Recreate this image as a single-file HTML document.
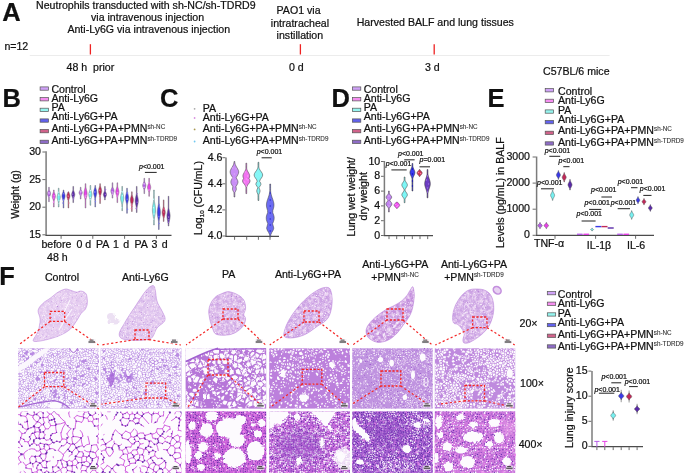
<!DOCTYPE html><html><head><meta charset="utf-8"><style>html,body{margin:0;padding:0;background:#fff;overflow:hidden}body{width:685px;height:473px}svg{display:block;will-change:transform}text{font-family:"Liberation Sans",sans-serif;stroke:#111;stroke-width:0.22px}</style></head><body><svg width="685" height="473" viewBox="0 0 685 473" font-family="Liberation Sans, sans-serif" font-size="10.6" fill="#111"><defs><clipPath id="c1_0"><rect x="18.0" y="348.3" width="81.0" height="60.3"/></clipPath><clipPath id="c2_0"><rect x="18.0" y="411.4" width="81.0" height="62.0"/></clipPath><clipPath id="c1_1"><rect x="100.7" y="348.3" width="80.8" height="60.3"/></clipPath><clipPath id="c2_1"><rect x="100.7" y="411.4" width="80.8" height="62.0"/></clipPath><clipPath id="c1_2"><rect x="185.6" y="348.3" width="80.6" height="60.3"/></clipPath><clipPath id="c2_2"><rect x="185.6" y="411.4" width="80.6" height="62.0"/></clipPath><clipPath id="c1_3"><rect x="269.2" y="348.3" width="80.8" height="60.3"/></clipPath><clipPath id="c2_3"><rect x="269.2" y="411.4" width="80.8" height="62.0"/></clipPath><clipPath id="c1_4"><rect x="352.2" y="348.3" width="80.5" height="60.3"/></clipPath><clipPath id="c2_4"><rect x="352.2" y="411.4" width="80.5" height="62.0"/></clipPath><clipPath id="c1_5"><rect x="434.8" y="348.3" width="80.4" height="60.3"/></clipPath><clipPath id="c2_5"><rect x="434.8" y="411.4" width="80.4" height="62.0"/></clipPath><filter id="rough" x="-0.1" y="-0.1" width="1.2" height="1.2"><feTurbulence type="fractalNoise" baseFrequency="0.35" numOctaves="2" seed="7"/><feDisplacementMap in="SourceGraphic" scale="3.5" xChannelSelector="R" yChannelSelector="G"/></filter><filter id="goo" x="-0.05" y="-0.05" width="1.1" height="1.1"><feGaussianBlur stdDeviation="0.55"/><feComponentTransfer><feFuncA type="linear" slope="5" intercept="-2.1"/></feComponentTransfer></filter><filter id="org" x="-0.05" y="-0.05" width="1.1" height="1.1"><feTurbulence type="fractalNoise" baseFrequency="0.5" numOctaves="1" seed="3"/><feDisplacementMap in="SourceGraphic" scale="2.2" xChannelSelector="R" yChannelSelector="G"/><feGaussianBlur stdDeviation="0.3"/></filter><filter id="soft" x="-0.05" y="-0.05" width="1.1" height="1.1"><feGaussianBlur stdDeviation="0.35"/></filter><filter id="blur1" x="-0.5" y="-0.5" width="2" height="2"><feGaussianBlur stdDeviation="1"/></filter><filter id="blur2" x="-0.5" y="-0.5" width="2" height="2"><feGaussianBlur stdDeviation="2"/></filter><filter id="blur4" x="-0.5" y="-0.5" width="2" height="2"><feGaussianBlur stdDeviation="4"/></filter><pattern id="holesPA" width="36" height="36" patternUnits="userSpaceOnUse"><g fill="#fdfbfe"><circle cx="3.1" cy="8.5" r="1.33"/><circle cx="28.8" cy="21.0" r="0.86"/><circle cx="3.4" cy="15.6" r="0.95"/><circle cx="17.2" cy="5.8" r="0.64"/><circle cx="26.4" cy="4.1" r="1.50"/><circle cx="14.1" cy="18.6" r="0.81"/><circle cx="26.6" cy="34.4" r="1.48"/><circle cx="25.1" cy="10.5" r="0.95"/><circle cx="0.1" cy="-1.0" r="1.21"/><circle cx="0.1" cy="35.0" r="1.21"/><circle cx="36.1" cy="-1.0" r="1.21"/><circle cx="36.1" cy="35.0" r="1.21"/><circle cx="10.7" cy="11.3" r="1.10"/><circle cx="32.1" cy="21.1" r="1.39"/><circle cx="17.0" cy="27.8" r="1.21"/><circle cx="13.5" cy="3.3" r="1.41"/><circle cx="24.6" cy="29.5" r="1.24"/><circle cx="31.6" cy="3.7" r="1.05"/><circle cx="30.6" cy="14.2" r="0.78"/><circle cx="31.4" cy="9.9" r="1.33"/><circle cx="20.2" cy="14.4" r="0.73"/><circle cx="22.1" cy="7.1" r="1.00"/><circle cx="6.5" cy="26.9" r="0.81"/><circle cx="33.2" cy="7.4" r="1.32"/><circle cx="21.8" cy="34.9" r="1.06"/><circle cx="28.3" cy="28.4" r="0.61"/><circle cx="7.7" cy="19.6" r="1.36"/><circle cx="21.2" cy="24.1" r="1.46"/><circle cx="24.1" cy="18.8" r="1.44"/><circle cx="17.3" cy="19.3" r="0.82"/><circle cx="0.7" cy="19.0" r="1.21"/><circle cx="36.7" cy="19.0" r="1.21"/><circle cx="14.0" cy="13.7" r="1.02"/><circle cx="34.1" cy="30.3" r="1.18"/><circle cx="17.4" cy="12.3" r="1.22"/><circle cx="21.0" cy="3.8" r="0.94"/><circle cx="14.6" cy="24.0" r="0.77"/><circle cx="12.0" cy="7.1" r="1.32"/><circle cx="-0.0" cy="5.2" r="1.24"/><circle cx="36.0" cy="5.2" r="1.24"/><circle cx="19.3" cy="31.7" r="1.45"/><circle cx="14.6" cy="9.5" r="1.33"/><circle cx="0.0" cy="12.3" r="1.24"/><circle cx="36.0" cy="12.3" r="1.24"/><circle cx="27.7" cy="24.7" r="0.96"/><circle cx="31.6" cy="24.6" r="1.03"/><circle cx="28.3" cy="17.3" r="0.96"/><circle cx="2.8" cy="31.2" r="0.98"/><circle cx="31.5" cy="-1.4" r="1.44"/><circle cx="31.5" cy="34.6" r="1.44"/><circle cx="6.0" cy="22.2" r="1.49"/><circle cx="32.8" cy="18.0" r="1.34"/><circle cx="6.7" cy="-0.2" r="0.96"/><circle cx="6.7" cy="35.8" r="0.96"/><circle cx="15.4" cy="33.9" r="1.37"/><circle cx="4.3" cy="34.0" r="0.73"/><circle cx="29.8" cy="6.5" r="0.83"/><circle cx="0.7" cy="2.0" r="1.10"/><circle cx="36.7" cy="2.0" r="1.10"/><circle cx="2.7" cy="21.4" r="1.38"/><circle cx="7.9" cy="5.6" r="1.00"/><circle cx="12.5" cy="21.3" r="0.60"/><circle cx="17.7" cy="16.2" r="0.91"/><circle cx="28.3" cy="1.4" r="1.01"/><circle cx="4.2" cy="11.7" r="1.37"/><circle cx="19.1" cy="9.1" r="1.31"/><circle cx="9.4" cy="2.4" r="1.13"/><circle cx="12.0" cy="-0.3" r="1.05"/><circle cx="12.0" cy="35.7" r="1.05"/><circle cx="7.8" cy="10.2" r="1.23"/><circle cx="21.3" cy="17.5" r="0.64"/><circle cx="11.0" cy="31.5" r="0.79"/><circle cx="29.9" cy="31.2" r="0.64"/><circle cx="7.6" cy="15.0" r="1.14"/><circle cx="20.4" cy="20.6" r="0.93"/><circle cx="28.6" cy="11.3" r="1.21"/><circle cx="17.6" cy="24.6" r="1.45"/><circle cx="-0.9" cy="21.5" r="1.24"/><circle cx="35.1" cy="21.5" r="1.24"/><circle cx="16.8" cy="2.0" r="1.34"/><circle cx="0.3" cy="15.4" r="1.38"/><circle cx="36.3" cy="15.4" r="1.38"/><circle cx="10.7" cy="15.7" r="1.25"/><circle cx="0.8" cy="28.8" r="0.88"/><circle cx="36.8" cy="28.8" r="0.88"/><circle cx="3.7" cy="1.4" r="0.65"/><circle cx="25.1" cy="7.2" r="1.08"/></g></pattern><pattern id="holesS" width="30" height="30" patternUnits="userSpaceOnUse"><g fill="#fdfbfe"><circle cx="28.3" cy="15.3" r="0.54"/><circle cx="29.3" cy="2.4" r="0.56"/><circle cx="24.1" cy="5.2" r="0.72"/><circle cx="26.1" cy="16.3" r="0.72"/><circle cx="12.9" cy="23.7" r="0.38"/><circle cx="29.1" cy="27.9" r="0.89"/><circle cx="21.1" cy="28.3" r="0.38"/><circle cx="20.0" cy="4.0" r="0.82"/><circle cx="14.9" cy="14.8" r="0.70"/><circle cx="15.0" cy="28.8" r="0.45"/><circle cx="10.5" cy="6.7" r="0.77"/><circle cx="15.7" cy="19.2" r="0.41"/><circle cx="14.3" cy="6.5" r="0.59"/><circle cx="20.8" cy="23.1" r="0.53"/><circle cx="5.7" cy="13.8" r="0.84"/><circle cx="26.5" cy="11.5" r="0.65"/><circle cx="24.6" cy="8.3" r="0.84"/><circle cx="11.3" cy="10.4" r="0.52"/><circle cx="3.2" cy="11.8" r="0.83"/><circle cx="23.6" cy="18.7" r="0.48"/><circle cx="2.1" cy="21.0" r="0.59"/><circle cx="11.1" cy="15.0" r="0.73"/><circle cx="10.1" cy="19.0" r="0.89"/><circle cx="1.9" cy="6.8" r="0.49"/><circle cx="20.0" cy="14.6" r="0.50"/><circle cx="28.0" cy="17.7" r="0.58"/><circle cx="2.8" cy="4.4" r="0.83"/><circle cx="20.8" cy="9.7" r="0.71"/><circle cx="22.7" cy="15.3" r="0.47"/><circle cx="5.5" cy="8.5" r="0.89"/><circle cx="27.2" cy="24.4" r="0.64"/><circle cx="1.9" cy="23.7" r="0.57"/><circle cx="2.5" cy="28.2" r="0.46"/><circle cx="7.0" cy="16.1" r="0.52"/><circle cx="24.9" cy="-0.4" r="0.81"/><circle cx="24.9" cy="29.6" r="0.81"/><circle cx="27.8" cy="20.8" r="0.75"/><circle cx="28.0" cy="0.6" r="0.61"/><circle cx="28.0" cy="30.6" r="0.61"/><circle cx="29.0" cy="5.1" r="0.44"/><circle cx="18.7" cy="7.7" r="0.88"/><circle cx="26.9" cy="4.0" r="0.40"/><circle cx="17.6" cy="26.7" r="0.80"/><circle cx="24.3" cy="21.2" r="0.87"/><circle cx="4.2" cy="24.2" r="0.45"/><circle cx="7.5" cy="7.7" r="0.41"/><circle cx="7.6" cy="18.8" r="0.51"/><circle cx="5.8" cy="21.2" r="0.60"/><circle cx="9.9" cy="1.0" r="0.67"/><circle cx="12.1" cy="12.6" r="0.88"/><circle cx="16.8" cy="22.8" r="0.67"/><circle cx="15.3" cy="25.6" r="0.90"/><circle cx="10.7" cy="21.6" r="0.83"/><circle cx="7.7" cy="4.9" r="0.60"/><circle cx="0.8" cy="-0.2" r="0.83"/><circle cx="0.8" cy="29.8" r="0.83"/><circle cx="30.8" cy="-0.2" r="0.83"/><circle cx="30.8" cy="29.8" r="0.83"/><circle cx="4.9" cy="27.4" r="0.79"/><circle cx="7.0" cy="0.1" r="0.47"/><circle cx="7.0" cy="30.1" r="0.47"/><circle cx="0.4" cy="25.9" r="0.39"/><circle cx="30.4" cy="25.9" r="0.39"/><circle cx="19.3" cy="0.8" r="0.87"/><circle cx="19.3" cy="30.8" r="0.87"/><circle cx="6.2" cy="11.2" r="0.73"/><circle cx="28.8" cy="22.9" r="0.79"/><circle cx="0.1" cy="13.8" r="0.54"/><circle cx="30.1" cy="13.8" r="0.54"/><circle cx="21.0" cy="17.6" r="0.82"/><circle cx="2.7" cy="15.9" r="0.77"/><circle cx="6.6" cy="23.4" r="0.77"/><circle cx="17.2" cy="5.9" r="0.75"/><circle cx="24.6" cy="2.7" r="0.56"/><circle cx="16.6" cy="0.4" r="0.37"/><circle cx="16.6" cy="30.4" r="0.37"/><circle cx="5.5" cy="4.3" r="0.86"/><circle cx="21.0" cy="20.8" r="0.41"/><circle cx="18.3" cy="20.3" r="0.77"/><circle cx="26.9" cy="7.7" r="0.86"/><circle cx="12.7" cy="17.4" r="0.65"/><circle cx="15.4" cy="9.0" r="0.49"/><circle cx="0.2" cy="17.2" r="0.69"/><circle cx="30.2" cy="17.2" r="0.69"/><circle cx="9.5" cy="9.0" r="0.64"/><circle cx="4.2" cy="-0.2" r="0.76"/><circle cx="4.2" cy="29.8" r="0.76"/><circle cx="12.5" cy="8.1" r="0.83"/><circle cx="25.1" cy="23.7" r="0.49"/><circle cx="19.9" cy="26.3" r="0.43"/><circle cx="18.7" cy="24.0" r="0.81"/><circle cx="11.2" cy="25.4" r="0.46"/><circle cx="6.9" cy="25.8" r="0.52"/></g></pattern><pattern id="nuc" width="24" height="24" patternUnits="userSpaceOnUse"><g fill="#5e2ca6"><circle cx="19.3" cy="19.4" r="0.69"/><circle cx="12.4" cy="6.9" r="0.49"/><circle cx="1.3" cy="9.2" r="0.68"/><circle cx="9.8" cy="1.1" r="0.67"/><circle cx="1.2" cy="-0.0" r="0.56"/><circle cx="1.2" cy="24.0" r="0.56"/><circle cx="15.7" cy="5.6" r="0.50"/><circle cx="10.4" cy="23.4" r="0.55"/><circle cx="21.5" cy="20.3" r="0.59"/><circle cx="16.2" cy="1.5" r="0.61"/><circle cx="16.3" cy="20.9" r="0.47"/><circle cx="5.5" cy="21.5" r="0.43"/><circle cx="12.1" cy="10.5" r="0.57"/><circle cx="4.9" cy="7.8" r="0.70"/><circle cx="19.3" cy="7.6" r="0.57"/><circle cx="3.6" cy="16.8" r="0.49"/><circle cx="10.8" cy="19.2" r="0.48"/><circle cx="19.2" cy="12.2" r="0.48"/><circle cx="0.3" cy="22.4" r="0.42"/><circle cx="24.3" cy="22.4" r="0.42"/><circle cx="8.8" cy="22.8" r="0.50"/><circle cx="16.4" cy="11.1" r="0.67"/><circle cx="5.3" cy="15.4" r="0.64"/><circle cx="15.2" cy="9.0" r="0.58"/><circle cx="19.2" cy="4.7" r="0.68"/><circle cx="9.1" cy="17.1" r="0.60"/><circle cx="14.7" cy="22.6" r="0.54"/><circle cx="-0.2" cy="17.4" r="0.47"/><circle cx="23.8" cy="17.4" r="0.47"/><circle cx="22.2" cy="7.9" r="0.71"/><circle cx="-0.3" cy="4.5" r="0.60"/><circle cx="23.7" cy="4.5" r="0.60"/><circle cx="3.4" cy="12.7" r="0.62"/><circle cx="6.2" cy="11.8" r="0.55"/><circle cx="13.3" cy="2.6" r="0.54"/><circle cx="21.4" cy="11.5" r="0.71"/><circle cx="10.9" cy="16.0" r="0.62"/><circle cx="19.0" cy="9.6" r="0.68"/><circle cx="14.3" cy="17.7" r="0.46"/><circle cx="12.1" cy="17.4" r="0.46"/><circle cx="11.9" cy="1.2" r="0.70"/><circle cx="1.0" cy="12.7" r="0.47"/><circle cx="17.5" cy="12.6" r="0.59"/><circle cx="13.5" cy="11.8" r="0.54"/><circle cx="13.3" cy="16.1" r="0.43"/><circle cx="6.3" cy="1.1" r="0.58"/><circle cx="1.6" cy="4.6" r="0.65"/><circle cx="17.6" cy="6.0" r="0.53"/><circle cx="2.2" cy="22.4" r="0.46"/><circle cx="0.0" cy="1.5" r="0.55"/><circle cx="24.0" cy="1.5" r="0.55"/><circle cx="5.2" cy="10.0" r="0.68"/><circle cx="21.4" cy="5.8" r="0.60"/><circle cx="7.7" cy="15.0" r="0.53"/><circle cx="1.4" cy="6.7" r="0.65"/><circle cx="19.2" cy="0.5" r="0.70"/><circle cx="19.2" cy="24.5" r="0.70"/><circle cx="21.4" cy="22.8" r="0.65"/><circle cx="16.4" cy="18.9" r="0.55"/><circle cx="11.4" cy="21.1" r="0.61"/><circle cx="4.4" cy="20.1" r="0.57"/><circle cx="17.6" cy="-0.2" r="0.49"/><circle cx="17.6" cy="23.8" r="0.49"/><circle cx="14.1" cy="4.4" r="0.53"/><circle cx="15.6" cy="14.0" r="0.52"/><circle cx="10.2" cy="5.2" r="0.52"/><circle cx="13.6" cy="13.8" r="0.71"/><circle cx="11.0" cy="3.6" r="0.71"/><circle cx="6.7" cy="17.7" r="0.58"/><circle cx="22.6" cy="9.6" r="0.59"/><circle cx="7.0" cy="22.3" r="0.68"/><circle cx="8.6" cy="2.5" r="0.70"/><circle cx="1.5" cy="18.3" r="0.55"/><circle cx="1.9" cy="1.7" r="0.71"/><circle cx="3.2" cy="14.9" r="0.66"/><circle cx="21.6" cy="14.3" r="0.64"/><circle cx="3.1" cy="6.2" r="0.71"/><circle cx="20.0" cy="16.9" r="0.54"/><circle cx="6.5" cy="6.4" r="0.44"/><circle cx="14.0" cy="0.2" r="0.69"/><circle cx="14.0" cy="24.2" r="0.69"/><circle cx="4.4" cy="1.7" r="0.60"/><circle cx="0.5" cy="15.0" r="0.60"/><circle cx="24.5" cy="15.0" r="0.60"/><circle cx="19.9" cy="15.0" r="0.51"/><circle cx="7.1" cy="3.3" r="0.61"/><circle cx="18.2" cy="2.2" r="0.48"/><circle cx="7.8" cy="12.9" r="0.54"/><circle cx="8.6" cy="7.9" r="0.66"/><circle cx="12.2" cy="5.0" r="0.45"/><circle cx="11.6" cy="12.4" r="0.69"/><circle cx="17.0" cy="9.5" r="0.43"/><circle cx="5.0" cy="18.2" r="0.50"/><circle cx="17.6" cy="7.8" r="0.48"/><circle cx="18.1" cy="18.0" r="0.43"/><circle cx="17.9" cy="14.3" r="0.47"/><circle cx="20.2" cy="21.5" r="0.43"/><circle cx="6.4" cy="19.7" r="0.70"/><circle cx="13.4" cy="8.5" r="0.66"/><circle cx="20.0" cy="3.1" r="0.60"/><circle cx="12.2" cy="22.8" r="0.59"/><circle cx="3.4" cy="4.2" r="0.66"/><circle cx="22.7" cy="12.9" r="0.52"/><circle cx="6.8" cy="8.1" r="0.45"/><circle cx="13.3" cy="21.4" r="0.66"/><circle cx="7.6" cy="0.0" r="0.68"/><circle cx="7.6" cy="24.0" r="0.68"/><circle cx="5.7" cy="13.5" r="0.46"/><circle cx="3.3" cy="10.2" r="0.68"/></g></pattern><pattern id="nuc2" width="24" height="24" patternUnits="userSpaceOnUse"><g fill="#6a32b2"><circle cx="12.9" cy="8.2" r="0.75"/><circle cx="8.9" cy="9.0" r="0.69"/><circle cx="16.2" cy="7.9" r="0.58"/><circle cx="16.3" cy="3.0" r="0.48"/><circle cx="1.2" cy="20.4" r="0.52"/><circle cx="0.2" cy="23.5" r="0.51"/><circle cx="24.2" cy="23.5" r="0.51"/><circle cx="19.8" cy="18.8" r="0.69"/><circle cx="1.2" cy="5.0" r="0.53"/><circle cx="20.4" cy="10.4" r="0.63"/><circle cx="4.5" cy="11.9" r="0.72"/><circle cx="18.2" cy="13.0" r="0.56"/><circle cx="10.0" cy="21.3" r="0.46"/><circle cx="10.9" cy="12.9" r="0.57"/><circle cx="23.3" cy="6.6" r="0.64"/><circle cx="21.5" cy="8.7" r="0.63"/><circle cx="7.5" cy="21.2" r="0.49"/><circle cx="19.9" cy="21.5" r="0.48"/><circle cx="19.2" cy="23.4" r="0.59"/><circle cx="6.6" cy="10.8" r="0.74"/><circle cx="7.5" cy="18.8" r="0.56"/><circle cx="17.4" cy="19.4" r="0.67"/><circle cx="3.7" cy="23.0" r="0.58"/><circle cx="2.0" cy="17.6" r="0.58"/><circle cx="19.6" cy="4.8" r="0.62"/><circle cx="11.1" cy="3.0" r="0.64"/><circle cx="14.1" cy="23.2" r="0.63"/><circle cx="2.8" cy="13.8" r="0.49"/><circle cx="13.2" cy="20.9" r="0.47"/><circle cx="17.0" cy="10.8" r="0.57"/><circle cx="16.6" cy="4.8" r="0.47"/><circle cx="13.4" cy="18.3" r="0.53"/><circle cx="0.3" cy="9.2" r="0.65"/><circle cx="24.3" cy="9.2" r="0.65"/><circle cx="5.7" cy="1.0" r="0.51"/><circle cx="14.5" cy="6.0" r="0.51"/><circle cx="12.5" cy="14.9" r="0.50"/><circle cx="21.5" cy="22.5" r="0.74"/><circle cx="6.3" cy="5.9" r="0.54"/><circle cx="1.6" cy="7.8" r="0.53"/><circle cx="15.4" cy="21.0" r="0.50"/><circle cx="22.9" cy="17.7" r="0.72"/><circle cx="19.3" cy="8.3" r="0.58"/><circle cx="5.0" cy="14.8" r="0.73"/><circle cx="6.9" cy="3.7" r="0.58"/><circle cx="1.4" cy="11.1" r="0.54"/><circle cx="3.9" cy="4.0" r="0.70"/><circle cx="16.4" cy="22.7" r="0.73"/><circle cx="20.7" cy="13.2" r="0.45"/><circle cx="18.3" cy="16.2" r="0.66"/><circle cx="0.2" cy="2.6" r="0.48"/><circle cx="24.2" cy="2.6" r="0.48"/><circle cx="14.4" cy="3.6" r="0.57"/><circle cx="14.4" cy="16.5" r="0.70"/><circle cx="7.8" cy="14.0" r="0.66"/><circle cx="9.9" cy="0.7" r="0.53"/><circle cx="15.5" cy="12.1" r="0.71"/><circle cx="23.0" cy="20.7" r="0.50"/><circle cx="22.6" cy="3.6" r="0.47"/><circle cx="11.8" cy="6.0" r="0.46"/><circle cx="5.3" cy="20.3" r="0.67"/><circle cx="8.4" cy="5.4" r="0.68"/><circle cx="10.0" cy="7.2" r="0.46"/><circle cx="17.5" cy="1.0" r="0.73"/><circle cx="12.9" cy="2.4" r="0.70"/><circle cx="12.2" cy="10.6" r="0.64"/><circle cx="20.9" cy="0.4" r="0.70"/><circle cx="20.9" cy="24.4" r="0.70"/><circle cx="8.7" cy="11.0" r="0.73"/><circle cx="7.8" cy="0.0" r="0.53"/><circle cx="7.8" cy="24.0" r="0.53"/><circle cx="3.2" cy="1.0" r="0.66"/><circle cx="13.5" cy="13.1" r="0.50"/><circle cx="21.2" cy="6.2" r="0.75"/><circle cx="22.7" cy="1.0" r="0.55"/><circle cx="11.2" cy="18.1" r="0.48"/><circle cx="16.6" cy="17.6" r="0.69"/><circle cx="12.0" cy="23.1" r="0.52"/><circle cx="17.7" cy="6.8" r="0.66"/></g></pattern><pattern id="wsp" width="20" height="20" patternUnits="userSpaceOnUse"><g fill="#fdfbfe"><circle cx="15.5" cy="4.5" r="0.59"/><circle cx="10.1" cy="11.1" r="0.52"/><circle cx="12.4" cy="-0.2" r="0.38"/><circle cx="12.4" cy="19.8" r="0.38"/><circle cx="4.3" cy="3.2" r="0.68"/><circle cx="12.6" cy="10.3" r="0.63"/><circle cx="9.9" cy="5.0" r="0.65"/><circle cx="0.2" cy="3.8" r="0.66"/><circle cx="20.2" cy="3.8" r="0.66"/><circle cx="6.5" cy="3.0" r="0.50"/><circle cx="-0.4" cy="11.8" r="0.67"/><circle cx="19.6" cy="11.8" r="0.67"/><circle cx="12.1" cy="12.8" r="0.37"/><circle cx="8.0" cy="1.9" r="0.74"/><circle cx="13.4" cy="6.0" r="0.44"/><circle cx="17.5" cy="13.2" r="0.60"/><circle cx="18.9" cy="18.1" r="0.72"/><circle cx="3.8" cy="18.6" r="0.43"/><circle cx="6.4" cy="15.0" r="0.42"/><circle cx="4.0" cy="7.3" r="0.64"/><circle cx="19.0" cy="8.9" r="0.35"/><circle cx="14.9" cy="11.6" r="0.66"/><circle cx="5.0" cy="16.1" r="0.60"/><circle cx="9.3" cy="12.6" r="0.64"/><circle cx="15.3" cy="16.3" r="0.50"/><circle cx="14.6" cy="2.3" r="0.40"/><circle cx="4.3" cy="4.9" r="0.57"/><circle cx="2.6" cy="2.7" r="0.62"/><circle cx="18.1" cy="5.4" r="0.61"/><circle cx="5.3" cy="10.7" r="0.65"/><circle cx="11.0" cy="14.4" r="0.66"/><circle cx="12.0" cy="1.3" r="0.64"/><circle cx="1.8" cy="19.3" r="0.40"/><circle cx="11.9" cy="4.4" r="0.44"/><circle cx="4.9" cy="12.9" r="0.36"/><circle cx="9.8" cy="2.8" r="0.44"/><circle cx="1.3" cy="11.9" r="0.49"/><circle cx="17.3" cy="17.3" r="0.55"/><circle cx="18.0" cy="7.2" r="0.74"/><circle cx="16.6" cy="6.0" r="0.73"/><circle cx="8.3" cy="6.4" r="0.54"/><circle cx="7.1" cy="9.8" r="0.57"/><circle cx="16.2" cy="1.1" r="0.66"/></g></pattern><pattern id="wsp2" width="22" height="22" patternUnits="userSpaceOnUse"><g fill="#fdfbfe"><circle cx="4.2" cy="3.9" r="0.75"/><circle cx="1.4" cy="20.6" r="0.72"/><circle cx="17.1" cy="4.4" r="0.65"/><circle cx="3.0" cy="16.8" r="0.73"/><circle cx="9.2" cy="7.1" r="0.63"/><circle cx="11.8" cy="12.3" r="0.73"/><circle cx="19.9" cy="6.2" r="0.48"/><circle cx="19.8" cy="11.0" r="0.41"/><circle cx="6.8" cy="15.2" r="0.78"/><circle cx="15.3" cy="17.2" r="0.81"/><circle cx="10.1" cy="17.5" r="0.49"/><circle cx="17.1" cy="6.4" r="0.81"/><circle cx="15.3" cy="5.4" r="0.73"/><circle cx="6.9" cy="12.0" r="0.42"/><circle cx="12.7" cy="7.5" r="0.44"/><circle cx="0.2" cy="4.4" r="0.87"/><circle cx="22.2" cy="4.4" r="0.87"/><circle cx="11.9" cy="3.6" r="0.63"/><circle cx="9.5" cy="12.9" r="0.85"/><circle cx="7.9" cy="20.3" r="0.80"/><circle cx="6.7" cy="8.6" r="0.43"/><circle cx="21.4" cy="-0.3" r="0.47"/><circle cx="21.4" cy="21.7" r="0.47"/><circle cx="17.7" cy="18.0" r="0.52"/><circle cx="14.9" cy="14.1" r="0.65"/><circle cx="9.5" cy="3.7" r="0.76"/><circle cx="1.0" cy="1.1" r="0.41"/><circle cx="3.5" cy="-0.1" r="0.79"/><circle cx="3.5" cy="21.9" r="0.79"/><circle cx="11.9" cy="-0.1" r="0.54"/><circle cx="11.9" cy="21.9" r="0.54"/><circle cx="18.7" cy="8.0" r="0.72"/><circle cx="12.0" cy="5.6" r="0.52"/></g></pattern><pattern id="wsp3" width="22" height="22" patternUnits="userSpaceOnUse"><g fill="#fdfbfe"><circle cx="19.0" cy="18.8" r="0.90"/><circle cx="17.8" cy="5.8" r="0.47"/><circle cx="1.7" cy="20.8" r="0.53"/><circle cx="20.0" cy="-0.3" r="0.70"/><circle cx="20.0" cy="21.7" r="0.70"/><circle cx="11.4" cy="2.6" r="0.97"/><circle cx="17.9" cy="11.0" r="0.94"/><circle cx="-0.5" cy="11.8" r="0.58"/><circle cx="21.5" cy="11.8" r="0.58"/><circle cx="16.2" cy="-0.2" r="0.97"/><circle cx="16.2" cy="21.8" r="0.97"/><circle cx="0.7" cy="13.2" r="0.95"/><circle cx="22.7" cy="13.2" r="0.95"/><circle cx="-0.7" cy="2.6" r="0.98"/><circle cx="21.3" cy="2.6" r="0.98"/><circle cx="16.3" cy="7.1" r="0.77"/><circle cx="14.5" cy="10.0" r="0.89"/><circle cx="2.7" cy="13.3" r="0.82"/><circle cx="16.4" cy="16.4" r="0.59"/><circle cx="12.1" cy="20.4" r="0.54"/><circle cx="20.8" cy="19.2" r="0.56"/><circle cx="8.2" cy="5.9" r="0.64"/><circle cx="11.7" cy="14.4" r="0.68"/><circle cx="9.2" cy="8.8" r="0.79"/><circle cx="13.2" cy="4.1" r="0.46"/><circle cx="7.1" cy="14.7" r="0.99"/><circle cx="12.2" cy="7.8" r="0.64"/><circle cx="10.0" cy="15.1" r="0.93"/><circle cx="8.6" cy="4.0" r="0.85"/><circle cx="10.5" cy="19.7" r="0.56"/><circle cx="11.7" cy="5.7" r="0.66"/><circle cx="14.0" cy="7.5" r="0.83"/><circle cx="20.9" cy="9.6" r="0.71"/><circle cx="0.9" cy="16.4" r="0.57"/><circle cx="4.0" cy="16.5" r="0.59"/><circle cx="20.0" cy="17.1" r="0.59"/><circle cx="6.3" cy="10.9" r="0.70"/><circle cx="6.4" cy="20.4" r="0.80"/><circle cx="14.0" cy="14.3" r="0.71"/><circle cx="11.6" cy="0.1" r="0.71"/><circle cx="11.6" cy="22.1" r="0.71"/><circle cx="14.0" cy="2.6" r="0.56"/><circle cx="5.9" cy="2.6" r="0.91"/><circle cx="2.6" cy="18.2" r="0.93"/><circle cx="9.7" cy="1.9" r="0.61"/><circle cx="11.0" cy="11.9" r="0.72"/><circle cx="8.5" cy="10.8" r="0.82"/><circle cx="19.1" cy="7.4" r="0.54"/><circle cx="2.9" cy="11.4" r="0.70"/><circle cx="10.2" cy="17.1" r="0.57"/><circle cx="0.9" cy="5.8" r="0.88"/><circle cx="22.9" cy="5.8" r="0.88"/><circle cx="1.7" cy="3.3" r="0.63"/><circle cx="14.1" cy="16.7" r="0.79"/><circle cx="16.0" cy="14.5" r="0.96"/><circle cx="4.0" cy="0.7" r="0.76"/><circle cx="4.0" cy="22.7" r="0.76"/><circle cx="6.2" cy="5.6" r="0.81"/><circle cx="16.2" cy="1.6" r="0.74"/><circle cx="4.4" cy="18.4" r="1.00"/><circle cx="17.2" cy="18.8" r="0.88"/><circle cx="-0.2" cy="17.8" r="0.76"/><circle cx="21.8" cy="17.8" r="0.76"/><circle cx="19.7" cy="3.9" r="0.89"/><circle cx="5.6" cy="15.6" r="0.97"/><circle cx="8.5" cy="20.4" r="0.55"/><circle cx="4.1" cy="2.7" r="0.66"/><circle cx="4.5" cy="20.3" r="0.97"/><circle cx="0.3" cy="0.6" r="0.84"/><circle cx="0.3" cy="22.6" r="0.84"/><circle cx="22.3" cy="0.6" r="0.84"/><circle cx="22.3" cy="22.6" r="0.84"/><circle cx="17.9" cy="-0.6" r="0.77"/><circle cx="17.9" cy="21.4" r="0.77"/><circle cx="4.5" cy="14.2" r="0.59"/><circle cx="7.2" cy="12.4" r="0.90"/><circle cx="11.9" cy="16.2" r="0.72"/><circle cx="10.3" cy="4.7" r="0.66"/><circle cx="19.7" cy="12.1" r="0.61"/><circle cx="8.7" cy="13.4" r="0.85"/><circle cx="16.2" cy="9.7" r="0.75"/><circle cx="17.7" cy="12.7" r="0.96"/></g></pattern><pattern id="wsp4" width="22" height="22" patternUnits="userSpaceOnUse"><g fill="#fdfbfe"><circle cx="18.3" cy="7.9" r="0.64"/><circle cx="15.5" cy="18.9" r="0.59"/><circle cx="16.8" cy="15.8" r="0.88"/><circle cx="16.4" cy="1.4" r="0.84"/><circle cx="14.2" cy="16.2" r="0.78"/><circle cx="8.8" cy="11.2" r="0.78"/><circle cx="12.1" cy="9.3" r="0.62"/><circle cx="14.7" cy="0.7" r="0.93"/><circle cx="14.7" cy="22.7" r="0.93"/><circle cx="3.4" cy="19.2" r="0.71"/><circle cx="3.5" cy="0.6" r="0.48"/><circle cx="20.4" cy="16.6" r="0.82"/><circle cx="16.6" cy="3.6" r="0.77"/><circle cx="4.2" cy="4.0" r="0.44"/><circle cx="-0.0" cy="19.7" r="0.94"/><circle cx="22.0" cy="19.7" r="0.94"/><circle cx="8.7" cy="15.9" r="0.43"/><circle cx="-0.2" cy="13.9" r="0.92"/><circle cx="21.8" cy="13.9" r="0.92"/><circle cx="2.6" cy="11.6" r="0.44"/><circle cx="10.9" cy="1.7" r="0.82"/><circle cx="7.3" cy="6.7" r="0.58"/><circle cx="20.1" cy="5.3" r="0.51"/><circle cx="16.9" cy="12.8" r="0.65"/><circle cx="13.4" cy="19.1" r="0.82"/><circle cx="4.7" cy="11.3" r="0.49"/><circle cx="17.9" cy="18.4" r="0.76"/><circle cx="6.9" cy="14.5" r="0.48"/><circle cx="17.2" cy="-0.2" r="0.47"/><circle cx="17.2" cy="21.8" r="0.47"/><circle cx="1.8" cy="13.8" r="0.44"/><circle cx="5.2" cy="6.9" r="0.72"/><circle cx="3.7" cy="5.8" r="0.77"/><circle cx="18.2" cy="2.4" r="0.95"/><circle cx="20.4" cy="8.1" r="0.79"/><circle cx="11.6" cy="14.8" r="0.43"/><circle cx="8.0" cy="9.1" r="0.70"/><circle cx="0.6" cy="11.3" r="0.94"/><circle cx="22.6" cy="11.3" r="0.94"/><circle cx="18.6" cy="16.0" r="0.81"/><circle cx="8.0" cy="20.7" r="0.59"/><circle cx="14.6" cy="14.2" r="0.57"/><circle cx="8.6" cy="1.9" r="0.77"/><circle cx="19.7" cy="20.4" r="0.55"/><circle cx="20.0" cy="14.0" r="0.66"/><circle cx="20.4" cy="18.3" r="0.73"/><circle cx="20.9" cy="11.8" r="0.60"/><circle cx="10.8" cy="6.0" r="0.91"/><circle cx="7.6" cy="18.9" r="0.75"/><circle cx="2.3" cy="3.0" r="0.79"/><circle cx="12.0" cy="3.9" r="0.86"/><circle cx="6.1" cy="8.4" r="0.80"/><circle cx="2.0" cy="9.1" r="0.58"/><circle cx="11.7" cy="20.4" r="0.59"/><circle cx="8.6" cy="14.1" r="0.43"/><circle cx="15.6" cy="7.6" r="0.71"/><circle cx="6.3" cy="-0.0" r="0.76"/><circle cx="6.3" cy="22.0" r="0.76"/><circle cx="9.4" cy="-0.3" r="0.75"/><circle cx="9.4" cy="21.7" r="0.75"/><circle cx="12.2" cy="17.9" r="0.55"/><circle cx="9.0" cy="6.4" r="0.73"/><circle cx="0.6" cy="15.6" r="0.65"/><circle cx="22.6" cy="15.6" r="0.65"/><circle cx="1.6" cy="19.1" r="0.49"/></g></pattern><pattern id="wsp5" width="22" height="22" patternUnits="userSpaceOnUse"><g fill="#fdfbfe"><circle cx="7.6" cy="1.0" r="0.68"/><circle cx="12.6" cy="3.2" r="0.51"/><circle cx="15.8" cy="7.6" r="0.61"/><circle cx="12.2" cy="20.7" r="0.53"/><circle cx="8.6" cy="5.1" r="0.90"/><circle cx="8.0" cy="12.9" r="0.68"/><circle cx="5.7" cy="14.8" r="0.49"/><circle cx="1.7" cy="5.4" r="0.63"/><circle cx="0.9" cy="7.5" r="0.86"/><circle cx="19.8" cy="2.0" r="0.50"/><circle cx="13.7" cy="7.7" r="0.83"/><circle cx="0.6" cy="17.0" r="0.90"/><circle cx="22.6" cy="17.0" r="0.90"/><circle cx="19.2" cy="20.1" r="0.73"/><circle cx="5.7" cy="8.4" r="0.71"/><circle cx="1.6" cy="15.2" r="0.73"/><circle cx="13.6" cy="10.4" r="0.85"/><circle cx="14.5" cy="4.5" r="0.56"/><circle cx="20.6" cy="-0.1" r="0.57"/><circle cx="20.6" cy="21.9" r="0.57"/><circle cx="10.9" cy="4.6" r="0.82"/><circle cx="14.8" cy="16.1" r="0.67"/><circle cx="11.4" cy="7.4" r="0.51"/><circle cx="20.9" cy="9.7" r="0.52"/><circle cx="9.5" cy="17.8" r="0.55"/><circle cx="11.4" cy="11.0" r="0.72"/><circle cx="20.4" cy="7.3" r="0.72"/><circle cx="6.9" cy="9.9" r="0.50"/><circle cx="5.0" cy="11.8" r="0.80"/><circle cx="10.0" cy="13.0" r="0.62"/><circle cx="3.6" cy="20.6" r="0.55"/><circle cx="4.3" cy="2.4" r="0.41"/><circle cx="3.6" cy="9.4" r="0.52"/><circle cx="15.7" cy="2.6" r="0.53"/><circle cx="13.7" cy="19.2" r="0.71"/><circle cx="18.1" cy="3.3" r="0.76"/><circle cx="1.5" cy="12.2" r="0.73"/><circle cx="8.3" cy="7.8" r="0.79"/><circle cx="17.7" cy="7.0" r="0.68"/><circle cx="6.6" cy="6.5" r="0.61"/><circle cx="2.7" cy="0.5" r="0.75"/><circle cx="2.7" cy="22.5" r="0.75"/><circle cx="1.8" cy="3.4" r="0.66"/><circle cx="12.7" cy="0.7" r="0.62"/><circle cx="9.5" cy="11.2" r="0.58"/><circle cx="10.4" cy="15.7" r="0.83"/><circle cx="11.1" cy="1.8" r="0.49"/></g></pattern><pattern id="lsp" width="20" height="20" patternUnits="userSpaceOnUse"><g fill="#f2e6f8"><circle cx="6.4" cy="15.8" r="0.55"/><circle cx="17.4" cy="7.8" r="0.45"/><circle cx="8.8" cy="7.5" r="0.51"/><circle cx="4.8" cy="5.1" r="0.59"/><circle cx="5.1" cy="11.8" r="0.47"/><circle cx="0.3" cy="3.6" r="0.52"/><circle cx="20.3" cy="3.6" r="0.52"/><circle cx="12.3" cy="9.0" r="0.57"/><circle cx="12.1" cy="4.5" r="0.56"/><circle cx="2.7" cy="6.6" r="0.59"/><circle cx="9.2" cy="14.4" r="0.40"/><circle cx="17.3" cy="1.0" r="0.48"/><circle cx="19.1" cy="14.4" r="0.50"/><circle cx="-0.2" cy="2.4" r="0.37"/><circle cx="19.8" cy="2.4" r="0.37"/><circle cx="14.9" cy="6.2" r="0.38"/><circle cx="9.0" cy="5.5" r="0.34"/><circle cx="9.0" cy="10.2" r="0.41"/><circle cx="11.3" cy="14.1" r="0.55"/><circle cx="9.2" cy="2.7" r="0.34"/><circle cx="5.1" cy="1.3" r="0.43"/><circle cx="7.4" cy="8.1" r="0.41"/><circle cx="9.8" cy="1.4" r="0.33"/><circle cx="5.6" cy="17.8" r="0.53"/><circle cx="5.1" cy="9.0" r="0.52"/><circle cx="3.2" cy="8.7" r="0.44"/><circle cx="8.8" cy="12.6" r="0.56"/><circle cx="16.6" cy="9.3" r="0.55"/><circle cx="14.3" cy="-0.2" r="0.55"/><circle cx="14.3" cy="19.8" r="0.55"/><circle cx="12.8" cy="1.8" r="0.46"/><circle cx="11.2" cy="7.7" r="0.36"/><circle cx="3.7" cy="16.4" r="0.38"/><circle cx="14.3" cy="16.2" r="0.50"/><circle cx="13.7" cy="5.1" r="0.46"/><circle cx="11.2" cy="17.5" r="0.45"/><circle cx="8.7" cy="0.4" r="0.35"/><circle cx="13.6" cy="14.5" r="0.49"/><circle cx="8.5" cy="15.5" r="0.49"/><circle cx="15.2" cy="1.3" r="0.36"/><circle cx="19.0" cy="7.6" r="0.41"/><circle cx="13.0" cy="7.5" r="0.51"/><circle cx="14.1" cy="8.5" r="0.49"/><circle cx="-0.0" cy="6.1" r="0.43"/><circle cx="20.0" cy="6.1" r="0.43"/><circle cx="5.3" cy="13.7" r="0.30"/><circle cx="1.5" cy="15.5" r="0.42"/><circle cx="17.9" cy="17.7" r="0.43"/><circle cx="16.1" cy="18.9" r="0.54"/><circle cx="1.1" cy="0.3" r="0.41"/><circle cx="1.1" cy="20.3" r="0.41"/><circle cx="16.8" cy="14.4" r="0.55"/><circle cx="3.3" cy="13.8" r="0.31"/><circle cx="15.0" cy="14.7" r="0.35"/><circle cx="14.7" cy="18.0" r="0.46"/><circle cx="16.0" cy="11.8" r="0.44"/><circle cx="2.1" cy="16.9" r="0.59"/><circle cx="3.6" cy="0.6" r="0.41"/><circle cx="17.3" cy="13.0" r="0.33"/><circle cx="10.7" cy="2.9" r="0.52"/><circle cx="1.0" cy="8.2" r="0.56"/><circle cx="16.5" cy="3.2" r="0.35"/><circle cx="8.7" cy="8.8" r="0.38"/><circle cx="12.7" cy="11.6" r="0.56"/><circle cx="7.2" cy="12.7" r="0.31"/><circle cx="10.4" cy="9.3" r="0.44"/><circle cx="15.8" cy="10.3" r="0.30"/><circle cx="-0.2" cy="17.7" r="0.53"/><circle cx="19.8" cy="17.7" r="0.53"/><circle cx="17.9" cy="4.5" r="0.36"/><circle cx="15.3" cy="7.8" r="0.41"/><circle cx="6.3" cy="2.0" r="0.50"/><circle cx="10.2" cy="6.1" r="0.55"/><circle cx="5.2" cy="-0.5" r="0.56"/><circle cx="5.2" cy="19.5" r="0.56"/><circle cx="11.1" cy="15.9" r="0.42"/><circle cx="-0.3" cy="1.1" r="0.42"/><circle cx="19.7" cy="1.1" r="0.42"/><circle cx="14.2" cy="11.6" r="0.59"/><circle cx="7.1" cy="17.9" r="0.45"/><circle cx="4.8" cy="10.5" r="0.33"/><circle cx="13.6" cy="2.8" r="0.41"/><circle cx="14.8" cy="4.2" r="0.44"/><circle cx="5.4" cy="3.5" r="0.47"/><circle cx="14.1" cy="10.0" r="0.50"/><circle cx="12.9" cy="17.4" r="0.50"/><circle cx="6.4" cy="9.0" r="0.41"/><circle cx="11.5" cy="11.0" r="0.34"/><circle cx="7.8" cy="14.0" r="0.58"/><circle cx="3.9" cy="6.3" r="0.34"/><circle cx="12.6" cy="15.5" r="0.41"/><circle cx="3.9" cy="2.1" r="0.41"/><circle cx="-0.3" cy="-0.5" r="0.54"/><circle cx="-0.3" cy="19.5" r="0.54"/><circle cx="19.7" cy="-0.5" r="0.54"/><circle cx="19.7" cy="19.5" r="0.54"/><circle cx="16.8" cy="5.7" r="0.54"/><circle cx="1.5" cy="18.8" r="0.59"/><circle cx="11.4" cy="1.8" r="0.45"/><circle cx="14.2" cy="13.1" r="0.47"/><circle cx="0.8" cy="14.1" r="0.37"/><circle cx="2.1" cy="1.4" r="0.46"/><circle cx="2.0" cy="4.6" r="0.57"/><circle cx="10.9" cy="-0.0" r="0.55"/><circle cx="10.9" cy="20.0" r="0.55"/><circle cx="9.0" cy="4.2" r="0.46"/><circle cx="18.6" cy="10.2" r="0.46"/><circle cx="3.4" cy="10.6" r="0.49"/><circle cx="7.9" cy="19.0" r="0.51"/><circle cx="0.5" cy="16.5" r="0.59"/><circle cx="20.5" cy="16.5" r="0.59"/><circle cx="6.5" cy="14.5" r="0.38"/><circle cx="7.8" cy="2.0" r="0.40"/><circle cx="6.1" cy="4.8" r="0.57"/><circle cx="16.1" cy="0.4" r="0.38"/><circle cx="8.2" cy="11.5" r="0.33"/></g></pattern><pattern id="dsp" width="20" height="20" patternUnits="userSpaceOnUse"><g fill="#a46ad2"><circle cx="17.4" cy="5.7" r="0.37"/><circle cx="14.3" cy="18.3" r="0.29"/><circle cx="0.5" cy="8.7" r="0.28"/><circle cx="6.3" cy="14.1" r="0.38"/><circle cx="-0.2" cy="-0.3" r="0.28"/><circle cx="-0.2" cy="19.7" r="0.28"/><circle cx="19.8" cy="-0.3" r="0.28"/><circle cx="19.8" cy="19.7" r="0.28"/><circle cx="2.7" cy="4.5" r="0.39"/><circle cx="15.6" cy="1.6" r="0.34"/><circle cx="6.4" cy="3.8" r="0.45"/><circle cx="15.3" cy="13.5" r="0.37"/><circle cx="16.0" cy="4.4" r="0.27"/><circle cx="15.6" cy="10.8" r="0.29"/><circle cx="14.4" cy="0.3" r="0.48"/><circle cx="14.4" cy="20.3" r="0.48"/><circle cx="7.5" cy="1.1" r="0.26"/><circle cx="10.2" cy="11.1" r="0.34"/><circle cx="13.4" cy="8.1" r="0.48"/><circle cx="14.6" cy="16.8" r="0.25"/><circle cx="4.3" cy="11.6" r="0.50"/><circle cx="6.8" cy="7.8" r="0.42"/><circle cx="9.8" cy="19.5" r="0.26"/><circle cx="3.1" cy="2.7" r="0.33"/><circle cx="1.2" cy="6.3" r="0.29"/><circle cx="4.2" cy="13.8" r="0.46"/><circle cx="2.9" cy="7.4" r="0.28"/><circle cx="8.1" cy="2.7" r="0.27"/><circle cx="7.3" cy="17.5" r="0.45"/><circle cx="18.6" cy="17.7" r="0.27"/><circle cx="5.7" cy="6.5" r="0.32"/><circle cx="11.9" cy="18.3" r="0.46"/><circle cx="6.3" cy="10.2" r="0.33"/><circle cx="17.3" cy="9.8" r="0.49"/><circle cx="19.5" cy="5.9" r="0.36"/><circle cx="14.4" cy="5.3" r="0.44"/><circle cx="19.4" cy="13.5" r="0.27"/><circle cx="3.4" cy="16.1" r="0.31"/><circle cx="10.1" cy="3.9" r="0.41"/><circle cx="5.7" cy="17.4" r="0.36"/><circle cx="0.0" cy="10.9" r="0.34"/><circle cx="20.0" cy="10.9" r="0.34"/><circle cx="3.6" cy="17.9" r="0.50"/><circle cx="12.4" cy="0.8" r="0.31"/><circle cx="5.8" cy="19.0" r="0.27"/><circle cx="7.9" cy="14.8" r="0.37"/><circle cx="9.3" cy="5.4" r="0.40"/><circle cx="16.4" cy="0.1" r="0.26"/><circle cx="16.4" cy="20.1" r="0.26"/><circle cx="18.6" cy="12.1" r="0.39"/><circle cx="7.9" cy="19.5" r="0.41"/><circle cx="10.3" cy="6.8" r="0.28"/><circle cx="1.6" cy="1.2" r="0.35"/><circle cx="5.0" cy="5.1" r="0.27"/><circle cx="15.9" cy="5.9" r="0.45"/><circle cx="0.9" cy="18.7" r="0.37"/><circle cx="19.1" cy="7.7" r="0.45"/><circle cx="16.9" cy="2.6" r="0.45"/><circle cx="2.4" cy="8.9" r="0.28"/><circle cx="13.1" cy="19.2" r="0.37"/><circle cx="-0.1" cy="1.3" r="0.40"/><circle cx="19.9" cy="1.3" r="0.40"/><circle cx="10.5" cy="9.6" r="0.41"/><circle cx="14.4" cy="6.9" r="0.43"/><circle cx="2.1" cy="17.5" r="0.45"/><circle cx="0.9" cy="14.5" r="0.39"/><circle cx="13.1" cy="17.1" r="0.49"/><circle cx="4.2" cy="6.5" r="0.33"/></g></pattern><clipPath id="lg0"><path d="M33.1,340.3L33.7,338.7L35.2,336.5L36.8,333.9L38.1,331.3L38.9,328.4L39.5,325.3L40.0,322.2L40.1,319.3L39.7,316.8L38.9,314.4L38.2,312.3L38.1,310.2L38.8,308.3L40.0,306.4L41.5,304.8L43.1,303.2L44.7,301.8L46.5,300.6L48.3,299.5L50.2,298.2L52.2,296.7L54.2,295.0L56.2,293.4L58.2,292.1L60.1,291.0L61.9,290.2L63.6,289.5L65.2,289.1L66.6,289.0L67.8,289.3L68.9,289.7L70.2,290.1L71.7,290.6L73.2,291.2L74.8,291.8L76.3,292.1L77.6,292.0L78.9,291.5L80.1,291.1L81.3,291.1L82.6,291.4L84.0,292.0L85.3,292.9L86.3,294.2L86.9,296.1L87.2,298.5L87.4,301.0L87.3,303.2L87.1,305.0L86.6,306.5L86.0,307.9L85.3,309.2L84.5,310.2L83.5,311.1L82.4,312.0L81.3,313.2L80.1,314.9L78.9,317.0L77.7,319.2L76.3,321.3L74.9,323.4L73.6,325.4L72.0,327.4L70.2,329.3L68.0,331.0L65.6,332.6L62.9,334.0L60.2,335.3L57.3,336.5L54.2,337.6L51.1,338.5L48.2,339.3L45.4,340.0L42.7,340.6L40.2,341.1L38.1,341.3L36.3,341.4L34.7,341.5L33.5,341.2Z"/></clipPath><filter id="n1" x="0" y="0" width="1" height="1" color-interpolation-filters="sRGB"><feTurbulence type="fractalNoise" baseFrequency="0.3" numOctaves="2" seed="70"/><feColorMatrix type="matrix" values="0 0 0 0 0.933 0 0 0 0 0.847 0 0 0 0 0.957 1 0 0 0 0"/><feComponentTransfer><feFuncA type="linear" slope="2.5" intercept="-0.8099999999999999"/></feComponentTransfer></filter><filter id="n2" x="0" y="0" width="1" height="1" color-interpolation-filters="sRGB"><feTurbulence type="fractalNoise" baseFrequency="0.9" numOctaves="1" seed="80"/><feColorMatrix type="matrix" values="0 0 0 0 0.980 0 0 0 0 0.957 0 0 0 0 0.988 1 0 0 0 0"/><feComponentTransfer><feFuncA type="linear" slope="5.0" intercept="-2.9"/></feComponentTransfer></filter><filter id="n3" x="0" y="0" width="1" height="1" color-interpolation-filters="sRGB"><feTurbulence type="fractalNoise" baseFrequency="0.8" numOctaves="1" seed="90"/><feColorMatrix type="matrix" values="0 0 0 0 0.659 0 0 0 0 0.392 0 0 0 0 0.816 1 0 0 0 0"/><feComponentTransfer><feFuncA type="linear" slope="5.0" intercept="-3.35"/></feComponentTransfer></filter><clipPath id="lg1"><path d="M153.5,285.7L154.1,286.2L154.6,287.2L154.9,288.5L155.3,290.2L155.7,292.5L156.0,295.3L156.4,298.3L157.0,301.0L157.9,303.4L159.1,305.7L160.4,307.9L161.5,310.0L162.6,312.1L163.7,314.3L164.6,316.3L165.1,318.0L165.1,319.4L164.8,320.5L164.2,321.5L163.3,322.6L162.0,323.8L160.3,325.0L158.5,326.4L157.0,328.0L155.8,330.1L154.7,332.7L153.7,335.1L152.6,337.0L151.5,338.1L150.4,338.8L149.1,339.2L147.2,339.6L144.6,340.0L141.3,340.3L137.9,340.5L134.6,340.5L131.2,340.3L127.7,340.0L124.5,339.5L122.0,338.7L120.5,337.7L119.6,336.4L119.2,335.0L119.3,333.3L119.9,331.3L121.0,329.1L122.4,326.7L123.8,324.4L125.0,322.2L126.3,320.0L127.7,317.8L129.2,315.4L130.9,312.8L132.7,310.1L134.6,307.3L136.4,304.6L138.2,301.8L140.1,298.9L141.9,296.2L143.6,293.8L145.1,291.8L146.5,290.1L147.8,288.7L149.0,287.5L150.3,286.6L151.5,285.9L152.6,285.6Z"/></clipPath><filter id="n4" x="0" y="0" width="1" height="1" color-interpolation-filters="sRGB"><feTurbulence type="fractalNoise" baseFrequency="0.3" numOctaves="2" seed="71"/><feColorMatrix type="matrix" values="0 0 0 0 0.933 0 0 0 0 0.847 0 0 0 0 0.957 1 0 0 0 0"/><feComponentTransfer><feFuncA type="linear" slope="2.5" intercept="-0.85"/></feComponentTransfer></filter><filter id="n5" x="0" y="0" width="1" height="1" color-interpolation-filters="sRGB"><feTurbulence type="fractalNoise" baseFrequency="0.9" numOctaves="1" seed="81"/><feColorMatrix type="matrix" values="0 0 0 0 0.980 0 0 0 0 0.957 0 0 0 0 0.988 1 0 0 0 0"/><feComponentTransfer><feFuncA type="linear" slope="5.0" intercept="-2.9"/></feComponentTransfer></filter><filter id="n6" x="0" y="0" width="1" height="1" color-interpolation-filters="sRGB"><feTurbulence type="fractalNoise" baseFrequency="0.8" numOctaves="1" seed="91"/><feColorMatrix type="matrix" values="0 0 0 0 0.659 0 0 0 0 0.392 0 0 0 0 0.816 1 0 0 0 0"/><feComponentTransfer><feFuncA type="linear" slope="5.0" intercept="-3.35"/></feComponentTransfer></filter><clipPath id="lg2"><path d="M221.4,293.8L223.0,293.1L224.8,292.3L226.6,291.8L228.6,291.6L230.8,292.0L233.2,292.7L235.5,293.6L237.6,294.7L239.5,295.8L241.2,297.0L242.6,298.4L243.8,300.0L244.6,301.9L245.2,304.0L245.5,306.2L245.6,308.2L245.3,310.0L244.7,311.6L244.1,313.1L243.8,314.5L244.1,315.7L244.8,316.7L245.4,317.7L245.6,319.0L245.4,320.6L244.9,322.5L244.1,324.4L243.0,326.2L241.6,327.9L239.8,329.6L237.8,331.1L235.8,332.4L233.7,333.4L231.5,334.2L229.2,334.8L226.8,335.1L224.1,335.3L221.1,335.2L218.2,334.9L216.0,334.2L214.6,333.1L213.7,331.6L213.1,329.9L212.4,328.0L211.6,325.9L210.9,323.7L210.2,321.3L209.7,319.0L209.3,316.7L208.9,314.4L208.7,312.2L208.8,310.0L209.2,307.8L209.8,305.7L210.6,303.7L211.5,301.9L212.5,300.3L213.6,298.9L214.8,297.6L216.0,296.5L217.2,295.6L218.5,295.0L219.9,294.4Z"/></clipPath><filter id="n7" x="0" y="0" width="1" height="1" color-interpolation-filters="sRGB"><feTurbulence type="fractalNoise" baseFrequency="0.3" numOctaves="2" seed="72"/><feColorMatrix type="matrix" values="0 0 0 0 0.933 0 0 0 0 0.847 0 0 0 0 0.957 1 0 0 0 0"/><feComponentTransfer><feFuncA type="linear" slope="2.5" intercept="-0.8899999999999999"/></feComponentTransfer></filter><filter id="n8" x="0" y="0" width="1" height="1" color-interpolation-filters="sRGB"><feTurbulence type="fractalNoise" baseFrequency="0.9" numOctaves="1" seed="82"/><feColorMatrix type="matrix" values="0 0 0 0 0.980 0 0 0 0 0.957 0 0 0 0 0.988 1 0 0 0 0"/><feComponentTransfer><feFuncA type="linear" slope="5.0" intercept="-2.9"/></feComponentTransfer></filter><filter id="n9" x="0" y="0" width="1" height="1" color-interpolation-filters="sRGB"><feTurbulence type="fractalNoise" baseFrequency="0.8" numOctaves="1" seed="92"/><feColorMatrix type="matrix" values="0 0 0 0 0.659 0 0 0 0 0.392 0 0 0 0 0.816 1 0 0 0 0"/><feComponentTransfer><feFuncA type="linear" slope="5.0" intercept="-3.35"/></feComponentTransfer></filter><clipPath id="lg3"><path d="M328.4,287.6L329.5,288.3L330.3,289.3L330.8,290.7L331.3,292.3L331.7,294.3L332.0,296.6L332.2,299.2L332.2,301.8L332.0,304.6L331.6,307.6L331.0,310.6L330.3,313.2L329.4,315.4L328.4,317.4L327.1,319.1L325.6,320.8L323.7,322.3L321.6,323.7L319.3,325.0L317.0,326.5L314.7,328.2L312.3,330.0L309.9,331.7L307.5,333.2L305.1,334.4L302.8,335.5L300.4,336.3L298.0,337.0L295.5,337.5L292.9,337.9L290.5,338.1L288.5,338.0L286.8,337.7L285.4,337.3L284.3,336.5L283.8,335.1L283.9,333.0L284.5,330.4L285.5,327.5L286.6,324.6L288.0,321.8L289.6,318.9L291.4,316.0L293.3,313.2L295.3,310.5L297.4,307.8L299.6,305.2L301.8,302.8L304.1,300.5L306.5,298.2L308.9,296.1L311.3,294.2L313.7,292.5L316.2,290.9L318.6,289.5L320.8,288.5L322.9,287.8L325.0,287.4L326.9,287.3Z"/></clipPath><filter id="n10" x="0" y="0" width="1" height="1" color-interpolation-filters="sRGB"><feTurbulence type="fractalNoise" baseFrequency="0.3" numOctaves="2" seed="73"/><feColorMatrix type="matrix" values="0 0 0 0 0.933 0 0 0 0 0.847 0 0 0 0 0.957 1 0 0 0 0"/><feComponentTransfer><feFuncA type="linear" slope="2.5" intercept="-0.8899999999999999"/></feComponentTransfer></filter><filter id="n11" x="0" y="0" width="1" height="1" color-interpolation-filters="sRGB"><feTurbulence type="fractalNoise" baseFrequency="0.9" numOctaves="1" seed="83"/><feColorMatrix type="matrix" values="0 0 0 0 0.980 0 0 0 0 0.957 0 0 0 0 0.988 1 0 0 0 0"/><feComponentTransfer><feFuncA type="linear" slope="5.0" intercept="-2.9"/></feComponentTransfer></filter><filter id="n12" x="0" y="0" width="1" height="1" color-interpolation-filters="sRGB"><feTurbulence type="fractalNoise" baseFrequency="0.8" numOctaves="1" seed="93"/><feColorMatrix type="matrix" values="0 0 0 0 0.659 0 0 0 0 0.392 0 0 0 0 0.816 1 0 0 0 0"/><feComponentTransfer><feFuncA type="linear" slope="5.0" intercept="-3.35"/></feComponentTransfer></filter><clipPath id="lg4"><path d="M412.9,286.8L413.4,287.9L413.8,289.9L414.1,292.2L414.3,294.4L414.3,296.4L414.1,298.5L413.9,300.6L413.6,302.6L413.3,304.4L413.0,306.2L412.6,307.9L412.2,309.5L411.8,311.0L411.3,312.3L410.7,313.7L410.1,315.0L409.4,316.4L408.5,317.8L407.6,319.1L406.7,320.5L405.7,321.9L404.7,323.2L403.6,324.6L402.6,326.0L401.6,327.4L400.6,328.8L399.6,330.1L398.5,331.5L397.3,332.9L395.9,334.3L394.5,335.7L393.0,337.0L391.4,338.2L389.7,339.3L387.9,340.2L386.1,341.0L384.1,341.6L382.0,342.1L379.9,342.4L377.9,342.4L376.0,342.0L374.2,341.4L372.5,340.6L371.0,339.7L369.7,338.8L368.6,337.9L367.6,336.8L366.9,335.6L366.4,334.2L366.1,332.6L366.0,331.0L366.2,329.4L366.7,327.9L367.4,326.3L368.4,324.8L369.6,323.2L371.0,321.5L372.7,319.8L374.5,318.0L376.5,316.3L378.7,314.5L381.2,312.7L383.7,311.0L386.1,309.5L388.3,308.3L390.4,307.3L392.4,306.4L394.3,305.4L396.1,304.4L397.9,303.4L399.6,302.3L401.2,301.2L402.7,299.9L404.2,298.5L405.5,297.1L406.7,295.7L407.7,294.3L408.6,292.8L409.3,291.4L410.1,290.2L410.9,288.9L411.6,287.7L412.3,286.8Z"/></clipPath><filter id="n13" x="0" y="0" width="1" height="1" color-interpolation-filters="sRGB"><feTurbulence type="fractalNoise" baseFrequency="0.3" numOctaves="2" seed="74"/><feColorMatrix type="matrix" values="0 0 0 0 0.933 0 0 0 0 0.847 0 0 0 0 0.957 1 0 0 0 0"/><feComponentTransfer><feFuncA type="linear" slope="2.5" intercept="-0.9299999999999999"/></feComponentTransfer></filter><filter id="n14" x="0" y="0" width="1" height="1" color-interpolation-filters="sRGB"><feTurbulence type="fractalNoise" baseFrequency="0.9" numOctaves="1" seed="84"/><feColorMatrix type="matrix" values="0 0 0 0 0.980 0 0 0 0 0.957 0 0 0 0 0.988 1 0 0 0 0"/><feComponentTransfer><feFuncA type="linear" slope="5.0" intercept="-2.9"/></feComponentTransfer></filter><filter id="n15" x="0" y="0" width="1" height="1" color-interpolation-filters="sRGB"><feTurbulence type="fractalNoise" baseFrequency="0.8" numOctaves="1" seed="94"/><feColorMatrix type="matrix" values="0 0 0 0 0.659 0 0 0 0 0.392 0 0 0 0 0.816 1 0 0 0 0"/><feComponentTransfer><feFuncA type="linear" slope="5.0" intercept="-3.35"/></feComponentTransfer></filter><clipPath id="lg5"><path d="M476.6,288.9L478.7,289.0L480.9,289.2L482.9,289.6L484.8,290.2L486.4,291.0L487.9,292.0L489.2,293.1L490.3,294.4L491.2,295.9L492.0,297.5L492.6,299.3L493.1,301.2L493.5,303.2L493.7,305.3L493.8,307.4L493.8,309.5L493.6,311.6L493.4,313.6L492.9,315.6L492.4,317.7L491.7,319.8L491.0,321.9L490.0,324.0L489.0,326.0L487.8,327.8L486.5,329.6L485.0,331.2L483.5,332.8L481.9,334.3L480.1,335.7L478.4,337.1L476.6,338.3L474.8,339.5L473.1,340.6L471.3,341.6L469.7,342.4L468.1,342.9L466.6,343.2L465.2,343.3L464.2,343.1L463.5,342.6L463.1,341.8L462.9,340.8L462.9,339.7L463.1,338.5L463.6,337.0L464.0,335.6L464.2,334.2L464.0,333.0L463.5,331.8L462.9,330.6L462.2,329.4L461.3,328.1L460.2,326.8L459.1,325.6L458.0,324.6L456.9,324.1L455.8,323.9L454.7,323.7L453.9,323.2L453.3,322.4L453.0,321.5L452.7,320.4L452.6,319.1L452.6,317.6L452.6,315.9L452.9,314.1L453.2,312.2L453.7,310.2L454.3,308.2L455.1,306.1L456.0,304.0L457.2,301.9L458.5,299.7L460.0,297.6L461.5,295.7L463.1,294.0L464.8,292.5L466.6,291.2L468.4,290.2L470.4,289.5L472.4,289.1L474.5,288.9Z"/></clipPath><filter id="n16" x="0" y="0" width="1" height="1" color-interpolation-filters="sRGB"><feTurbulence type="fractalNoise" baseFrequency="0.3" numOctaves="2" seed="75"/><feColorMatrix type="matrix" values="0 0 0 0 0.933 0 0 0 0 0.847 0 0 0 0 0.957 1 0 0 0 0"/><feComponentTransfer><feFuncA type="linear" slope="2.5" intercept="-0.8899999999999999"/></feComponentTransfer></filter><filter id="n17" x="0" y="0" width="1" height="1" color-interpolation-filters="sRGB"><feTurbulence type="fractalNoise" baseFrequency="0.9" numOctaves="1" seed="85"/><feColorMatrix type="matrix" values="0 0 0 0 0.980 0 0 0 0 0.957 0 0 0 0 0.988 1 0 0 0 0"/><feComponentTransfer><feFuncA type="linear" slope="5.0" intercept="-2.9"/></feComponentTransfer></filter><filter id="n18" x="0" y="0" width="1" height="1" color-interpolation-filters="sRGB"><feTurbulence type="fractalNoise" baseFrequency="0.8" numOctaves="1" seed="95"/><feColorMatrix type="matrix" values="0 0 0 0 0.659 0 0 0 0 0.392 0 0 0 0 0.816 1 0 0 0 0"/><feComponentTransfer><feFuncA type="linear" slope="5.0" intercept="-3.35"/></feComponentTransfer></filter><filter id="n19" x="0" y="0" width="1" height="1" color-interpolation-filters="sRGB"><feTurbulence type="fractalNoise" baseFrequency="0.7" numOctaves="2" seed="42"/><feColorMatrix type="matrix" values="0 0 0 0 0.627 0 0 0 0 0.376 0 0 0 0 0.816 1 0 0 0 0"/><feComponentTransfer><feFuncA type="linear" slope="4.5" intercept="-2.8"/></feComponentTransfer></filter><filter id="n20" x="0" y="0" width="1" height="1" color-interpolation-filters="sRGB"><feTurbulence type="fractalNoise" baseFrequency="0.35" numOctaves="2" seed="52"/><feColorMatrix type="matrix" values="0 0 0 0 0.933 0 0 0 0 0.549 0 0 0 0 0.933 1 0 0 0 0"/><feComponentTransfer><feFuncA type="linear" slope="4" intercept="-2.1"/></feComponentTransfer></filter><filter id="n21" x="0" y="0" width="1" height="1" color-interpolation-filters="sRGB"><feTurbulence type="fractalNoise" baseFrequency="0.35" numOctaves="2" seed="53"/><feColorMatrix type="matrix" values="0 0 0 0 0.933 0 0 0 0 0.549 0 0 0 0 0.933 1 0 0 0 0"/><feComponentTransfer><feFuncA type="linear" slope="4" intercept="-2.1"/></feComponentTransfer></filter><filter id="n22" x="0" y="0" width="1" height="1" color-interpolation-filters="sRGB"><feTurbulence type="fractalNoise" baseFrequency="0.35" numOctaves="2" seed="54"/><feColorMatrix type="matrix" values="0 0 0 0 0.933 0 0 0 0 0.549 0 0 0 0 0.933 1 0 0 0 0"/><feComponentTransfer><feFuncA type="linear" slope="4" intercept="-2.1"/></feComponentTransfer></filter><filter id="n23" x="0" y="0" width="1" height="1" color-interpolation-filters="sRGB"><feTurbulence type="fractalNoise" baseFrequency="0.35" numOctaves="2" seed="55"/><feColorMatrix type="matrix" values="0 0 0 0 0.933 0 0 0 0 0.549 0 0 0 0 0.933 1 0 0 0 0"/><feComponentTransfer><feFuncA type="linear" slope="4" intercept="-2.1"/></feComponentTransfer></filter></defs>
<path d="M33.1,340.3L33.7,338.7L35.2,336.5L36.8,333.9L38.1,331.3L38.9,328.4L39.5,325.3L40.0,322.2L40.1,319.3L39.7,316.8L38.9,314.4L38.2,312.3L38.1,310.2L38.8,308.3L40.0,306.4L41.5,304.8L43.1,303.2L44.7,301.8L46.5,300.6L48.3,299.5L50.2,298.2L52.2,296.7L54.2,295.0L56.2,293.4L58.2,292.1L60.1,291.0L61.9,290.2L63.6,289.5L65.2,289.1L66.6,289.0L67.8,289.3L68.9,289.7L70.2,290.1L71.7,290.6L73.2,291.2L74.8,291.8L76.3,292.1L77.6,292.0L78.9,291.5L80.1,291.1L81.3,291.1L82.6,291.4L84.0,292.0L85.3,292.9L86.3,294.2L86.9,296.1L87.2,298.5L87.4,301.0L87.3,303.2L87.1,305.0L86.6,306.5L86.0,307.9L85.3,309.2L84.5,310.2L83.5,311.1L82.4,312.0L81.3,313.2L80.1,314.9L78.9,317.0L77.7,319.2L76.3,321.3L74.9,323.4L73.6,325.4L72.0,327.4L70.2,329.3L68.0,331.0L65.6,332.6L62.9,334.0L60.2,335.3L57.3,336.5L54.2,337.6L51.1,338.5L48.2,339.3L45.4,340.0L42.7,340.6L40.2,341.1L38.1,341.3L36.3,341.4L34.7,341.5L33.5,341.2Z" fill="#e0c6ee"/>
<rect x="32.1" y="288.1" width="56.2" height="54.2" filter="url(#n1)" clip-path="url(#lg0)"/>
<rect x="32.1" y="288.1" width="56.2" height="54.2" filter="url(#n2)" clip-path="url(#lg0)"/>
<rect x="32.1" y="288.1" width="56.2" height="54.2" filter="url(#n3)" clip-path="url(#lg0)"/>
<path d="M33.1,340.3L33.7,338.7L35.2,336.5L36.8,333.9L38.1,331.3L38.9,328.4L39.5,325.3L40.0,322.2L40.1,319.3L39.7,316.8L38.9,314.4L38.2,312.3L38.1,310.2L38.8,308.3L40.0,306.4L41.5,304.8L43.1,303.2L44.7,301.8L46.5,300.6L48.3,299.5L50.2,298.2L52.2,296.7L54.2,295.0L56.2,293.4L58.2,292.1L60.1,291.0L61.9,290.2L63.6,289.5L65.2,289.1L66.6,289.0L67.8,289.3L68.9,289.7L70.2,290.1L71.7,290.6L73.2,291.2L74.8,291.8L76.3,292.1L77.6,292.0L78.9,291.5L80.1,291.1L81.3,291.1L82.6,291.4L84.0,292.0L85.3,292.9L86.3,294.2L86.9,296.1L87.2,298.5L87.4,301.0L87.3,303.2L87.1,305.0L86.6,306.5L86.0,307.9L85.3,309.2L84.5,310.2L83.5,311.1L82.4,312.0L81.3,313.2L80.1,314.9L78.9,317.0L77.7,319.2L76.3,321.3L74.9,323.4L73.6,325.4L72.0,327.4L70.2,329.3L68.0,331.0L65.6,332.6L62.9,334.0L60.2,335.3L57.3,336.5L54.2,337.6L51.1,338.5L48.2,339.3L45.4,340.0L42.7,340.6L40.2,341.1L38.1,341.3L36.3,341.4L34.7,341.5L33.5,341.2Z" fill="none" stroke="#b276d6" stroke-width="0.6" opacity="0.75"/>
<path d="M153.5,285.7L154.1,286.2L154.6,287.2L154.9,288.5L155.3,290.2L155.7,292.5L156.0,295.3L156.4,298.3L157.0,301.0L157.9,303.4L159.1,305.7L160.4,307.9L161.5,310.0L162.6,312.1L163.7,314.3L164.6,316.3L165.1,318.0L165.1,319.4L164.8,320.5L164.2,321.5L163.3,322.6L162.0,323.8L160.3,325.0L158.5,326.4L157.0,328.0L155.8,330.1L154.7,332.7L153.7,335.1L152.6,337.0L151.5,338.1L150.4,338.8L149.1,339.2L147.2,339.6L144.6,340.0L141.3,340.3L137.9,340.5L134.6,340.5L131.2,340.3L127.7,340.0L124.5,339.5L122.0,338.7L120.5,337.7L119.6,336.4L119.2,335.0L119.3,333.3L119.9,331.3L121.0,329.1L122.4,326.7L123.8,324.4L125.0,322.2L126.3,320.0L127.7,317.8L129.2,315.4L130.9,312.8L132.7,310.1L134.6,307.3L136.4,304.6L138.2,301.8L140.1,298.9L141.9,296.2L143.6,293.8L145.1,291.8L146.5,290.1L147.8,288.7L149.0,287.5L150.3,286.6L151.5,285.9L152.6,285.6Z" fill="#dabeec"/>
<rect x="118.3" y="284.7" width="47.8" height="56.8" filter="url(#n4)" clip-path="url(#lg1)"/>
<rect x="118.3" y="284.7" width="47.8" height="56.8" filter="url(#n5)" clip-path="url(#lg1)"/>
<rect x="118.3" y="284.7" width="47.8" height="56.8" filter="url(#n6)" clip-path="url(#lg1)"/>
<path d="M153.5,285.7L154.1,286.2L154.6,287.2L154.9,288.5L155.3,290.2L155.7,292.5L156.0,295.3L156.4,298.3L157.0,301.0L157.9,303.4L159.1,305.7L160.4,307.9L161.5,310.0L162.6,312.1L163.7,314.3L164.6,316.3L165.1,318.0L165.1,319.4L164.8,320.5L164.2,321.5L163.3,322.6L162.0,323.8L160.3,325.0L158.5,326.4L157.0,328.0L155.8,330.1L154.7,332.7L153.7,335.1L152.6,337.0L151.5,338.1L150.4,338.8L149.1,339.2L147.2,339.6L144.6,340.0L141.3,340.3L137.9,340.5L134.6,340.5L131.2,340.3L127.7,340.0L124.5,339.5L122.0,338.7L120.5,337.7L119.6,336.4L119.2,335.0L119.3,333.3L119.9,331.3L121.0,329.1L122.4,326.7L123.8,324.4L125.0,322.2L126.3,320.0L127.7,317.8L129.2,315.4L130.9,312.8L132.7,310.1L134.6,307.3L136.4,304.6L138.2,301.8L140.1,298.9L141.9,296.2L143.6,293.8L145.1,291.8L146.5,290.1L147.8,288.7L149.0,287.5L150.3,286.6L151.5,285.9L152.6,285.6Z" fill="none" stroke="#b276d6" stroke-width="0.6" opacity="0.75"/>
<path d="M221.4,293.8L223.0,293.1L224.8,292.3L226.6,291.8L228.6,291.6L230.8,292.0L233.2,292.7L235.5,293.6L237.6,294.7L239.5,295.8L241.2,297.0L242.6,298.4L243.8,300.0L244.6,301.9L245.2,304.0L245.5,306.2L245.6,308.2L245.3,310.0L244.7,311.6L244.1,313.1L243.8,314.5L244.1,315.7L244.8,316.7L245.4,317.7L245.6,319.0L245.4,320.6L244.9,322.5L244.1,324.4L243.0,326.2L241.6,327.9L239.8,329.6L237.8,331.1L235.8,332.4L233.7,333.4L231.5,334.2L229.2,334.8L226.8,335.1L224.1,335.3L221.1,335.2L218.2,334.9L216.0,334.2L214.6,333.1L213.7,331.6L213.1,329.9L212.4,328.0L211.6,325.9L210.9,323.7L210.2,321.3L209.7,319.0L209.3,316.7L208.9,314.4L208.7,312.2L208.8,310.0L209.2,307.8L209.8,305.7L210.6,303.7L211.5,301.9L212.5,300.3L213.6,298.9L214.8,297.6L216.0,296.5L217.2,295.6L218.5,295.0L219.9,294.4Z" fill="#d2ace6"/>
<rect x="207.8" y="290.6" width="38.8" height="45.5" filter="url(#n7)" clip-path="url(#lg2)"/>
<rect x="207.8" y="290.6" width="38.8" height="45.5" filter="url(#n8)" clip-path="url(#lg2)"/>
<rect x="207.8" y="290.6" width="38.8" height="45.5" filter="url(#n9)" clip-path="url(#lg2)"/>
<path d="M221.4,293.8L223.0,293.1L224.8,292.3L226.6,291.8L228.6,291.6L230.8,292.0L233.2,292.7L235.5,293.6L237.6,294.7L239.5,295.8L241.2,297.0L242.6,298.4L243.8,300.0L244.6,301.9L245.2,304.0L245.5,306.2L245.6,308.2L245.3,310.0L244.7,311.6L244.1,313.1L243.8,314.5L244.1,315.7L244.8,316.7L245.4,317.7L245.6,319.0L245.4,320.6L244.9,322.5L244.1,324.4L243.0,326.2L241.6,327.9L239.8,329.6L237.8,331.1L235.8,332.4L233.7,333.4L231.5,334.2L229.2,334.8L226.8,335.1L224.1,335.3L221.1,335.2L218.2,334.9L216.0,334.2L214.6,333.1L213.7,331.6L213.1,329.9L212.4,328.0L211.6,325.9L210.9,323.7L210.2,321.3L209.7,319.0L209.3,316.7L208.9,314.4L208.7,312.2L208.8,310.0L209.2,307.8L209.8,305.7L210.6,303.7L211.5,301.9L212.5,300.3L213.6,298.9L214.8,297.6L216.0,296.5L217.2,295.6L218.5,295.0L219.9,294.4Z" fill="none" stroke="#b276d6" stroke-width="0.6" opacity="0.75"/>
<path d="M328.4,287.6L329.5,288.3L330.3,289.3L330.8,290.7L331.3,292.3L331.7,294.3L332.0,296.6L332.2,299.2L332.2,301.8L332.0,304.6L331.6,307.6L331.0,310.6L330.3,313.2L329.4,315.4L328.4,317.4L327.1,319.1L325.6,320.8L323.7,322.3L321.6,323.7L319.3,325.0L317.0,326.5L314.7,328.2L312.3,330.0L309.9,331.7L307.5,333.2L305.1,334.4L302.8,335.5L300.4,336.3L298.0,337.0L295.5,337.5L292.9,337.9L290.5,338.1L288.5,338.0L286.8,337.7L285.4,337.3L284.3,336.5L283.8,335.1L283.9,333.0L284.5,330.4L285.5,327.5L286.6,324.6L288.0,321.8L289.6,318.9L291.4,316.0L293.3,313.2L295.3,310.5L297.4,307.8L299.6,305.2L301.8,302.8L304.1,300.5L306.5,298.2L308.9,296.1L311.3,294.2L313.7,292.5L316.2,290.9L318.6,289.5L320.8,288.5L322.9,287.8L325.0,287.4L326.9,287.3Z" fill="#cca2e4"/>
<rect x="282.8" y="286.6" width="50.4" height="52.4" filter="url(#n10)" clip-path="url(#lg3)"/>
<rect x="282.8" y="286.6" width="50.4" height="52.4" filter="url(#n11)" clip-path="url(#lg3)"/>
<rect x="282.8" y="286.6" width="50.4" height="52.4" filter="url(#n12)" clip-path="url(#lg3)"/>
<path d="M328.4,287.6L329.5,288.3L330.3,289.3L330.8,290.7L331.3,292.3L331.7,294.3L332.0,296.6L332.2,299.2L332.2,301.8L332.0,304.6L331.6,307.6L331.0,310.6L330.3,313.2L329.4,315.4L328.4,317.4L327.1,319.1L325.6,320.8L323.7,322.3L321.6,323.7L319.3,325.0L317.0,326.5L314.7,328.2L312.3,330.0L309.9,331.7L307.5,333.2L305.1,334.4L302.8,335.5L300.4,336.3L298.0,337.0L295.5,337.5L292.9,337.9L290.5,338.1L288.5,338.0L286.8,337.7L285.4,337.3L284.3,336.5L283.8,335.1L283.9,333.0L284.5,330.4L285.5,327.5L286.6,324.6L288.0,321.8L289.6,318.9L291.4,316.0L293.3,313.2L295.3,310.5L297.4,307.8L299.6,305.2L301.8,302.8L304.1,300.5L306.5,298.2L308.9,296.1L311.3,294.2L313.7,292.5L316.2,290.9L318.6,289.5L320.8,288.5L322.9,287.8L325.0,287.4L326.9,287.3Z" fill="none" stroke="#b276d6" stroke-width="0.6" opacity="0.75"/>
<path d="M412.9,286.8L413.4,287.9L413.8,289.9L414.1,292.2L414.3,294.4L414.3,296.4L414.1,298.5L413.9,300.6L413.6,302.6L413.3,304.4L413.0,306.2L412.6,307.9L412.2,309.5L411.8,311.0L411.3,312.3L410.7,313.7L410.1,315.0L409.4,316.4L408.5,317.8L407.6,319.1L406.7,320.5L405.7,321.9L404.7,323.2L403.6,324.6L402.6,326.0L401.6,327.4L400.6,328.8L399.6,330.1L398.5,331.5L397.3,332.9L395.9,334.3L394.5,335.7L393.0,337.0L391.4,338.2L389.7,339.3L387.9,340.2L386.1,341.0L384.1,341.6L382.0,342.1L379.9,342.4L377.9,342.4L376.0,342.0L374.2,341.4L372.5,340.6L371.0,339.7L369.7,338.8L368.6,337.9L367.6,336.8L366.9,335.6L366.4,334.2L366.1,332.6L366.0,331.0L366.2,329.4L366.7,327.9L367.4,326.3L368.4,324.8L369.6,323.2L371.0,321.5L372.7,319.8L374.5,318.0L376.5,316.3L378.7,314.5L381.2,312.7L383.7,311.0L386.1,309.5L388.3,308.3L390.4,307.3L392.4,306.4L394.3,305.4L396.1,304.4L397.9,303.4L399.6,302.3L401.2,301.2L402.7,299.9L404.2,298.5L405.5,297.1L406.7,295.7L407.7,294.3L408.6,292.8L409.3,291.4L410.1,290.2L410.9,288.9L411.6,287.7L412.3,286.8Z" fill="#c592de"/>
<rect x="365.2" y="285.8" width="50.1" height="57.6" filter="url(#n13)" clip-path="url(#lg4)"/>
<rect x="365.2" y="285.8" width="50.1" height="57.6" filter="url(#n14)" clip-path="url(#lg4)"/>
<rect x="365.2" y="285.8" width="50.1" height="57.6" filter="url(#n15)" clip-path="url(#lg4)"/>
<path d="M412.9,286.8L413.4,287.9L413.8,289.9L414.1,292.2L414.3,294.4L414.3,296.4L414.1,298.5L413.9,300.6L413.6,302.6L413.3,304.4L413.0,306.2L412.6,307.9L412.2,309.5L411.8,311.0L411.3,312.3L410.7,313.7L410.1,315.0L409.4,316.4L408.5,317.8L407.6,319.1L406.7,320.5L405.7,321.9L404.7,323.2L403.6,324.6L402.6,326.0L401.6,327.4L400.6,328.8L399.6,330.1L398.5,331.5L397.3,332.9L395.9,334.3L394.5,335.7L393.0,337.0L391.4,338.2L389.7,339.3L387.9,340.2L386.1,341.0L384.1,341.6L382.0,342.1L379.9,342.4L377.9,342.4L376.0,342.0L374.2,341.4L372.5,340.6L371.0,339.7L369.7,338.8L368.6,337.9L367.6,336.8L366.9,335.6L366.4,334.2L366.1,332.6L366.0,331.0L366.2,329.4L366.7,327.9L367.4,326.3L368.4,324.8L369.6,323.2L371.0,321.5L372.7,319.8L374.5,318.0L376.5,316.3L378.7,314.5L381.2,312.7L383.7,311.0L386.1,309.5L388.3,308.3L390.4,307.3L392.4,306.4L394.3,305.4L396.1,304.4L397.9,303.4L399.6,302.3L401.2,301.2L402.7,299.9L404.2,298.5L405.5,297.1L406.7,295.7L407.7,294.3L408.6,292.8L409.3,291.4L410.1,290.2L410.9,288.9L411.6,287.7L412.3,286.8Z" fill="none" stroke="#b276d6" stroke-width="0.6" opacity="0.75"/>
<path d="M476.6,288.9L478.7,289.0L480.9,289.2L482.9,289.6L484.8,290.2L486.4,291.0L487.9,292.0L489.2,293.1L490.3,294.4L491.2,295.9L492.0,297.5L492.6,299.3L493.1,301.2L493.5,303.2L493.7,305.3L493.8,307.4L493.8,309.5L493.6,311.6L493.4,313.6L492.9,315.6L492.4,317.7L491.7,319.8L491.0,321.9L490.0,324.0L489.0,326.0L487.8,327.8L486.5,329.6L485.0,331.2L483.5,332.8L481.9,334.3L480.1,335.7L478.4,337.1L476.6,338.3L474.8,339.5L473.1,340.6L471.3,341.6L469.7,342.4L468.1,342.9L466.6,343.2L465.2,343.3L464.2,343.1L463.5,342.6L463.1,341.8L462.9,340.8L462.9,339.7L463.1,338.5L463.6,337.0L464.0,335.6L464.2,334.2L464.0,333.0L463.5,331.8L462.9,330.6L462.2,329.4L461.3,328.1L460.2,326.8L459.1,325.6L458.0,324.6L456.9,324.1L455.8,323.9L454.7,323.7L453.9,323.2L453.3,322.4L453.0,321.5L452.7,320.4L452.6,319.1L452.6,317.6L452.6,315.9L452.9,314.1L453.2,312.2L453.7,310.2L454.3,308.2L455.1,306.1L456.0,304.0L457.2,301.9L458.5,299.7L460.0,297.6L461.5,295.7L463.1,294.0L464.8,292.5L466.6,291.2L468.4,290.2L470.4,289.5L472.4,289.1L474.5,288.9Z" fill="#cca4e4"/>
<rect x="451.6" y="287.9" width="43.2" height="56.2" filter="url(#n16)" clip-path="url(#lg5)"/>
<rect x="451.6" y="287.9" width="43.2" height="56.2" filter="url(#n17)" clip-path="url(#lg5)"/>
<rect x="451.6" y="287.9" width="43.2" height="56.2" filter="url(#n18)" clip-path="url(#lg5)"/>
<path d="M476.6,288.9L478.7,289.0L480.9,289.2L482.9,289.6L484.8,290.2L486.4,291.0L487.9,292.0L489.2,293.1L490.3,294.4L491.2,295.9L492.0,297.5L492.6,299.3L493.1,301.2L493.5,303.2L493.7,305.3L493.8,307.4L493.8,309.5L493.6,311.6L493.4,313.6L492.9,315.6L492.4,317.7L491.7,319.8L491.0,321.9L490.0,324.0L489.0,326.0L487.8,327.8L486.5,329.6L485.0,331.2L483.5,332.8L481.9,334.3L480.1,335.7L478.4,337.1L476.6,338.3L474.8,339.5L473.1,340.6L471.3,341.6L469.7,342.4L468.1,342.9L466.6,343.2L465.2,343.3L464.2,343.1L463.5,342.6L463.1,341.8L462.9,340.8L462.9,339.7L463.1,338.5L463.6,337.0L464.0,335.6L464.2,334.2L464.0,333.0L463.5,331.8L462.9,330.6L462.2,329.4L461.3,328.1L460.2,326.8L459.1,325.6L458.0,324.6L456.9,324.1L455.8,323.9L454.7,323.7L453.9,323.2L453.3,322.4L453.0,321.5L452.7,320.4L452.6,319.1L452.6,317.6L452.6,315.9L452.9,314.1L453.2,312.2L453.7,310.2L454.3,308.2L455.1,306.1L456.0,304.0L457.2,301.9L458.5,299.7L460.0,297.6L461.5,295.7L463.1,294.0L464.8,292.5L466.6,291.2L468.4,290.2L470.4,289.5L472.4,289.1L474.5,288.9Z" fill="none" stroke="#b276d6" stroke-width="0.6" opacity="0.75"/>
<g fill="#f6eefa" opacity="0.9"><ellipse cx="378.0" cy="333.5" rx="0.9" ry="2.0" transform="rotate(30 378.0 333.5)"/><ellipse cx="384.0" cy="334.5" rx="1.0" ry="2.2" transform="rotate(20 384.0 334.5)"/><ellipse cx="389.5" cy="330.0" rx="0.9" ry="2.0" transform="rotate(30 389.5 330.0)"/><ellipse cx="395.0" cy="326.0" rx="0.8" ry="1.8" transform="rotate(40 395.0 326.0)"/><ellipse cx="397.5" cy="322.8" rx="0.8" ry="1.6" transform="rotate(40 397.5 322.8)"/><ellipse cx="372.0" cy="336.0" rx="0.7" ry="1.2" transform="rotate(20 372.0 336.0)"/></g>
<path d="M216,313 L224,311.5 L229,312" stroke="#f6eefa" stroke-width="0.9" fill="none" opacity="0.8"/>
<path d="M463,314 L467,312.5 M470,312 L473,311" stroke="#f6eefa" stroke-width="1" fill="none" opacity="0.8"/>
<path d="M59,330 L66,318 L72,309 M64,312 L70,300" stroke="#fbf6fd" stroke-width="1.1" fill="none" clip-path="url(#lg0)"/>
<g fill="#ece0f3" filter="url(#rough)"><ellipse cx="111" cy="316.5" rx="4" ry="3.5"/><ellipse cx="115" cy="321.5" rx="4.5" ry="3"/><ellipse cx="109.5" cy="322" rx="2" ry="2"/></g>
<ellipse cx="497.2" cy="290.3" rx="4.2" ry="3.4" transform="rotate(40 497.2 290.3)" fill="#e8d2f2" stroke="#c490de" stroke-width="1.6"/>
<rect x="18.0" y="348.3" width="81.0" height="60.3" fill="#b98ce2"/>
<g clip-path="url(#c1_0)"><g filter="url(#soft)"><path transform="scale(.5)" d="M117 818l0 2 4 1 0-4-1-1zM51 818l4-2 0 1 0 3-3 0zM84 749l2-1 1-1 0-1-2-1-4 2zM174 744l3-1 1 2-1 2-4 0zM128 682l1 8-2 5-3-2zM162 764l-2-2 3-3 1 0 1 1 0 2zM85 794l-1 3 0 1 2 2 1 0 1 0 1-4-3-2zM83 752l-5-2 2-2 4 1zM54 743l0 1-5 2 1-3 3 0zM69 723l-1-1-5 2 1 2 1 0 4-2zM162 729l-1 0-2-4 1-2 1 0 1 0 1 2zM116 822l-3 0 2 5 1-2zM197 786l4 0 0 3-1 0zM126 726l-3-2-2 3 1 1 4 0 1-1zM55 820l1 4 2-2 0-2zM117 707l4-1-3-3-2 1-1 1 0 1 0 1 1 0zM136 797l5-1 1-3-6 1zM140 812l-2 0-2 0 0 3 2 1zM33 762l2 1 4-2 0-1-5 0zM108 697l1 2 1 0 1-2-2-2zM131 724l2-2 2 3-3 2-1-1zM179 756l-1 0-1 0-2 2 0 2 5-2zM120 789l-2-1-1 1 0 4 3-1zM55 802l1-3-3 1zM151 796l-1-2-2 0 0 4 3 0zM62 795l2 3-1 3-4-4zM64 699l0-2-2 0-2 4 1 0 1 0zM181 802l1 0 0 1-1 4-3 0-1-2zM186 755l-4-1 0-3 2 0zM146 787l0 1-2 2-1 1-3-3 0-1 2-1 3 1zM179 728l-2 2-1 0-1 0 0-3 2-2zM68 777l-3-1-1-2 2-1 2 1zM173 820l-3 2-1 0 2-5 1-1zM54 756l0-2 2 0 1 0-1 2zM188 748l-2-1 0-2 3 0 1 2zM133 693l2-4-2-23-4 14 0 1 1 8zM147 815l-1-1 2-3 1 2 0 2zM173 808l0-1 2-1 1 0 1 2 0 3 0 1zM147 725l-4-2 0-1 4-1 1 3zM166 715l1 4-4 2-2 0 2-6zM177 695l-4 2 1 2 3 0 1-3 0-1zM178 712l-2-4-4 3 0 1 4 1zM93 731l0 2 0 1 3 1 1-2 0-2zM150 712l4 0-3 3-2 0-1-1zM76 745l-3 0 0 4 1 2 1 1 1-1zM46 774l-2 0 2 3 0 1 2-3zM95 790l3-1 1-2-1-1-2 0-1 1zM141 746l1-1 3 2 0 2-2 1-1-1zM183 775l-1 1-2-1 1-1 1-1zM170 736l3 0-1-3zM123 718l1 0 2-2-2-2-2 3zM72 699l1-3 3 3-1 2zM73 794l3 0 1-1-2-1-2 0zM96 744l2 2-4 1-1-1 1-2zM143 751l0 2 1 2 2 0 1-1 1-3-1-1-2 0zM131 802l1 3 2 0 0-4zM159 736l-1-1-4 1 0 1 3 3 1 0zM108 742l-3-2 0-3 3 0 1 4zM47 719l3-3-1-2-3 0zM78 734l4-3 0-2-2-1-3 2-1 1zM83 770l3-2-4-2 0 2zM200 795l2-2 3 4-4 0zM167 793l1 1 2 0 1-1-3-2-1 1zM135 812l0 3-1 0-2-1 1-1zM43 754l0 2-3 2-1-1 0-3 2 0zM82 793l-2-1-1 1 3 2 1-2zM124 710l0-4-1 0-5 2 5 3 1 0zM197 744l4 2 1-2-1-3-1 0zM82 807l-4 0-2-2 4-2 3 1zM53 790l-2-4-2 1 0 3zM59 739l-1 6 2 1 4-6-2-1zM68 806l5 0 1-1-4-3-5 2 0 1zM95 821l4 2 1-3-4-1zM137 784l2 2 2-1 0-3-2-2zM119 731l1-3 1 0 1 4zM95 815l5 0 3 4-1 1-1 0-6-1zM161 737l3 0 1 4-2 1zM140 744l0-2 2-2 2 2-2 2-1 0zM94 757l0-1 3-1 2 2-2 4-1 0zM33 756l0 1-2 1-2-2 3-2 1 1zM200 730l3-3-1-2-2 0-1 0zM164 749l-2-3-3 3 0 2 4-1zM67 812l-3-1-1 3 2 0zM33 729l-1 2-1 0-3-1 5-2zM175 770l5 3 1-1 0-4-3 0zM174 771l1 5-1 0-5 0-1-1zM94 791l0 2-1 2-2 0 1-4 1-1zM33 748l-1 0-1 2 3 1 1-1zM96 753l1 1-3 1-1-1 0-2zM52 721l0-4-1-1-3 4zM171 768l2 2-5 4-1 0-1-2zM180 787l3 1 0 3-1 1-2-3-1-1zM134 730l2 1 1-5-1 0-3 1 0 3zM40 820l3 1 0-6-1 0-2 2zM124 792l1 0 1 4-1 2-1 0-2-4zM124 771l-1 2-2-1zM34 716l1-1 1-1-2-1-1-1-2 2 1 2 0 1zM151 767l-1-1-2-3-1 1-1 2 1 2 3-1zM55 820l2-1 1-1-2-1zM54 757l3 0 1 2 1 0-1 1-3 1-1-2zM53 790l-2-4 2-3 4 4-2 2zM80 706l-4-2-1 1 2 4zM36 714l-1-2 2-1 1 2-1 0zM64 762l-1-2-3 0-1 1 1 1 2 2zM110 819l-4-2 0 1-1 0 3 3 2 0 1-2zM196 799l0 1 2 0 2-2-2-2-1-1-1 0zM145 802l1 5 0 1 3-4-1-2-2-1-1 0zM193 690l3-5 1 3 0 4-2 1zM47 736l-1 1 1 2 2 1 2-2-2-2zM45 773l-1 0-1 0 0-2 2-2 1 0 0 3zM81 705l-4-2 0-2 0-1 3-1 1 4zM156 777l3-4 3 6-4 0zM133 695l2-4 3 3-3 3zM104 783l1 1 2-1 0-2-1-1-2 1zM55 741l3-1 0 4-2 1-1-1 0-1zM28 700l5-3 2 1 0 2-1 1zM67 747l-2-2 2-3 1 3 0 2zM109 807l3 3 0 2-2 0-2-1 0-2zM82 686l4 5-1 3-3-4zM44 814l-1 1 0 6 1 2 2-5-2-3zM161 736l2 0 1-2-2-3-2 0 0 1-1 3 0 1zM51 739l-2 2 1 1 2 0zM88 811l-1-3 1-3 3 2-1 4zM101 699l1-1 1 0 1 2-1 1-2 0zM194 773l0 3-3 0 1-5 1 0zM45 703l3 2 3-1 0-3-3 0-1 0zM108 701l4 5 2 0 0-2-3-5-2 1zM143 774l-1 1-3-3 1 0 3 1zM36 798l-1-1-4-1-3 1 4 4 4-2zM149 784l-2 2-1 0 0-2 2-2zM60 690l-4 1 1 3 1 0zM143 820l-1-2 1-2 2 3-2 2zM91 791l-1 4-3-3 0-2zM41 712l-3 0 0-2 0-2 2 2zM75 762l1 3 2 1 2-1-2-4zM126 754l-2 4 1 1 3 0 0-5-1 0zM101 765l4 3-2 2-2-1zM202 752l-2 2-1 0-1-2 0-2 2-1zM96 762l1 0 3 2-3 2-1-1zM138 725l2 0 1-2 0-1 0-1-3 0zM143 767l2-1 1 2-2 2-2-1zM36 697l2 1 3-1 0-3-4 2zM92 698l2 1 2-1 0-4-1 0-3 0-2 3zM143 695l-1-3-2 2 1 3zM43 703l-2 0-3-5 4 0zM76 772l1-1 1-5-3 0-2 3zM173 724l-3 0-1 2 4 0zM76 805l3-3 0-3-3 1zM163 707l-3-4-1 0 0 1 1 4zM172 800l-5 3 0 1 2 2 3 0 2-1 0-3zM62 774l-1 1-3 2-1-4 1 0 3-1zM64 720l-2 1 0 2 1 0 4-2-1-1zM114 759l5 1-2 3-3-3zM113 760l4 4-2 1-5-1zM63 793l2-2 2 5-4-1 0-1zM76 815l5-1-3-3-3 2zM57 754l4 0 0 1-2 3-2-2zM98 777l-2 0-4-1-1-2 0-1 4 0zM118 696l1-1-1-3-2-2-1 4 2 2zM173 798l1 0 3 1-3 2-1-2zM195 778l-2 5-3-6 1 0 3 0zM60 748l0-1-2-1-1 0-2 3 2 1zM105 773l-1 2 1 1 4-2-1 0-1-1zM99 778l-1-1-2 1-1 3 1 1 1 0zM64 736l-1 3 1 1 2 0 1 0 1-3-1 0zM126 748l-2 0-2-2 3-1zM51 819l-2 2 0 1 2 1 1-3zM153 801l-3 1 1 2 1 0 2-1 0-2zM92 815l2 0 0 3 0 2-1 0-3-1 0-1zM176 823l0 8-5-8 3-2zM65 753l-2 2-1 0-1-1 1-2zM98 776l-2-3 1-3 1 1 1 5zM70 704l1-4 5 2 0 1-2 2zM115 775l-1-2-3 2 0 3 2 1 2-3zM98 728l1-2 1 0 1 1 1 1-2 4-1 0-1-2zM170 749l-1 1 0 3 1 1 1 0 4-2zM76 730l-2-3 4-2 2 3zM195 820l2-2 2-1 0 1 1 2-3 2-2-1zM141 726l1 2 1 1 3-2 0-1-4-2zM157 717l1 4-5-1 0-3zM84 763l2-3 2 0 0 4zM99 733l-3 2 1 1 1 2 3-1 1-2-2-1zM200 714l2 2 2 0 2-1-1-2-3-2-1 0zM43 715l-2 3 0 1 4 1 1-1-1-4-1-1zM179 694l1 0 5 0 0 2-2 2-3-3zM148 750l1-4 3 0 0 1 0 3-3 1zM102 784l1 0 1 1-3 2-1 0zM80 759l0-2 3-1 2 3-3 1zM76 744l-3 0-1-2 2-2 3 0 0 3zM78 750l-1 0-1-5 2-1 1 1 1 2zM112 795l1 4-2 0 0-4zM141 766l2 1 2-1 0-2-2-1zM184 716l1-1-1-1-3 1 0 1 2 1zM48 746l-4-1 0-3 2-3 3 2 0 2zM54 762l0 4 0 1-3 0-1-4zM128 707l0-1 4 0-1 2zM153 766l3-4 1 3zM103 818l-3-3 2-4 4 2-1 4-1 1zM179 721l-2-2 3-2 2 1 0 2 0 1-1 0zM60 815l-2-3-2 2zM57 792l-2-3-1 1-1 1 0 3 3 1zM86 736l-5 2 3 2 3-2 0-1zM125 816l0-3 1 0 2 2 1 1-1 1zM158 741l-1 0-2 2 0 1 2 0 2-1zM80 822l-2-2-1-1 5-1zM74 784l-1 1 0 1 2 1 2-1zM199 791l2-1 0 2-2 2-2 0zM157 788l-1 1-3 0-1-1 1-3 1 0 3 1 0 1zM135 797l7-1 1 2-5 2-2-1zM185 813l1-3 1 0 3 2-1 2zM188 706l2 0 3-5-4-1-2 2 1 3zM97 752l0-1-3-2-1 2 0 1 4 1zM74 694l3-2-4-4-1 2 1 1zM77 794l1-1 4 3 0 1-2 1-1 0zM33 710l0 2-2 2-1-1 0-4zM82 760l1 3 2-3zM90 812l1-5 2 0 2 4 0 1-1 1-2 0zM63 767l0-2 2-2 2 0-1 4zM165 815l2 0 1 1-1 1-2-1zM183 705l1 0 3 1 0 1-4 2-1-2zM170 779l-3 1 1 2 2 0 0-2zM61 791l-3-4-2 2 2 3zM45 731l0-1-2-1-2 3 2 1zM73 792l1-1 0-1 0-1-2 1 0 1zM91 702l1-3 2 0-1 4-1 1zM148 762l3 2 2-4-5 0zM188 790l-2 1-2 0 0-3 1-2 2 0zM101 754l-3 1 1 2 3 0 0-2zM115 808l-3 1-3-2 2-1zM54 745l1 1-2 3-2 1-2-4zM91 772l-1 1-2 1-4-3 4-3 1 0 1 0 1 2zM159 709l-1-4-3 2 0 2 1 1zM85 820l-2-2 0-1 0-1 3 0 2 2 0 1-1 1zM36 800l-4 2 1 2 3 0 1-2zM191 811l4 2 1-1 0-2zM157 780l-1-3-1 0-2 2 1 4zM153 767l3-1 1 4-2 0zM168 753l2 2-1 4-3 0-1-1 2-4zM66 700l4-1 1 1-1 4-1 1-3-2zM188 790l-1 2 1 2 4-2-3-2zM59 798l3 3 1 1-4 1-1-4 0-1zM82 773l-4 1 0 1 2 3 2 0 1-2zM94 719l-2-3-1 0-1 0 0 1-1 2 3 1zM60 701l2-4-1 0-3-1-1 1 0 2 2 2zM46 801l0 1-1 2-3 0 0-2 2-2zM124 760l0 3 0 1-6 0 2-5 1 0 2 0zM115 718l2 0 2-1-1-2-2 0-1 1zM108 806l-1-1-2-1-1 1-1 3 4 1zM191 722l3 0 1-3-2-2-1 0-2 3zM158 752l-3 0 2 5 3-2 0-1zM170 737l0 3-3 1-1 0 0-1 2-4zM125 741l-4-2 0-1 3-3 2 1-1 4zM180 815l-1-2 3-1 2 2-2 2zM142 821l-2 1 0 1 3 5 0-6zM161 799l-2 4-4-1 0-1 2-2zM186 727l3 0 1-1-1-2-3 0-1 1 0 1zM202 741l4-1 10 1-13 3zM116 709l-1 0 0 1 1 4 2 0 0-2zM174 736l1 0 1-2-1-3-1 0-1 1 0 1zM152 717l0 3-4-2 0-2 3 0zM92 740l0 2-3 2-1-5 4 0zM73 695l-3 0-1-1 3-2 1 2zM164 817l-1 1 1 3 2 0 1-3zM69 709l2 4-2 1-3-4zM89 701l0-3 1-1 1 1-1 3zM145 737l-2 0-1 1 0 1 3 2 1-4zM129 810l-3 2 2 2 2-3zM195 769l1-1-4-2-1 0 0 2 1 2 1 1zM47 759l-1 0-2 2 3 1zM182 747l0-1-3-1-1 3 0 1 1 0 2 1zM166 710l-1-2 0-1-1 0-4 2 2 3zM63 726l-1 1 0 2 2-1 1-1zM134 801l1-2 2 2 2 2-3 2-1-1zM69 772l1-2-3-2-1 1 0 4 2 0zM123 750l-2 1-2-2 0-1 1-2 1 0 2 3zM131 801l-1 0 2-3 2 0 1 1-1 1zM71 758l-2 2-3-3 1-2 4 2zM112 728l-1 3 3-1 0-1zM133 741l-1 0-2-1-1-3 3 0zM50 759l0 3 0 1-2-1 0-3 1 0zM172 808l0-1-3-1-1 5 3 2zM201 740l0 1 3-2-2-2-1 1-1 2zM108 799l-3 2-2-2 1-2 3-1zM156 717l-3 0-1-1 3-3 1 2zM143 802l-2 1-1-1-1-1 4-2 1 2zM192 713l1-4 1 0 1 2zM173 797l-1-3 0-1 4 0 0 1-2 3zM71 731l2-3-3-3-1 1 0 3 1 1zM197 739l1-4 2 2 0 3zM81 786l-2-1-1 1 0 2 2 0 1 0zM51 755l-2-2 0-1 1-1 1 0 2 2 0 2zM89 766l0-2 0-3 0-1 5 2zM138 778l-3-6-2 3 0 1 1 2zM107 809l1 2-2 1-4-1-1-2 1-1zM177 817l-4-2 4-2 1 0 1 2zM109 788l-2 2-2 0 1-2 4-2 0 1zM101 726l6 0 0 1-3 2-1-1zM173 727l-4 0 1 2 3 1 1 0zM70 796l-2 0-2-5 1 0 1 0zM156 808l-2-4-2 1 0 3zM52 805l2 3 0 1 2-4-1-1zM198 702l1-1-1-3-4 2 0 1zM84 785l2 3 0 1-4-1 0-2zM33 696l2 1 1 0 0-2 0-2-1-1-3 1 0 1zM36 805l-3 0-1 2 6 2zM86 735l3-3-1-1-3 2zM168 732l2-2 2 1-4 3-1 0zM161 737l1 5 0 1-2 0-2-2 1-5zM78 742l0-2 1-1 1 0 3 2 0 1-3 1zM183 803l-1 5 1 1 2-1-1-4zM179 742l0-2 5 0-1 3-1 1-3 0zM153 790l-1 2 2 1 2 0 0-3zM38 707l3 2 3-1 0-2 0-2 0-1-1 0-2 1-1 1zM164 787l0-1-1-3-3 1-1 2zM170 736l-1-2 3-2 0 1zM88 702l2 0 1 2 0 1-2 1-2-2zM107 701l-2 4 1 2 5-1-3-5zM124 776l3 0 0-3 0-1-2-1-2 3zM133 696l1 1-1 2-2 1-1-3zM135 793l1-3 3-2 4 4-1 0-6 1zM51 771l2 1 2 0-1-5-3 1-1 1zM173 718l-1-5 4 1 0 4zM192 822l-1 3-2-3 1-2 2 1zM74 778l2-2 3 3-1 2-3 0-1-2zM191 694l0 1 3 3 0-3 0-1zM175 722l-1 0-2-3 1 0 2-1 1 1zM170 741l-3 1 3 6 2-1 1-3-2-3zM110 815l-4 2 0-4 2-1 2 1 0 1zM203 815l-3 2-1-1 0-2 2-2zM53 821l-1 2 3 5 1-3-1-4 0-1zM74 807l-1 3 0 2 1 0 4-2-1-2-2-2-1 0zM190 694l-4 0 0-1 0-5 5 4zM193 798l2 1 1-4-1-1-2 3zM98 804l0 3-1 0-2-1 0-2 2-1zM85 735l0 1-4 2 0-1 3-3zM62 817l-1 1 0 3 1 0 2-2zM73 819l2-1 1 1 1 2-2 2-1 1-1-4zM96 719l1-3 2-1 1 2-1 3zM104 789l1-1-1-3-2 3zM165 706l2-2-3-2zM195 778l3 2-2 4-2-1zM41 802l0 2 0 1-4-1 1-2 2 0zM207 804l-8-3 0 4 2 2zM130 808l0 1 1 2 1 1 3-1-1-2zM118 697l2 3 0 1-1 0-3 2-1-4 2-2zM195 820l1-3-2 0-2 0 1 2zM117 696l-2 2-2-1 0-2 2-1zM179 788l0 1-2 3-1-2 2-2zM45 788l0-2 3 1 0 2-1 2zM88 696l-2 0 0-1 2-3 2 0 1 2-1 2zM50 796l2-1 1 4-1 1-1 0-2-1zM137 720l-2 0-1-2 2-2 1 0zM150 779l-2-4-2 4 2 1zM160 791l0 1-2 2-2-2 1-2 1-1zM156 808l-4 0 0 1 2 2 2-1 1-2zM163 812l1 3 0 1-2 1-2-1 0-2zM61 728l-2-2-2 1 0 1 3 2 1-1zM34 705l2 1 1 0 1-2-3-3-1 1zM118 725l2 1 2-2-1-2-3 1-1 1zM80 792l0-3-2-1-1 2 1 2zM91 786l0-1 2-1 1 0 2 2-2 1zM182 710l0-1-1-1-3-1-1 0 0 1 1 4 1 0zM64 774l1 3-1 2-2-3 1-2zM76 717l0-4-3 1zM94 693l0-9 0-1-3 7 1 2zM108 694l-1 2-3 0 1-2 2-1zM72 718l-3-3-1 2-1 2 1 2 1 1zM87 704l-1 0-2 4 4 1 1-3zM88 812l2 0 2 1-3 4-3-2zM180 728l-2 2 2 2 3-1-1-3zM35 796l1-3-2-2-1 0-2 4zM72 732l-1 0-2 0-1 3 0 1 1 0 1 0 2-2zM83 752l0 2 0 1-4 1-3-3 1-1 1-1zM123 781l0-3 1-1 2 0 1 1-2 2zM202 798l-3 3 1 0 7 2 9-3-10-2zM164 773l2 2-2 4-2 0-3-6 1-1zM126 781l2-2 2 1-1 3zM83 807l1 0 2 0 1-3 0-1-1-1-2 2zM100 707l3 3-1 1-2 0-3-2 1-1zM69 816l3 3 0 1-5 1 0-2zM201 760l0-1 0-2 2 0 1 4zM192 796l-1 0 2-3 1 1zM96 811l4-2-2-1-1 0-2 3zM88 749l1 1 0 2-2 1 0-4zM115 736l1-3-2-2-3 1 1 3 2 1zM166 694l0 4 1 0 4-1-1-2-2-1zM65 804l5-2-2-2-3 3zM139 759l-2-2-2 3 2 0zM92 704l2 0 1 0 2 4-1 1-1 0-4-3zM136 766l-1 5-1 0-3-3 0-1 0-1 0-1 2 0zM144 730l3-3 1 4-3 0zM176 706l0 1-4 3-1-2 0-2zM111 805l-2 1-1-1 2-3 2 1zM109 768l1 1-1 4-1-1zM43 727l2-2 1 1 1 2-2 2-2-2-1-1zM196 778l3 2 2-4zM95 761l-1-3-4 1 0 1 4 1zM163 795l3-1 1 1 0 2-2 3-3-1 0-1zM73 777l-4-3 0 4 4 0zM123 768l1-2 0-2-5 1 2 2zM65 732l1-2 2 0 1 1-1 3zM161 694l1 2 1 2 1-1 1-3-1 0-1-1zM195 716l3-1 1 0 2 2-2 1-1 1-2-1zM115 814l-3-2-1 1 0 1 3 2 1-1zM75 720l-3 2-2 1 0-1 3-3 2 0zM210 813l-8-3 0 1 2 4 2 0zM122 698l2 0 2-1 0-1-2-2-1 0-2 1zM137 725l-1 0-2-3 1-1 2 0zM62 815l3 3 1 1 3-3-4-2zM137 750l4-1-1-4-1 0-1 0-2 1 0 2zM37 738l2 3 2-1 0-2-1 0zM74 762l-3 3 1 3 3-3zM163 730l1-5 3 2-2 2zM109 765l0 2 1 1 3 1 1-3-4-1zM51 767l-1-3-2 0-1 2 0 2 3 0zM180 820l4 2 1-1 0-2-3-2zM128 822l-5 1-1-1 0-1 3-1zM153 766l3-4 0-1-1-1-1 0-2 5zM109 754l0-3 2-1 2 4-1 1zM151 722l1-1-4-3-1 2 1 4zM154 753l1 0 1 4-1 2-1-1-1-3zM148 819l2-1-1-2-2 0 0 3zM71 744l-2 1-2-3 0-1 4 1zM75 695l2 3 3-1-2-3zM136 772l2 0 3 4-3 2zM95 812l0 1 0 1 5 0 1-3 0-2-1 0zM89 801l-1 1 1 2 2 3 2 0 1-1 1-2-3-2zM91 724l-4 0 0-1 1-3 1 0 2 1zM188 698l0 1-2 2-2-1 0-1 2-2zM66 753l1 1-2 2-1 1-1-1 2-3zM116 820l-3-1-1 1 0 1 4 0zM128 735l-1 0-3-1 3-4 3 2zM189 777l-2 3-4-1 4-3zM189 734l-2 2 0 2 1 1 4-1 0-4zM103 736l-2 2 1 2 1 0 2 0 0-3-1-1zM177 821l-1 1-2-2-1-3 0-1 3 2zM173 748l3 0 1 1-2 3-3-3zM176 786l-2 2 0 1 2 0 1-2zM119 713l0 2 1 1 1 1 0-1 0-3zM65 784l2 3 5-1 1-2-3-1-3 0zM170 779l0-2 3 0-1 2-1 0zM49 691l-1 1 1 3 3 0 0-1 0-2zM34 722l0 1 1 1 1 0 4-4 0-1-1 0-2 0zM129 746l-1 2-1 0-1-3 1-1 2 1zM64 729l2 1-2 1-2-1zM111 796l-3 1 1 2 1 1 1-1zM144 695l-1-4 1-4 3 8-3 1zM114 716l1-1-1-4-3 2 1 2zM179 812l-1 0 0-3 3 0 1 1-1 1zM125 787l-1 2 1 2 2 0 1-3-1-1zM151 798l-3 1-1 1 2 1 3-1zM76 720l2 3 1-1 1-1-3-3-1 0zM160 817l2 1 1 3-2 2-2-6zM72 769l-1-3-3-3-1 5 4 1zM139 766l2 3 1 0 0-2-1-1zM169 817l2 0-2 4-1 0-1 0 1-3zM193 798l-2 2 1 1 1 1 2-2 0-1zM102 794l2 2 3-1-1-3 0-1-1 0-1 0zM68 812l0-1 4 0 0 2-2 2zM80 823l-3-2-1 2zM85 725l-6-2 0 1 0 1 1 3 2 0 2-2zM87 754l-1 0 3 3 1-2-1-1zM184 817l1 1 4-2-1-1-3-1zM105 804l0-2-2-2-1 0-1 3 2 1zM147 746l0-3-2-1-3 3 4 1zM63 795l5 2-4 1zM148 708l-2-1-1 0 0 3 2 0zM164 771l-4 0 1-5 1 0 2 1zM145 696l2-1 1 1-1 3-2-1zM116 814l2 0 1 0 1 2-3 2-1-3zM98 761l1-3 3 0 1 4-2 1zM36 739l1 0 2 2-1 1-4 1-1-1 1-1zM142 651l1 26 0 5-1 3-2 2-1 0-2-3-2-19 5-35zM196 778l4-2 0-2-1 0-4 3zM118 747l-3 0-4 1 0 1 3 4 4-4zM52 701l-1-1 1-4 5 1-1 2-2 2zM171 681l1 10-1 2-3 0zM38 758l-4-1 0 1 1 1 4 0zM130 769l-2 3 0 1 5-2zM184 813l2-3-1-1-2 1-1 1zM153 699l2-2 0-2-4 0-1 0 2 4zM190 775l0 1-1 0 0-6 1-1 2 2zM62 734l-1 0-2 2 1 2 2 1 1-3zM129 778l-1 0 4-2 1 2-1 2-2 0zM100 788l-1 1 1 4 1 0 2-3-2-2zM47 803l2 2 0 1-3 2-1-4zM132 821l4 3 1-1 0-2-3-1zM104 711l-1 1 1 2 1 1 1 0 1-2-2-3zM45 777l-1-3-2 0-2 1 3 3zM195 719l2 0-1 4-1-1zM113 794l2 0 1-1 0-4-1 0-3 3zM65 699l-2 2 2 2 1 0 0-3zM51 817l-2-3 4 0 1 0 1 1 0 1zM168 713l1 0 1 6-1 0-1 0-2-4zM86 723l-3-3 0-1 2-1 2 2zM118 770l0-4 0-1-1 0-2 1 0 3 0 2zM128 682l-4 11-1 0-1-3 6-9zM196 710l1 1 1-3 0-1-2 0-1 1zM170 766l1-4-2-2-3 0 0 2 2 3zM139 779l3 2 1 0 1-2-2-2zM179 696l3 3 0 1-1 1-2-1-1 0zM118 691l3 0 1 3-1 1-2 0zM52 692l0 2 4 0 0-3-3-1zM181 735l4 1-2-4-3 1zM121 794l-1 2-1 2 3 1 2-1-2-4zM151 817l2 0 0-2 0-1-3-1-1 3zM115 787l1 0 1 0 1-2-4-2 0-1-1 4zM183 705l0-1 0-3-2 1 0 2zM178 755l0-5-2 3 1 2zM55 809l3 1 1-2-1-2-1 0zM33 705l3 2-3 2-3 0 1-4zM78 735l4-3 1 1-3 5-1 0zM106 732l2-1-1-3-3 1zM84 752l0 2 1 0 1-1 0-4-2 1zM171 680l-3 13-2 0-1-1 5-16zM55 701l2-1 2 1-2 3zM88 737l0 1 0 1 3 0 1-4zM160 791l-2-2 1-2 4 0-2 3zM188 784l-1-3-4-1 0 3 2 2 2 0zM81 697l-1-4 1-2 4 4-1 1zM194 790l-1 2 1 0 1 2 1 0 1-3-2-1zM95 811l-2-4 1-1 2 1zM201 810l0-1-5 1 1 2 1 1zM108 749l-1 0-1-2 0-2 2-1 1 1 1 3zM39 788l-1 2 1 1 3-2zM197 785l4 0 0-2-2-2-2 3zM190 811l2-4-3-1-2 3zM142 759l2-3 2 1 1 3-1 2-3 0-1-1zM90 758l0-1 0-2 2 0 1 1 0 1zM84 709l-1 3 0 1 3 1 1-3 1-1-1 0zM116 777l-3 3 1 1 4-1 0-1zM131 788l0 4 3 0 1-2-2-3zM65 727l4-2-1 5-2 0-1-2zM143 721l3-1 1-2 0-1-5 2 0 1zM152 808l-1-3-1 0-3 3 2 2 2-1zM125 713l0 1 2 1 1-1-1-1zM44 702l-1-4 2 0 1 2zM167 775l-2 4 2 1 2-1 0-3-1-1zM118 709l4 2-1 1-2 0-2-3zM147 714l-4-1 2-3 2 1zM74 753l-3 3-3-2-1-1 1-2 5 1zM73 695l-2 4-1 0-1-2 0-2zM200 719l1 4 1 1 0-1 2-6-2 0zM96 720l3 1 1 1 0 1 0 1-1 1-2-1zM64 773l1 0 0-4-3-1 0 3 1 2zM92 790l-5 0 0-1 2-2 1-1 1 0zM47 700l1 0 0-4-3 0 0 1zM83 702l-1 0-1-3 0-1 3 0 1 3zM97 770l0-1 0-2 3-2 0 4-1 1zM42 748l-1 4 2 1 2-2zM130 765l-5-1 0 2 2 1 3 0zM159 731l-3-1-1-3 3-1 1 4zM179 722l-2-2-2 3 2 1zM166 743l-1 0-2 0 0 1 0 1 1 3 3 1 1-2zM196 810l5-1 0-2-2-1-3 1zM42 773l-2 1-2-1 1-3 1-1 2 2zM105 735l0 1 4 1 2-2-1-3-2 0-2 1zM200 705l2 0 1-2-2-1-1 0-1 1zM195 756l0 3 2 1 3-2 1-2-1 0-1-1zM107 723l1-2 1-1 3 2 0 1-1 1-3 1zM126 806l-2 2-3-1 2-2 3 0zM42 779l-3-2-1 2 1 3 1 0zM156 697l1 1 3-1 0-3-3-1-1 2zM119 772l1 0-1 3-3 0 0-3 2-1zM57 797l0 2-1 0-2 0-1-4 3 1zM71 795l-2-4 2 0 1 1 0 2zM37 732l-1 2-1 0-2-3 1-2zM145 736l-1-4-1-1-2 3 2 2zM134 741l2-2 0-2-4 0 1 3zM184 712l3-2 0-2-4 1 0 1zM28 701l5 1-1 2-1 0-4-2zM123 768l1 2-4 1 1-3zM98 803l2 0 1-3-3 0zM98 738l3 0 0 2-2 1 0-1zM52 805l1 3-2 1-1-3 1-1zM88 775l2-1 1 3-3 1-1-2zM172 767l2 2 3-2-1-3-2-2-2 1-1 3zM48 821l-2-2-1 5 3-2zM70 705l3 0-1 3-3-1 0-2zM158 780l4-1 1 1 0 2-4 1zM110 779l-2 1-2-1 0-2 3-2zM194 805l-1-2 3-2 2 0 0 4-2 1zM188 794l1 2 1-1 3-2 0-1-1 0zM134 809l2-3 2 2 0 3-2 0-1 0zM39 690l-3 3 1 2 4-2zM45 721l0 4 2 0 1-1 0-3-1-1zM35 768l-1 1 0 3 3 1 1-3zM128 750l3 1 0 2-1 0-1 0-1 0zM36 766l-1 2 3 1 1-1zM139 766l1 3 0 2-2 0-2 0 1-5 1 0zM56 816l3 2 1-1 1-1 0-1-5 0zM80 760l-1 1 1 4 1 0 1 0 1-2-2-2zM108 767l-1 5-3 0 0-2 2-2zM189 733l-1-3 2-3 1 0 1 6zM91 780l0-2-3 1-1 2 2 1zM67 761l1-1-3-3-1 3 2 1zM84 771l3 3-1 2-2 0-1-3zM101 722l2-3 1 0 3 1-1 2zM31 772l0-3-5-3-22 3 26 4zM93 725l1 2 3 1 1-2-2-1zM151 728l-1 4-1-1-2-4 0-1 1 0zM94 790l1-3-4-1 2 4zM148 709l-1 2 1 2 1-2 0-2zM64 745l2-3 0-1-2-1-3 6zM154 784l4-3 1 3-1 2zM83 789l-1 0 1 3 1 1 2-1 0-2zM52 739l3 1-1 2-1 0zM175 784l-2-1 1-2 2 1 0 1zM148 781l-2-1-1 0-1 2 2 1zM88 821l1-1 4 1-1 4-4-3zM86 715l3 1 1-1-2-3-2 2zM199 767l1-2 2 0 1 1 1 1-3 3zM40 746l-2-3-3 1 0 1 3 2zM103 805l-2-2-3 1 1 3 2 1 0 1 1-1zM58 696l-1 1-5-1 0-1 1-1 3 0 1 1zM106 716l2 3-1 1-3-1 1-3zM111 800l0 1 2 2 2 0 1-1 0-2-3-1zM73 732l-1-1 2-3 2 2 0 1zM60 749l-3 2 0 2 4 0 0-1zM36 715l3 3 1 0-2-4zM41 748l-2 1 0 4 2-1zM186 730l1 1 2 3-3 2-2-4 0-1zM160 805l4 0 2-1 0-1-1-2-3-1-2 4zM134 784l0 1-1 1 3 4 3-3-3-3zM141 817l-2 0-1 0 2-5 1 0 2 3 0 1zM122 718l0 2-4 2 0-3 2-2 1 1zM69 810l3 0 1-4-5 1zM180 759l1 2-4 2-3-2 1-1zM100 780l0 2-2 2-1-2 2-3zM89 767l-2 1-5-3 1-1 1 0 4 1zM68 812l1 3 0 1-3-2zM64 803l0-1-1-1 1-2 3-1 0 1zM39 794l-3 3 1 0 2 0 1 0 0-2zM163 731l2 2 1 1 1-3-2-1zM93 784l0-2 2 0 1 0-1 2zM103 819l-1 1 4 7 1-5-3-3zM56 773l1 4-2-1-1-1 0-2zM65 733l2 2 0 1-3-1-1-1zM84 803l2-2-3-3-3 1 0 3zM129 735l1-3 2-1 1 1-1 4-2 0zM127 720l-3-2-1 0-1 3 1 2 4-1zM135 715l-2-1-1 1 0 2 2 1zM72 821l1 4-3 8-3-10 0-1zM86 704l-2 4-1 0-2-2 1-2 2-1zM188 708l1 0 1-1 2 2-1 4-3-3zM156 793l1 1 0 3-2-2 0-1zM61 689l0 1-3 4 0 1 4 1zM102 750l0-1 3-1 1 1-2 2zM48 758l-2 0-1-1 3-3 1 4zM171 737l0 3 1 0 3-2-1 0-1-1zM107 709l0-1 4-1 2 0 1 1-1 1-2 3-2 0zM101 750l0-1-1-2-1 0-1 3 0 2zM103 755l-1 2 4 0 1-3-2 0zM198 772l1 1 1 0 0-2 0-1-1-2-2 0-1 1zM172 741l3-2 2 1 0 2-3 1zM129 807l-2-1 0-1 1-3 1 0 1 1 1 2-1 2zM149 708l-2-2 3-2 0 3zM130 767l-3 1-2 3 2 1 3-4zM55 707l0 3 2 2 3-2 0-3-2-2-1 0zM126 740l1-4 1 0 1 1 0 2 0 1zM39 775l-1-2-4 0-1 1 0 3 4 1zM162 714l-5 0-2-2 0-1 1 0 3-1 2 3zM183 705l-2 2-3-1 3-2zM107 743l-2-3-2 1-1 3 4 0zM128 777l-1-1 1-2 4 1 0 1zM120 814l3-2 1 1-1 2-1 1-1 0zM118 750l-3 4 4 2 1-4zM176 755l-1-2-3 2 2 2zM176 705l1-4 0-1-4 0 0 2zM42 792l1-3-1 0-2 2zM139 708l2-3 4 2-1 2-2 3-1 0-2-3zM180 735l-3-1-1-2 2-1 2 2zM171 782l1 1 0 1-2 2-2 1-1-1 1-3zM125 709l0-3 1-1 1 1 0 1 1 3zM73 813l1 1 1 1 0 2-3 1-2-2 0-1zM200 780l1 1 3-3-2-1zM95 790l3-1 1 5-4-1-1-3zM65 704l-1 1-2 0-1-3 1-1zM30 783l3-5 4 1 0 3-2 1zM192 753l6-1-1-3-2-1-2 1zM100 775l2-1 1-2 0-1-2-1-2 1zM93 749l0-1-1-2-4 0 0 2 2 1 2 1zM171 718l-1 0-1-5 2 0 1 0 0 5zM146 769l1 4-3 0 0-1 0-1zM44 768l-2-2-1 2 1 2zM38 758l-4-2 0-2 1-1 3 1 1 0zM124 819l-2 1 0-3 2 0zM143 731l-2-2-4 3 1 1 2 0zM126 725l-3-1 0-1 4-1 0 1zM128 822l-3-3 0-2 4 1 1 2zM52 804l2-1-1-2-2 0zM158 818l3 6-1 1-3-2-1-4zM37 766l4-3 0 1 0 2-1 1zM55 803l2 1 1 0 0-1-1-3zM138 744l-3-3 1-2 2 1 1 2 0 2zM54 777l-3 1 0-2 2-1zM89 719l0-2-3-1-1 2 3 1zM179 790l-2 2 0 1 0 1 2 0 3-2zM113 723l0-1 2-4 2 1 0 3-1 2zM42 793l-2 2-1-2 0-1 3 0zM154 770l-3 4-2-1 2-5 1-1zM135 698l1 0 3 2 0 1 0 2-3-1-2-2zM38 809l-6-1 2 4 5-2zM177 694l-4-2-2 2 1 3zM112 698l-1 1 4 4 0-1 0-3-2-1zM170 780l3-1 0 2-1 2-1-1zM46 731l3 2-1 1-2 1-1-4zM161 792l2 2 2-1 0-1 0-1-3 0zM157 744l-1 3-3 0-1-1 2-2zM134 720l-1 1-3-3 2-1 2 2zM111 818l-1-3 1-1 2 2 0 2-2 1zM48 696l1-1 2 0 1 1-1 3-2 0zM117 813l-1 0 1-4 2 0 0 1-1 3zM117 736l0-3 2-1 3 2 1 1-3 2zM186 721l-3-1-1 2 3 2zM167 781l-2-2-1 1-1 3 2 3 1 0 1-4zM78 770l1-4 1 0 1 0 0 2zM45 706l3 2 0-1 0-1-3-2zM138 727l-2 4 1 0 3-2-1-2zM178 821l-1-3 3-2 1 1-2 3zM127 749l1 0-1 4-1 0-2-3 0-1 2 0zM96 737l2 2 0 1-2 1-1-2zM181 784l1 0 3 1-2 2-3 0zM51 759l0 3 2 0 1-1-1-2zM131 746l1 3 3-1 0-2-4-1zM119 814l3-2-2-2-1 3zM127 726l1-3 2 1 0 2-2 1zM115 729l0 1 2 2 1-1 1-3-2-2zM151 823l5 0-1-5-1 0zM113 756l2-1 4 1 1 2-1 1-5-1-1-1zM62 768l-1 0-3 0 0 4 3-1zM101 721l2-2-2-2-1 0 0 3zM92 751l-2-1-1 3 1 1 2 0 0-2zM77 735l1 3-1 2-3-1-1-1 3-3zM180 715l0 1-3 2-1-1 1-3 1-1zM127 720l-2-2 2-2 3 2-1 1zM72 787l0 2 2 0 0-1-1-2zM118 696l2 4 2-2-1-3-2 0zM60 734l-2 1-2-7 5 2zM158 772l0 1-2 3-1 0-3-2 3-3zM124 711l-1 1-1 0 0 3 2-2zM83 783l1-1-2-2-1 0-2 2 1 2 2 0zM191 746l0-1 0-1 3-1 1 1-1 3-1 1zM187 721l-1 2 4 0 0-1 0-2-2 0zM186 720l-3 0 0-2 2-1 2 2zM157 765l4 0-2-3-2-1 0 1zM72 748l-3-1 0-2 3-1 0 1zM33 754l-1 0-2-3 1-1 3 2zM151 790l0 1-1 2-2 0-2-2 2-2 3 0zM61 716l-3 0 0 3 3 2 3-2zM63 726l-1-2-1 0-2 2 3 1zM111 716l0-2-3-1-1 3 2 3zM174 790l1 0 1 2 0 1-4 0 1-2zM197 813l-2 1 0 2 2 1 2 0-1-4zM123 782l2 0 3 1-1 2-2 1-2-3zM99 777l0 1 1 1 3 1 2-1 0-2-2-2zM189 790l3 2 1 0 0-2-2-2zM104 697l1 3 2 0 1-1-1-2zM125 705l-2-2-3-2-1 1 4 4 1 0zM94 714l0-3-2 0-1 4 2 0zM49 800l2 1 0 3-2 1-2-3 0-1zM60 702l2 3-2 1-2-1 1-3zM157 698l1 4 1 0 1 0 3-2 0-1-2-2zM46 752l2 0 0 1 0 1-3 2-1 0 0-2zM100 716l-1-1 1-2 2 0 1 2-2 1zM45 768l-3-2 0-2 4 2 0 2zM121 768l-2-2-1 4 1 1zM190 784l2-1-3-5-1 3 0 3zM48 780l2 0 2 3-2 3-1 0-4-1zM130 764l-1-4-1 0-3 1 1 2 4 2zM201 691l-1 3 6-1-4-2zM38 753l-3-1 0-1 3-2zM191 765l-1-1 1-2 4-2 1 0 1 3-5 2zM84 784l1-1 4 3-2 2zM117 820l0 1 0 4 4-3 0-1zM136 746l-5-1 1-4 1 0 1 0 3 4zM34 790l1-1-1-4-5-1 4 6zM154 793l-2-1-1 2 1 1 2 0zM99 706l-2 2-1-4 2-1 1 0 1 2zM84 742l0-1 3-2 1 1 0 3-1 1-2-1zM38 748l-4-2 0 1 1 3zM130 798l-1-1-2 0-1 2 1 2 1 0zM168 766l-3-4-2 3 2 2zM35 819l-2-3-2 3 1 2 3 0zM34 717l2-1 3 2-2 0zM63 808l-3 0-1-3 1-1 3 0 1 0 0 1zM188 789l-1-4 1 0 2 0 1 3-2 1zM179 722l-1 3 2 2 1-5zM156 798l-1 2-1 0-2-2 0-2 2 0zM132 813l0 1-2 2-1-2 1-2zM33 762l1-2-1-2-2 1-1 3zM65 819l-3 3 4 0 0-1 0-1zM192 753l2 3 5-2-1-1zM75 735l-2-1-2 3 2 1zM78 782l-3 0-1 2 3 1 2-1zM96 769l0-2-1-1-4 2 0 2zM143 644l2 36 6 11 4-1zM111 726l-3 0 0 1 1 4 1 0 1-3zM37 708l0 2-2 2-1 0-1-2 3-2zM185 772l1-2-4-1 0 3 1 1zM139 737l-2-1-1 1 0 1 2 1zM98 702l-1-3 3 0 0 2-1 1zM73 751l-6-1 1-2 0-1 4 2zM114 718l-2 3-2-2 2-3 2 1zM77 735l-1-4-3 1 0 2 3 1zM125 704l-1-2 1-2 1-1 2 3-2 2zM197 787l2 3-1 0-3-1zM169 704l-1 1-3 2 1 1 4 0 0-2zM146 736l-1-4 4 0 1 1 1 1 0 1-3 1-1 0zM42 747l-1 0-2-4 1-1 1-1 3 1 0 3zM54 762l1 4 1 0 3-4-1-1-3 0zM105 688l-1 2 0 3 1 0 2 0zM69 708l2 5 1 0 1-4zM134 797l0-1 0-2 0-1-2 0-1 0 0 3 1 1zM97 715l1 0 1-3-3-2-1 0 0 1 0 3zM90 785l-1-3-2-1-2 1 4 4zM150 694l1-2-6-11 0 6 3 7 0 1 2 0zM190 754l-2 1-1 0-2-4 1 0 1 0zM92 725l2 2-2 3-2-2 1-3zM82 808l1 1 0 1-2 3-2-3 0-2zM109 694l3 3 1-2-3-2zM48 794l2 1 2 0 0-1 1-3-4-1-2 2 0 1zM115 808l-2 2-1 2 4 1 0-5zM172 797l-1-3-3 1 0 2 4 1zM123 758l-2 0-1-2 1-3 4 2zM139 699l-3-2 2-3 1 0 1 3zM39 728l3 0 0 1-2 3-1 0-1 0zM39 787l0-3-1 0-3 1 1 4 2 0zM194 742l-3 1-2-3 4-1 1 1zM181 736l-1 3 4 0 2-1-1-1 0-1zM68 778l-3-1-1 3 0 3 1 0 2-1zM74 777l2-3 0-1 0-1-4-2-2 3zM173 810l-1 3 0 2 4-2zM39 727l-3-2-2 0 0 2 0 1 3 3zM139 707l1-3-5-1-2 2 0 1zM177 706l1 0 3-2-1-2-2-1zM97 750l2-3-1 0-4 1 0 1zM88 811l-2-3-2 1 0 2 4 1zM44 805l1 3-2 3-1-1-1-4 1-1zM87 735l1 2 4-2 0-1-1-1-2 0zM114 741l0-2 1-2 1 0 4 1 0 1-1 4zM182 751l-3-1 0 5 1 1 1-2zM92 711l-4-1 0 1 2 4 1 0zM90 707l-2 2 1 1 3 1 2-1-3-4zM122 783l-1 0-2 2-1 2 3 2 2 0 2-3zM93 782l2-1 1-4-4 0 0 3zM166 710l0-1 4 0 1 2 0 1-2 0-1 0zM62 793l-1 1-2 2-1 1-1-2 1-2 3-1zM39 798l-2 0-1 1 2 3 2-1zM128 723l-1-1 0-2 2 0 2 3 0 1zM36 766l-1-3 4-2 1 1zM55 809l2 2-2 3-1-1zM200 731l4-3 6 2-8 2zM49 775l-2 3 1 1 2 0 0-1 0-2zM42 734l1 2-2 1-1 0 0-4 1 0zM145 819l1-1 0-2 0-1-2 0 0 1zM198 695l1 0 0 2-5 2 0-1 1-2zM115 807l-3-2 1-2 2 0zM37 805l2 4 2 1 0-5zM95 784l1-1 1 0 1 1 0 2-2 0zM185 713l3-3 2 4-4 1zM62 716l3 3 2 0 1-2-4-3zM197 767l1 0 1-2-2-1-4 2zM137 720l1-4 2-2 1 5 0 1zM59 819l1-1 1 3-2 0-1-1zM176 785l1-2 4 1-1 3-1 0-1 0zM45 732l-2 2 1 2 1 0 1 0zM49 735l3 2 2-2-2-4-2 2zM165 711l-3 2 1 1 2 0 2-1zM43 798l-2-1-2 1 2 3 3-2zM67 811l1-1-1-3-2-1-2 3 1 1zM36 734l1 4 3-1-1-4-2 0zM169 788l3 2 1-1 0-1-3-2-1 1zM166 754l-2 4-1 0-2-3 2-1zM154 728l1 2-3 4-1-2 1-4zM180 799l0-4 3-2 1 7-1 1-1 0zM130 697l-3 0 0 1 1 3 2 0 0-1zM192 798l-2 2-3-1 1-3 2 0 2 1zM127 802l-2-3-1 0-1 0-2 3 2 2 3 0zM38 794l-2 2-1 0 1-3 2 0zM115 816l-1 1-1 1 3 1 1-1zM42 726l3-1 0-4-4-1zM136 736l1-1 0-1-1-2-2 0-1 4zM202 765l2 1 2-4-1 0-1 0zM66 750l-4-1 0 2 3 1zM93 796l3 2-4 3-2-1 1-4zM182 722l2 2 0 2-2 1-1 0zM64 696l1-3 0-1-3-3 0 1 0 6zM64 757l-1-1-2 0-2 2 0 1 4 1zM51 772l2 1 0 1-2 2-1-2zM176 706l-5 0-1-2 2-1 3 3zM201 710l1 0 1-3-1-1-2 0-1 1 0 1zM101 723l5 0 1 2-6 1-1-1zM154 727l-2 1-4-2 1-2 3-1 2 3zM45 711l-1 2-1 0-1 0 0-3 2-1zM205 712l-1-4-1 0 0 2zM63 783l-2 0-3-4 0-1 3-1 2 3zM129 711l1 2-2 1 0-1zM157 809l1-1 4 1 0 2-3 2-1-1-1-2zM47 793l0-1-3-3-1 3zM188 719l-3-2 1-2 5 0 1 1-2 3zM136 751l0 2-4 0 0-3 1 0 2-1zM130 744l2-2-2-1-1 0 0 3zM103 730l1 0 1 2-1 2-1 0-2-1zM149 741l-1-4 3-2 2 2-1 3-1 1zM147 794l-2-2-1 1-1 0 0 3 0 2 2 1 1 0 1-1zM108 754l4 2 0 1-5 3-1-3 1-3zM115 772l-1-2-3-1-2 5 1 0zM106 758l-4-1 1 5 4-1zM139 759l-2 2 2 1 2-1 0-2zM35 700l4 4 1-1-2-5-2 0-1 0zM175 785l-3-1-1 2 2 2 3-3zM57 768l-1-1-1 0-1 1 2 3 1 0zM187 757l-3 4 1 1 4 1 1-1-2-5zM134 783l-1-3 1-1 4 0 0 1-2 3zM123 811l1-3-4-1-1 1 1 1zM43 747l1-1 4 0 2 4-2 2-2-1zM84 756l0-1 2 0 3 3 0 1-1 0 0 1-2-1zM174 760l-1 0-1 1-2-1 1-4 1 0 2 2zM186 776l1 0-4 3-1-2 2-2zM85 724l-5-1 1-2 2-1 2 3zM138 710l1 3 0 1-2 1-1 0-2-1 1-3zM158 794l2-2 2 3 0 3-5 0zM191 693l0-1 2-1 1 2-3 1zM169 789l-1 1 3 3 1 0 0-2zM157 693l-2 2-3-1 0-1 4-2zM187 756l-5-1-1 1 0 2 1 2 1 1zM32 719l-9 3 10 1 0-1zM144 822l1 6 1 4 3-7-2-4-1 0zM117 800l0-1 2-1 3 1-1 3-2 0-2-1zM200 697l2 1-1 3-1 0-1-3zM102 748l-2-2 1-1 1 0 3 0 0 2zM124 710l4 1-1 2-2-1-1-1zM199 707l-3 0-2-5 4 1 1 3zM38 793l-1 0-2-2 1-1 2 0 0 1 1 1zM50 758l3 1 0-2 0-1-2 0zM104 751l3-1 1 0-1 4-2-1zM144 700l2 0 1 1-6 3 0-1 0-1zM123 790l-2 0-1 3 1 1 1 0 2-3zM146 706l4-3-1-1-1-1-7 3 4 2zM115 690l-4 2 0 1 2 1 2 0zM45 778l-2 1-2 3 4 2 2-4-1-1zM77 717l3-1-3-4-1 0zM67 692l1 1 3-2 0-1zM145 749l1-2 2-1 0 3zM44 788l1-2-1-1-3-2-2 0 1 4 2 1 1 0zM46 730l2-2 1 0 2 2-2 2zM76 817l1 2 4-2 0-1 0-1-5 1zM38 682l-3 9 1 1 3-3zM129 759l1 0 1-1 0-1-1-2-1 0zM140 811l-1 0 0-3 2-1 2 2-2 2zM54 809l-1 4-4 0 2-3 2-1zM162 715l-4 0 0 2 1 3 1 1 0-1 2-4zM49 724l-2 2 1 1 1 0 1-2zM75 782l-2-3-2 3 2 2 1 0zM130 711l1 2 1 1 1-1 1-2-2-1zM118 747l-3-1-1-3 0-2 5 2 1 2zM175 797l2-3 2 1 0 4-1 0zM85 821l-2 6 1 5 4-9-1-2zM42 812l-1-1-2 0-4 1 0 2 6 0 1-1zM47 763l-3-1-2 0 0 2 4 1zM111 725l2-2 3 1 0 1-1 3-3-1zM156 740l-2-3-1 3 1 2zM152 785l-3-1-2 3 0 1 4 0zM139 708l-6-1-1 2 2 1 4-1zM45 710l3-1 0-1-3-2 0 2zM131 701l0 1 2 2 2-1-2-3zM141 769l-1 2 3 1 0-1-1-2zM125 792l2 3 2-2-2-1zM46 772l0-3 1-1 3 1 0 2zM35 766l-1-3-1 0-3 0-2 2 5 3 1-1zM101 707l3 2 1-1-1-2-1-1-2 1zM127 705l2-3 1 0 2 2-1 1-3 0zM188 748l-2 0 0 2 1 0zM161 744l0 1-2 3-2-1 1-3 2-1zM72 779l-2 3-2 0 1-3zM176 725l-2 1-1-2 1-1 1 0zM163 809l1-3 2-1 2 2-1 3 0 1-3 0-1 0zM33 745l0-2-1 0-8 1 8 3zM47 795l2 1-1 3-1 1-2-1-1-2 1 0zM200 732l2 1 0 2 0 1-2 0-2-2 0-1zM166 729l2-2 2 2-2 2zM132 695l-3-5-2 6 3 0zM200 764l1-3 3 1-2 3zM48 813l2-3-1-3-3 2-3 3 1 1 1 0zM81 788l0 1-1 2 3 1zM196 733l-3 1 0 4 2 2 1-1 1-4 0-1zM191 811l4-1 0-3-2-1 0 1zM184 802l1-2 2 0 2 1 1 1-2 2-3-1zM177 781l-3-1-1-1 1-2 1-1 2 1 0 2zM197 745l4 1 0 1-1 1-2 0-2-1zM51 818l-3-4-3 0 1 4 2 2zM74 805l1 0 0-5-1-2-1 0-2 4zM192 820l-2-1 0-3 2 1 0 2zM183 678l2 9 0 5-5 0zM53 731l2-2 2 6-2 0zM190 812l1 0 3 1 0 3-2 0-2 0 0-1zM155 726l2-1 2-3-1-1-5 0-1 1zM48 709l1 0 0-1 1 0 2 3-2 1zM129 711l1 0 1-2-3-2 0 3zM53 781l-2-1 1-2 2 0 2 0 0 1zM63 810l0-1-3 0-2 2 4 3zM91 785l-2-3 3-2 1 2-1 2zM120 776l-2 3-2-3 0-1 3 1zM172 798l-4-1-3 4 2 2 5-4zM93 735l2 1 1 1-2 2-1 0-1 0zM200 764l-1 0-1-1-1-2 3-1 0 1zM34 735l1 0 1 3-3 1-1-3zM81 715l-1 0-2-3 4 0 0 1zM87 702l-2-1-1 2 2 1 1 0zM201 770l3-2 1 0-1 3-3 0zM193 732l2 0 0-4-3 0zM139 804l-2 2 1 1 2-1 0-2zM101 741l2 0-1 3-1 1-1-4zM203 701l2 1 13-5-14 1zM46 773l3 1 1-2 0-1-4 1zM141 762l1 1-2 2-1 1-1-1 1-2zM102 751l1 0 2 2-2 1-1-1zM92 731l0 1-3 0-1-2 0-1 2 0 2 1zM61 767l0-2-2-2-2 3 1 1zM138 763l-1 2-3-1 1-3 2 0zM191 696l3 2 0 1-1 2-4-2 0-1zM101 751l-3 2-1 0 1 1 3-1zM103 697l-1 0-3-4 1 0 1 0 3 1zM105 701l-2 1 0 2 2 1 2-4zM97 695l1-1 1 0 2 3-1 1-3 0zM150 779l2 0 2-2-3-3-2 0 0 1zM55 736l3 0 1 2-1 1-3 0-2-1 0-1zM197 772l-2 0-1-1 2-1zM148 754l4 0 1-2-1-1-3 0zM94 720l1 4-3 0 0-3zM149 709l2-1 4 1 0 1 0 1-5 0zM131 808l1-2 2-1 2 1-2 3zM40 759l0 1 1 2 2-1 2-3 0-1-1-1zM47 794l-3 2-1-2 0-1 4 0zM158 808l4 1 2-3-4-1zM58 786l-5-3 4-3 3 4zM130 746l2 3 0 1-4-1zM131 723l2-2-3-2-1 1zM164 706l0-5-1-1-3 2zM116 807l1 0 1 0 1 0-1-4-1 0-1 0zM203 785l23-4-15-3-6 0-3 4zM155 706l-1-2 2-2 2 0 1 1-1 1zM148 745l1 1 2-1-1-2-1-1-1 1zM141 739l-2 3 0-2 0-2 2 0zM178 800l1 0 2 1-5 4-1 0-1-3zM51 725l3-1 0 1 1 2 0 1-3 1-2-1zM110 818l-4-1 4-2zM90 767l1 0 3-1 0-3-4 3zM156 759l1 1 2 1 3-3-2-2-2 2zM205 816l-1 6-3-2-1-3 3-1zM186 775l-2 0-1-2 3 0zM39 727l3 0 0-1-1-5-4 4zM147 738l1-1 1 4-2 1-2-1zM178 782l0-1 0-1 4 0 0 3-1 0zM78 792l-1 1-2-1 0-2 2 0zM68 762l3 3 2-3-2-3-2 1zM145 808l-1 1-2 3 1 2 3 0 2-4-2-1zM120 776l3-2-1 0-2-1 0 2zM100 783l1 1-2 3-1-1 0-2zM56 753l0-2-2-1-3 1 2 2zM124 734l-1-1-1-5 4 1zM36 818l-3-3 9-1-2 3zM199 714l2-4-2-1-2 2zM114 737l-3-1-2 1 1 3 3-1zM185 747l-2 0 0-2 1-1 2 1 0 2zM142 820l-2 1-1-1 0-2 2 0zM113 795l2 0 2 4-1 0-2 0zM149 820l2-2 2 0-2 5-1 1zM95 693l-1-9 4 9-2 1zM140 758l-2-2 0-1 4-1 1 1-2 3zM66 749l-4-1-1-1 3-1 2 2zM185 727l1 3-2 1-2-3 2-1zM97 743l2-2 0 1 1 3-1 1-2-2zM85 821l-3-2-1 3 0 1 1 3zM44 796l-1 1-2-1 0-1 1-1zM189 820l0-3-4 2 1 2 2 1zM162 790l3 1-1-4zM190 753l-2-3 0-2 2-1 2 2-1 4zM141 714l0-1 1 0 4 2 1 0-1 1-4 2zM161 689l1 3-2 1-2 0 0-1zM85 717l0-2-2-1-1 2 1 2zM195 820l-2-1-1 2 0 1 3-1zM125 744l0-2-4-1 0 2 0 2zM172 701l0-2 0-1-1 0-3 1 2 3zM61 716l-3-1 0-3 2-2 4 1-1 3zM137 754l-5 3-1-3 1-1 4 0zM95 772l-4 0 0-2 5-1 1 1zM137 751l0 2 0 1 5-1 0-2-1-1zM120 776l3-1 1 1-1 2zM200 697l3 0 18-1-14-3-7 2zM178 823l-1 1 0 8 2 9 5-18-5-1zM186 728l3 0-1 2-2 0zM185 804l3 1 1 1-2 3-1 0zM64 714l1-3 4 3-1 2zM102 717l2-2 1 1-1 3-1 0zM190 768l0-2 0-2-6-1-2 5 5 2 2-1zM154 811l-1 2-3 0-1-3 2-1zM63 792l3-2 0-3-1-3-1 0-3 0-2 3 2 4zM165 815l-1-3 3-1 0 3zM89 744l0 1 3 0 1-1-1-1zM96 799l1 1 0 3-2 0-2-2zM174 771l6 2-1 2-2 1-2-1zM100 794l-1 1-2 3 1 1 3 0 1 0 1-3-2-1zM86 777l1 2-1 2-1 0-2-2 1-2zM39 822l3 9 2-7-1-1-3-1zM156 810l1 2-4 2 1-3zM93 730l3 0 1-2-3 0zM45 694l0 1 3 1 1-1-2-2zM73 740l-1 2-5-2 2-3 2 0 1 1zM98 794l-1 4-4-3 2-2zM159 814l0 2-1 1-2 1-2-1 0-2 3-2zM194 715l3-1-1-2-1 0-2 2-1 1 1 0zM197 689l3 3-1 2-2-2zM77 789l-2 0 0-1 2-1 0 1zM106 685l4 6-1 1 0 1-1-1-2-4zM190 694l-3 0 0 2 1 1 2-2zM87 812l-3-1-2 3 0 2 3-1zM145 784l-1-2-2 1 0 2 4 1zM138 817l-4 3 3 1 1-1zM131 714l1 1-1 2-1 1-2-2 0-1zM114 782l5 3 2-3-3-2zM50 713l1 2 2 0 3 0 0-3-1-1-3 0-1 2zM166 792l2-2 0-2 0-1-1-1-2 0 0 1 0 4zM152 700l2 2-1 2-2-1-1-1zM148 775l0-1-4 0-1 2 2 3 1-1zM95 719l2-3-2-1-2 1zM202 751l-1-2 1-1 4 2zM94 703l1 0 2-1 0-2-1-1-1 1zM50 758l-1 0-1-4 1-1 2 3zM74 706l1 0 1 3 0 1-3-1 0-1zM157 807l-2-3 4 0 0 1-1 2-1 1zM38 821l-2 0 0-2 4-2-1 4zM68 790l-1 0 0-3 5 0-1 3zM114 743l-5 1 2 3 3-1zM120 807l-1-4 2 0 1 2-2 1zM169 703l-2-4-2 0-2 1 1 1 4 3zM182 767l1-4 0-1-1 0-4 2 1 3zM108 764l-1 2-1 1-4-3 2-1 2 0zM187 775l2 1 0-6-2 0-1 3zM197 773l1 0-4 3 1-3zM42 714l-2 3-2-3 1-1zM128 728l-1 1 3 2 2-1-1-2-1-1zM153 784l0-1-1-3-2 0-1 1 1 2zM32 731l2 3-2 1-1-3zM182 777l0 2 0 1-4-1 0-2 2-1zM137 821l1-1 1 1 0 2-1 0zM151 699l-1 2-2 0-1-2 1-3 2 0zM144 696l-3 1-1 3 0 1 5-2zM195 693l2 0 1 1-3 1 0-1zM165 734l-1 2 2 4 1-5 0-1zM76 799l2-1-1-3-3 3zM195 822l1 2-2 10-2-9 1-2zM193 708l-3-2 3-4 1 0 1 5-1 1zM23 794l-3 1-112-10 113 0 4 6zM90 728l1-3-5-1 0 1-1 2 3 2zM83 771l-2-3-4 3-1 1 1 1 5-1zM158 770l1 1 1-5-3 0zM72 796l1 1 1 0 2-2 0-1-3 0zM135 760l-2 4-2 0-1-4 2-1zM155 751l2 0 1-2-2-1-3 0 0 2zM75 721l3 2-1 1-4-1zM122 699l2 0-1 3-3-1 0-1zM189 743l0 1-3 0-1-1 0-3 2-1 1 1zM124 768l0-2 3 2-2 2-1 0zM184 701l2 1 1 3-3-1zM122 781l0-2-2-1-1 1 0 1 2 2 1 0zM184 792l-1 1 2 6 2-1 1-2-1-2-1-2zM190 724l1 2 4 0 2-1-1-1-2-1-3-1zM184 713l-2-2-3 1 2 2zM185 750l0-2-2 0-1 2 2 1zM100 705l3-1-1-2-1-1-2 2zM200 730l-2-4-1 0-1 1 0 5 1 1 2-2zM129 784l0-1 4 2-1 1-2 1-1 0-1-1z" fill="#fdfbfe"/></g></g>
<path d="M18,366.5 L44,348.3 L50,348.3 L47,352 L18,373Z" fill="#fbf7fd" clip-path="url(#c1_0)"/>
<g fill="#fdfbfe" clip-path="url(#c1_0)"><ellipse cx="55.5" cy="405.5" rx="6.0" ry="4.2"/><ellipse cx="73.5" cy="350.5" rx="3.2" ry="3.8"/></g>
<path d="M69.5,348.3 Q73.5,357 77.5,348.3" stroke="#a262d2" stroke-width="1" fill="none"/>
<path d="M18,407.2 Q40,402 53,400.6 Q62,401 70,408.6" stroke="#a466d4" stroke-width="1.1" fill="none" clip-path="url(#c1_0)"/>
<rect x="100.7" y="348.3" width="80.8" height="60.3" fill="#b98ce2"/>
<g clip-path="url(#c1_1)"><g filter="url(#soft)"><path transform="scale(.5)" d="M242 730l-4 1-2-1 5-2zM340 698l0 2 0 3-4-1 0-2zM303 787l0 2-1 1-4-2-1-3 1-1 3 0 1 2zM227 698l-4-4 5-1 1 0 0 1 0 3zM240 780l0-1 0-3 3 0 1 3zM294 712l-2 0-1-1 0-1 1-2 3 1 1 0 0 1zM270 782l-2-4 2-1 2 2zM367 783l0-1-1-2-2 2 0 3 1 0 1-1zM265 712l-2 4-1 0-2-2 0-2 0-1 3-1zM353 792l-3 1 0 5 4-2 1-1zM214 701l-3-1 0 3 2 2zM230 813l1-4-2-3-1 0-1 5 0 1 2 1zM315 802l-1 1-1 2 3 1 1-1 1-1-1-1zM308 746l1 0 0-4-1-1-1 0 0 1 0 3zM284 772l4-3-1-2-3 0-2 3 1 2zM348 747l-3-1 0 1 0 3 2 0 1-1zM348 773l0-2 1-2 1 0 3 2-1 3-1 1-3-1zM342 755l1 1-3 3-1-1 0-1 0-1zM317 732l1 4-1 1-2-2-1-1 1-1zM287 717l-4 0 3 2zM213 692l1 2-4 2-1-5 3 1zM317 749l-1 1 2 3 1 0 0-4zM355 804l1-2-6-1 3 4zM260 820l0 1 4 4 1-4-4-2zM297 795l-1-2 0-1 4 0 0 2zM266 713l1 0 1 5-3 0-1-1zM226 714l0-1-1-1-2 0-1 0 1 3zM299 705l-2-4 1 0 3-1 0 5zM196 803l1-4 1 0 1 4zM213 750l-1 1-2 0-1-1 3-1zM282 772l-3 3-1-1 0-2 3-2zM282 817l-1-1 3-2 1 1 1 1-2 2zM327 769l-2-3 3-1 1 1 0 2zM305 761l-2 0-3-4-1-2 1-1 1 0 5 4zM364 722l-2-3 3-2 2 3-1 2zM316 767l2-1 1-4-2 0-3 2zM203 731l-2-5-2 2 1 4zM358 794l-3 1 0 1 2 2 2-1 0-3zM196 731l1-3-4-3 2 6zM215 696l-4 2 0-2 3-2zM366 748l2-1 2 7-4-3zM249 694l2 1 0 3-2 0-1-3zM264 737l1 1-1 3-4-2 0-1zM217 716l2 2 2-2-3 0zM269 732l4-1 1 0 1-5-3-1-3 3-1 3zM300 725l4 2-3 3-1-2zM356 823l-3-1 1-4 3 2zM205 717l0-1-3-1-1 1 0 1 1 1 2 1zM292 796l1 0 2-3 0-1-5-1 0 3zM206 715l-1-2-2 0-1 2 3 0zM276 779l-1 3-1 0-1-2 2-2zM351 807l2-2 2 0 1 1-1 2zM338 694l-1-2-3 2-1 1 1 2zM365 776l4-4-4-1-2 2 1 2 1 0zM206 722l-1 2 3 3 3-4-2-2zM271 798l1 3 1 0 1-2-1-2zM338 744l-2 2-5 0-1-1-1-2 1-1zM367 699l-5-2-1-3 6-1 1 6zM349 767l0-4 1 0 2 2 0 1 0 1-2 1-1 1zM322 713l-4 0 0 1 2 3 2 0 1-1zM291 724l-3 4 1 1 2 0 2-2zM352 779l0 4 4-2 0-2-1 0-2 0zM230 722l-1 0-3 2 2 1 3 0 0-2zM278 802l-4-1 1-2 3-1zM214 825l-1-1 0-3 1-1 2 1zM359 719l3 0 2 3-2 2-1 0zM307 740l-2-2-1-1 2-2 2-1 1 3-1 3zM317 699l-1 2 3 2 1-3-1-1zM278 771l2-2-4-1-1 2zM306 781l-2 0-3 3 2 2 3-3zM351 721l1 3 1-1 1 0 0-1-2-1zM219 742l1-2 3 3-2 1zM294 816l2 4 0 1-2 0-1-2zM319 787l2 1-1 3-3-3 1-1zM364 723l-1 2 2 3 2 0 1-2 0-2-2-1zM241 748l-3-1-1-2 4 0zM245 780l1 0 2-2-3-2-1 0 1 3zM365 708l-1 0-2 0-1 3 4-1zM287 784l-4-3 0-2 1-1 3 1zM280 813l0-2 1 0 2 2 1 0-4 2zM325 806l0 7-3-3 3-5zM216 716l-3 1-2-3 3-1zM207 802l-3-1-1 4 2 1 1-1zM330 789l5-2 0 4-2 0-3-1zM354 724l1 3 1-1zM322 718l1 4-4 3-1 0-2-3 4-4zM204 791l2-3 0-1 2 2 0 2zM200 786l-2-2 3-3 1 1 0 1-1 3zM278 736l-1 3-3-3 2 0zM224 753l-1 0 1 2 1 1 4-2-1-2zM228 798l0-1-5-1-1 2 1 1 2 1zM367 734l-2 3 3 0 0-3zM314 791l2-3-4-3-1 0-1 3 3 3zM354 818l-1-2-1 0-1 3 1 2 1 0zM223 708l0 3 2 0 0-3 0-1zM269 771l1-2 1-1 1 3zM367 722l2 2 24-6-6-1-19 3zM299 745l-1 1-1 4 3 3 1-3zM237 698l0-1-3 0-1 2 1 1 1 0zM226 738l-3-2-3 2 1 0 3 1zM209 711l1-1 0-3-3-1 1 5zM200 769l-2-1-1 1 1 4 3 2 1 0 1-1zM281 727l-3-2 1-4 2-1 2 4zM286 749l-1-3 3-1 2 1 0 2zM307 814l5 1-1 2-4-1 0-1zM256 778l-1-2 2-1 1 0 1 1-2 3-1 0zM230 814l3 0 2 3 0 1-3 2-1-1-1-4zM305 711l-1-2-1 0-1 1 0 1zM237 708l0 1 0 1 4 3 0-3-2-2zM224 729l4 2-4 1-1-1zM244 742l-1 0-2 3 1 2 0 2 3-4zM241 791l1-4-3 0 0 5 1 0zM203 730l-1-4 1-1 2 0 2 2zM249 712l0 3 3 2 1 0 1-3-2-2zM326 712l0 2-3 2-1-3 1-2 2 0zM246 694l2 1 1 3-2 0-2-3zM328 738l-1-1-1 4 3 1 1-1zM313 721l-3 1-2-2 1-2 3 0 1 2zM199 732l-3 0-3 3 4 0 2-1zM328 801l1-1 1-1 2 0 1 0 2 5-5-1zM257 806l-4-2 0-1 4 0zM201 757l1 4 3 0-2-4zM230 813l3 0 1 0 0-4-2 0zM246 815l-1 1-1 4 5 0-2-4zM212 747l0 1 1 1 1-2-1-1zM273 784l0 1-1 2-1 0 0-2 1-1zM253 757l-1-2 2-2 2 2 0 2zM206 734l-2-3 4-3 1 2-1 2zM321 700l3 3 0 1-4 0-1-1zM272 723l1 1 2 2 2-1 1-4-2-1zM226 704l-1 2 0 1-2 0-1 0-2-2 4-3 1 1zM335 783l1 2 2 0 1 0 0-5-1-1-1 0zM260 740l3 2-4 1-2-3zM320 772l2 1 3-1-2-2-3 1zM358 814l-1 1-4 1 0-1 1-2 3 0zM279 776l3 2-3 2-2-2zM290 733l1-2 0-1-2 0 0 3 0 1zM274 786l2 1 0 1-3 0-1 0zM291 771l3 1-2 6-1 0-2-3zM280 820l1-2-1-1-1-1-2 2 0 2 1 1zM330 705l0 2 1 1 1 0 1-2-2-1zM339 816l-5-3 5 0 2 1zM337 737l1-2 4-1-4 3zM260 720l0 2-3 1 1-3zM200 753l3-2 2 1 0 1-1 2-1 1-2 0-1-1zM342 793l0 2 3 0 2-4-2-1-2 0-1 1zM310 801l-3 2 2 6 3-3 0-4zM210 786l-3 1 2 2 1 0 1-1zM215 809l-1-5-3 2 0 2 0 2zM268 794l-3 0-1 2 1 1 2 0 1 0zM202 762l3-1 1 1 0 2-7 3 1-3zM312 704l-2 2 0 1 3 1 3-1 0-1zM303 708l-2-1-2 0 0 1 2 1zM247 740l0-3 4 0 1 0 0 2 0 1zM304 708l-2-2 3-1 2 0zM228 792l-4 2 0 1 4 1 0-3zM322 748l0 5-1 0-1 0-1-4zM242 783l1 2 2-1-1-2zM281 728l-3-2-2 1-1 4 1 1 4 0 1-2 0-1zM349 715l1 2-2 1 0-2zM334 774l2-4 1 2 0 1-2 2zM306 781l1 2 2 2 1 0 1 0-1-4-3-1zM325 806l1 7 5-1 1-1-1 0zM355 722l0 1 2 2 1-1-1-4zM223 810l1 2-1 0-2-1zM230 721l-1 0-1-3 2 0 1 2zM335 819l1 3 2 0 1 0 0-1-3-2zM345 756l-1 0-3 3 4 2zM322 774l3-1 1 2 0 1-2 0zM198 811l-1 2-2 1 0-2 2-1zM236 709l-2 2 0 3 2-1 1-2zM298 720l1-4-1-1-2 0-1 2zM293 816l-5 1 1 3 3-1zM348 720l-1 4-2 0 0-3zM355 740l4 0 0 4-4 2zM289 734l-1 1-2 0-4-4 0-1 6 3zM314 702l1-1 3 2-2 2-3-2zM295 717l0-3-1-1-2 0 1 4zM205 734l0 1-4-1-1 0 1-2 2-1zM323 692l1-4 5 4-1 1-2 1zM201 780l1 0 1 0 0-2-1-1-2 2zM352 750l-3-1 0-2 3 1zM301 723l5-2 2 2-1 3-2 0-3-2zM234 750l1 1-1 2-1 0-2-3zM217 815l1-3 4 3 0 2-1 0zM308 700l-1 2 0 2 1 1 1 0 2-2-2-3zM229 805l1-1 0-3-4 1 1 3 1 0zM260 728l2-1 1-2 0-1-2-1-4 1zM198 783l2-2-1-2-1 0-1 0-1 4zM293 805l5 1 0-1-3-3-1 0zM226 789l1 2-4 3-3-3-1-2 3-1zM341 804l-4 0 3-4 1 0 1 3zM329 747l-1 4-2 1-2-4zM201 701l-1 1-2 0-2-3 2 0 2 0zM267 705l-2-2-2 2 0 3 4-2zM271 806l4 0 1-1-4-2-2 1 0 2zM270 786l-2-2-1 0-1 3 3 1 0-1zM322 729l3 0 0-3-6 0 0 1zM228 762l3-3-1-1-3 0 0 4zM300 802l3-2 3 3-6 3-1 0 0-1zM313 701l-1-4-3 2 2 4 1 0zM295 733l-1 4 2 2 2-2 1 0-1-2zM316 694l2-1 0-1 3 1-1 1-2 1zM313 796l-3 4-1-3 2-2zM198 691l4-6 0 6zM350 809l0 4 0 1 2 1 2-3zM225 813l1 0 2 1-3 3-1 1 0-1-1 0 0-2 1-1zM264 759l-1 3 2 1 2-3 0-1zM280 733l0 2-2 0-2 0 1-2zM357 773l0 1 1 0 1 1 3-2-2-1zM356 757l-2 1 1 2 1 1 3-1-1-3zM278 764l1 4-4-1 0-1 1-2zM216 815l2 4 3-2-4-2zM330 765l2-3 0-1-4 0 1 3zM210 799l-1 0 0 2 4 1 1 0 0-1-2-2zM251 725l1 1 0 5-4-2 0-2zM312 826l1 12 7-15-2-2-1 0zM211 747l0 2-2 0-1-1 2-1zM314 722l-4 2-1 2 1 2 3 0 3-3-2-2zM357 773l4-2-2-4-2 2-1 2zM208 711l-2 0-1-4 1-1 1 0 0 1zM353 704l1-3 1 0 1 0-1 5-2 0 0-1zM292 749l0-1 4-2 1 1-1 3zM268 707l-5 2 3 2 1 1 1-1 1-2 0-1zM341 753l-3 0 1 3 3-1zM347 695l-2-1 1-3 3 1 1 1zM276 739l1 2-2 1-4-3 0-1 2-1 1 0zM341 785l1-5 3 2 0 1-3 3zM284 712l2-4 1 0 2 2 0 2zM316 811l-2-1-2 1 2 3 1 0 1-1zM328 821l0 1 4 1 0-4zM299 730l1 1 1 0-3 3-2-2 0-1 0-1zM231 799l4 0 1 0-1-3-2 0zM335 777l2 2 1 0 1-4-1-1-3 2zM333 754l1 1 0 1-1 1-3-2 3-2zM238 772l-1 0-1 0-1 0 0-5 2 0 2 3zM311 714l1 3-3 0-1-4zM363 799l-3-2-3 2 1 2 3 0zM224 800l-1 0-3 4 1 1 2 1 3-1 0-4zM283 698l4-2-2-2-2 0zM272 707l2 2-1 1-3-1 0-1zM359 792l0 1 2 0 1-1-1-2-1 0zM320 792l-2 2 3 3 0-1 1-3zM349 753l-3 2-1 0 0-4 2 0zM336 703l2 2 2-1 0-1-4-1zM316 793l1 0 2-2-3-2-1 2zM228 703l2 2 2 0 1-2 0-1-4 0zM354 811l0 1 3 0 1-2-2-1-1 0zM217 770l-1-2-3-2-1 0-2 1 1 5zM227 717l-2 2-2-3 3-1zM359 781l1-1-1-2-2 0 0 1 0 2zM327 729l-1 0 0-3 1-1 3 1-1 3zM329 780l0-1 1 0 2 0 0 2zM344 778l-1 2 2 1 1 0 1-2 0-1zM341 772l0 2-1 1-2-2 0-1zM360 815l1 3 2-1 1-2-2-1zM356 762l2 2 1 1 2-4-2-1zM330 704l-1-1-1-2 0-1 1 0 2 1 0 1 0 2zM200 798l2 0 1-1 0-2-2 0zM311 817l1 3 3-3 0-2-1 0-1 1zM248 758l-3 1 1-4 2-1 2 1zM332 774l1 0 2-3-4 0 0 2zM347 741l-2 4-3 0 3-6zM342 804l1 3 2 1 2-2-1-1-2-1-1 0zM352 740l1 0 2 0 0 5-1 1-1-2zM354 729l1 0 2 2 0 2-2 0-2-2zM297 821l-1 1 4 18 1-17-2-3zM310 773l-1 0-2-3 1-3zM256 761l3 0 0-3-2 0zM279 780l0 2 1 1 2-1 1-1 0-2-1 0zM306 713l-3 1-2-1 1-1 3-1 2 2zM255 779l-1-3-3 0-1 1 1 1zM237 809l0 2-2 1 0-3 1-1zM288 783l0 1 2-2 1-3-1 0-2 1zM310 708l-2 5 3 0 2-1-1-3zM357 806l-1-2 0-1 1-2 4 1 1 3-3 1zM221 770l-1-5-3 2 0 1 0 2 1 0zM288 732l-5-2 0-1 4-1 1 1zM307 747l-2 2-1-1 0-2 3 0zM210 719l3 0 0 3-1 0-2-1zM223 778l0-1 0-5-2-1-3 1 0 4zM289 741l0 3 2 1 2-2 1-2zM230 697l0-3 3 1 0 1-1 2zM365 713l1 1-1 2-3-2zM239 786l-3 1-1-3 1-1 2 1zM368 700l1 0 5 1-6 7-1 0zM264 807l0-2 2-1 2 1 1 1-3 2-1 0zM296 763l2-1 3 1-1 3zM368 715l4-1 11 3-15 2-1-2 0-1zM240 740l-5 4 2 1 4-1 1-2 0-1zM215 709l-4 0-1-2 3 0 1 1zM245 718l2-2-3-3-2 1-1 1 3 3zM196 703l-11-6 11 2 1 3zM348 703l0 2 4 0 0-1-3-2zM328 758l2-2 2 2 0 1 0 1-3 0zM237 718l-4-3-1 0 1 4 1 0 2 0zM236 719l-2 0 0 2 2 2 1-1zM302 763l1-1-3-5-2 4zM207 747l0-2-4 0-1 0 1 2zM359 815l1 3-2 1 0-3zM249 711l3 0-1-2-1 0-2 1zM243 703l4 1-1 5-2-1-1-4zM238 815l2 1 2-2-1-1-2 0zM352 751l0 1 0 1-2 0-2-2 1-2zM319 786l2-2-2-3-3 1 2 4zM326 770l-1 1-2-1 1-3zM215 784l3 3 1-5-3-1-1 0zM224 778l0-1 4-2 1 1-3 2zM261 801l-1-1 1-3 2 0 1 1-2 3zM305 704l-4-4 1 5zM240 737l0 2 2 1 2-4-1-1-3 1zM248 703l-1 0-3-1 1-1 2-2 2 0 0 3zM235 764l-2-1 0-2 4 0zM234 777l2-3-1-1-3 3zM265 753l1 0 3-3-3-1zM230 799l-2-2 1-4 3 2zM208 818l-3 1 0-2 0-1 2 0zM295 816l2 4 1 0 2-2-4-2zM290 734l3 3-4 1-1-2 1-2zM261 815l-1 3-1 0-1 0-2-3 1-1 3 0zM286 741l2 0 1 3-5 1-1-1zM221 708l-2 2 1 1 1 0 1 0 0-3zM336 707l-1-2 0-1 3 2-1 1zM274 709l3-2-3-2-1 2zM238 758l-2-2-1-1 5 0 0 1zM348 705l0 1 0 4 2 0 1 0 2-3-1-1zM225 782l-3 6 4 0 2-3zM289 700l-1-1-3 2 2 1zM311 825l5-6-1-1-3 3zM326 735l-3 0 0-1 3-2 1 1zM336 764l-1 2 1 2 2-2-1-2zM361 780l3-4-4 2zM259 788l2-3 0-2-2 0-3 3zM316 708l-3 1 1 3 2 1 1 0 1-1-1-3zM216 762l-1-1-2 1 0 3zM214 723l-1 4 2 0 2-1-2-3zM331 736l1 1 0 2-2 2-1-4zM339 790l0-4 2 0 1 1 1 2-2 1zM307 712l1 0 1-5 0-1-2 0-2 3 0 2zM271 807l3 4 2-1-1-3zM307 699l-1-3-1 0-2 1-1 2 2 0zM285 754l-3 1 0-4 3-1 0 1zM280 742l-2 0-2 2-1 4 0 1 1 0 7-3 0-1-1-1zM337 763l0 1 3-3 0-1-1-1-2 1zM347 818l-1-1-1 0-1 0 0 2 0 2 2 2zM226 761l0-3-1-1-1-1-2 3 2 3zM356 748l4 1 0-1 0-3-1 0-3 1zM372 789l-5 2-1 0-1-5 1-1zM356 706l1-6 1 0 2 3 0 1-3 3zM259 751l0 1-5 0 0-3 2-1zM274 795l-1 1 2 2 3 0 1-2-4-3zM247 750l0 3-1 1-2-1 0-2zM268 772l4 0 0 3-1 1zM291 694l4 0 1 2 0 1-4-1zM344 775l3-1 1 0-1 3-3 0zM220 758l2 0 1-3-1-2-2 1-1 1zM350 808l4 3 1-2-4-2zM268 719l1 0 0 3-5 2 1-5zM363 791l2-1-1-4-1 0-1 3zM314 744l-2-2-2 0 0 4 0 1 1 0 3-1zM348 714l-2 0-1 1 2 1zM340 799l-1-1 3-2 0 2-1 1zM287 737l-2 1 1 2 2 0 1-1-1-2zM314 744l-1-2 1-2 3 0 0 2zM270 722l-6 2 0 1 5 2 2-2-1-2zM331 710l1-2 1 0 2 2 0 1zM283 746l-7 3 5 2 3-1zM292 722l0 1 5-2 0-1-2-2-2 0-1 1zM364 707l0-2-4 0 2 2zM355 778l0-3 1 0 1 0 0 3-1 1zM226 744l2 1 0 1-3 0 0-2zM368 812l5 0 3 0-8 3-1-1zM233 707l-2 2-1-1 1-2 1 0zM298 722l1 1 0 1 0 1-4 2-1-1-1-3zM294 761l2 1 0 1-1 2-3 0 0-1zM282 709l2-2 1 0-2 5zM342 814l2 2 1 0 0-4-2 0zM368 805l0 2-1 1-4-2 2-1zM333 716l0 3 1 2 2-1 3-4-1-1-2-1zM299 820l2 2 2-2 0-3-2 1zM361 749l0 1 2 1 2 0 0-3-2 0zM276 810l-1 2-1 0 1 1 4 0 1-2-1-1zM232 723l1 2 2 2 1-3 0-1-2-1zM260 729l0 2 3 2 2-2-3-3zM273 717l-3 2 1 2 0 1 4-3 0-2zM263 815l-1 3 3 2 1 0 0-1-1-4-1 0zM268 772l1-3-3-1-1 3 1 1 1 0zM356 751l4-1 0-1-3-1zM242 763l2 3-2 3-1-5zM337 727l0 3 6 1 0-1 0-3zM325 757l1-5-4 1-1 1 2 3zM285 775l-1 3 4 1 2-1-1-3zM234 696l2 0 1 0-3-2-1 1zM351 779l-3-1 0-1 1-2 2 1 1 2zM357 734l3 3 3-5-3-2-2 1zM290 769l2-4 3 1 1 4-2 1-3-1zM217 761l0 1 0 4 3-2 1-1-3-2zM255 719l-2-1 1 3 2 1 1-2zM209 774l-2-1-2-3 4-3 1 5 0 1zM227 702l0 1-1-1 1-3 2-1 0 4zM367 809l0 1 0 1 6 0-4-3zM247 805l2-3 0-1-2 0-2 1zM198 813l1 3 1-1 0-3-1 0zM248 720l2-1 1-1-2-2-1 0-2 2zM220 721l0-2 2-3 1 0 1 3-1 3zM324 805l-2 4-1 0-2-1-1-2 1-2 5 0zM306 815l-2 1-1 1 1 3 5 3-2-7zM338 744l-2 3 1 2 3-1 1-3zM259 713l-5 1-1 3 3 1 3-3zM333 759l0-1 2-2 3 1 0 1-1 1zM351 754l-2 0-3 2 2 1 4-2zM352 787l-4 3-1 0-1-1 2-3 3-2 1 2zM291 790l4 2 1-1 1-2-1-3-2 0-4 3zM322 693l0 2 0 2 2 0 1-3zM288 757l-1-2 4-2 1 2-2 2zM331 716l1 3-4 0-1-1 2-2zM315 796l1-2 1 0 3 3-2 1zM256 766l-3-2-1 2 1 4 2 0 1-1zM268 793l-3 0-1-2 2-2 3 0 0 2zM352 756l-4 2 1 2 5-3zM300 713l-3-3-2 2 1 2 3 1zM323 749l-1 0 1 3 2-1-1-2zM300 737l3 0 2-3-3-2-3 3zM222 694l-1 4-1 0-3-1-1-1 6-3zM260 790l-1-1 3-3 3 2-1 2zM253 740l3 1 2 3 0 1-2 3-3 1 0-1-1-5zM368 804l5-4-6-2-1 1 1 2zM359 757l1 2 1 1 1-3-2-1zM196 753l-1-2-3-1-40 9 43-3 1-1zM209 757l0 1 0 1-2 2-1 0-3-4 1-1zM201 787l-1 2 4 1 1-3zM205 815l0-1-4-2 0 3 3 1zM242 807l-4 2-2-1 0-2 4-4zM282 693l-1 0 0-1 2-4 2 4-1 1zM287 788l-1-1-3-2-3 1 2 4 1 0zM250 810l-1-1-2-2 5-3 0 4zM275 712l0 4-2 0-1-3 2-1zM248 816l3 1-1 3-1 0zM230 799l0 1-4 1-1-1 3-2zM350 727l3 2-1 2-2 0 0-3zM296 761l2 0 1-3-1-2-2 1-1 3zM361 714l-2 3-1 1 0-1-1-3 1-2 2 0zM260 777l-2 2 1 3 2 0 2-2-1-3zM218 726l-1-3 0-1 3 0 2 1 1 1-1 0zM330 778l2-3-1-1-3 1-1 1 1 3zM291 806l3 4 2-2 1-1-5-2zM234 813l4-1 0 1-1 2-1 1-2-2zM320 786l2 2 2 0 2-1-1-2-2-1-1 1zM301 796l2 1 1-1-1-4-2 1-1 1zM246 791l0-2 1-2 3-1 2 1-1 6 0 1-1 0-2-1zM213 779l1-3 3 0 0 1-1 3-1 0zM367 821l0-2-2 0 0 4zM274 816l-2 1 0 1 1 2 2 2 1-1 0-3zM330 711l-2-2-1 2 0 1 3 0zM323 762l-1-1 1-3 2-1 2 1 0 2zM235 706l-2-3-1 2 2 1zM351 693l3-1-3-6-1 5zM240 751l-1 3-4 0 1-3 1 0zM242 762l3-1 3 4-1 0-3 0zM297 774l2 4-2 3-2-2zM366 709l1 0 1 0 3 3-4 2-1-2 0-2zM275 709l2-1 1 0 0 1 0 2-1 0-1 0-1 0 0-1zM331 715l-2 1-2-2 0-2 3 1zM336 790l0-3 0-1 2 0 0 4zM277 806l2 2 0 2-3-1 0-2zM266 835l3-12-3-1-1 4zM368 745l0 1-2 2-2-1 0-3 1 0zM363 792l3-1 1 1-1 5 0 1-2 0-2-5zM284 773l1 1 4 0 2-3-1-1-1-1zM217 742l-1 0 1-5 1 0 2 1 0 1-1 3zM212 761l-3-1-2 2 0 2 2 2 0 1 3-1zM211 730l1 1 3 1 1-1-1-2-2 0zM250 810l-1 0-3 2 0 3 1 0 1 0 2-3zM275 704l2 2 1 0 2-3 0-1-1-1-4 1zM331 812l-3 8-1 1-3-1 0-5 1-2 1 0zM343 720l-1-1-2-3 4 0 0 2zM314 695l-1 1-1 0 2 5 1 0 1-2zM262 709l0-4-4-1-2 3 1 1 3 2zM333 699l-2 1-2-1 1-3 2 0 1 2zM270 791l-1-2 1-1 2 0 0 1 2 3zM210 810l0-2-5-1 0 1 2 3 3 0zM358 788l1-1 2-2 2 0-2 5-1-1zM323 765l-1-2-1-1-1 1-1 3 1 1 3-1zM216 722l1-5 2 2 1 2zM361 704l2 1 1-2-3 0zM312 742l-2 0-1-1 1-3 2 0 2 2zM324 710l1-3-3 1 1 2zM240 794l-1-1-2 1 0 1 0 3 3 2 1-3zM241 713l0 1 0 1-1 1-3-2 1-3zM262 718l-1 2 0 2 2 1 1-4-1-1zM301 743l3-5-1-1-4 1zM289 806l-2 2-1 0-2-1 2-5zM349 713l1-2-2-1-2 0-1 1 0 3zM241 764l-3 2 2 4 1-1zM277 696l3-3 0-1-5-1-1 2 1 2zM326 801l1-2-2-3-2 1-1 0 3 4zM270 703l1 3-1 1-2-1 0-1zM315 696l2 2 2 1-1-3-3-1zM204 769l3-2-1-3-7 4 2 1zM216 820l-1-1-1-3 2 0 1 3 0 1zM291 746l3-2 2 2-5 2zM206 718l3 1-1 2-2 1-1-2zM196 806l1 0 2-2-3 0-1 0zM333 708l2 2 1-2-2-2-1 0zM244 775l-1-4-1-1-2 1-1 2 1 2 3 0zM315 769l2 4-2 2-2 0-2-1 0-1 2-4zM213 815l-2-2-3 3 1 2 1 0zM240 781l-2 2-1-1 0-2 2 0zM348 709l0-3-2 0-1 2 1 1zM273 772l2-1 2 1 0 2-3 1-1 0zM272 783l-2-1-2 1 2 2zM286 703l-2-2-2 0-1 1 4 4 0 1 1 0 1-1zM231 772l4 0-4 4zM314 746l-3 2 2 3 3-1 0-2zM239 698l3-2-2-2-1 0-2 2 1 2zM326 714l2 2-2 2-3-1 0-1zM323 816l1 4-3 1-2-2 1-4zM341 767l-2 0-3 2 2 2 3 0zM202 786l1-3 2 1 1 2-1 1zM369 730l0 3-1 0-1 0-2-2 1-2 1 0zM341 761l0-1 3 2 1 0-1 2-2 1zM212 705l-2-2-3 3 1 0 2 1 2-1zM243 787l2 1 1-1-1-2-2 0zM307 814l2-4 0-1 2 1 3 4-1 1zM336 747l0 3-1 0-2 0-1-3zM215 755l-1 1-4 2 0-1 0-2 1-1 2 0zM216 839l2 31 3-33 0-11-2 1zM339 738l4-4 1 0 1 2 0 2-6 2zM293 821l-2 2-2-2 3-1zM199 787l-1-2-2 0-3 1 5 3 1 0zM364 824l-2-2-1-3 3-1 1 1 0 4zM298 795l2 0 1 2-2 0-1-1zM314 695l-1-7 0-1 4 5-2 2zM242 815l2 1 0 4-1 1-2-1-1 0 1-3zM306 814l2-4-6-1 0 4 2 2zM262 771l-1-1-4-1-1 2 2 2 1 1zM214 816l0 3-1 1-2-2 2-2zM322 811l2 2-1 2-3-1 1-3zM282 698l0 2-1 1-1-1-2-3 3-3 1 1zM229 702l4-1-1-2-2-1zM230 749l1 1 3-1-1-3-3 1zM266 754l1 0 5 1-4 3 0-1zM200 715l1-1 1-2-1-1-2-2-1 1-1 3 2 2zM210 779l0-4 0-1 3 2-1 3zM307 713l-2 5 1 2 1 0 1-3 0-4zM211 780l1 0 2 1 0 3-3 0-1-3zM341 707l0 1-3-1 1-1 1-1 1 0zM284 821l2 1 2-1 0-1-1-3-3 2zM280 808l1-1 2 0-2 3-1 0zM298 666l5 20 0 4-2 2-1 0-3-4 0-20zM259 728l-3 1-2-3 3-1zM251 821l0 2 3 1 1-1 1-2-5-1zM334 818l1 1 0 3-2 1 0-4zM265 815l1 4 2-1 0-4zM286 800l0 1 5-1-1-1zM246 741l5 0-1 2-3 1-1 0-1-2zM286 809l-2 3-2-2 1-3zM326 723l-3-1-2 3 4 0 1-1zM285 802l-5 1 1 3 2 0zM352 787l-4 4 2 1 3 0 1-2zM332 779l3-2-1-1 0-1-2 0-1 3zM358 730l1-1 1-2-3 0-1 1zM344 821l-4 1-1 0 0-1 1-2 3 0zM216 747l1 2 0 1-1 0-3 0 0-1 2-2zM289 769l1 0 1-4 0-1-2 0-2 3zM204 793l-1 1 1 3 1 0 2-2zM218 820l0-1 3-1 1 0 0 1-1 1-2 1zM355 771l-2 0-2-2 2-1 3 1zM242 703l-3-4-1 0-2 2 2 2zM198 806l2-2 1 1-2 4zM214 722l1 0 1 0 1-5 0-1-1 0-2 1-1 2zM293 702l1-1 2-1 1 0-1-2-4-1-2 3 1 0zM321 775l-1 3 3 0 0-1zM242 792l3 0 2 1-4 3-2-3zM367 770l8-7 3-1 16 2-23 7zM332 721l-5 1 1-2 4 0zM241 693l3-2 1 1 0 2-1 1-1 0zM361 708l-3 1 0 2 3 0zM231 733l1 6 2-1 1-2-1-4zM269 798l-1 0 1 5 3-2-2-3zM210 700l0-1 0-2-3 1-1 2 0 1zM341 814l1-2-1-2-2 0 0 2zM216 731l3-1-2-3-2 1zM320 771l3-1 0-3-3 1zM329 781l3 0 1 2-1 0-3-1zM313 734l-4-1 1 4 2 0 1-2zM306 795l-1 0-2-4 1-1 3 1 1 2zM250 692l2-1 1-8 0-4-4 11zM331 711l-1 1 2 3 0 1 4-2-1-3zM325 698l3 1 1-3-1-2-2 0zM221 798l-4 0-2 3 0 1 5 1 2-3zM200 732l-4-1 2-3zM289 762l0 1 2 0 2-2-2-1zM312 762l2 1 2-1-1-1-2 0zM217 702l-1-1 1-3 3 1zM333 730l-1-4-2 0 0 3 2 1zM220 730l-2-3 5-1-1 2-1 2zM215 790l-2 3 3 3 3-5 0-2-1-1zM232 768l-1 3-2-1-1 0 2-3zM356 757l1-3 2 0 1 2-2 1zM245 724l3 3 2-2-3-2zM339 717l-2 3 3 2 1-2zM246 745l-3 4 0 1 5 0 0-1-2-3zM329 792l1-1 2 1 0 5-2 1zM282 783l-2 1-1 1 1 0 3 0zM279 709l0 2 4 1-2-3zM254 693l-1 0-1-2 2-6 2 7zM309 800l-1-3-2-1-1 0-1 2 0 1 3 3zM254 698l-3-1 1-2 1-1 1 1zM259 711l-3-2-2 2 1 2 4-1zM232 782l2-3 0-1-2-1-2 2zM302 769l2 1 0 2-2 1-2-3 1-1zM258 805l0-3 0-1 1 0 2 1 0 2-1 1zM352 741l0 3-2 1-1-4zM311 761l-3 1-1-1 0-3 2-1 2 1zM279 708l0-1 2-4 3 4-3 1zM221 811l-2 0 0 1 3 3 1-2zM199 706l-2-2 1-1 2 0 0 2zM358 720l0 4 2-1zM301 694l2 2 2-1-2-4zM320 761l-3-5-2 0 0 4 2 1 2 1zM309 756l0-3 3-1 1 0 1 4-3 1zM218 809l2-4 0-1-5-1-1 0 0 1 1 4zM209 755l-3-2-1 2 4 1zM285 766l-1-2 1-1 3 1-1 2zM292 813l-3-1-2 2 0 2 1 0 5-1zM355 735l-2 1 0 3 2 0 3 0 1-1 0-1-2-2zM298 708l0-2-1-4-2 1 0 4 2 2zM266 738l-1 3 0 1 4-1 1-2 0-1zM357 768l-4-1 0-1 5-1 1 1 0 1zM341 749l0-4 1 0 2 1 0 4-2 0zM257 819l-1 1-5 0 1-3 2-1 1 0zM235 791l-5 0 3-3 2 0zM222 809l1-1 0-2-2-1-3 5 1 1 2 0zM210 758l0 1 3 2 2-1-1-3zM206 696l-3 0-1 0 1-3 3 0zM269 732l4 0-1 4-1 1-1 0zM254 726l-2 0 0-1 2-3 2 2zM287 696l1 2 2 1 1-3-1-1zM212 741l1-3 3-1 0 5-3 0zM206 696l0 1-1 3-2-3zM285 798l5-4 2 3-1 1-5 2zM240 802l0-1-3-1-1 0-3 3 3 2zM220 745l0 4-3 0 0-2 0-1zM260 796l-4 0-2-2 5-2zM210 714l-3 1-1-3 2-1 1 1zM241 783l-2 3-1-2 2-2zM349 813l-4-1 1 4 1 0 2-2zM342 803l2 0 0-3-1-1-1 1zM343 775l-1 0-2 1-1 3 1 0 2 0 1-1zM205 701l1 4-1 1-4-1 0-3 0-1zM242 705l1 3-2 1-1-1zM217 761l-1-1-1-3 0-2 3 0 1 4-1 2zM297 773l-2 6-2-1 1-6 2-1 1 0zM211 813l-3 2-2 0 0-1 1-2 3 0zM316 781l-3-3 0-2 2 0 3 3 0 1zM306 714l-2 3-1 0 0-1 0-1zM312 769l-2 3-1-6 2 1zM202 744l1 0 4-3-2-2-3 1-1 2 0 1zM269 745l2 3-1 0-3 0-2-2 0-1zM312 696l-3 2-1 0-1-2 1-2 1 0zM237 695l1-2-1-2-2 1 0 2zM325 794l-2-1-1 3 3-1zM320 779l-1 0 0 1 2 3 2 0 0-3 0-1zM218 711l1 1-1 3-1 0-2-3 1-2zM347 798l-2 2 0 3 2 1 2-4 1 0-1-1zM229 732l-5 0 0 2 3 0zM298 773l1 5 1 0 2-3 0-1-3-3-1 0zM328 764l-1-3-5 1 2 3zM193 722l4 0 3-4-1-1-9 4zM328 782l-2 3 1 2 2 1 3-4zM358 810l-2-2 1-1 1 0 1 2zM210 718l0-3 0-1 3 3 0 1zM336 713l3 1 1-3 0-1-3-2-1 2 0 1zM301 711l0-1-3-1-1 1 3 3 1 0zM345 710l-1 0-2 1-1-2 1-2 3 1zM315 768l-2 1-2-3 3-1 2 2zM326 742l2 1 1 2-1 1-4 1 1-4zM214 785l3 3-2 1-3-1-1-2 1-1zM349 721l1 1 1 2-1 1-2-1zM276 805l2-2 0-1-4-1-1 1zM240 735l-1-3 4-1 1 0 0 2zM251 709l2-2 1-1 2 1 0 1-3 3zM353 778l-1-3 1 0 2 0 0 3zM313 796l-2-1-1-2 3-2 1 1 1 2-1 1zM348 758l1 3 0 1-3 0-1-1 1-4zM297 792l1-3 4 2-1 1zM346 824l-2-2-3 1 5 9 1-6zM359 753l1-2-3 0 1 2zM282 757l-2 0 0 5 3 1 1-2zM320 699l1 0 1-1-1-3-3 1zM209 733l2 1 1-3-1-1-1 0zM312 775l0 3-1 2-4-1 0-3 2-2 1 0zM199 707l-2-2-2 3 3 1 1-1zM230 750l-1 2 1 1 1 1 2-1-2-2zM337 753l0-2-1-1-1 1-1 2 1 1zM197 736l2 4-8-3 2-1zM319 727l-1-1-4 3 1 3 2 0 0-1zM206 736l-5-1 1 4 4-1 0-1zM277 805l2 2 1-1-1-2zM227 811l-4-4 0-1 4-1 1 1zM216 732l3-1 1 1-2 4-1 0-1-3zM271 818l1 3-2 0-3-1 2-2zM260 732l2 2-2 2-2-3zM198 722l3 1 0-4-1-1zM309 786l-5 1 1 2 3 0 1-1 1-2zM269 814l0 3 2 0 0-1zM198 778l0-4 3 2-2 2zM250 708l0-2 3 1-2 1zM220 704l-2 0 0-2 2-3 1 0 2 3zM220 712l1 1 1 2-4 0zM364 766l3-2 7-1-8 7zM208 750l2 2 0 2-1 1-3-3zM232 763l1-2 0-1-2-1-3 3 2 2zM346 783l1 2 3-1-3-2-1 0zM258 695l-2 4 2 1 4-2-2-2zM209 821l1-2-1 0-4 1 2 1zM335 764l-1 2-3 0 2-4zM232 739l0 1 0 1 3 3 4-4 0-1-5-1zM246 710l-2-1-3 1 0 3 1 1 2-1zM264 770l1-4 0-1-1-1-2 0-1 1 0 4 1 1zM311 795l-3 2-2-2 3-2 1 0zM350 698l0-4-3 1 0 1zM238 816l-2 1 0 1 4 2 0-3zM293 703l1-1 1 5-3 0zM334 783l1 0 2-4-2-1-3 1 1 2zM263 796l1-3-1-2-3 0 0 5 1 0zM330 735l0-1-2 0-2 2 1 0 1 0zM197 777l0-4-1-4-17 1 17 8zM337 726l6 0-3-3zM335 763l-2-1 0-1 0-1 3 0 0 3zM290 724l-3 3-4 1 0-1 1-3 3-1zM328 781l0-1-4 0 0 3 2 1 2-2zM221 769l0-4 0-1 3 0 0 5-1 1zM294 780l2 1 1 2-1 1-2 1-2-3 1-3zM274 762l-1 0-1-1 1-5 0-1 1 6zM351 698l3 1 1 0-1-3-3-2zM196 807l1 0 1 2 0 1-1 0-2-2zM214 701l-2-1-1-1 4-2 1 1-1 3zM336 731l1-1 5 2 1 1-1 0-4 1zM271 768l2 3 2-1 0-3zM254 706l-1-3-3 0-1 1 1 2 3 0zM332 812l0 1 1 4 0 1-5 1 3-6zM344 701l-3-1-1-3 0-1 5 3zM276 778l1 0 1-2-1-2-3 2 1 2zM299 801l-1-1-2 0-1 1 3 3zM351 740l1-1-1-3-5 0 0 2 2 2 1 0zM286 809l-1 3 0 1 1 1 2-2-1-3zM235 765l-2-1-2 0-1 2 3 1 1 0 1-1zM303 731l-1-1 3-2 3 0 0 1 0 3-1 0-1 1zM326 792l-2 0 1-3 2-1 1 1 1 1-1 1zM232 783l2 1 1 3 0 1-2-1-2-3zM321 700l2-2 2 0 2 2 0 1-3 2zM241 782l-1-1 0-1 4 0 1 0-1 1-2 2zM271 703l1-2 2 1 0 2-2 2zM324 803l-5 0-1-1 1-3 2-1 4 4zM200 803l-1-3 1 0 2 0 1 1-1 3-1 0-1 0zM264 814l1 0 2-1-1-4-1 0zM258 800l1 0 1-3-4 0 0 1zM316 782l-3-4-2 3 0 3 1 0 3-2zM296 669l-6 21 1 2 4 0 1-4zM263 734l1 2-4 2 1-2zM207 735l0 1 4 0 0-1-3-1zM210 793l1 0-1-3-1 0 0 2zM265 774l-3 3-2-1-1-2 3-3 2 0 1 2zM348 767l-4-2 1-3 4 0zM257 802l-4 0 3-3 2 2zM266 764l-1-1 3-2 2 1-2 2zM225 702l-1-1-2-3 1-3 4 3zM331 735l0-1 2-2 1 0 0 3-2 1zM316 807l-3 2-2 1-2-1 3-3zM290 807l-1 1 0 3 3 0 1-1zM283 738l2 2-2 3-3-2 2-3zM347 792l0-1-1 4 1 2 2 0 0-4zM260 806l2-2 1 1 0 3zM281 756l-2 0-4-3 0-3 1 0 5 1zM224 776l4-3 0-2-1-1-2 0-1 1zM288 758l2 0 1 2-2 1-1-2zM210 742l-1 0-2 3 1 2 2-1zM249 821l1 2-3 5-3-6 1-1zM347 770l1-1 0-1-4-3-1 1-1 1zM363 725l2 3-1 3-1 0-3-2 1-2zM230 785l2 3-2 2-2 1-1-3 1-2zM209 795l0 3 3 0-1-4-1 0zM265 802l0-3-3 2zM258 695l-2 3-1 0-1-4 3-1zM231 721l0-1 2-1 1 0 0 2-2 1zM237 717l-3-2 0-1 2 0 3 2zM248 782l1 1 2-3-1-2-1 0-2 2zM208 799l0 2-4-1-1-1 1-1 1 0zM320 760l1 0 1-3-1-2-1-1-1 1-2 1zM272 701l3-5-2-2-3 0-1 1 2 5zM364 775l-4 2-1-2 4-2zM337 797l0-1 4-2 0 1 0 1-2 1zM199 809l2-3 1 0 2 1 0 1-3 3-2-1zM287 757l-1-1-1-1-3 1 3 5 2-2zM344 726l0 3 5-1 0-1 0-1-2-1-2 0zM317 743l1-3 0 1 3 2-1 1-1 0zM243 702l1-1-1-5-1 0-2 3zM360 819l1 0 0 3-4 0 1-2zM286 720l1 2-3 1-2-4 1-1zM204 820l-6 3 0-4 1-2 1-1 4 0zM281 821l1 1-1 2-3-3zM270 742l1-2 4 3-1 4-2 0-2-3zM297 689l-1 4 0 3 3-3zM265 775l2 3-2 2-1 0-1-3zM229 711l0 2 2 2 1 0 1-1 0-3-2-1zM255 729l-2 2-1-1 0-3 1 0zM326 706l-1 0-1-2 1-1 2-2 1 3zM203 697l1 3-3 1-1-2 1-3zM302 753l-1 0 1-2 2-1 1 0 1 1 0 1zM309 752l-1 0 0-1 2-3 2 3zM325 805l6 5-2-6-2-2-1 0-1 2zM328 779l-1-3-3 1-1 2 1 1zM362 780l2-4 1 0 1 2 0 1-3 2zM231 820l-2-5-3 3 4 2zM284 799l-2-2-2 0-1 2 0 2 1 1 4-1 0-1zM332 811l4-4 0-2-6 0zM262 804l0-2 3 1-2 2zM294 741l-4-1 0-1 3-1 1 0 1 1zM256 812l-1-2-2-1-2 1 0 2 3 2 1 0zM213 803l-4-1-1 3 3 0zM196 693l-25-1 14 4 10 2 1 0 1-4zM349 713l1-1 1 0 1 1-1 3-2-2zM227 757l-1-1 3-2 1 1 0 2zM288 716l1-3-5 0-1 3zM349 700l0 1 3 2 1-3-2-1-1 0zM215 837l4-15-2-1-1 0-2 6zM273 701l2-5 2 1 2 4-5 1zM258 808l-2 1 1 3 3 0 0-2zM276 733l-1 2-1 1-1 0 1-4zM212 789l-2 1 2 3 2-3zM257 807l-2 1-2 0 0-3zM242 769l2 1 3 0 1-3-4-1zM243 725l-1 0 0 2 1 2 2 1 2-1 0-2-2-2zM322 729l0 4-4-1 1-5zM239 792l-3 0 0-1-1-3 1-1 3 0zM231 733l-1 0-2 2-1 3 1 1 3 1 1-1zM357 726l3 1 2-2-1-1-3 0zM209 795l0 3-1 1-3-2 2-2zM291 734l2 3 1 0 0-4zM351 693l4-1 2 0-3 3zM300 779l2 1 1 1-2 2-3 0-1-2 2-2zM360 767l4 0 1 3 0 1-2 1-2-1zM268 713l1 0 2 1 1 2-3 2zM246 798l1 3 2 0 0-5zM342 753l0-2 2 0 1 0-1 4-2-1zM319 704l1 1 0 2-2 1-1-1 0-1zM282 791l-1 0-4 0-1 2 4 2 1 0zM286 755l5-3-1-2 0-1-4 1 0 4zM357 819l-3-1-1-2 4 0zM255 798l0-2-2-2-1 0-1 0 1 8zM296 764l4 3 0 1-2 2-1 0-1-4zM348 741l-1 0-2 4 3 1 1 0 0-1zM350 726l1-2 2 0 1 4-1 0-3-1zM330 746l-1 1 0 4 2 0 1-1-1-3zM330 769l1 1 4 0 1-1-2-2-4-1zM245 784l3-1 2 3-3 1zM236 793l-1 2-3 0-3-2 0-1 1-1 5 1zM312 760l3 0-1-4-2 1zM348 700l-2-1 1-2 3 2zM224 725l1 0 2 1 1 3-4-1zM252 761l-3-3 2-2 1 1zM336 791l1 4 4-2 0-2-2 0zM203 744l4 1 1-3 0-1zM227 703l3 3 0 2-4-1 1-3zM363 810l3 0 0-2-3-1-1 3zM270 710l-2 2 4 1 2-2 0-1zM331 751l2 2-4 2-1-3 0-1zM216 751l0 3 2 0 1-1-2-2zM313 797l-3 3 0 1 3 1 2-1zM362 714l-2 4 2 1 3-2 0-1zM257 766l3-1 1 4-4 0zM259 694l2 1 1-3-1 0-2 1zM338 756l0 1-3-1 0-1 3-1zM332 812l1 0 1 1 4-1 0-3-2-1-4 3zM195 712l-20 0 18-4 3 2zM332 722l-4 0-1 1 1 1 2 1 1-1 1-1zM319 718l-4 3 0-1-1-1 2-5 1 0zM321 705l3 0 0 1-3 2 0-1zM281 769l0-1-2-4 1-1 3 1 1 3zM247 722l4 3-1-5-2 1zM315 769l3 3 1 0 0-2 0-1-1-2-2 1zM264 734l2-3 2 0 1 1 1 5-4 0-1-1zM251 772l-3-1-1-1 1-3 1-1 2 0 2 5zM353 720l2 2 2-2 1-1-1-1-4 0zM265 781l1 2-1 3-2-1-1-2 2-2zM366 733l-2-1-1 0-2 5 1 1 2-1zM307 746l-1-4-3 2 1 1zM364 743l-1 0-3 1-1-4 1-1 1 0 2 2zM274 792l-1-3 3 0 0 1-1 3zM344 694l1-3-6-12 0 1-1 11 1 3 1 1zM274 783l4 3-2 1-2-2zM234 731l1 0 3 1 1 3 0 1-3-1zM292 702l-2-1-3 1 1 3zM252 718l1 4-2 2 0-4zM309 774l-4-2 0-2 2 0zM334 798l2-1 0-1-1-4-2 0 0 6zM245 782l0 2 3-1-2-3-1 0zM345 699l-4-3 4-1 1 1zM308 699l-4 1 3 2zM368 805l-3 0 1-3zM345 703l-1 1-2 1-1-1-1-1 1-3 3 1zM242 723l-2-3-2 2-1 1 1 1 3 0 1 0zM254 785l1 0 3-3-1-2-1 0-2 3zM214 815l2-1 2-2 0-1-1-1-2 0-3 1 0 1 0 1zM321 708l2 3-2 1-2 0-1-3zM308 817l1 6 1 1 1-3 0-3zM331 704l1-2 3 1-1 2-1 0zM215 710l-1 2-3 1-1-1 1-2 4-1zM350 807l-2-1-1-1 3-4 2 4zM306 804l-5 3 1 1 5 1 1 0zM348 719l-3-1-1 2 1 1 2-1zM359 809l0-2 3-1 1 0-1 4zM287 760l-2 1 0 1 3 1 1 0 0-1zM237 779l-2-1 2-4 1 0 1 2 0 3zM327 757l2-2-1-3-2 1 0 3zM302 714l0 2-3 0 0-1 1-1 1-1zM195 748l2-3 3-1 1 1-3 4zM219 736l1 0 2-1 1-1 0-1-1-1-1 0zM250 702l0-3 1 0 3 0 1 0 0 1-2 2zM356 789l-2 0-1-2 0-1 4 0 1 1 0 1zM248 809l-1-1-4 0 0 3 3 0zM199 757l1 0 1 4-2 2-1-6zM314 796l1 5 2 1 1-3zM339 800l-1-1-2-1-2 1 3 5zM345 703l0 1 1 1 1 0 1 0-1-2zM364 752l0 4 2 1 5 0-1-2-4-3zM365 761l3 2 5-1 3-1-4-3-5 0zM252 802l0 2-4 2 0-1 1-3zM241 783l-2 3 3 1 1-2-1-2zM290 734l1 0 4-1 0-1 0-1-3 0zM199 742l-2 1-6-5 1 0 7 3zM310 793l2-2-2-2-2 1 1 2zM326 736l-3 0 0 3 2 2 1-4zM263 808l1 1 0 5-2 0-1-2 0-2zM332 737l3-1 1 1-3 2zM339 817l1 2-1 2-3-3zM317 786l-1 1-3-2 3-2zM241 727l0-2-4 0-2 2 0 2zM216 743l-3 0 1 2 1 1 1 1 1-1zM212 751l-2 1 1 2 2-1zM333 750l2 1-1 2-1 0-1-2zM244 700l2-2-2-2-1 0zM340 805l1 2-1 1-1 0-2-1 0-2zM229 806l2-2 2 0 2 2 0 2-1 0-2 1zM205 770l1 3-2 0-3-3zM270 766l-2-1-2 0 0 2 3 1 1 0 0-1zM355 760l-4 2-2 0 0-1 5-3zM361 748l3-1-1-3-3 1zM360 794l0 3 3 1 1 0-3-4zM242 791l0-4 4 2 0 2zM203 791l-3-1-1 1 0 1 2 1 1 0 1 0zM355 696l2-3 2 0 1 1 0 3-2 2-1 0-1 0zM315 732l-2-3-3 0-1 3 5 1zM334 783l2 2-1 1-6 2 3-4zM236 736l3 1 0 2-4-1zM270 793l3 1 1-1-4-1zM308 747l1 0 1 1-3 3-1-2zM337 725l-3-2 0-1 3-1 2 2zM353 766l4-1-1-3-3 3zM202 781l2-1 3 1-2 3-2-2zM335 731l1-2 1-2-1-1-2-2-2 1 2 5zM229 764l-2-1-2 1 0 5 2 0 2-3zM284 774l0 1 0 2-1 1-3-2 3-3zM291 730l3-3 0 1 1 2 0 1-3 0zM265 692l1 4 3-1 0-1-1-2-1-1zM226 778l4-2 1 0 0 1-2 2zM276 779l1 0 2 1-1 2-2-1zM242 813l1-1 3 0 0 3-1 0-2-1zM201 696l-3-2 0 4 2 1zM291 758l2-2 2 1-1 3-1 0-1-1zM322 740l-3 0 2 3 3-1zM353 717l3 0-1-3-2-1-1 4zM268 742l-3 0-1 1 1 1 4 0zM206 811l-2-3-2 3 3 2zM242 722l-2-3 0-2 1-1 3 2zM291 798l1 2 1 1 1 0 1-2-1-1-1-1-1 0zM211 773l0-1 6-1-1 4-2 0zM248 712l0 3-3-2 1-2 1 0zM288 717l1 0 2 2 0 3-3-1-1-1zM358 811l0 1 1 2 1 0 2-1 0-2 0-1-3 0zM364 710l0 2-2 1-1-1zM251 773l2-2 2 0 2 3-3 2-3-1zM335 700l0 2-3 0 0-2 2-1zM206 711l-1-4-3 3 0 2 3 0zM316 714l-3-1-2 1 1 3 2 2zM342 796l1 2 2 1 2-1-2-2-3-1zM254 735l-1 2 1 2 2 0 2 0 1-1 0-2-1-2zM208 727l3-4 2 0-1 5-1 1-1 0zM296 815l5 2 2 0 0-2-2-2-2 0zM267 730l1-2-4-3-1 2 3 4zM345 707l-2-1-1-1 2 0 1 1zM232 783l2-4 2 1 0 3-1 1zM204 780l0-2 2 0 2 3-1 0zM294 812l0 3 1 0 4-2-3-4-2 2zM368 744l-3-1-1-2 3 0 3 3zM228 822l-2 0-2-3 1-1 5 2zM276 788l1-1 2-1 2 4-4 0zM234 822l4 2 1-3-3-2-3 2zM324 790l-1 2-1 0-1-1 0-2zM356 756l-2 1-1-2-1-2 1 0 2-1 1 0 1 2zM282 717l-3-2-3 2 1 2 2 1 2-2zM206 696l1 1 3-1-2-4-2 1zM216 690l2 2-3 2-1 0-1-2zM242 808l0 3-1 1-2 0-1 0 0-3zM234 767l1 5-4-1 2-3zM223 810l0-2 4 3 0 1-2 0zM328 708l0 1-2 2-1-1 1-3zM310 827l0 1 2 14-5 54-6-39 0-16 1-16 2-2 5 3zM326 794l0 2 2 2 1 0-1-5zM270 694l3-1 1-3-1-4-4 5zM209 774l-2-1-3 1-1 2 1 1 2 0zM256 706l2-3-1-2-1 0-2 2 1 2zM335 735l0-3 2 3 0 1-1 0zM292 750l5 1 2 2-1 1-2 1-3-1-1-1zM339 784l0-4 3 0-1 5zM344 722l0 2-1 1-2-2 1-2 1 0zM321 774l-2-1-1 0-2 2 3 4 0-1zM217 704l-2 3-2-1 0-1 1-3 1-1 2 2zM219 705l-1 0-3 2 0 2 1 1 3 0 2-3zM348 718l-1-2-2 0 0 1zM252 786l-2-1 0-2 1-2 2 2 0 2zM361 761l-1 4 0 1 4 0 2-2-4-3zM204 720l-2-1 0 4 1 1 1 0 1-2zM247 731l1-1 3 1 1 1 1 2-1 2-1 0zM223 780l-3 3-1 4 0 1 2-1 3-5zM291 718l1-1-1-4-1-1 0 1-1 3zM358 786l3-1-2-3-2 0 0 3zM262 747l1-1 1-1-1-2-4 1 0 1zM301 694l1 3-1 2-4 0 0-2 3-3zM343 808l2 0 0 3-2 0-2-2zM343 786l2-2 2 2-2 3-1 0zM352 780l-4-1 0 2 3 2zM273 754l1-1 0-4-1-1-3 1-3 4zM355 762l-2 2-2-2 4-1zM278 814l-3-1 0 2 2 2 2-1zM216 763l-3 3 3 2 1-2zM242 807l5 0 0-1 0-1-3-3-3 0zM303 748l-1 1-2-4 1-1 1 1 1 1zM221 745l0 3 2 1 1-1 0-2 0-1-1-1zM275 761l-1-6 1-1 4 3zM209 781l-1 0 0 1-2 2 0 2 1 0 3-1 0-1zM275 763l1 0 2 0 1 0 0-5-4 4zM360 703l5-1 2-2-6-3-3 3zM353 750l0 1 2-1 1-2-1-1-1 0-1 1zM224 722l1-2 2-1 1 2-3 2-1 0zM244 759l-3 2-2-1 0-1 2-3 1 1zM361 785l2 0 0-3-2-2-2 2zM282 716l-3-1-1-3 1 0 4 1zM231 732l-1 0-1-1-1-5 4 0 2 2 0 2-1 1zM233 746l1-2-2-2-2 3 0 1 0 1zM278 736l-1 3 1 2 2 0 1-3-1-2zM320 810l-1 4-2-1 0-2 1-2zM202 693l0-1-4 0 0 1 1 1 2 1zM299 721l1 1 5-2-1-2-1-1zM270 765l-1-1 1-2 1 0 1 1zM274 783l-2 0-1-1 1-2 1 0zM313 752l3-2 2 4-2 1-1 1 0-1zM348 719l2-1 1-1 1 1 0 2-2 1-1-1-1 0zM250 795l1 0 1 6-3 0 0-1 1-4zM285 797l-2-2 1-4 3-2 2 1 0 1 0 3zM367 740l0-2-3 0-2 0 2 2zM233 695l-3-2-1 0 4-2 1 1 0 2zM339 743l2 2 4-6 0-1-6 3 0 1zM322 736l-4 1 0 1 0 1 0 1 4-1zM305 704l1 0 0-2-2-2-2 0zM226 708l-1 3 2 2 1 0 1-2zM270 703l1-2-1-1-5 0 0 2 3 2zM210 779l-1-4-3 3 2 2 1 0zM356 802l-5-2 0-1 3-2 2 2 0 2zM339 695l-5 3 0 1 2 1 3-3 1-1zM237 747l0 3-1 0-2-1 0-3 1-1 2 1zM365 805l-2 1-1-1-1-3 3-3 1 0 1 3zM212 821l0 2-2-2 0-2zM266 803l3 1-1-6-3 0 1 4zM269 782l-1 1-1 0-2-2 3-3zM247 710l0-1-1 0 1-4 1 0 1 1 0 2zM222 797l-5-1 2-4 3 3 0 1zM349 808l0 4-3-1 0-2 1-2zM357 790l1 1 1-1-1-2zM230 717l1-2-3-1-1 0 1 3zM230 800l1 4 1 0 3-4zM281 820l0-2 2 1 0 2zM314 744l3-1 1 2-2 2-2-1zM223 779l-5-2-2 3 4 2zM338 816l-2 2-1 0-1-1-1-4 1 1zM360 754l1-3 2 1 0 4-1 0-2 0zM243 723l2-4 2 2-1 1-1 1zM281 733l0 2 1 2 1 0 3-1-4-5zM215 733l1 3-3 1-1-1 0-1 0-3zM204 791l4 1 1 2-2 1-3-2zM287 784l0 1 0 1-3-1-2-3 1-1zM243 798l-2 3 3 1 2-1 0-2zM366 707l2-6-1 0-2 2-1 2 1 2zM319 815l-2-1-1 1 0 2 1 1 1 0zM254 787l-1 6 1 0 4-2 0-2-3-2zM357 786l-4 0-1-2 0-1 5-1zM344 730l5-2 1 3-1 1-5 2 0-1-1-1zM308 756l0-3-1 0-5 1 5 3zM218 761l2-2 2 0 1 4-2 0zM200 735l0 1 2 3-2 2 0-1-2-4zM359 778l1-1-1-1-1-1 0 2zM304 691l3 3-1 1-1 0-1-3zM270 807l0 5-1 1-1 0-1-5 2-1zM244 775l0-5 3 0 1 2-3 3zM300 778l2-3 2 1-1 3zM344 715l-4 0 0-1 1-2 3-1 1 3zM299 726l-4 2 1 2 3-1zM257 757l2 0 1-1-1-1-2 0-1 2zM347 771l0 2-3 1-1 0-1-2zM321 745l1 2 1 0 1-4-2 1zM270 807l4 4-4 1zM333 693l-3-1-1 0 0 1 1 3 2-1zM242 704l-3 3-2 1-1-2 2-2zM207 748l-3 0-1 2 3 1 1-1zM246 775l2-3 2 2 1 1-1 2-1 0zM306 780l-2 0 0-1 0-2 3 0 0 2zM253 762l-5-3-3 1 4 5 2 0 2-2zM231 720l0-3 1-1 1 2zM222 821l1-2 1 0 1 3-2 12zM244 734l1-3 1 0 5 5-5 0-1-1zM259 750l-3-2 2-2 4 1zM334 693l-4-2 8-12-1 12zM237 703l-1 3-3-4 1-1 1 0zM330 710l-1-1 0-1 0-1 2 1 0 2zM224 779l2 0 3 1 2 2 0 1-1 1-2 1-3-4zM346 771l-4 0-1 0 1-3zM198 798l-1 0-2-1 2-4 1 0 2 1-1 4zM299 744l-3-3 0-1 3-2 1 5zM228 740l-2 3-2 1 0-1 0-3 2-2zM356 773l0 1-1 1-2-1 1-3 1 0zM307 767l-4 1 2 2 1-1zM262 704l-3-1-1-2 5-2 1 1 0 2zM204 707l1-1-4-1-1 2 0 1 2 2zM361 760l1-3 1 0 2 1-3 2zM361 708l-1-3-2 2 0 1zM350 815l-3 2 1 0 2 1 1-2 0-1zM339 816l0 1 1 2 3 0 1-2-3-3zM298 799l0-1-1-1-2 1 0 1zM258 807l3 2 1-1-2-2-2 0zM264 693l1 3-1 2-1-1-2-1 2-3zM312 695l-2-2 0-1 2-4 1 7zM274 763l-1 0-2 2 0 2 3-1 1-2zM195 758l2 6-1 3-2 1-18 1-59-4 26-4zM258 820l-2 1 0 2 2 2 1-4 0-1zM212 794l4 2 0 1-2 3-2-2zM364 818l1 1 2 0 1-1-1-2-1-1-1 0zM299 806l0 1 2 2 0 4-2 0-2-4 1-2zM305 688l3 4 0 1-1 0-2-2zM290 805l-3-3-1 0 5-1 1 1-1 2zM259 729l0 2-1 2-4 1-1-2 2-2zM317 748l2 0 2 0-1-3-1 0zM274 813l0-1-4 1-1 1 3 2 2-1zM287 695l2-1 1-1-1-2-2 1-1 2zM269 760l0-1 3-3-1 5-1 0zM269 696l1 4-5 0-1-2 2-2zM333 740l0-1 5 3 0 1-7-1zM246 692l2-1 1 2-1 1-2 0zM311 766l-2-1-1-2 4-1 1 2zM297 795l-1-1-3 3 2 1 2-2zM235 707l1 1 0 1-2 2-3-2 3-2zM323 733l0-3 2-1 1 1 0 1zM292 703l-1 4-2 2-2-2 0-1zM309 774l-2 2-3 0-1-1-1-1 3-1zM327 770l-1 2 1 2 3-1 0-3-1-1zM243 797l0 1 3 0 3-3 1-1-2-1zM363 811l3 0 0 1-1 2-2-1zM206 692l1-2-2-12-2 7 0 6 1 1zM351 822l-3 3-1-2 3-3 0-1zM306 783l-3 3 1 1 5-2zM299 744l-2 1-1 0-2-2 1-1 0-1zM250 693l2-1 1 2-2 1-1-1zM237 718l3-1 0 2-3 3-1-3zM300 801l3-1 0-2-2-1-2 1 0 1zM210 808l-5-2 2-1 4 1z" fill="#fdfbfe"/></g></g>
<g fill="#a462d8" opacity="0.8" filter="url(#soft)"><path d="M111,370 L113.5,374 L115,379 L113,384 L110,388 L109,382 L106,378 L110,377Z"/><path d="M126,375 L129,376.5 L131,375.5 L130,378.5 L127,379.5Z"/></g>
<rect x="185.6" y="348.3" width="80.6" height="60.3" fill="#b676d8"/>
<g clip-path="url(#c1_2)"><g filter="url(#org)"><path transform="scale(.5)" d="M501 771l1 2 2 1 5-3 3-3 0-3-3-3-1 0-4 1-1 0zM373 748l6-5 3 7-2 1-5 0-2-2zM449 716l-6 1-3-3-1-5 1-2 5 0 4 3zM425 760l5-6 6 4-3 7-2 0zM492 815l-3 4-1 6 8 64 2-70zM522 774l4-4 1-1-4-5-2 0-6 1 0 3zM443 794l-1 4 2 2 3-1 2-7-1-1zM373 782l-15 4 13 6 4-4 1-3zM438 705l0-5-11-2-2 4 4 5 7 0zM485 815l-2 6-7-5-1-2 0-1zM397 780l-1-2 2-7 4 0 3 3-7 6zM418 787l-4 3 0 8 5 0 1-2zM498 719l-1 1-5 2-4-2 0-3 2-4 6 1 1 3zM488 805l-9-3 5-4 4 4zM436 792l0 3 1 1 3 1 1-3-2-3zM523 706l3-1-8-14-5 10 1 3 6 3zM518 739l0 6-4 2-2-1-2-3 2-4zM522 732l-7-4 1-4 6 2 2 4-1 1zM463 737l4 3 1 6-7 4-1-1-1-2 1-6zM473 711l1 1 0 6-2 3-3 0-1-2 0-7 3-2zM395 784l-4 3 0 4 1 2 5-1zM499 770l1-6-4-1-2 2 4 5zM526 709l3-2 0 1 3 3 1 4-1 2-7 2-1-1zM519 710l-7-4-1 3 2 6 1 1 2-1zM546 777l43-1 54-10-68 0-29 2-5 2 0 1zM508 797l-5-6-5 2 3 7 5 0 2-2zM376 732l-4 0-4 9 4 4 7-5 1-3zM377 711l6 2 0 3-2 1-3 0-4-5zM389 727l-7 0-4 3 0 1 4 5 6 0 4-2 0-2zM455 803l-2-1-5-1-2 1 3 8 3-1zM545 790l33-9-38 1-4 2 0 3zM397 764l3 2 3 0 4-9-6 0zM484 697l-1-6 9 4-1 2zM487 736l-4 7-2-6 5-2zM470 775l-3 1-1 4 4 2 1 0 0-5 0-1zM482 752l-3 1-2 5 2 3 5-1 0-6-1-1zM466 711l-4-1-4 5 8 3zM455 705l-4 3-4-2 5-3zM445 763l-1-5 1-1 2 0 3 5-5 2zM500 746l3-3-4-5-3 1 0 4zM369 762l-8-4-43 11 43 0zM436 740l-6-2-2 4 3 5 4-2zM523 736l-2 3 0 5 4 3 1 0 1 0-1-10-1-1zM427 732l0 1 1 4-2 3-6-1 0-1 1-2zM449 700l-4 2-4 0 1-4 5-12zM461 812l2 4-4 2-1 0-2-5zM467 798l-1 0-7-7 1-4 5 2zM526 803l0-2 9-1-1 6-3 2-3-1zM492 807l-1-2 0-3 4-8 3 7-5 6zM512 723l0-2-10 0-1 1 3 7 3 0 4-2zM448 732l-4-1-1 1 0 2 4 4 2-2zM419 777l-3-5 2-4 4 5zM470 707l-3 2-4-2-1-2 0-1 6-4 2 0 1 3zM484 701l0-2 7 0 0 1-4 6-2-1zM396 753l3 2-5 10-5 0-2-1 0-2 6-9zM423 720l2-1-1-6-4 0-1 2zM527 728l4-3 0-5-5 2-1 2zM457 804l-3 6 2 2 5-2 3-7zM529 759l5 7-5 2-5-5zM441 726l0-5-2-2-4 2 0 6 5 1zM456 708l-3 2 0 5 1 0 2-1 3-5-1-1zM496 789l6-1 3-4-3-7-2 0-9 8zM463 776l-5-1-1 4 2 3 4-2zM518 787l-4-3 2-3 5-3 1 1zM459 770l-1 0-1-6 4-3 2 2 0 2zM485 734l-6 2-3-1 2-7 2 0zM485 777l-1-5-3-1-1 3 3 4 2 1zM515 778l-3-5 2-3 6 5zM472 740l0 6 6 3 4-1-1-3-3-6-2-1zM424 783l5 0 2 1 0 4-5 2zM373 804l1-2 4 1 4 6-4 4-6-4zM582 2431l3 3 891 22576-829-20160-77-2289 6-130 1-1 2 0zM388 699l1 7-3 1-2-5 2-3zM410 735l7 4 0 1-2 6-5 4-5-13 3-2zM484 708l2 1 1 2-3 3-7-3 0-1zM510 747l-4 3-3-2 3-3 2 0zM522 805l-3 8 3 1 5-6-3-4zM524 710l-1 7-5-2 3-4zM440 785l-2 3-3 1-2-1 0-3 6-2zM497 749l-1 2-4 3-3-2-2-2 6-4zM475 778l7 2 2 2 1 2-9 0-1-1zM422 780l0-1 2-3 3-1 1 2 0 3-4 1zM465 782l-4 3 5 2 2-3zM399 704l-1 6-3 2-2-4 5-4zM359 804l7 1-1 4-4 2-26-3zM550 723l1 5 33 12 67 8-101-26zM467 759l6-1 2-5-5-3-7 3 1 3zM512 717l0 2-9 0-1-3 4-1 5 2zM525 752l2 0 1 4 0 1-4 3-2 0 0-4zM468 764l0-2 6-1 2 3 0 1-5 4zM528 810l2 1 0 3-3 3-3-3zM355 772l7 4 1 3-13 3-45-8 14-1zM422 704l0-1 1 0 3 4-2 2-4 1-1-2zM532 758l5 7 33-2-37-6zM510 795l-5-6 2-3 5 0 3 3zM372 712l-6 1 1 2 7 4 2-2zM515 754l-4 6 3 3 5-2 0-5zM482 797l-7 5-2 0-2-2 2-4 10-6zM484 787l1-2-10 0-1 9zM462 727l3-4 0-2-7-3-2 1 4 7zM521 723l1-3-5-2-1 0-1 2 1 1zM379 836l-1-5 1-16 5-3 3 0 1 1zM367 815l8 13 1-12-5-3zM505 711l3-3 1-2-1-2-3 0-3 2-1 4 1 3zM375 729l-4 0 0-1-3-9 6 4zM422 724l0-2-8-1-1 1 4 5 1 0zM496 770l-4 1-2-4 2-1zM389 720l-5-3-1 2-1 5 7 0zM501 837l-1 61 4 61 5-122-4-1zM384 698l-2 3-4 2-2-2 1-4 5-2zM501 761l0-1-3-6-4 3 2 3zM494 699l6 5 4-3-7-8-3 3 0 2zM436 748l-4 1-1 2 0 1 6 4 5-1 0-1 0-4zM512 715l-2-5-3 4zM413 703l6 0-2 4-6-2zM380 797l-2 3-3-1-1-4 0-1 2-2 5 4zM526 797l0 2 9-1 4-4-10-3-4 2zM428 718l-1-6 2-2 6 0 1 5-4 3zM512 797l5-5 4 1 0 4-7 1-2 0zM458 700l0 1-2 0-3-2-2-15 0-3 6 11zM498 773l1 2-10 8-1 0 0-2 0-3 3-5 6 0zM499 724l2 6-3 3-3 2-3-2 1-7zM428 729l3-1 0-7-5 1-1 1-1 2zM533 810l3-2 8 8-10-3zM375 700l-5 0 0-8 5 5zM375 709l1-5-2-1-4-1-7 8 2 1 7-1zM448 747l7 2 2 2-9 3-2 0-1-5zM402 695l1-1 5-16 1-26-12 39 4 4zM397 803l0 10-6-2-1-1 4-7zM428 747l-2-4-5-1-2 4 9 3zM407 788l-1 0 0 8 0 1 3 2 2-1 1 0 0-8zM488 736l-4 9 0 3 1 1 8-6 0-5-3-2zM452 740l-3 1 0 3 7 2 0-6zM469 773l0-2-3-5-6 7 6 1zM471 805l1 5 0 2-4 2-3 0-1-4 2-6 2-1 1 0zM436 378l8 117 2 158-1 2-7 17-9-1-9-57zM481 768l-2-3 5-1 2 2-2 2zM465 730l4-4 2 0 3 2-1 5-3 2-4-3zM452 784l3-1 1 3-1 2-1 1-3 0-1-1 0-1zM460 677l-7-11-2-139 21 144-4 12-2-1zM456 727l-4-8-1 0-6 1 0 7 5 1zM521 806l-6 0 0 7 3 0zM396 702l-3-3-3 1 1 6 1 0zM529 748l14-5-15-7zM489 797l-4-3 1-6 1-1 1 0 5 3zM494 809l6 4 5-2 0-8-5 0zM391 710l-1 0-3 0-2 3 1 2 4 2 3-1 0-3zM411 683l2 11-2 6-1 1-1 1-3-2zM388 750l-3 1-3 2 4 8 6-9zM481 699l1-2-1-6-3-6-5 13 1 2zM488 1115l-3 55 29 830 64 1379-72-2143-4-61-7-55zM514 801l2 3 6 0 2-1 0-3-1-1zM449 782l-5-3-2 2 0 1 1 1 4 3zM383 793l-5-4 1-3 4-1 5 2 0 4zM493 761l-2-3-3-1-1 5 2 2 2-1zM476 719l8-2 0 5-4 3-2 1-4-4zM411 723l-3 9 0 1 2 0 5-5zM512 749l-5 3 2 6 1 0 3-5 0-3zM520 734l-2 3-6 0-3-5 4-2zM415 694l6 7-1 0-7 1zM401 724l4 9-3 2-4 0-2-1 0-2zM461 702l6-4-8-6zM410 710l4 3 2-1 1-1-1-2-5-2-1 0zM362 801l9-5 1 5-1 2zM393 802l-4 6-2-7 5-1zM414 673l2 12 4 5 1 0 2-3-7-44-1 4zM392 720l0 4 2 5 5-8-4-2zM460 757l-1-3-1-1-8 3 4 5 1 0zM376 755l0 6 5 3 2-1 0-1-2-7zM510 801l-3 2 0 8 5 2 2-1-1-7-1-3zM437 831l-3 4 12 107-2-106 0-1zM532 734l1 1 10 5 24 0-30-10-5 3zM383 800l-3 3 4 5 3 0-1-6zM524 778l5 4 5-3-6-7-4 4zM554 751l1 4 31 5 62 0 20-2-8-1-68-9-27-1zM377 709l2-4 3-1 3 5-2 2zM471 773l1-2 5-4 1 2-1 3-5 2zM403 721l4 9 3-8-5-2zM394 782l-4 2-5-1 1-5 5-1 3 3zM472 775l6-2 3 5-8-2z" fill="#fdfbfe"/></g></g>
<g clip-path="url(#c1_2)"><g filter="url(#soft)"><path transform="scale(.5)" d="M501 763l-3-2-2 1 2 3 3-1zM385 735l-1 0-1 0-1 2 2 1 1 0 0-1zM504 687l2 4-1 0-1-1zM436 698l-2 1-1 0 0-1 2-1zM530 728l3 1-2 2-1-2zM406 799l0 2 0 1 2-2-1-1zM509 798l2 1 0 1-1 0-2-1 0-1zM498 758l3 1 0 2-3-1zM400 821l-2 3-2-2 1 0 2-1zM482 786l2 0-3-2 0 2zM379 698l1 3-2 0 0-1zM417 710l-2-4 3 0 0 1 0 2zM397 742l-1 0-2 1 1 1 2 0zM437 805l0 1-3 1-1-2 2-1zM489 753l-1 0 0-1 1-2 1 1 1 0 0 1zM490 749l1-3-2 0 0 1 1 1zM391 748l1 1-2 1-1-1 0-1 1 0zM389 702l2-2-2-2-1 1-1 1zM399 742l1 0 4-1-3-1zM477 809l1 0 2-1 1 1 0 1-3 0zM396 694l0-1 1-1 0-1-3-2-1 2zM389 711l-4-2 0 1 0 2 2 0zM487 708l0-2 2 0 0 2-1 1zM398 820l-2 0-1-1 1-1zM439 697l4 3 1-2-3-2zM504 779l0 2-2 0 1-2zM433 808l1 2 0 2-1 0-1 0 0-4zM524 749l-1-1 1-2 1 2 0 1zM479 819l0-3-1 0-1 0 1 2zM517 749l2 1 0 1-1 1-1-2zM409 788l1 2 2-1 0-1-1 0zM422 715l-4-1-1-2 1-1 3 0zM511 730l-1 0-1 2 3 2 0-2zM493 792l1 2-2 0-1-1 1-1zM426 772l-1 0 0-1 1-1 2 1-1 1zM515 702l-2-2-1 3 2 1zM496 713l2-1 0 3-2 1zM424 818l1 2 0 3-3-4 0-1zM437 716l1-1 0-2-2 0 0 1 0 2zM417 789l0 3 1 0 1-1-1-3zM367 729l2 1 1 0 0-4-1 1zM451 710l1-2 2 1-2 2zM448 717l2 1 1 1 1-3-1-1-2 1zM518 805l0-3 2 0 1 2-2 1zM513 781l1 0 1 0 0 1-2 1 0-1zM510 720l1-1-1-2-2 2zM495 786l-2-1-1 0 0 2 3 0zM427 736l-1-2 0-1 2 2zM426 816l1-2 1 1 0 2-1 1-1-1zM368 739l-1 0-2-3 2 0zM419 760l3 0-1 2-1 1-1-1-1-1zM445 764l0-2-2-1 0 3 1 0zM399 729l-1-3-2 2 2 1zM430 723l-1-1-1 0-1 2 2 3 1 0zM516 725l-2 2 0-2 1-1 1 0zM434 753l3 0 1-1-2-3-2 1 0 1zM468 793l1 1 1 1 1-1-3-2zM471 706l2-1 0-1-2-1-2 1 1 2zM523 712l0 2 2 1 1-1-1-1-1-1zM509 796l3 1 0-3-1-1zM441 762l1 1-2 1 0-2zM492 730l-4 1 2 2 2-2zM438 696l-1-1 0-1 0-1 1 0 2 0-1 2zM497 788l0-1 3-1 0 1 0 1zM481 748l1 0 1 0 0 1-3 0zM439 809l0 1-1 2 1 2 2-1-1-4zM394 790l1-1-1-1-1 0-1 2zM394 725l-1 1 1 1 2-1zM377 766l0-1 1 0 2 1-1 1zM525 717l-1-1-1-1 0 1 1 2zM465 782l1-1-1-2-1 0-1 0 0 2zM471 763l-1 0 1 3 2 0 0-2zM419 747l1-3-1 0-1 2zM488 769l3 1-1 1-2 0zM520 697l2 0 0-1 0-2-1 1-1 0zM457 700l1 0-1 4-3-2 0-1zM403 723l0 2-1 0 0-2zM429 735l-2-3 1-1 3 3zM447 693l0-1-1-1-2 0 0 1 2 2zM366 730l1 1-1 2-2 1-4-1 5-3zM523 799l-2 1 0 2 1 1 1 0 0-1zM376 775l0-1 3 1 0 1-1 1zM510 768l3 0-1 2-2-1zM388 721l-1-2-2 2 1 2zM469 717l0 1-1 1 0-2 0-1zM400 729l1 0 2 1-1 2-3-2zM375 789l-2 4 1 0 3-2zM456 712l-1-1 0-2-3 3 0 1zM502 728l1-1-1-2-1-1-1 1 1 2zM394 796l0 1 1 1 0 1-2-1-1 0 1-2zM492 731l0 3-2 1 0-1zM437 796l3-4-3 0-2 0 1 3zM441 760l0-1-2-3 0 4zM475 716l2 1 1-3-1 0zM376 759l1-2 2 1 0 1-1 1zM423 806l3-2-2-1-1 1zM515 764l1 0-2 1-2-1 1-3zM440 725l2 0 0 2-2 1zM402 811l-2 0 0 3 1 0zM403 718l-2 2 1 2 2 0 1-1zM508 697l-1-1 2-1 1 0 0 2-1 0zM401 772l0 3 1-1 1-1-1-1zM441 722l1 0 1 1-1 1-2 0zM424 714l0-2-1-1-1 1 1 2zM494 769l3-3-2-3-2 0 0 3zM467 700l0 3 0 1-1-1-1-1zM413 760l0 1 0 1-1 1-1-1 1-1zM502 806l-2-2 1 0 1 0 1 1 0 1zM472 695l-1-2-1 2 0 2 1 1 1 0zM499 827l2-2 1 1-2 15-1-9zM373 716l1 2 0 1-2-2 0-1zM434 815l-2 2 2 2 1-3zM440 808l0-1 3-1 2 3zM489 710l1 1 2-1-1 0-1-1zM408 753l0-1-1-2-1 0-1 0-1 2 1 1zM505 701l-2-3-1 1 1 2zM529 750l2 0-1 1zM448 756l-1-2 1-1 3 2zM520 789l1 0 1-1-2-1-1 1zM486 729l-1-1 2-2 1 0 0 1-1 3-1 0zM378 743l-1-2 2 0 1 1 0 1zM390 763l2-3-1 0-2 0-1 0-1 1 1 2 1 0zM517 820l2-1-1-1-2 1 0 1zM370 707l-1 2 1 1 1-1zM425 755l0-2 0-1 1-1 1 2zM429 700l2-1 0-2-1 0-2 0-1 0 0 2 1 1zM370 693l-1 0 3-4 1 2-1 2-1 0zM519 821l2-1 1 1-1 3zM505 701l-2-4 1 0 2-1 0 1zM450 743l1 0 0 1 0 3-2-2zM378 711l-2 0-2-1 1-1 3 0 1 0-1 1zM517 726l1 1 0 1-2 0-1 0zM509 811l3-1 0-2-3 0-2 1zM478 775l-1-2-3 2 1 2 2-1zM527 703l-2 2 1 1 3 0zM447 772l-1-1-2 1 0 1 1 1 3-1zM364 808l-5 2 7 2 2 0-1-2zM372 703l2 0-1-3-1 1zM439 735l2 0 0-2-2 0zM425 733l-1 1-1 1-1 0 0-2 2-1zM391 722l-2 0 1 3 2 0 0-1zM377 715l-1-1 0-2 2 0zM491 765l-3-1 0-1 4-1zM458 778l-2 0-2 3 3 1 1-1zM371 719l-1 1 1 2 1 0 2-1zM530 792l2 0 1-1-1-2-1 0-1 2zM481 732l1 1 2-1 0-1-3 0zM413 812l-3 2-2-1 1-1 2-1zM534 700l0 1-2-1-1-2 1 0 1 0zM407 711l-1-1 1-1 2 1-1 1zM536 739l0 2 1 1 4-3-2 0zM537 706l-2 0 2 2 1-1zM435 811l3-1-1 2-2 0zM487 711l0 1-1 1 1 1 2-1-1-2zM492 813l2 1-1 1-3 0 0-1zM431 798l-1-1-2 1-1 1 2 2 2-2zM441 729l2-1 2 0-1 2-1 1zM430 804l-1 1 1 2 1 0 1 0-1-2zM380 750l-2-2 2-1 1 2zM473 699l-2 1 0 1 3 2 0-1 0-1-1-1zM535 700l-1-2 2-1 2 0-1 2zM444 716l2 1-3 2-1-1 1-1zM438 730l1 2 2 0 1-1-2-2zM464 728l1 1 1-1-1-3-1 1zM514 801l-1 0-1-1 1-1 0 1zM428 720l-1-1 1-2 1-1 1 0 0 1-1 3zM518 703l-1 1-1 0 0-2 2 0zM493 712l0-1-1 0-1 2 1 1zM499 797l-1-2-2 0 0 2 1 0 1 0zM532 752l1 1 0 1-1 1-1-1 0-1zM480 704l0 3-1 0-1-1zM392 720l0-3 2-1 0 3zM526 732l3 0-1-2-2 1zM382 746l2-1 1 2-2 1-1 0zM366 698l-12 0-1 0 12-4 1 0 1 1zM507 767l0-1-4-2 0-1-1 2 2 3zM435 696l-3 0 1-2 2 0zM373 798l-1 0-1 0 0-1 2-2 0 1zM393 729l0 2-2 0 0-1zM499 728l0-2-3 2 2 1zM517 720l0-2-2 0 0 1 2 2zM434 775l1-2 2 1 0 1 0 2zM471 717l0 1 0 1 2-2 0-1zM505 798l-1 3 3 0 0-2 0-1zM482 697l3-1-1 3-2-1zM460 812l-2 2-1-1 0-3 2-1 1 2zM394 822l-2-2 2-1 1 2 0 1zM488 695l-1 0 2 5 1 0 0-1 0-2zM448 726l0 1 2 1 2-1 1-1-2-2zM480 733l0 1 0 1-2 1 0-1 0-1zM401 702l0 2-2 0 0-1 1-1zM399 782l-2-2 0 2 0 1 1 1 1-1zM528 766l0-1-2-2-1 0 0 2zM445 805l1-2 0 1 3 2 0 1-2 2-1-1zM405 773l-1 0-1 2 1 1 1 0 1-1zM381 741l2-1 0-1-2-1-1 0-1 2zM402 739l3 1 1-2-1-1-3 1zM368 709l2 2-1 1-1 1-2-2 0-1 1-1zM463 688l-1 4-1 0-1-1zM467 818l2-2 0-1 1 1 1 1-2 2 0 1zM439 799l3 1-3 2-1-2zM525 812l0 3-2 0-2-1 2-2zM475 803l0-1 1-1 1 0 0 2-1 0zM523 711l-1 0 0-2 2 0 0 2zM447 759l-2-2 0-2 2 0 1 2 0 1zM447 753l0-2-3-1-2 2 2 2 2 0zM498 725l-3-1 0 3 1 0zM481 820l1 0 1 0-1 2-1-1zM466 761l-1 0-1 2 0 1 1 0 1-2zM456 705l1 0-2 2-3 0-1-2 3-2zM514 729l1 0 0 1-2 1 0-2zM514 777l2 1 0 2-2-1zM454 805l-3 0 1-1 1-1 1 1zM492 782l-2 0 0 1 0 1 1 0 1 0zM408 706l1-2 2 0 1 1-2 3zM442 695l2 2 1-2-3-2zM380 721l-1 2-3-2 0-1 0-1 1-1 1 0zM398 741l0-3-1 1-1 2zM376 704l2-1 2 0 0 2-1 2-2-2zM437 766l1 0-1 2-1 0zM374 734l-1 0-2 1 0 3zM520 699l1-1 1 0 1 1-1 1zM401 803l4 1-1 1-2 0-1-1zM452 742l1-1 0-1-2-2 0 4zM390 807l-2 1-1 1 0 1 3-2zM531 776l2-2-1-1-1 0-1 2 0 1zM432 736l0-1-3 1-1 1 0 2 3 0zM373 741l-1-1 2-1 1 1zM390 736l0 2 1 0 1-1zM460 730l2-2 0-2-3 3zM375 704l-2 0 1 2 1-1zM497 717l2-1 1 1 1 1-1 1-2 0zM460 734l0 1 0 3 2 0 1-2-2-2zM506 776l2 0 1-1-1-1-3-2-1 2zM535 777l0 2-2 0 2-3zM415 793l-1-1-1 2 2 1 1-2zM463 697l0 1-1 2-1 0-2-1 1-1zM503 782l-2-1-2 0 2 3zM528 817l1-2-1-1-1 0-1 2 1 1zM413 704l1 0 3 0 1-2-1-1-1-1-1 1-2 2zM476 696l-2 2 0-3zM535 702l-1 0 0 3 1 0 2 0 0-2zM509 767l0-1 1-1 3 1-1 1-2 0zM498 741l1 0-1-5-2 3 1 2zM493 750l-1-1 1-2 1 1zM507 741l-2 0 2-3 2 0zM401 709l0-1-2 0-1 1 1 0 1 1zM494 806l-1-1-2 0-1 1 1 1 2-1zM528 703l2 0 0 3zM369 704l0 1-2 0 1-2zM513 726l-2 0 0 2 1 0 1-1zM414 748l-3-1 0-2 3-1 2 2 0 1-1 1zM412 737l1 2 1 1 1-1 0-1-2-1zM434 813l0 1 2 1 1 0 1-1-1-1-2 0zM437 725l0 3 2 0 0-3zM383 801l0-2-1-1-1 2 0 1zM526 721l-2-1 0-1 1-1 1 1zM417 775l-2-3 0-1 1 0 2 0 0 2zM401 697l-1 2 0 1 2 0 1-1zM412 784l1-1 2-1 1 1-1 0-1 1zM478 703l1 1-2 1-1 0-1 0 0-1 1-1zM404 808l0-1-3 0-1 2 1 0 2 0zM531 763l-2 1-1-1 3-1zM465 810l1-3 1 0 0 1 1 1-2 1zM504 821l1-1 2 0-1 1-2 1zM500 776l-2 0 0-2 3 1zM426 811l-1 0 2 1 1 0 0-1-1-1zM497 732l0 1-1 0-2-2 0-1 1 0 2 1zM475 745l-1-1-1 0 0 2 0 1 1 0zM515 821l-5 0 4 8zM521 772l0-2 3 1-2 2zM486 720l-1 1 2 3 2 0 1-1-1-3zM514 709l0 2 2-1-1-1zM372 779l-3-1 0 1 1 2 2 0 1-1zM530 796l0-1 2 0 2 1 0 2-2 1-2-1zM476 808l-1 0 0-2 0-1 1 0 1 1 0 2zM485 817l-1 0-1 1 1 1 2 0 0-1zM428 708l-1-1 0 2 1 0zM501 715l1-2-3-1 1 2zM426 795l1 2-1 1-1-1 0-2zM527 742l-1-2-1 0-2 3 1 0 1 0zM426 707l-2-1 0 1-1 3 2 0 1 0zM476 707l1 0 1 0-1 2 0-1zM531 778l3-3 0 1-1 3-1 0zM419 718l0-1 0-1 2 0 0 2zM521 744l1 1-1 2-1 0-1-1zM437 741l1 1-2 2-2-1 0-1zM376 803l-2 0-1-3 1-1 2 0zM512 774l1-2 2 0 0 1-2 1zM427 726l-3 0 0-1 2 0zM368 706l-1 2-1 0-1-2 1 0zM378 792l-1 2-2 0 2-2zM391 769l-1 0-2 2 1 1 3 0 0-2zM474 759l2 0 0-1-2 0zM381 722l-1 1 0 1 1 0 4 0-2-2-1 0zM460 750l-2-1-2 2 0 1 3-1zM472 707l2-1 1 0 0 2-1 2zM528 770l2-1 2 0 0 2-2 0-2 0zM500 803l-1-4-2 0 2 4zM467 734l-2-1 1-1 1 1zM526 785l-1 1 3 4 1-4-1-1-1 0zM457 726l-1-1 0-3 3 2zM493 695l-1-1-2 0-1 1 2 1 1 0zM507 736l3 1 1-2-3-2-1 1zM412 787l2 0-1-2-1 0zM375 702l-1-2 1-1 1 1 0 1zM376 695l-3-1-1 1 2 2zM511 709l1 0 0 2-2 0-1-1zM390 733l0 1 3 2 0-3zM535 701l2 1 1-1-1-1zM535 763l-2 0-1-1 1-1 3 0 0 1zM411 779l2-1-2-2-1 1 0 1zM450 782l-1-2 2 0 1 1-2 2zM384 708l0-2-3 0 0 2 2 1zM485 772l-2-2 3-2 0 1 0 2zM430 782l0 1 2 3-1 1-2 1-1 0-2-3zM396 795l2 0 1 0-1-1-1 0zM426 778l-2 0 0-2 1 0 1 1zM495 750l1-2 1 0 0 1 0 1zM455 768l0 1 2 0 1-1-2-1zM508 711l0 1 1 0 0 3-2 2-1 0 1-5zM369 808l1-1 2 0-2 4-1-2zM447 718l1 1-1 4-2-1-1-1 0-1zM453 721l1 0 1 1-1 2-1-1zM369 813l-1 1 0 1 1 2 2-2-1-2zM399 773l-1 3 1-1 1 0 0-2zM375 829l2-4 1 0 0 3-2 19-1-14zM527 796l1 2-1 2-2 1 0-3zM455 744l-3-1 0 1 3 1zM492 736l0 2-1 0-1 0 0-1zM449 697l-1-2-1 0-1 2zM528 720l1 0 0-1-1 0zM525 803l-1 1 1 1 1 0 0-2zM426 739l1 0 0-1-2-3-2 2 2 2zM371 715l-1-1-2 0 0 2 1 1 1 0zM495 722l0 1 3 0 0-1-1-1zM424 775l0-2-1 1-1 0 1 1zM418 742l-2-1-1 0 0 2 2 2zM521 742l-4-1 1-3 2 1zM504 777l-1-2-1 1 1 1zM537 802l0-1-1-2-1 1zM519 704l1 0 0 1 0 1-1 0-1-1zM407 797l3 2 0-1-1-2-1 0zM461 777l1-2 1 0 0 2-1 0zM494 756l1 1 1 0 1-1 0-1-2 0zM472 760l0-1-1-1-3 3 2 1zM478 712l0 1 1 0 1 0 0-2-2 0zM390 696l1-2-1-1-1 0 0 3zM495 712l-1-2 3-1 1 2-2 1zM525 711l1-3 1 0 2 0 1 0 0 1 0 1-4 1zM410 700l2 3 1-3 0-1zM408 787l1 0 2 0 0-2-2 1zM509 814l0 1 3-1 1-2-1 0-2 0zM453 695l-3 1-1-2 0-1 2 0zM410 701l1 3-2-1-1 0 0-1zM383 816l-4 1 1 1 2 1 1-1zM483 776l-4 0 0-2 4 1zM510 756l1 1 1-2 0-1-1-1-1 1zM504 731l1 0 2-2-1-1-2 0-1 1zM382 793l1-1 0-2-1 1-1 0zM484 734l1 1-1 1-2-1 0-1zM410 695l-1 2 1 1 2 0zM388 729l-2 1 1 3 2-1 0-2zM540 813l-2 0 1 2 5-1zM523 701l1 2 2-1 1-1-1-1-2 0zM403 708l0-1 0-1 1 0 1 0 0 1-1 1zM515 803l-1 2-1 1-1-2 1-1 1 0zM375 735l-1 3-2 0zM425 747l1 1 0 2-1 1-3-3 2-1zM495 686l0 5 0 1-1-1 0-2 1-5zM450 762l-2-1 0-1 1-1 1 2 1 1zM437 720l1-2 1 0 0 2zM461 718l0 1 1 0 1 1 1-2-1-1zM468 805l1-3 1 0 0 3zM421 774l-2-1 0-2 1 0 2 2zM453 773l0 1 1 0 2-2 0-1-2-1zM459 728l1-2-1-1-1 1 0 1zM376 716l-1-1-1 0 0 1 2 1 1-1zM457 737l2-1 0 3-2-1zM380 695l1 0 1 4-1 0-1-2zM503 693l2 1 0 1-1 0-1-1zM388 814l2 0 2 1-2 3zM376 706l1 2-3 0zM392 758l0-3-1 0-1 3zM383 775l-1 2-2-1 0-2 1-2 1 1zM472 720l0 3 0 1 2-2-1-3zM405 811l0 3-2 2-1-1 1-4 1-1zM379 692l-4-2-1-3 6-25 2 27-1 1-1 1 0 1zM390 752l0 1-1 1-2 0-1-1 2-2zM387 695l0-2-3-1 0 1 2 3zM505 737l-1 4-1 0-1 0 0-4 1 0zM369 799l1 0-1-2-2 0-1 0 1 2zM435 692l-2-1-1 1 1 1 2 0zM480 791l1 1 2 0 0-1-1 0zM367 713l-1-1-1 2 2 0zM489 821l-1 0 0-1 0-1 1-1 1 1zM477 733l0 2-1-1-1-2 0-1 1 0zM471 720l0 3-3-1 0-2 2-1zM394 741l-3-1 0 3 2 0zM533 750l2 1 1-2 0-1-2 1zM405 712l-1-2-1 0-1 1 0 2 1 1zM381 764l-3-1 1-2 2-1 2 2zM436 712l2 0 0-1 0-1-2 0-1 0zM533 742l2-1 0-2-3 0 0 2zM478 698l-2 2-1-1 2-2zM519 727l3 0 0 2-1 1-1 0-1-2zM479 820l-1 0-1 1 1 1 1-1zM441 769l-2 0 1-2zM495 809l-1 0-1 2 0 1 1 1 1-2zM409 755l-4 0 1 4 1 0 1-1zM446 702l3-2 0 1 0 2zM404 764l0-2-2 0-1 0 0 2 1 2 1 0 1 0zM386 769l2-1 0-2-1 0zM374 823l3-4-1-2-1 0-1 2zM375 762l0-1 2 1 0 1-1 0zM512 748l-1 0 3-4 2 2 0 1-1 1zM431 781l1-2 4-1 0 1-4 2zM528 807l1 0 0 1-1 2-1 0-1 0 1-3zM509 785l0 1 1 3 2-3-1-1 0-1-1 0zM538 758l3-4-3 0-1 3zM504 762l3-1-1 1zM516 790l-2 2 3 1 1 0 0-1zM481 743l3-1 0 1-1 2zM524 736l-1-1 0-1 2 0 0 1zM497 708l2-3-2-1-2 2zM481 742l0-2 2 0 0 1zM534 748l2-1 0-2-1 0zM496 804l1-1-1-3-1 0-1 1 0 2 1 1zM407 702l0 1-1 0 0-2zM398 743l1 0 1 2-2 1 0-2zM520 753l2 1 0 2-1 0-3-1 1-2zM423 795l0 2-2 0 0-1 1-1zM466 684l-2 8 4 1 2-3 0-15-1 1zM536 767l-1-2-1 0 0 2zM456 744l1 0 1 2-2 0zM480 732l-2 1-1-2 2-1 1 1zM368 793l0 2-1 0zM506 754l1 2 1 0 1-3-3 0zM370 786l1 1-2 2-1-1 0-1 1-1zM396 720l1 0 1-1-3-3 0 3zM450 822l1-1 1-1 1 1-2 1zM385 791l2 2 1-2-1-2-2 0-1 1zM495 819l1 0 2-1-1-2-2 0-1 2zM425 745l1-2 0-2-1 0-1 1zM375 714l0-2-1-1 0 3zM466 812l2-1 0 1 1 1-1 1-2-1zM415 692l0-2 2 2zM478 695l0-1 0-4 2 2 0 2zM476 691l0-6-4-9 0 1 0 11 2 3zM503 762l4-2 1-2-1 0-4 1zM399 770l0-1 2-1 1 0 0 2-2 1zM409 731l-1-1-2-1-1 2 1 1 2 0zM523 697l3-1 1 2-1 1-2 0zM400 738l0 1-1 1 0-2zM504 710l-1 1-3-1 2-2 1 1zM433 710l1-3 1 1 0 1-1 1zM503 754l-1-3 2-1 1 2-1 2zM502 731l-2 1 0-2 1-1 1 0zM383 795l1 0 2-1-1-1zM454 756l-4 1 0-1 2-1 2 0zM379 774l-3-1 1-1 2-1 1 1zM430 728l0 1-1 2 3 2 1-1 1-2-2-1zM506 701l1-2 1 0 0 3-1 0-1 0zM423 718l0-1 1-1 1 0 1 0-1 3-1 0zM479 729l0-2-4 0 1 3 1 0zM505 722l-1 1-1 0-2-1 0-1 2-2 1 0zM422 781l0-1-2 0-1 1 3 1zM522 811l-1-1-1 0-1 0-2 2 2 2 1-1zM436 737l0-2-2-1-1 1 1 1zM508 768l-3 1 0 1 3 1 0-2zM515 758l1-2-1 0-1 0-1 2 1 0zM480 819l2 0 0-2-2-1zM460 763l1 1 0 1 0 1-1 0-1 0 0-2 1-2zM490 791l-1 1-2-2 0-1 2 1zM433 791l-2-3-2 2 1 2 1 0zM408 725l-2 2 1 1 1 0 1-1zM528 724l-1 0 0-2 2 0 1 0-2 3zM471 741l1 2 2-1 0-2-2 0zM475 760l2-1 1 2-2 1zM527 718l2 0 0-2-1 0-1 1zM453 714l2-1 0 2-2 0zM528 783l1 0 1-1 1-1 0-1-1-1-1 0zM387 703l-2-2-2 0-1 1-1 0 1 2 3 1zM518 807l-1 0 1 2 1-1zM412 780l0 2 3-1-1-2zM517 735l1-2 1-1 0 2zM459 799l4 0 0-1-1-1-2 0zM520 774l1 1 1 1-1 1-2-1 0-1zM516 722l-2-3-1 1-1 1 2 2zM408 747l-1-1 0-2 1 0 1 1 0 1zM462 813l1 1 1 0 0-1-1-1-1 0zM498 789l1 2 3 0-1-2zM479 722l-4 0-1 2 1 1 3 0zM404 732l1 1 0 2-2-2zM520 792l-1 1 1 0 3 0-2-2-1 0zM444 733l0-1-1 1-1 2 1 1 2-1zM534 784l1-1-3-2-1 2zM462 696l-2 1 0-2 1 0 1 0zM502 773l1-2 0-1-5 2 0 1zM393 699l1-1 0-2-2-1-2 2zM398 802l-1 0 0 1 1 0 1 0zM446 737l-2 1-1 2 3 0 2-3zM497 812l-1 2 2 1 1-1 0-2zM486 709l-1 1-2-1 0-1 2-1zM536 785l1 2 1-3-1-1-1 1zM386 814l0 1 0 2 2 0-1-2zM439 778l3 0 1 0 0-2-1-1-3 1-1 1zM488 749l-1-1-2 1-1 0 1 1 1 1zM452 700l-1 0-1 4 3-2 0-1zM487 742l1 0 1-1 0-1-3 0 0 1zM543 736l2 0 17-4-6-1-13 0-2 3zM373 752l1 1 0 1-1 0-3 0 1-2 1-1zM448 710l1 0 2-3-1-1-1 0-2 3 1 0zM423 773l-2-2 2-1 1 1 0 1zM464 746l2 2 2-1 0-1-2-2-2 1zM395 801l0-1-2 0 1 3 1-1zM478 744l1-1 0-1 0-1-1-1-1 1-1 2 1 1zM390 726l-1 1 1 1 2-1-1-1zM404 695l2 2-1 1-1 0-1-2 0-2zM409 782l0 1-2 1 0-1 0-2zM514 697l-1 0-1-1 0-1 1-1 1 0 1 1zM402 693l-1 0-2 0-1 1 3 1zM522 702l1 2-1 0-1-1zM413 735l3 1 0-2-1-1zM468 735l2 2 2-2-1-2-2 1zM418 724l3 0 0-1-1-1-2 0zM457 713l3 0 2-1-1-1-4 0 0 1zM469 808l5 1-1 2-3-1zM384 810l0 1 0 1-3-2 0-1 1-1zM474 731l-2 0-2-2 2-3 2 1 0 3zM485 804l1 1 1 0-1-1-1-1zM531 807l0 1 2 1 1-1-1-1zM377 724l-1 2-1 0-1-2 1-1zM392 809l1 1-1 3-2-1 1-3zM538 745l11 4-5 0-6-1 0-1zM423 703l-3-1 0-1 1-1 2 1zM469 781l-2 0-1-2 1 0zM385 819l0 1 0 1 2 4 1-5zM407 806l0-1 2 0 1 3zM409 767l1 2 2-1-1-1-1 0zM381 744l2 0 0-2-2 1zM502 702l-1 0-1-2 1 0zM444 714l-2 2-1-1 1-2 1 0zM435 721l-1-3 2-1 1 0-1 3zM539 812l-4 1-1 0 0-1 2-1zM467 773l-3 1-1-1 2-2 2 0zM538 715l1-1-1-1-2 0 0 1zM380 812l3 1-1 1-4 1-1 0 1-2zM505 713l0 3-1 0-1 0 1-2zM482 773l-2 0-1-1 0-1 2 0 1 0 1 1zM368 782l-2 0 1-2 1 0 1 1zM508 804l1 2 2 0 0-2-2 0zM395 787l2-2 1 1 0 1-1 1-1 0zM524 779l3-1 1-1-1 0-1-1-2 1-1 1zM499 809l-2-2-1 1 1 2 2 0zM397 704l-1 0 0 1 1 0zM518 759l1 0 1-2-2-1-1 2zM376 748l1 1 1 1-3 2 0-2zM433 763l1 1-2 3-1-1 0-1zM384 806l1 1-1 1-2-1 0-1zM383 821l-2 2-1-3 2 0zM415 767l-2 0 1 2 1 0zM522 762l2 0 1 0-1-2-2 1zM419 733l1 1 0 1 0 1-2 0 0-2zM539 797l-1-2-2 1 1 2zM367 723l-2-2 4 0 1 1zM426 766l0-1-1-1-1 3 2 0zM482 787l3 0 1 1-1 2-1 0-2 0zM407 788l-1 1 1 3 1-1 1-1-1-1zM444 824l0-2-1-2-2 1-1 1 4 3zM407 763l0-1 0-2-1 0-1 1 0 2zM397 722l1 2-1 0-2 0zM449 715l2-1 0-1 0-1-2-1-1 0zM496 735l-1 1-1 1 2 1 1-3zM484 820l2 0 1 2-3 1-1 0zM488 783l1 2-3 1 0-1 0-2zM429 752l-1-2 1-1 2 1 0 2zM382 717l2-1 2 2-3 2zM370 757l-1-1-1 1 0 1 1 1zM533 815l1-1 1 0 2 2-1 1-1 0zM528 701l-1-2 1-1 2 0 1 3-1 0zM371 705l0 1 1 3 1-1 0-1-1-2zM405 700l0 1 0 2-1 0-1-1 1-2zM449 822l0-2-1 0-2 1 0 3zM518 698l-2 0 1-2 1 0 1 1 0 1zM476 756l0-2-2 0-2 0 0 1 0 2 1 0zM462 786l-1-2 1-1 2 1 0 2zM518 701l0-2-3-1-1 1 2 2zM480 708l1 0 0 1 0 1-2-1zM386 726l-3 3 3 0 1-1 0-1zM375 729l-2 2 1 1 1 1 1 0 1-1-1-3zM502 789l1 2 2-3-2-1-1 0zM376 813l-1 2-1 0-3-3 2-3 1 0zM464 696l0 1 3 1 1-1 0-2-4 0zM480 815l2-2 1 2-1 1zM471 733l1-1 2 0 1 2-3 1z" fill="#fdfbfe"/></g></g>
<path d="M185.6,348.3 L218,348.3 C210,350 200,355 185.6,361.5Z" fill="#fdfbfe"/>
<path d="M185.6,361.5 C200,355 210,350 218,348.3" stroke="#a060d0" stroke-width="1.6" fill="none"/>
<path d="M214,349.5 C230,349 245,349 266,348.8" stroke="#a868d4" stroke-width="1.2" fill="none"/>
<rect x="269.2" y="348.3" width="80.8" height="60.3" fill="#bc80dc"/>
<g clip-path="url(#c1_3)"><g filter="url(#soft)"><path transform="scale(.5)" d="M696 758l3 0 1 1-3 1-1-1zM636 740l-1 0 0 1 3 0 0-1 0-1zM685 764l-1-1 0-2 3 1zM707 739l-4 3 1-3zM562 770l-1 2 3-1zM593 721l-3 0 0-1 3-3 1 1zM621 777l4-1-1-2-1-1 0 1zM695 769l1 1 2-1-1-3-1 0-1 1-1 1zM620 779l-1 3-3-2 2-2zM655 793l-2-1-2 2 0 2 3-1zM559 751l1 0 3-1 0 3-3-1zM570 817l1 1 0 2-2 0zM685 741l1 1 1 0 1-2-2-1-1 1zM693 764l2-1 0-1-1-1-2 0 0 1zM675 724l-1 1 1 4 3-4zM598 737l0-2-1 0-1 2 1 1zM691 744l-1-1 1-1 1 0 1 1 0 1zM587 799l-1 1-1 1-2-3 3-2zM551 740l-1 0-2 2 2 2 2-2 0-2zM685 816l-1-2 1-1 2 0 0 2zM576 758l-1-2 0-1-2 1 0 2 2 1 1 0zM543 785l-2 0-1-2 1-1 2 1 1 0zM623 789l3-3 0-2-2-1-3 3 1 1zM593 756l0 1 2 2 1 0 2-1 0-1-2-2-2 1zM589 776l2-1-2-1-1 0 0 1zM544 739l-1 0-2 3 0 2 2 0 2-2zM615 707l1-2 0-1-1 0-1 3zM647 755l3 0 0 1-2 1-1-1zM545 711l4-2-2-2-3 3zM654 735l-2-1 0-1 3-1 0 2zM661 756l1 2 3 1 1-3 0-1-1 0zM564 728l1-2 0-1-1 0-2 1 1 3zM580 741l1 4 2 1 1-3-3-3zM692 799l-1 2-1 0-1-1 0-1 2 0zM677 773l1 3-1 0-2-1zM680 736l-1-2 2-1 2 2zM644 793l-1-1-2 2 1 2 3-2zM541 794l2 2-1 1-3 0 1-2zM657 801l-3 1 0 2 2 1 1-3zM603 788l-1 6-3 0-1-1 3-4zM599 811l2 0 1 2 0 3-1 1-3-1zM668 741l0 1-3 0 0-2 1-1 2 1zM688 746l-2-2 2 0 2 1zM583 739l3 2 1 0 2-1-2-4-4 1zM582 756l-2-2-1 0-1 1 1 1zM666 810l-2-2 0-1 3 0 0 2zM542 776l5-1 0-1-4-2zM535 782l2 0 1-1-1-1-1-1-2 3zM697 693l2-3-3 1zM680 728l1 1-1 2-2 0-1 0 2-3zM598 705l0 3 2 2 3 0 3-1 0-1-3-4 0-1zM637 724l2 2 3-2 0-2-3 0-1 0zM634 812l0-2 2-2 2 1 0 1 0 1zM628 779l1 1 0 1-2 2-2-2 2-3zM659 817l3 1 0 1-1 2-2-1zM551 808l0 1-2-1-1-2 2 0 2 0 0 1zM582 800l-1 2 2 1 1-2-1-1zM570 755l3-1-3-4-2 4 1 1zM671 741l3-3-1-1-2 2zM688 760l1 0 0-3-2-1-3 2 1 1 3 2zM696 794l2-1 1 2 0 1-2-1zM585 763l-1 0 0-4 1 0 3 1-1 2 0 1zM574 720l1-1 1 0 1 3-1 1-1 1-1-3zM565 788l-1 0-1-3 4 0zM571 815l1 1 2 0 1-3-1 0-2 1zM558 720l2 0 3 3-3 2-1 0-2-3zM612 808l-3 3 4 3 1 0 1-1-2-5zM537 739l-1 2 0 1 3 1 0-1-2-4zM611 781l-2 0 0 1 2 1 1 0 0-2zM604 745l-4 0 2 2 2-1zM628 803l1-1 3 2-4 1-1 0zM587 718l0-1-1-1 1-2 3 0 0 1zM673 808l1-1 0-1-4-2-1 2 0 2 3 1zM628 794l2 1 1-2-1-1zM614 807l2 0 1 1-1 3zM704 754l1-3 2 2-2 1zM604 697l5 2-5 2 0-1zM607 831l-4-2 0 1-1 14 1 12zM655 707l-1 3-3-2 1-2 1 0zM621 805l3 1-1 1-2 0-1-1zM593 786l1-1 1 0 1 2-1 1zM662 765l-3-2 2-3 2 4zM558 734l-1 2-2 0-1-1 2-3zM668 756l2 2 3-2 0-1-1-1-4 1zM689 713l3-2 1 3-2 1-1-1zM609 750l-2 0 0-2 3-1zM560 779l-1 1 0 1-1 0-2-1 1-2 0-1 1 0zM608 759l1-2-1-1-2 0 1 3zM663 732l0-1 1-1 1 0 0 2zM654 813l2-1 1 1 0 1-3 1-1-1zM629 766l1 2 0-1 1-2zM695 733l2 1 3-1 1-1-5-4-1 0 0 1zM557 814l0 2 2 1 1 0 1-5-1-1-2 1zM691 704l2-4 3 5-2 1zM621 697l1-2-1-1 0 1-3 2 2 1zM622 705l2 0 0 2-1 0-1-1zM679 790l1-1 2-1 1 2-1 1-2-1zM675 760l-1-2-3 2 0 1 1 2 2-1zM643 685l1 8 1 0 2-2 0-1-3-12zM598 734l1-2-1-2-2 2 1 2zM593 815l1 3 1-1 1-5zM694 697l3 1 1-2-1-1-1 0zM648 823l-7 13 4-14 0-1zM553 739l1-1 3 0 2 3-3 2-2-1zM676 696l-1-2-2 0 0 1 1 2 1-1zM566 738l0 3 1 2 1 0 1-5zM701 794l1 0 1-2-1 0-1 0-1 0zM638 826l-3 9 1 12 2-6 4-15zM685 750l-3-1 1 3zM584 727l3-1 0-1-2 0-1 1zM645 752l1-1-1-2-1 1 0 1zM648 810l3 1 0 1 0 2-2 0-1-3zM690 739l-2-2 1-1 3 0-1 3zM650 718l0-1 0-1 1 0 1 2 0 1-1 0-1 0zM564 736l0 1-1 3-2-1-1-2 1-1 0-1zM655 767l1 2 0 1-3 0 1-3zM651 750l-1-2 1-1 1 3zM620 704l1-1-1-2-1 0-1 2 1 1zM664 763l1-1 0-1-2-1 0 1zM628 736l1 0 0-2-2 1zM637 734l2-3 2 2-1 2zM695 815l0 2-1 1-1-1 0-1 1-2zM595 750l0 2 1 0 1-1-1-1zM565 732l-2-1-1 2 3 1zM698 707l3 0 2 1-3 2zM549 703l-1 1 1 2 1 1 3-1 0-2zM627 744l-1-2-2-1-1 1 0 1 3 1zM614 697l0-1 2-2 3-1-3 4zM600 717l1 0 1-3-2 0-1 0 0 2zM543 792l1 0 2 0 1 3-2 0-2-2zM653 741l-3-2-1 2 2 2 1 0zM542 706l0 2 1 1 3-3 0-1zM647 789l0 3-1 0-1-1zM677 771l-3 2-1-3 4 0zM624 770l0-2 0-1 2 1 1 1-1 1-1 0zM648 753l2 0 0-1-2 0zM681 821l2 4 2-4 0-2zM655 729l1-1-1-1-3 2 0 1zM669 725l0 2-1 0 0-2zM572 794l-1 0-2 2-2-1 1 0 3-2zM549 780l-1-1 1-2 1 1 0 1zM670 703l0 1-2 2-1-2 0-1 1-1zM700 694l3 0-1-4-1 0-2 3zM638 745l1-1-1-1-3 0zM636 694l-1 2-1 0 0-2 2-1zM628 705l2 4-1 1-3-2 1-2zM582 775l1 2 1 1 2-3-2-1zM653 788l1-2-2-3-2 3zM676 699l-2 0-1 2 2 1 2-1zM653 711l-1 2-2 0 0-3 1-1zM640 789l-1 4 1 0 2-2zM599 753l-1 1 2 2 1-1 0-1zM539 799l4 3 0-4zM600 736l-1-1 1-1 1 0 1 2-1 1zM566 763l2 0 2 1-1 2-2 0zM636 726l2 2 0 1-2 2-1 0-1-3 1-2zM684 784l-1-2-4 2 1 2 3 0 0-1zM565 707l-2 3-1 0 0-4zM620 777l-2 0-2-4 5 0zM700 819l-1 2-4 1 0-3 1-1 3 0zM608 732l1 4-2 1 0-1 0-4zM569 700l-1-4-1 3 1 3zM641 738l1 0-1-1zM677 722l-1 1 4 1 1 0 0-2-2-1zM631 746l2-1 4 3-2 4-1 0zM555 769l0 3-3-1 0-1 2-1zM678 812l1-1-1-1-2-1 0 1zM620 719l0-4-2 1 1 2zM533 744l2-1-1-2-4 0-1 0zM655 784l-2-3 0-2 2 0 2 2 1 2zM672 780l0-3-2 0 0 4zM593 797l3 1 0 2 0 1-2-1-1-1zM606 746l0-1 0-2 1 0 2 2zM621 797l2 3-3-1 0-1 0-1zM648 746l-2 0-1-2 1-1 1 0 2 1 0 1zM670 721l3 2-1 0-1 1-1-1zM559 716l1-2 1-1 0 1 1 1-2 2-1 0zM684 704l1-1 2 2-1 4-3-1zM660 791l2-5 3 0-1 4-3 2zM589 701l0-2-1-2-1 0-2 3 1 0zM639 789l-1 3-1 1-1-2 2-3zM678 818l-2-1 0-1 1-1 1 0 0 2zM681 697l1 0 3 3-1 1 0 1-3 0zM667 831l-3-7 1-1 3 1zM596 734l-2-1-1 1 1 2 1 0zM579 702l-3 1-1 3 5 1zM640 781l-2-2-1 0-1 4 0 1 1 0zM710 778l20-2-23-5-1 0-1 4zM571 718l1-1-2-3-3 1-1 1 1 2zM540 703l-2 0 0-2 1-1zM544 726l-6-1 2-2 2 0zM680 796l1 0 1 0 0-2-2-1zM579 741l0 4-1 2-3-3 2-2zM646 710l-1 2 0 1 2 1 2-1-1-2zM589 784l-4-2-1 2 2 2 2 0zM619 743l-1 1 0-1 0-2 2 0zM631 717l-2-3 1-1 1 0 1 0-1 3zM611 792l3 0 1-1-2-1-3 0zM554 712l1-3-1-2-3 2 1 3zM539 801l0 2 2 1 1-1zM656 708l-1 3 4 1 1-2-1-3zM687 818l0 1 3-1 0-1-2 0zM665 745l-1 0 2 2 2 0-1-2zM591 819l1-1-1-2-1-1-1 2zM668 733l-1-3 1-1 2 0 2 3zM548 740l-2-1 0 2 1 0zM686 782l-1 0-1-2 0-1 3-2zM549 767l-4 2 5 2 0-1zM681 738l0-1 2-1 2 1-1 2zM571 740l3 1-2 2-1 1-1-1zM611 749l3 0 0-3-2 0zM689 724l1 1 3 1 1-1 0-2-3-3-1 1zM565 806l0-1-2-1-2 1 1 4 1 0zM679 717l1 0 1 1 0 2-1-1zM614 729l3 0 0-2-3-1zM634 737l-2-1 0-1 2-1 0 1zM591 738l-2-3 1 0 1 0 1 2zM591 770l-1 2 3 1 1 0 0-4-1 0-2 0zM552 738l-2-2 2-1 0 1 1 1zM660 721l0 1-3 1-1-2 0-1 3-1zM702 802l2 4 4-3-5-1zM642 768l-1 1 0 1 1 1 1-2zM583 749l-3 2-1-1 0-1 2-1zM597 743l-3 0 1 4 1 0 2-2 0-2zM640 815l2 0 0-3-1 0-1 0zM645 706l-1-1 1-4 1 2 1 1zM667 720l1 3-2 1-2-2 0-1zM631 779l0 2 3 1 1-3-2-1zM608 741l1-2 1 0 1 0 1 1-1 3zM576 769l2-1 0-1-2 0 0 1zM617 756l0-3-2 1 0 1 1 1zM639 702l-1 1 1 3 1 0 1 0zM587 706l0 2-2 2-3-2 1-1zM591 778l2 2 2-3-1-1-3 1zM547 695l-1 3-3-2 0-3 2-3zM659 750l1-1 2-2 2 3 0 2-3 1zM617 702l1-2-2-1-2 0 1 2zM535 738l-1 2-3-1 2-1zM567 768l1 1 0 1-1 2-1-1-1-2zM648 788l2 0 2 1 0 1-2 3-1 0zM589 780l2 1 0 1-1 0-3-1zM670 797l-2 1-1-2 0-1 3-5 1 1zM566 696l-1 3-3 2-1 0 1-5 3-1zM567 730l1-1-1-3-1 0-2 3zM703 753l-1 0 0-2 1 0 1 0zM622 726l2 2-2 3-2 0-1-2 1-2zM642 764l3 1-1 2-1-1zM655 765l-1 1-2-1 0-2 2-1 1 2zM643 732l-2-2 4-1-1 3zM681 820l3-1 0-1-1 0-3 0 0 2zM630 723l-5 1 2 3 1 0 2-1 1-2zM605 724l-1-3 2-1 2 2zM605 736l-2-1 0-2 2-1zM578 726l1 5 2 1 1-4-1-1-2-2zM695 792l2-1 1 0-1-3-3 1 0 2zM663 728l-2-4-3 2 0 2 2 1zM609 807l-2 3-2 0-1-2 1-2 2-1zM597 717l0-3-1 1-1 1 0 1zM696 745l0-2 2-1 2 2-1 1-3 1zM613 692l1 3 1-2zM685 768l-1 0-4 0-1-2 4-2 2 3zM680 695l2 0 0-1-2-4-1 1zM658 806l2-1 0-1-1-1-2 3zM648 770l2 2 0-1-1-2zM676 813l-2-3-1 1 0 1 1 2zM580 720l3 0 1-2-1-1-3 0-1 1zM679 703l0 1-2 0-1-1 2-1zM554 730l-2 1 0 2 1 0 2-2-1 0zM567 752l2-3 0-1-1 0-1 1 0 2zM656 799l-3 1-1-2 2-1zM549 697l-1 3 1 1 4 1-1-3zM595 721l1-2 1 0 1 1-2 2zM702 820l-1 2 2 2 0-3zM618 735l1-2-2-2-2 1 0 2zM590 813l-1-3 2-1 5 1-4 4zM599 745l2 3-1 1-2 0-1-1zM702 730l0-3-4 0 4 4zM537 731l-1-5-1 0-2 4 3 1zM609 729l-1 0-1 0-1-3 4-2zM639 693l2 3 1-1-2-9-2 5zM617 714l2-2-2-2-1 0 0 4zM550 732l0 2-2 0 1-2zM583 691l3-5 1 4-1 2zM570 729l1 2 1-1 0-3-3 0zM689 781l0-3 2 1 1 0-2 2zM620 710l2-1-1-1-2 1zM682 691l2-1-4-4 0 2zM696 808l1 2-2 1-1-1zM549 693l-3-5 3-12 6 16-1 1zM627 776l1 1 1-2-1-2-2 1zM617 790l-2-2 1-1 2 0 1 0 0 1zM637 706l-2 2 1-3 0-1zM643 740l1 2-1 0-2 0 0-2zM600 743l0 1 3 0 1-2-3-1zM590 729l0 3 1 0 1-1-1-2zM628 699l0 1-4-2 0-3 2 1zM644 717l1-2 2 1 0 2-2 0zM640 797l-1-1-1 0-1 1 1 1 2 0zM657 762l1 0 2-2 0-1-1-1-3 1 0 1zM552 724l-1 2-2 0 0-2 2-1zM591 755l-1 1-2 1-3-1 2-4zM626 734l-1 0-1-2 2-2 1 0 1 3zM687 784l-1 0 0 1 2 2 3-1-2-2zM694 777l1-4 1 1 1 1-2 2zM544 757l-2 1-2-2-1-3 2 0 4 2zM683 724l3 0 1-2-4 1zM660 772l-2 0-1-1 0-1 2-1 1 2zM595 689l1-10 1 4 0 5zM675 800l0 3-1 1-4-2-1-2 2-1zM677 707l0-1 2 0 0 1zM538 734l-1 2-2 0 0-1 1-2 1 0zM659 740l3 2 0-2-3-1zM605 759l-2 1-2-2 1 0 1-1 0-1 1 1zM680 698l0 3-1-1-1-2 1 0zM664 698l2 2 1-1-1-2zM536 704l-4 2 3-4 1 0zM542 704l4-1 1-1-1-1-4-2-1 0zM596 807l1 0-2-3-1-1-1 1 0 3zM566 705l1 0 0-1-1-2-2 2zM642 753l0-1-3 2 1 0zM695 755l0-1 1-1 3 2 0 1-3 0zM698 705l1-4 2 0 1 2-1 2zM667 804l-3 0 0-2 3-1 0 2zM638 696l2 2-1 1-1 0-1-1zM634 815l4-2 0 3 0 1-3-1zM621 712l1 1 1 0 1-4-1 0-2 2zM548 786l0 1-2 0-1-1 1-1 2 0zM536 754l-6 4 1 1 4 1 2-3zM685 805l-1-1 0-1 2-1 1 1-1 1zM610 715l0-1 3 1-2 2zM650 808l0-1 2-1 1 1-2 2zM690 812l1-1 1 0 1 1-2 3-1-1zM630 778l3-1-1-2-1 0zM626 738l0 2-2-1 0-2 1-1 1 0zM602 752l2 0-1 2-1-1zM582 813l2-3 0-2-1 0-4 1-1 2zM632 808l-2-2 4-1 1 1zM688 749l0-1 2-1 2 0 0 1-3 2zM616 747l1-1 1 1 1 0 0 4-1 0-1 0-1-1zM584 755l-3-3 3-2 1 1zM554 762l-2-2-1 1 0 2 0 1 2 0zM574 727l2-1 1 5-3-1zM568 773l1-1 3 1-1 0-1 2-2-1zM699 805l3 1-2-3-1 0zM581 794l0 2 1 1 1 0 1-2 0-1 0-1-2 0zM540 775l0-3 0-2-1-1-3 1 0 1 0 5 1 0 2 1zM603 725l-1-4-1 0-1 0-2 3 1 2zM566 760l2 0 0-3-1-1-3 4zM609 692l2-1 0-1 0-11-4 13zM610 793l3 1 1 2-3 0-1-2zM725 730l22-3-28-4-5 0-5 1 0 1 0 5zM562 763l1 0 1 0 0 2-1 1-1 0-1-1zM646 808l0-1-2-2-2 3 0 1 1 0 2 0zM594 728l1 2 2-1 0-1-1-1zM644 780l2-2-3-2-3 1 0 1 1 2zM623 700l5 2-2 1-3 0-1-2zM551 818l-2 8 4-4 0-4zM545 779l-3-2-1 0-1 2 1 1 3 1zM574 733l4 0 2 2-1 2-1 1-1 0-4-2zM604 730l-2 1-1-2 2-1zM539 697l-6-2 2-2 5 0 0 4zM588 721l0 1-2 0 0-1 1-1zM583 733l0 1 4-1 1-4 0-1-4 1zM652 772l3 0 0 2-1 2-2 0-1 0 1-2zM673 708l-2-2-2 2 2 1 2 0zM594 694l4-1 2 2-4 1-1-1zM673 816l-2 2-2-2 0-1 3-1zM555 698l0 3 1 0 2-1 1-3-3-1zM615 675l0 10 2 1 2 0 1 0-1-37zM555 723l2 3-2 2-1 0-1-1 1-3zM588 705l-4 1 1-5 4 2zM580 775l-1 0-1 1 0 1 2 0zM667 760l1 0 1-1-2-1zM636 738l2 0 1-2-2 0zM696 806l0 1-3 2-1 0 1-4zM548 766l-3 1-1 0 2-3 2 0 0 1zM643 737l3-2-2-1-1 0-1 1zM608 752l-1 2-1 0-1 0 1-2 0-1zM666 766l0-1 1-2 1 0 2 1-2 2zM630 732l2 0-1-3-2 1zM614 774l-1 4 1 1 0-1 2-1-2-2zM667 753l3 0-1-3-2 1zM536 712l1-1-6-2-9 2 10 2zM573 767l1-1-1-1-1 0-1 1zM630 704l4 1-1 4-1 0-2-4zM520 774l11 1-1-3zM646 766l1 0 1 1-1 1-1 0-1 0zM644 738l2-2 2 1 0 1-1 2-2 1-1-2zM575 752l1-2 0-1-2-2-2 1 1 1 1 2zM592 788l2 2-1 1-1-1-1-1zM650 726l3-1-1-2-1 0zM610 729l2-4 1 0-1 4zM633 699l-2 1 0 1 0 1 3 0 1 0 1-1-2-2zM568 817l1 0-1 4-1 0-2-1 0-1 2-2zM570 705l0-1 1-2 2 1 1 0-1 2-2 1zM585 821l4 0 0-1-1-2-3 1zM590 705l0 2 2 1 2-1 0-2-1-1-2 0zM606 718l-3 0 1-6 3-1 0 2 1 2zM645 720l2 0 1 1-3 2-1-1zM653 700l-5 0-1-1-1-1 3-2 4 3zM669 737l-1-1 0-1 3-1 0 1zM600 766l-2-3-1 4 3 0zM565 774l0 1-1 1-2 1-1-2 3-1zM568 733l1-1 1 1-1 2-2 0zM554 775l-1 1-2 0 0-1 0-1 0-1 3 1zM535 788l1 0 2-1 0-1 0-2-4 1zM660 799l0 1 2 1 4-2-2-2-3-1zM582 763l0-4-4 0 0 1 2 3zM690 789l-1 2 2 0 1 0 0-2zM612 701l1 2-1 3-3 0zM685 811l0-2 3 1 1 0-1 2zM654 753l0 1 0 1 1 1 2-1-1-3zM562 745l4-1-2-2-3 0zM581 710l-1 5 4 0 1-2 0-1zM594 793l0 2 2 0 0-1-1-1zM688 776l0-1 0-1 2 0 0 2zM576 804l-3 3 2 2 1 1 1-2 0-3zM559 760l1-1-3-6-3 0 0 5 2 2zM625 713l0-3 3 2-1 1-1 0zM630 720l-1-1-3 0-2 3 6-1zM550 696l2 1 1-2-3 0zM610 732l1 3 1-1 0-2zM614 713l0 1-4-3-1-1 3-1 1 0zM706 761l-3-1-1 3 2 1 3-3zM544 828l0-6-2-1-1 1 3 7zM597 698l-1 3 1 1 4-2 0-2-1 0zM548 798l1 0 0 4-2 1-1-1zM612 804l-2-4-2 1 1 2 3 2zM613 771l-3 1-1-1 0-3 3 1zM558 750l0-1 2-3 0-3-1 0-2 2zM649 765l1 0 0-2-1-1-1 1 0 1zM617 737l-1 1 0 1-1 0-1-2 1-1zM640 701l2 4 1 0 1-6-1 0zM660 692l4-3 0 4zM661 793l3-1 1 2 0 1-3 0zM701 812l0-2 2-2 1 0 0 4zM544 811l-1 1-2-3 0-1 1-1 2-1 1 0 0 2zM535 795l-12 2 6 2 7 0 0-1 1-3zM671 826l-2 8 1 9 4-18zM677 769l0-1 0-2-2-2-2 1-2 3 1 1zM684 744l1 0 1 3 0 1-4-1 0-2 1-1zM540 750l1-4 2 0 1 3-2 1zM700 715l2-1 1 2-2 1-1-1zM607 773l0-1-4-1-1 1 0 3 4 0zM582 791l2 0 1-4-2-2-2 1zM674 748l-1 0-2 1 2 3 1 1zM641 716l-2-2 1 0 3-1 0 1-1 2zM617 760l0-2 1 0 0 2zM567 724l-1-1 1-3 4 0 0 1-3 3zM593 715l1-1-2-1 0 1zM672 742l2 1 1-1 1-2-1-1zM692 695l0-1 1-2 0 1 1 1-2 2zM591 766l1 0 0-2-2 0-1 1zM698 763l0-1 2-2 1 1-1 2-1 0zM657 765l2 1 1-1-2-1-1 0zM589 719l3-2-2-1-1 2zM561 783l1 0 1 5-3 1-1-1 1-5zM537 818l-1 0-4-3 2-2 2 2zM684 735l-1-2 1-2 2 0 1 2 0 1-1 1zM632 816l-1 0 0 1 0 5 1 1 1-6zM685 808l3 0-1-2-2 1zM588 779l-2 0 1-2 1 1zM658 703l0 2-2 0-2-1 1-2 0-1zM631 694l-2 1 1 2 2-1zM594 697l-2 2 0 2 2 1 1-4zM593 747l-3 0-1-4 2-1 1 1zM678 741l-1 0 0 2 2 1 1 0 1-1zM569 805l0-1 1-2 2 0 1 0 0 1-2 2zM655 712l-1 2 1 3 3-2 0-1 0-1zM547 715l-1-3 3-2 1 2-2 3zM583 705l-2 1-1-5 1-1 2 0 0 1z" fill="#fdfbfe"/></g></g>
<g fill="#fdfbfe" clip-path="url(#c1_3)" filter="url(#rough)"><ellipse cx="283.0" cy="373.3" rx="2.8" ry="4.0" transform="rotate(20 283.0 373.3)"/><ellipse cx="332.0" cy="365.0" rx="2.7" ry="3.3"/><ellipse cx="304.0" cy="397.5" rx="5.0" ry="4.2"/></g>
<rect x="352.2" y="348.3" width="80.5" height="60.3" fill="#c094e0"/>
<g clip-path="url(#c1_4)"><g filter="url(#soft)"><path transform="scale(.5)" d="M838 802l-1-1 1-4 1 0 2 1-2 4zM788 727l0 1-1 1-1-1 0-1zM705 741l1 2 1 0 0-1 0-1zM811 723l0 1 2-2-1-2-1-1 0 3zM854 803l1 2 1-1zM765 756l0-1 2 0 0 1zM815 697l-1 2 1 0 2-2zM795 728l-1-1 0-3 2 0 0 1zM853 698l-1-2-1 2 1 1zM817 809l2-3-1-1-3 3zM786 747l-1 0-1 1 2 2 1-1 0-2zM722 785l-1-2 1 0 2 0 0 1zM786 721l0-1-1 0-1 1 1 0 1 1zM712 804l-2-2-1 1 0 2 2 1zM759 819l1-1 1-1 1 2 0 1-1 1-2 0 0-1zM767 817l0-2 3 0-2 2zM797 721l-2-1-1 1 0 2 2 0 1-1zM808 739l3 1-1 1-2 0zM763 798l3 2 1-2-3-1-1 0zM840 711l0-1 1-2-1-1-1 0-1 2zM823 804l0-1-3 2 0 1 1 0 1 0zM768 762l1 0 0 3-2 1 0-2zM782 821l0-2-2 0 0 2 1 0zM809 817l-1 0-1 0 0-1 1-1zM861 732l0 2-1 1-1-1-1 0 1-2zM770 698l-2 0 0 1 2 0zM793 705l3-1-1-1-2-1 0 1zM776 696l-1-1-1 1 2 1zM757 814l1 3-1 0-1-2zM776 779l2-1 1 1-1 2-1 0zM852 733l-3 0-2 2 1 1 3-2 1 0zM705 708l-1 2-1 0 0-2 0-1 1 0zM706 720l-3 0 0-1 0-1 1-1 1 1 1 0zM801 810l-1-1 1-1 2 1 1 1-1 0zM837 817l-3 2-1-2 1-1zM738 808l-2 0 2-2 1 0zM785 787l1 1-1 1zM792 731l0 1-1 0-1 0 1-1zM784 694l1 3-1 1-1 0-1-1 0-1zM781 802l-3 2 1 1 3-2zM827 762l-1-3-1 1-1 2 2 1zM804 721l0-1 1 1 1 2-1 0zM795 780l-1 0-1 1 1 0 1 0zM749 750l1-1 0-1-2-1-1 2zM742 695l0-1 2 2zM701 720l-3 1 3 3 1-3zM818 722l0-1 2 1 0 1-1 0zM816 759l1-3-2 0 0 1zM796 751l-2 1-1 0 1-2 1 0zM745 754l1 2 0 1-2 0 0-3zM860 717l-1 1-1-2 2 0zM827 722l1 2-1 1-1 0-1-2 1-1zM715 816l-1 1-2 0-1-1 1-1 2-1zM759 711l0 2 1 1 1 0 2-3-1-1zM736 746l0 2-1 1-1-3zM855 720l1 1 0 1-2 1-2-1zM807 813l-1 2-2 0 1-2 1-1zM769 797l1-1-2-3-2 2zM785 703l1-2 0 1 1 1-1 0zM831 801l-1 1 0 1 0-1 0-1zM866 741l-2 0 1-2 2 2zM852 745l1 1 1 1-1 0-1 0-1 0 0-1zM761 738l0-1 3 0 0 2zM709 724l0 3-1 1-2-1 0-1 2-2zM791 751l2-2-1 0zM701 708l-1 0-1 1 0 1 2 1 1 0zM858 705l1 2 1 0 0-1-1-1zM714 747l0-1 0-1 1 0 1-1-1 4-1 0zM817 726l0-2 1 1zM781 724l-1 0 0-2 3 0 0 1 0 1zM853 819l1 0 0-2-2 0zM710 760l-1-1 0 2zM727 743l2 2 1-1-1-3zM829 786l-2-1-2 1 1 1 2 1zM772 743l-1-1-1-1 5-1zM817 798l1 0 0-4-2 0 0 2zM757 750l-1 0-1-1 2-1zM709 739l-1 1 0-1 0-1 1 0zM864 755l0 3 2 1 1 0-1-3 0-1zM796 771l0 1-1 1-1-1-1-1 2-1zM867 706l-2 1 0 2 3-1 0-2zM816 713l0 2 0 1 1 0 1-1 0-1zM813 714l-2 0 0 1 0 1 2-1zM764 694l-1 2-1 0 0-4 2 1zM709 712l-1 0 0-2 2 0zM839 686l0-3 3 6-1 2-1 0zM861 719l1 0 0 1-1 0-1-1zM732 822l1 0 1-1-1-1-1 1zM796 728l1-3 2 2-1 3zM838 781l2 0 1-1-3-1-1 0zM787 697l-1 1 0 1 1 0 1-1zM803 714l0-1-1-1-2 0 0 3zM741 811l1-1 0 1-1 1zM799 721l3 0 0 1-1 1-2-1zM756 769l0 1-1 0 0-3 0-1 1 0 0 1zM801 701l-1-1-1 0 1 1zM876 726l4-1 10 1-18 4 0-1zM751 764l0 2 2-1zM742 711l-1-3 3 0 0 1zM701 713l0 3-2-1 0-1zM831 763l1 0 2 0 0 2-1 0-1-1zM789 722l0-2 0-1-1 1 0 1zM812 768l-1 0-1 1 1 0zM865 716l-1 0-1-3 1 0 2 1 0 1zM825 804l1 0 0-1-2-1zM736 713l-1-2 2 0 1 2-1 0zM790 710l-1-1-2 1 1 1 1 1zM860 804l2-1 1 2 0 1-3-1zM705 779l1 2 0 1-2 0-1 0 0-1-1-2 1 0zM729 818l2 1-1 1-1 0-1-2zM798 768l-2 1 0-1 1-2zM779 709l-1 1-1 0-1 0 1-1zM764 736l0-1-1-1-1 2zM844 794l0 2 1 1 2 0 1-4-2 0zM800 761l0 1 2 3 2-2-1-1zM789 702l-1 0 0 1 1 0zM828 751l-1 0-3 1 0 1 3 0 1-1zM865 778l1 2 1 0-1-3zM843 758l-1 1 0 2 2-1zM808 698l1-1 0 1 0 2-2 1zM783 818l0-2-1-1-1 2 0 1zM853 710l0-1 1 0 1 0 0 2-1 0zM792 792l1 2-1 0-1-1zM838 753l-2-3 2-1 2 4zM865 743l-1 3-2 0-1-2 0-1 1-1zM758 708l0 2-2 0 0-2zM767 743l1 1 0-2-1-1-1 1zM823 745l-4 0 0 2 3 1 1-1zM776 715l0-2 1-1 1 0 0 1-1 2zM748 817l1 0 1-2-1-1-1 1 0 1zM763 759l1-1 1 2-1 0zM804 743l1 2 1 0 0-2-1-1zM777 749l-2-1 0 2 1 0zM758 755l1-1 1 0-2 0zM826 745l0 3-2-1 0-2zM785 780l0 1-1 1-1-2zM701 755l-1-1-1 0-2 1 2 2 2-1zM757 704l0-1-1 0-1 1 1 1zM762 779l-1 3-1 0 1-3zM840 794l0-1 1-2 1 3 0 1-1 0zM785 800l-2-1-1 1 1 1 1 1 0-1zM818 698l-2 2 1 0 2-1zM869 762l0 1-1 2 1 1 1 0 2-4-1 0zM803 724l0 1 1 0 0-1-1-1zM707 793l0 1 1 1 1 0 1-1 0-1-1-1zM845 765l-3 0 0-1 0-1 2 0zM860 802l1-3 1 2 0 1-2 1zM711 722l4 1 1-2-2-2zM847 695l2-2-1-1-2 1zM840 724l-1 0 0-1 2-1 1 2zM755 693l1 2 1 0 1-5-2 1zM802 774l-1-4-2 3 2 1zM813 716l-1 1 0 1 2-1zM742 752l-1 0-2-1 2-1 1 0 1 0zM798 792l-1-2-2 1 0 3 2 0zM769 692l-3 0 2-6 2 5zM797 817l-2 0 0 1 1 0 1 0zM704 752l-1-1-1 2 1 1zM813 756l-3 1 1-2 2-1 1 1zM711 699l0 1-1 1-1 0 0-1 0-1 1-1 1 0zM786 817l1 1-1 1-1-1 0-1zM759 801l-2 2 0 2 1 0 1-3zM787 793l2 0 1 2-1 2-1 0zM850 803l-1 0 1 3 1-2zM721 810l1 1 0 1 3-3-3-1zM718 790l-1 0 0-2 1 0zM705 729l-2 2 0 1 1 0 1 0 1-2zM721 773l0-2-1 0-1 1 1 2zM855 772l2-1-2-2-2 1 0 1zM722 743l0 1 2 1 1-2-2-1zM829 794l-1 1-1-1 0-1 1 0zM715 708l-1 1 0 3 3 0 0-1zM781 762l0 1 1 1 1 0 0-2zM804 733l-1-1-2 0 2 4 1-1zM719 721l-1 2 2 2 1-2 0-2-1 0zM835 712l1 1 1 0 0-1-1-1zM760 769l-1-2-1 0 0 3zM851 762l-1-1-3 2 0 2 1 0zM841 695l0-1-1-1-2 1 0 1 1 0zM843 783l0 3 2-1 0-3 0-1-1 1zM736 816l-2-1 0-1 1 0 1 0zM744 725l2 0 1-1-2 0zM789 766l0 1-2 0-1-1 2-1zM715 706l0-1 0-2 1 0 1 1-1 1zM869 785l0-1 3 0-2 2zM800 814l-1 1 0 2 1 1 2-2zM774 730l3-1 1 1-3 4zM867 730l0 1-2 0-1-1 0-1 2 0zM706 705l1-1 0-1 0-1-1 0-3 0 1 3zM716 779l0 1-1 1-1-2zM702 760l1-2-1-1-2 1 0 1zM761 748l0-1 1-1 1 1 0 1zM867 797l-2-1 1-1 2 0zM840 817l2-2 1 0 0 1-1 1-2 1zM701 752l-1 0-1-3 1-1 2 1 0 1zM770 746l-1-1 1-1 1 0zM821 691l1 0 0 1-1 1zM824 793l-1 1-1-1 1-1 1 0 1 0zM696 739l3-1-1-2zM810 707l-1-1-1 0 0 1zM839 820l-1 2 0 1 3 3 1-2zM833 773l2 2 0-1 0-2-1 1zM813 700l-1-1-1 2 1 1 2 0 0-1zM748 768l-1 1-1 0 0-3 1 0zM789 803l-1-2-1 0 0 1zM807 788l-2 0-1-2 2-2 2 3zM700 779l1 3-5 0zM836 794l1 0 0 1 0 1-2 1-1-2zM712 775l1-1-1-2-2 0 1 2zM764 708l2-3 1 0 0 1-2 3-1 0zM870 712l-1 0 0-3 2 1zM776 763l1-1 1 1-2 1zM856 742l0 2 2-1 0-1-1-1-1 0zM731 769l0-1 1 0 0 2-1 1zM727 778l2 2 0-2-1 0zM796 762l1-1 1-1-1 0-3 0-1 1 1 0zM845 802l0-3 2-1 1 1-2 3zM705 789l3 1-2 2-1-1 0-1zM816 719l-2 0 1 2 1-1zM852 742l0 1 2 1 0-2zM779 728l-1-1 0-1 1-1zM834 710l2-1 1-2-1-2-2 1zM791 743l2-1 0 2-1 1-1 0zM856 777l1 2 1 0 1-1zM796 710l-1 0-1 0 0-2 2 1zM714 773l2 0 0-1 1-1-3 0 0 1zM860 702l-2-3 2 0 0 2zM774 736l1 1 0 1-5 2-1-1 1-1 3-2zM698 773l-2 1 5 2 0-3zM779 754l0 2 0 1-1-1-1-1zM739 821l-2-1 0-1 1-1 1 1zM857 784l3 1 1-2-2-2-1 1-1 1zM719 775l-2-1 0 3 1 0zM772 752l0 1 1 1 1-1 0-1 0-1-2 0zM834 729l3-1-1-1-2 0zM857 799l1-2 2 0 0 1-1 2zM727 765l-1-1 2-1 1 2zM734 797l0-1-1-1-1 0 0 3 1 0zM801 798l2 1 1 1-3 1-1-1zM753 811l-2 2 1 1 2-1zM747 751l-1-1-1 1 0 1 1 0 1 0zM735 737l-2 1-1 0 0-3 3-1 0 2zM868 757l1 2 2 0-1-3zM749 699l-1 0-1 0-1 3 1 1 3 0 0-1 0-2zM848 748l-2-1-2 1 1 2 0-1zM731 764l0 1 1 0 1-1 0-1 0-2-1-1-2 1-1 0 0 1zM740 712l-1-3-1 1 1 2zM701 712l-2-1 0 2 2 0zM797 785l-1 0-1 1 2 1 1-1zM838 727l1-2-1 0-1 0 0 1zM825 805l0 1-2 0 1-1zM835 758l0 1 1 0 0-1zM792 787l1 0 2 1-2 2-1-1-1-2zM848 696l1-1 2 0-1 2zM731 725l-1 0-1 1 0-1 1-2 1 0zM868 725l0 2 1 2 4-4-4 0zM842 777l2 1 0 1-1 1-3-2zM828 721l1 2 2-1 1-1-1-1-2 0zM857 726l2-1 0-1-2-1-2 1 0 2zM832 785l0-3-1 1-1 2 1 0zM761 784l0-1-2 1-1 0 0 1 1 0 2 0zM743 740l2 1 0 1-3 1 0-2zM732 740l1 3-1 1-1 0-1-4 1 0zM825 805l1 0 0 1-1 1zM814 764l-2-1 0-1 3-1zM858 713l1 0 1 0 0 1-2 1 0-1zM816 740l1 2 3-2-1-1-3 0zM861 716l2 0-1-3-1 2zM776 784l-1-1 2-1 0 1zM750 707l0 1-3 0-1 0 0-1 1-1 3-1 0 1zM791 805l2 1 1 1-2 1-1-1zM718 720l-2-2 2-2 1 3zM702 697l-1 1-2-1 1-1 1 1zM722 700l-2 2 0 1 3 1zM769 802l2 1 2 0-2-4-1 1zM833 762l2 0 1 0 1 0 0-1-1-1-1 1zM828 773l0 1 1 1 1-2-1 0zM829 725l-1 1 1 1 3-1-1-2zM706 820l-2 0-1-3 2 0zM834 804l-3 0 0 2 2 0zM858 810l-1 0-1 1 2 2 0-1 1-2zM849 748l-2 2 2 1 1-2zM728 739l-2 1-2 0 1-3 1 0zM866 785l0-3 1 0 1 1-1 1zM764 818l1-1 0-2-1 0-1 1zM789 725l-1 0-1 1 2 0zM792 719l-1 0-1-1 0-2 3 1 0 1zM717 803l0-1-1-3-3 1 3 3zM742 747l-1 0 0-2 1 1zM853 725l0-1-1-1-1 1 1 1zM766 700l-1 2-2-3zM864 704l2 1-2 2-1-1zM842 703l-4 0 0 1 1 2 1 0zM777 795l2 2 1-2-1 0zM835 799l1 1 1-2-2 0zM824 741l1 2 1 1 1 0 0-3-1-1zM785 769l0-1 0-2-1 0-1 0-1 2zM761 733l-1 2-1 0 0-2 1 0zM856 712l0-2 1 0 1 1-1 1zM863 766l1-2 2-1 0 3-1 0zM700 734l1-1-3-1 1 2zM780 695l-3 0-1-1 1-1 1 0zM865 773l1 2-3 1 0-2 1-1zM824 696l1-2-2-1-1 1zM859 740l-1-1 1-3 1 0 1 1zM752 708l0 1 1 2 1-1 0-2zM834 720l-1 0 0-2 3 1-1 1zM847 788l2 3 1 0 1-2-3-2zM857 761l1 1 0 1-2 1-1-2zM745 743l0 1-2 1-1-1zM815 710l-3 0 0-1 1-1 2 0zM768 753l-1-1 1-1 0 1zM829 807l1-1 0-2-1 0-1 0 0 2zM738 799l-1 1-2 0-1 0 0-1 1-1 2 0zM800 751l0 1 4-1-1-1 0-1zM755 810l1 1 1 0-1-2-1 0zM828 706l2-1 0-2-2-1zM844 740l-3 0-1-1 1-1zM762 751l-1-1 0-1 2 0 0 2zM768 747l-2-1 0-1 2 1zM830 730l1 1-1 1-1-1 0-1zM724 792l2 1 1-1-1-1-1 0zM726 779l2 2-1 1-1 0-1 0zM806 775l0-1-2 1 2 1zM861 700l2-1 0-1-2-1-1 1zM789 694l1 1-1 1-1-1 0-1zM840 727l0-1 2 0-1 2-1 0zM853 815l3 1 1-1-2-2-2 1zM847 714l-2-2-1 1 0 1 1 1zM773 780l0 2 1 0 1-1 0-1-1-1zM769 767l-2 1 1 1 2 0zM797 707l1-1-1-1-1 0-2 1zM810 762l0 1-1 2-1 0 0-1zM853 820l2 0-1 2-1-1zM798 749l1 0 1-3-1-1-2 1zM704 815l-1 1-1 0 0-1 0-1 2-1zM768 789l0 1 5-1 0-1-3-2-1 1zM870 777l-1 1-1 1-1-2 0-1 1 0zM773 715l1 0 0-2-2-1-1 1 1 2zM772 749l1 0 1-1-3 0zM761 772l0 1-3 1 0-2 0-1 2 0zM809 796l0 1 0 2-1 1-1-1-1-1 1-1 1-1zM749 772l1 0 1-1-1-2-2 2zM851 771l0-1-1 0-2 2 0 2zM782 760l-1-2 3 0 1 1-1 1zM764 794l-1-2 1-2 2 0 0 1zM831 779l-4 0 0-1 2-1zM713 739l1 0 1-1-2-2 0 1zM775 801l0-1-2-2 1 3zM822 741l-3 2 0 1 4 0 0-2zM762 796l0-1-1-1-1-1 0 1zM774 759l0-1-1-2-2 3zM724 790l-1-1 2-1 2 1-1 1zM826 822l3 1 0-1 0-1-2-1zM830 744l-2 0 1-3 1 0 1 2zM741 813l0 1 0 1 1 0 1-2zM789 705l-1 0-1 0 1-1 1 0zM810 721l1-3-1 0-2 2zM861 759l-1 1 1 0 1-1zM759 763l1 2-1 0-1 0-1 0zM768 770l3 0 1 0 0 2-2 1zM732 793l0-2 2-1 1 0 0 1-1 2zM746 696l-2-2 2 0 1 2-1 1zM867 724l-3 0 1-2 2-1 1 2zM789 728l-1 2 0 1 1 0 1-1zM826 735l-2-1 2-1zM720 817l-1 0-1 0 1 2 1 0zM763 745l0-1 2-1 0 1-1 1zM788 799l1 0 1 0 1 2-1 1zM749 820l0 2 1 0 1-1-1-1zM765 820l1-1 1 0 1 2-2 1-2-2zM828 734l1 0-1-1zM731 787l1-1 3 0-1 2zM791 725l1 0 1 2-2-1zM829 713l1 0 1-1 0-1-3-1-1 1zM812 799l-1 0 0-2 2-1 0 1zM761 800l1-1 4 3-1 0-1 2-3-3zM789 701l-1 0 0-1 1-1 1 1zM803 796l1-2 1 1-1 1zM830 792l-2-1 1-1 2 0zM828 754l0 2 1 0 0-2zM868 789l-2-1 2-1 1 0 1 2zM783 824l3 0 1 3 0 13zM812 767l-1 0-1-1 1-2 2 1zM810 747l1-1 1 1 1 1-3 0zM742 817l-1 1-2-1 2-1 1 0zM826 707l1 0 0-1 0-3-1 1-2 2zM729 695l0-2-2 0 0 1 0 1 1 0zM835 790l1-2 1 0 2 1-2 3-1 0zM719 693l2-1 0 1-1 1zM721 780l0 1-1 1 0-2zM809 752l1 2 3-2-3-1zM826 808l1-1 1 1 0 1zM749 712l-1-2 3 0 0 1 0 1zM854 697l-1-2 1-1 1 0 1 1-1 2zM706 821l-2 0-1 2 3 0 0-1zM769 818l2-2 1 0 1 2-2 2-1 0zM844 810l2 1-1 1zM739 737l-1-1-1 0-1 1 3 2zM717 700l0 1 1 1 0-2zM872 737l-3-2 0 3zM855 802l3 2 0-1 0-1-2-1zM805 820l1 1 1-2-1-1-1 1zM710 789l0 1 1 1 1-1 0-1zM814 826l0-5-1-1-2 3zM730 756l1 0 0 2-2 0 0-1zM831 796l-1 1 1 1 1 0 1 0-1-2zM777 700l1 1-1 0-1 1 0-1zM748 792l-1 0 1-2 1 1zM717 695l-2 1 1 1 1-1zM850 718l0 1 1 1 2-1 0-1zM747 774l-1 1-1 0-1-1 2-2zM757 715l1-1 1 1-1 3-1-1zM868 753l2-2 1 3-1 0-2 1-1-1zM769 750l2 0-1-2-1 0 0 1zM813 739l-1 1-3-2 1-1zM766 806l0 1 4 1 0-3-3-1zM722 822l-1 1 2 3 0-3zM794 748l-1-1 0-1 1 0zM810 729l-4 1 1-2zM740 810l-1 0 0-1 1-2 1 1 0 1zM851 740l1-2 3 2-1 1-2 0zM744 816l-1 0 1-2 2 0-1 2zM725 708l0-1 0-1 0-1 2-1 4 0-1 2-3 1zM814 695l-1 3-2-1-1-1 0-2 2-2 2 2zM704 793l-1 1 2 0 0-1zM705 770l1 1 1-1 0-1-2-1-1 2zM796 737l0-2-2 1-1 2 1 1 1 0zM726 811l-3 2 1 1 1 1zM820 771l2 1 1-1-1-1-1 0zM772 705l-2-3-2 2 1 1 2 1zM654 811l30 2 0-1-1-2-9-1zM845 815l0-1 1 0 2 2-1 1zM815 804l-2 2 0 1 1 0 3-2-1-1zM855 733l1 0 1-1-1-2zM730 701l2 1 0 1-5-1 1-2zM706 734l0 2-2 0 0-2 1 0zM731 774l0 3 1 0 1-1 0-1zM758 733l0 2-2 1 0-3zM703 796l0 2 2 0 1-2zM826 810l0 1 1 1 1-2zM827 731l0-1 1-1-1-1-1 0-1 0 1 3zM727 722l-2-2 3-1 0 1zM794 698l-1-2-2 0 0 1 0 1 1 1zM833 809l-1 1-1-1 0-1 2-1zM853 777l-1 2-1 1-3-2 1 0zM860 821l1 1 1-1-1-1zM780 729l0-3 2 3-1 0zM779 750l1 0 0 1-1 1-1-1zM735 808l-1 1 0-1-1-1 2-2 1 1zM853 713l1 1 1 0 0 1-1 1-3-1zM762 757l1-1 0-1-1-1 0 1zM799 730l0 1 1 0 1-1 0-2-1 0zM834 789l0-2-1 0-1 0 0 2zM756 759l2 1 0 1-2 2-1-4zM776 794l3 0-1-2-2 0zM751 768l2 2 0-3zM850 704l-3 0-1-1 2-1 2 0 0 1zM857 795l0-3 2 0 1 2 0 1-2 0zM734 694l-1-2-2 1 0 2 2 1zM700 693l2-1 0-3-2 2zM798 712l0 2-2 0 0-2zM818 694l-2 0 0 1 2 1 1-1zM805 741l2 0 0-2-2 0zM755 806l-1 0-1 0 0-2 2 0zM831 771l0 1 1 0 0-1 0-1-1-1 0 1zM869 797l1-2 1-1 1 1-1 1zM791 759l-1-1-2 1 1 1 2 0zM835 722l1 2 2-1-2-1zM814 746l2-3 1 2 0 1 0 1-1 0zM747 794l-1 2 1 1 1-2zM851 799l2-1 1 2 0 1-1 0zM754 753l2-2 1 2-1 0zM845 807l0 1 3 2 1-2zM773 743l2 1 1-1 0-1 0-1zM798 720l0-2 0-1-2 0-1 0 0 1 2 2zM719 697l1 1-2 1-1-1 1-1zM758 702l0-1 2-1 0 1zM709 733l-1 0 0-1 0-1 1 0 1 0 0 1zM755 706l-1-1-2 0 0 1 3 1zM825 800l-1 0 0 1 3 1 0-1zM731 804l1-4-1 0-1 0zM794 777l-2-1 1-2 2 0 0 2zM762 740l0 2 2-1zM865 698l-1 0 0 1 1 1 1 0 0-1zM836 717l1 0-2-2-1-1-1 1 1 0zM781 707l1 1-1 1-1 0 0-1 0-1zM802 737l-2-3-1 0 0 2 2 1zM747 779l1-1 2 2-1 0zM835 694l-1-1-2 1 0 2 3-1zM844 704l-2 2 0 1 3 1 0-3 0-1zM792 707l0 1-2-1 0-1zM727 747l1 0 0-1-1-1-1 1zM822 723l0 1 1 3 2-1-1-3-1 0zM870 693l2-1-1-1-2 1zM719 699l0 2 2-2zM819 777l-3-2 1-2 1 0 3 1zM709 798l1 1 0 1-2 1-1 0 0-2 1-2zM792 803l2 1 0-1 0-1-2 0zM811 794l3-1 0-1-2 0zM707 766l0-1-1-1 0 1-1 1 1 0zM783 691l-3 2 1 1 1 1 1-2 0-1zM749 729l0 2 1 1 3-1-2-2zM838 785l3-2 0-1-3 0zM856 775l4 1 1 0 0-2-1-1-1 0-2 1zM844 701l1 1 1-1 0-2-1 0zM770 758l1-2 0-1-2 0 0 2zM761 797l0 1-2-2 1 0zM825 795l-1 1 0 2 3-2zM752 728l2-2 0 2 0 1zM823 755l1 1 1 0 0-1-2-1zM843 789l1 0 1-1 2 3-1 0zM782 731l0 3 2-1-1-2zM835 768l2 0 0-1-2-1 0 1zM861 693l-3-1-1-1 3-9 1 3 0 7zM752 793l-1 1-1 0 0-1 1-1 1 0zM851 732l-2 0-1-2 0-1 3 1zM821 768l0-2 2-2 1 1-1 3zM843 791l2 1-1 1zM793 713l1 2-1 0-2-1 0-1 1-1zM805 738l2 0 0-1-1-1-1 0-1 1zM810 819l-1 0-1 2 2 0 1-2zM795 730l-1 1 0 1 1 1 1-1 1 0-1-1zM799 710l3 0 0-1-1-2-2 0 0 1zM705 714l0 1 1 0 0-1zM802 755l-1-2 3-1 1 1-1 2zM808 769l-1-2 1 0 1 0 0 2zM767 723l-1-1-3 1 0 2 4-1zM843 724l-1-2 0-2 1 0 2 1 0 3-1 0zM820 705l-1-1-2-1-1 1 1 2 2 0zM856 716l1 0 1 2-2 2-1-1 0-2zM731 811l2-1 0 1 0 1 0 1-2 0zM802 803l0 2 2 1 3-2 0-1-2-1zM799 813l-1 0-1 0 0-1 1-1 1 1zM777 752l-1 0 0 1 0 1 2-1zM704 740l-1 0-1 2 2 0zM744 808l0-1 1 0 1 1-1 1-1 0zM836 812l1-1-2-1-2 1 1 3zM804 701l0 1 1 1 1-1 0-2zM725 749l0-1-1-1-2-1-1 3 3 1zM831 787l-1 2-1-1 1-1zM802 703l-1 0-1 0-1 1 1 1 1 0zM825 708l-2-1-1 0-1 1 1 2 2-1zM850 816l0-1 0-1-1-2-1 0-1 1zM784 812l0 1 0 1 0 1 2 0 1-2-1 0zM788 772l-3 1 1-3 2 1zM862 797l0-1 1 0 2 2-2 1zM841 716l1 0 1 1-1 1-1-1zM824 731l-1-1-1 0 0 3 1 0zM741 794l-1 0-1 1 0 2 1 0 2 0 0-1zM827 717l1 2-1 1-1 0-1-3zM806 759l2 0 0 2-1 1-1 0-1 0zM704 788l0-2-1-1-3 2 3 1zM782 715l0-1-2-1-1 2zM870 809l-1 3 1 2 5-6zM828 798l1 1-1 1-2-2zM759 813l2 2-2 1zM743 737l0-1 1 0 1 0 0 3-2 0zM716 811l0 1-1 0 0-1zM742 725l-2-1 0-2 2 0 1 1zM704 803l1 0 2 1 0 1-2 2-1 0-1-2zM736 721l2 0 0-1-1-1-2 0-1 1zM831 757l-1 0 1-2zM745 805l-1 0 1-2 1 0 0 1zM701 802l0-1-3 0-5 2 8 1zM823 787l-2 0 1 2 1 0zM804 699l-1-1 1-1 2 0 0 1zM864 813l-1 0 1 3 1-3zM794 800l0-3-2 0-1 1 1 2zM862 794l0 1 1 0 1-1-1-2zM744 812l0 1 2 0 0-2-2 0zM707 698l0 2-1 0-1-2zM823 751l0-2 1 0 2 0 0 1zM781 756l0 1 3 0 0-2-1-1zM862 708l1 1 0 1-1 1-1-1 0-1zM826 773l0 1-1 2-2-2 2-1zM810 723l-2 0-1-2 1 0 1 1zM845 770l2-3 1 0 1 2-3 3zM865 808l2-1-1-2-1 1 0 1zM782 774l-3-1 0 2 3 0zM857 738l-1-3 1 0 0 1zM829 761l1 0 0-2-1-1-1 0-1 1zM847 780l2 2 1 0-1-1-2-2zM852 805l-1 1 0 1 1 0 1-1-1-2zM705 693l1-1-2-2 0 2 0 1zM766 698l-2-1 1-1 1 1zM778 788l1 1-1 1-2 0 0-1 0-2zM708 807l0-1-2 2 0 1 2 1 1-1zM790 770l-1 0-2 0 0-1 3 0zM809 789l1-1 1-1 3 2-1 1-2 0zM728 790l0-1 1 0 1 2 0 1-2-1zM797 749l-1-3-1 0 1 2zM759 690l1 1 1 4-3 0zM759 799l-3 0 0-2 1 0 3 1zM806 751l2 0 0-2-2 1zM812 774l-3 0-2-1 1-1 1-1 1 0zM859 815l1 0 2-1 1 3-2 1zM742 700l1 1 2 1 0-3zM723 710l-1 0-2 2 1 1 1 0 1-2zM717 816l-1 0 0-2 1 0 1 0-1 1zM795 769l-3 1 0-1 1-1 1 0zM760 740l-1 1 0 1 1 0zM751 783l2 2 0 1 2-2 0-1-2-2-1 0 0 1zM778 740l4-1-2-2-3 0 0 2zM791 819l0-3 2 1 0 1-1 1zM839 786l2-1 0 2 0 1-1 0-1-1zM751 694l-1 1-1 1-1-3 2-1zM853 764l1 2-1 0-1 2-1-1-1-1 2-3zM813 726l2 0 1-2-1-1-1 0-1 2zM733 700l0 1-1-1-1-2 2 0zM834 731l1 2-2 0-1 0 0-2zM807 732l2-1-4 0 1 1zM840 773l0-2-1-1-2 1 0 2zM717 733l-2-2 3 0zM799 784l1 2 3 0 1-3-1 0zM867 739l1 0-1-2-1 0 0 1zM752 735l-1-1 2-1 1 0 0 2-1 0zM822 796l-1-1-1 0 0 2 2 0zM738 804l0-1-1-1-1 0 0 2 1 0zM743 716l-2 0 0-2 1 0 1 0zM777 776l-2 0 0 2 1 0 1-1zM801 779l-1-2-1 1 0 1 1 0zM725 709l2 0 2 3-2 1-2-2zM818 811l2 1 0 2-1 0-1-2zM848 698l2 1 1 1-1 1-2-1zM747 806l1 1 1-1-1-1zM781 776l-2 1 0 1 1 0 0 1zM779 732l-2 2 1 1 2 0 0-1 0-2zM812 707l3-1-1-2-3 0-1 1zM701 717l0 1-2-1 1-1zM822 811l0-2 2 1 0 1-2 1zM742 777l-1 0 0 2 1-1 1-1zM742 821l-1 2 0-1 0-2 1 0zM772 711l3 1 0-1 0-1-2 0zM783 700l1 0 0 3-1 0-1 0 0-2zM701 796l1 2-1 1-1 0 0-3zM843 803l-1 0-1-1 1-4 1 0 1 1 0 4zM838 719l1 0 2 1 0 1-2 1-2-2zM785 808l-1 2 0-2 1-1zM848 758l1 1-3 2-1-3zM847 753l-2-1-2 2 1 1 3 0zM706 695l0 1-1 0 0-1zM787 786l1 2 2-1 0-1-3-1zM782 705l1 0 1 3-1 0-1-2zM715 796l-1 2-1 0-1 0 0-1 0-1zM812 814l0-1-1-3-2 2zM801 820l3 0 0-1-2-2-1 2zM685 786l10 1 1 0 4-3-1-1-4 0zM869 715l-2 0 0-2 1 0 1 0zM791 772l1 1-1 2-1 1-1-1 0-2 1-1 1-1zM764 762l1-1 1 0-1 2-1 0zM866 695l1 2-1 0 0-1zM819 802l0 1 3-1 0-1 0-1-3 0zM817 813l-1 1 1 1 1 0zM759 746l2-1 0-2-1 0-2 0 0 1 0 2zM784 709l-1 1 0 2 1 1 2-1-1-2zM799 769l1 0-2 3-1-2zM741 738l-1 2 2-1zM841 702l-2-1 1-1 1 1zM762 722l3-1 0-1-4 1zM712 713l1-1-1-2-1 0 0 2zM834 748l1-2 1 0 0 1-1 1zM867 694l1-1 2 1 0 1-2 1zM869 794l0-1-1-1-1 1zM743 734l1 0 2-1-2-1zM720 765l3 0 0 4-2 0-1-2zM806 705l-1 0-1-1-1 2 1 2 2-2zM758 697l3 0 0 1-1 1-2 0-1-1zM774 825l0 7 2-8 0-1zM788 778l0-1 1 0 0 1zM864 789l1 0 2 1 0 1-1 1-2-2zM791 727l2 1-1 1-1 0 0-1zM834 801l2 1-1 1-3 0zM731 719l-1-1-1 0 0 1 1 1zM800 760l3 1 1-3-1 0-2-1-1 2zM815 782l0 2-2-2 0-1zM836 813l-2 2 3 1zM848 733l-2 1-1 0-1-2 2-1zM868 699l2 1-1 2-1-1 0-1zM814 738l-3-2 1-3 3 3 0 2zM862 740l-2 1 2-3 1 0zM711 756l0-2 1-1 1 2-1 1zM787 731l-1 2-1 0 0-3 1 1zM851 755l-1 1-1 0 1-2 1 0zM788 804l0 2-1 0-1-1 0-1zM790 827l-1 3 1 8 0 2 2-11-1-2zM866 803l-2-1 0 1 1 1zM753 720l2 2 1-1 1-1-1-1-2 0zM863 778l1 2 1 1 1-1zM748 753l0 1 0 1-1 1-1-2zM820 717l1 1 1 3-1 0-2-2zM846 728l-1 1-1 1-1-1 1-2 1 0zM761 728l2 2-1 1-2 0-1-2zM837 804l-1 1-1 1 0 3 2 0zM740 714l-1 0-2 1 0 2 2 1 1-2zM790 723l0-2 2 0 0 2-1 0zM803 741l-2 0 1-2 1 0 1 2zM733 767l1-1 3 3-1 1-2 0zM753 819l3 0 0 1-2 1zM822 815l1 1 2 0 1-1 0-1-2-1-1 0zM732 719l-1-2 1-1 1 2zM705 739l-1-1 2-1 0 1 0 1zM789 747l0 2 1 1 1-2 0-1zM810 725l1 2-1 1-3-1 0-2 1 0zM806 748l0-1 1-1 1 1 0 1zM712 760l0-2-1 0 0 2zM701 746l0-1 1-1 2 0 1 1-1 0zM765 750l1-1 1 0-2-1-1 1zM716 693l-2 0 1 1 0 1 1-1zM791 764l-1 0 0 1 1 0zM849 798l-1-1 1-3 1-1 2 3 0 1-2 1zM862 736l0-1 2 0 0 1zM779 761l-1-1 1-1 1 1zM768 782l1 2 0 1-1 0-1-1zM703 694l-1 0-1 0 0 1 1 0zM761 725l0-2-1-1-2 1 2 2zM821 695l-1 1 1 2 1 0 2-1zM816 810l-2-1-1 0 1 3 1-1zM713 733l2 0-1-2-1 0 0 1zM819 782l0 3-1 0 0 1-1-1 0-2zM782 716l-4 0 2 1 2 0zM850 800l0 2 1 0 1 0zM836 735l1 0 0 1 0 1-2 0 0-2zM867 752l2-3-3-1 0 1zM822 705l0-2 1-1 1 1-1 2zM753 824l1 5 3-7-4 1zM867 761l-2 1-1-1 2-1 1 0zM735 793l1 1 1-1 1 0-2-1zM713 787l0 1-2-1-1-2 3 1zM776 722l2 0 0 2-1 0-1 0-1-2zM755 700l1 2 1 0 0-2-1-1zM788 808l-1 2-1 0 1-2zM788 783l0 1 1 1 0-1zM746 735l1-2 1 0 1 1 0 1-2 0zM862 717l1 0 1 0-1 2-2-1zM799 702l-1 1-1 0 0-1 0-2 1 0zM703 764l1 0 0 1-2 0 0-1zM842 814l-1-2 2-1 1 2-1 1zM718 706l4 2 1-1 0-1-4-2zM715 802l-3-2-1 1 2 2zM833 729l-1 1-1-1 2-2 0 1zM813 800l0 1 3 1 1 0 0-2zM725 723l-2-1 0-1 1 0 1 1zM860 780l2 1 1 0-1-3-1 0zM715 792l-2-1-1 1 0 2 3-1zM760 812l2 1 1 0 0-3zM720 718l0-2-1-1zM853 751l-1-1 0-1 2 0 1 1zM784 792l-1-1-1 0-1 1 1 1 1 0zM850 818l1 2 0 1-1 1-2-2 1-1zM789 732l-1 0-1 2 1 1 1-2zM860 709l0 2-1 0-1-2zM754 741l2-1 1 1 0 2-1 1zM813 786l0-1 2 1 1 0-1 1zM845 805l1-1 1 0 1 2zM811 744l1-2 1 0 1-1 0 1-2 2zM782 719l0 1-2 1 0-1 1-1zM869 791l1-1 1 1-1 1zM761 720l3-1 0-1-2 0-1 1zM746 762l-1-3 1 0 2 1zM816 764l1 0 0-2-1-1-1 3zM852 809l2 1-1 1-1 1-2-2 1-1zM786 798l-2-1 0-1 2-1 1 3zM702 705l-1-2 0-1-1 1-1 2 1 1 1 0zM841 752l2-2-1-1-2 0zM824 712l-2 0-1 2 1 1 1 0zM817 728l-1 0 2 2 2-1-2-1zM716 740l0 2 2 0-1-2zM830 748l-1-2-1 0 0 2 0 1zM821 702l-2-1 2-1 0 1zM746 739l3-3-3 0zM839 810l1 0 2-1 1-1 0-1-1-1zM799 767l2 0 0-1-2-3-1 1 0 1zM738 740l-2-2-2 1 2 2zM837 700l-1-1 1-2 1 0 0 2zM853 734l0 1 0 2 2 1-1-3 0-1zM856 782l0-1-1-2-1 1zM796 696l1-2-2-1 0 2zM712 706l0 1-1 0-2-2 1-1 2 1zM841 760l-3 1 0 1 2 0zM863 786l-1 0 1-2 1 0 0 2-1 1zM825 737l0 1-1 1-1 0-1-1 1-2zM821 756l0 2 1 2 0 1 2-3zM716 736l-2-1 2 0zM870 806l4 0-4-3-1 0 0 1zM833 775l1 2 0 1-1 0-1-2 0-1zM729 809l2-1-1-1-2 0 0 1zM844 818l1 2 1 0 1-2-3-1zM756 747l-1-1-2 1 1 1zM747 715l-3 0 0 2 1 1 2 0zM785 777l2 0-1 2-1 0zM813 803l-2 2-1-2 0-1 1 0zM713 704l-2-2 1-1 2 1zM772 745l0 1 2 0zM862 755l0 2-1 0-1-1zM866 725l-2 0-2 1 1 2 3-1zM781 781l0 2 0 1 2-1-1-2zM744 782l-2 1-2-1 1-1 2 1zM767 701l-1 2 1 0 1 0 1-2zM820 711l-1 1-2-1 1-2 1 0zM861 725l2-1 0-2-1-1-1 1-1 2zM769 752l0 1 2 0 0-1zM755 791l-1-1 1-2 1-1 1 1 1 1-1 1zM774 728l0-1 1-1 1 0 0 2zM742 718l-1 0-1 1 1 1 1 0 1-1zM700 810l1 1 2 0 1-1-1-1zM752 817l0-1 2-1 1 3-3 0zM815 825l2-2 0-2-1-1-1 0zM829 716l1 2 1 0 0-2 0-1-1 1zM797 809l-2 2-1 0 0-2 1-1zM792 694l-1 0 0-1 2-1zM799 803l-3-1 0-1 2 0zM860 811l0 2 2-1zM709 783l3 0 0 1 0 1-3-1zM715 764l1 2 2 0 0-2-1-1-2 0zM789 724l-1-1-1 0 0 1zM776 721l2 0 0-1-1-1zM773 794l-2 1-2-3 4-1 1 1zM798 724l1 1 2 1 0-1 0-1zM739 824l-2-2-1 0 0 1 2 7 1 2 1-3 0-4zM723 716l0 1-1 2-1-3zM723 807l3 0 0-1-1-3-3 2zM724 699l2 1 0 2-2 1-1-3zM737 702l2 1-1 2-3-2 1-1zM717 708l1 2 2-1zM703 699l-1 0 0 2 2-1zM780 801l-2 2-1 0 1-3 2 0zM869 697l1-1 1 0 0 2-1 1-1-1zM751 758l-2-2-1 1-1 1 3 2zM722 791l-1 1 0-1 1-1 1 1zM790 809l-2 3 1 1 1 0 1-1 0-2zM777 774l-2 0-1-1 3-2 0 2zM825 821l-2-1 0-2 2 0 0 1zM745 781l-3-1 2-1 1 0zM793 783l-1-1-1 3 2 0 0-1zM761 715l1 2 2-1zM754 740l2-1 0-2-1 0-1 0zM799 720l1-1 3 1-1 1zM806 719l0-1 0-2 2 0 1 1-2 2zM734 802l0 2-1 1 0-3zM759 807l3 0 0 1-3 1-1-2zM861 702l2 0 1-1-1-1-1 1zM723 778l2 1-1 2-2 0 1-2zM767 728l-1-2-2 1-1 0 1 2 2 0zM766 777l-1 1 1 1 1 1 1-1 1-1-1-1zM813 817l1 1 1-1 1-1-2-1-1 0zM771 727l0-1-2-1 0 2zM786 725l0-2-2 0 0 1 1 2zM744 821l0-3 2 0 0 1-1 1zM765 737l1-1 1 0 1 2-1 1-1 0zM720 728l0-1-3-1-1 0 0 3 3 0zM709 751l-1 0 0-2 3 1 1 0-1 1-1 0zM737 797l1-2-2 0 0 1zM865 801l1 0 1 0 0-1-1-1-1 1zM833 792l-1 0 0 1 0 1 2-1zM750 808l1 2 1-1 0-1-1-1zM864 720l2-1-1-1-1 1zM757 705l-1 1 0 1 2 0 0-1zM702 818l-2 1 1 2 2-1zM809 714l-3 0-1-2 2 0 2 0zM762 702l2 0-2-3 0 1zM818 779l-3-2 0 2 2 1 1-1 1 0zM832 692l-2 1 0-1 0-1zM842 769l2 0 1-2-1 0-2 0-1 1zM818 809l2-2 1 1 0 2zM783 821l2 0 0-1-1-1zM735 819l0-1-1-1 0 1 0 1zM870 708l0-1-1-2 1 0 1 0 8 1-7 2zM727 767l-1 2 3-1 1-1-1 0zM824 807l1 0-1 1-2 0 0-1 1 0zM855 707l1 1 1 0 0-1 0-2-1 0zM762 704l0 1 1 1 2-2-1 0-1 0zM708 757l1 0 0-2-1 0 0 1zM807 792l-2 1 1 2 2-1zM761 763l0 2 1 0 1-2zM772 730l-3 0 0 1 0 1 3 2 1 0zM865 703l2 1 1 0-2-2zM804 726l1 1-1 2-1 0-1-2 1 0zM803 743l0 2-2-1-1-1 1-1z" fill="#f3e8f8"/></g></g>
<rect x="352.2" y="348.3" width="80.5" height="60.3" filter="url(#n19)"/>
<g fill="#fdfbfe" clip-path="url(#c1_4)"><ellipse cx="360.8" cy="361.0" rx="1.4" ry="2.0"/><ellipse cx="380.5" cy="359.5" rx="2.6" ry="2.6"/><ellipse cx="391.6" cy="363.0" rx="2.3" ry="3.3"/><ellipse cx="422.7" cy="357.2" rx="3.0" ry="3.7"/><ellipse cx="413.0" cy="375.0" rx="2.0" ry="4.0"/><ellipse cx="405.0" cy="397.3" rx="2.3" ry="2.6"/></g>
<ellipse cx="426" cy="382" rx="2" ry="5" fill="none" stroke="#f4ecf8" stroke-width="1"/>
<rect x="434.8" y="348.3" width="80.4" height="60.3" fill="#bf8ade"/>
<g clip-path="url(#c1_5)"><g filter="url(#soft)"><path transform="scale(.5)" d="M1039 776l-4-2 0 3zM981 736l-2 1 0-2 0-4 4 0 1 2zM980 704l0 1 0 2 0 1 2 0 1-1-1-3zM869 805l2 2 2-2-2-2zM1008 794l1 3-2 1-1-2 0-1 1-1zM873 716l0 1-3 2-2-2 0-1 4-2zM1011 750l-2-3 0-1 0-1 3 0 1 1zM972 704l0 3 2-2 0-1zM896 758l-4-2 3-3 1 0 0 1zM997 764l-4-2 0-1 5 0zM889 750l-1-3-5 1 4 3zM934 808l-1 1 0 1 0 1 4 1 1-2 0-2zM1034 728l-2-2 2-1 1 1 0 1zM1021 737l-2-3-1 1-2 4 1 1 1 0zM915 808l1-1 4 2-1 1-1 1zM872 809l1 1 3-2 0-1 0-1-2-1-1 0-1 2zM1008 812l1 0 0-2-2-1 0 1zM1000 751l-2-1-2-1 4-4 1 3 0 2zM1000 819l3 2-2 5-2-5 0-1zM886 720l-1 3 2 2 2 0 1 0 1-2-1-1-3-3zM1009 704l1 1 1 0 4-3 0-1-4-1-1 0zM913 749l0 1 0 2-5 0 0-1 1-1 3-2zM978 771l-2-1 0-1 2-1zM897 752l4-2 1-1-2-1-3 1zM1040 815l-6 0-1-2 3-2zM931 761l1-3 1 1 1 1-1 2-1 0zM896 764l-1 5 2 0 2-2zM1006 697l1-2 2-1 1 2 0 2-1 1-3-1zM1013 754l1 3 1 1 2-2-2-3zM891 819l0 2-3 2-1-2 1-2 2-1zM1036 725l5-3-5-1-1 3zM1028 720l3-4 2 2 0 1zM876 787l-1 1 0 3 3-1zM1003 717l2-4 4 2 0 2zM1033 745l-1-2-1-1-2 1-1 1 3 2 1 0zM895 731l1-3-3 0 1 3zM910 786l4-1 1-1 0-1-4-1-1 3zM944 705l-2-2-1 1-1 3 4 0 1 0zM965 818l1 0 2 2-2 6-3-4zM892 818l0 3 1 1 3-2-1-1-2-1zM880 765l5 1 1 1-2 3-4-1-1-2zM961 809l1 0-1-4-2 0-2 2 1 1zM990 750l1-1-1-2-4 0 0 4 0 1 2 0zM909 807l-1-1-3 3 1 1 1 0 2-1zM1021 792l-5 4 2 1 4-2zM1003 696l0-2 0-1 3 1-1 2zM898 762l0 1 2 3 3 0-2-5-1 0zM878 767l1 2-2 2-5-1 1-3zM1028 735l-1 2 2 1 2 0 1-2zM981 717l1 1 2 1 2-1-1-3-1 0zM1008 747l-5 1 0 2 2 1zM921 699l1-2 3 3-3 2 0-1zM1010 812l3 1 1-2-2-1-1 0zM901 790l-1 1 2 2 2-1zM906 790l-2-3 2-2 2 1 0 1 0 1zM867 739l-1 5-1 1-7-1 8-5zM907 818l3-3-3-3-1 0 0 6zM980 791l1 5-4-1 0-2zM924 814l-3-1 0 3 2 2 1 0zM983 763l3 2 1 0-2-4-2 1zM1023 796l0 1 0 3-4 0 0-2zM1019 819l-1-2 1-2 1 0 2 0 0 1-1 5zM874 761l-2 2-1 0-1-1 0-3 1 0zM1029 747l-2-1-2 1 0 2 0 1 1 0zM998 723l-1-3-2-1-3 2 3 3 1 0zM1014 712l2 2 1-1 0-2-1-1-1 0zM907 725l3-2-3-3-4 2 2 3zM886 782l1 0 1-1-1-2-2 1-1 0 1 1zM1009 708l1 4 3-1 0-2-2-3-1 0zM918 774l1 2-3 2-3-1 1-3 3 0zM949 705l1 2 4-1 0-1-4-1-1 0zM941 738l-2 1 0 1 2 2 3-1zM871 733l4-5 0 5-1 1zM1032 792l1-1 1-2-1-1-2 0-2 2zM937 708l-5-3-1 1-1 3 1 1 4 0zM1014 726l1-1 0-3-1-1-2 2 0 1zM976 700l0 2 3 1 1 0-3-4zM914 749l3-5 2 5-5 1zM1002 738l3 0 0-2-2-1-2 2zM1032 754l-4 4-2 0-2-1 1-5 2 0zM899 773l0-1-2-1-2 0 0 1 1 1zM1001 771l-1-1 1-2 2 0 2 3-1 0zM994 718l0-2-1 0-2 2 0 1 1 0zM914 709l0-1-1 0-4 4 2 1 2-1zM874 754l-2 0-3-2 0-2 4 0 1 3zM1000 739l0 4-1 0-1-1-1-3 1-1 2 0zM930 803l-2-1-1 1 1 4 1 0zM980 764l-2-2 0-2 1-1 2 2 0 2zM960 724l-2-2-1 3 1 0 2 0zM980 818l0-2 5 1-2 2zM1005 766l-1 2 2 3 1 0 1-1 0-1-1-3zM906 794l0 2 1 3 4-3zM1009 815l0-1 0-1 4 1 0 1-2 1zM896 715l2 0 2-2-4-1-2 1zM990 752l1 3-1 1-1-3zM871 772l1 5 3 0 1-3 0-2-4-1zM1008 789l-1-3 2 1 0 2zM870 696l0-3 2 1-1 3zM950 781l1 0 4-3-1-1-1 0-3 3zM1022 789l3-1 0-4-2-1-1 3zM983 807l-2 0-1 1 2 3 2-4zM934 713l0-2-3 0 0 1zM884 735l-3-1-2 2-1 3 4 2 3-1 0-3zM1015 761l2 3-1 3-3-2-1-1zM869 811l-1 1-1 0 0 1 3 1 2-1 0-2-1 0zM1000 710l-2 3 2 2 2 0 1-2-1-2zM872 743l-4 1 1-4zM986 724l1 0 1 3-3 0-1-1zM884 778l0-5-2 1-1 4 2 0zM933 783l-4 0-1-2-1-1 1 0 3 0 2 2zM878 706l1-1-1-3-2-2 0 1-1 5 1 1zM961 747l0-2-2-2-1 1-1 1 1 2zM870 700l0-1-1-1-1 0 0 1 0 2 1 0zM1006 701l1 2 1 1 0-4-2-1zM970 709l-3-3-1 3 4 2 0-1zM918 801l-2 5-1 1-2-2 4-4zM975 802l-3-1-1 2 2 2 2-1zM967 814l5-2-2-2-2-1-2 1zM912 757l2-3-1-1-4 0-1 0 2 4zM928 774l0 1-2 3-2-1-1-1 4-2zM916 801l-3 4-2 0 0-3 3-2zM1007 744l0-1-5 1 1 3 4-1zM960 811l-3-1-1 4zM949 763l-1 3 1 2 2-3zM905 820l0 1-5 8 0-2 0-3 3-4 1 0zM948 708l-3 0 0 2 1 1 2-2zM911 789l0-2 3-1 1 1-3 3zM932 798l-4 1 1 2 1 0 2-2zM971 795l4 1 0 4-3 0-3-3zM1003 718l-1 0-1 3 3 1 1-1zM1013 804l1 1 3 0-1-2-3-1 0 1zM971 701l0 2 0 1-4 0-1 0 0-1zM878 713l-3 1-1-1 0-2 1-1 1 0zM890 807l-2 3-3 0-1 0 0-1 3-4 2 1zM919 766l-2 1 2 4 1-3zM972 738l-1-1-1 0-1 1 1 1 2 0zM862 699l-7-2 8-3 3 3-1 1zM875 753l-1-3 1-2 3 0 1 0-2 4zM937 692l0-5-1-5-3 9 2 2zM876 740l-1 2-2 1-4-4 3-1zM978 758l-4-2-1 3 4 0zM1015 810l1 0 2-2 0-1-4 0-1 2zM933 768l2-3-2-2-1 0-2 4zM967 697l-1 1-3-4 3-2 2 1zM1021 791l-3-1-1-1 0-3 4 0 1 4zM1034 700l5 1-5 4-1-3zM934 701l-2 3 6 3 1-1 1-2-1-1zM1027 707l4 0 0 3-1 1-4-1-1-1 1-1zM988 778l3 6-2 0-4-4 2-2zM966 753l2 1 3-1 0-1-1 0-3 1zM938 796l3 3-1 0-3 0zM969 736l-1-3-2 3 0 1 2 0zM938 787l1-6 1 0 1 6-2 0zM890 744l-1 3 1 2 1 0 1-2zM1000 795l-3 1 3 3 1-1zM929 814l2-3 1 1 0 3zM995 790l4-1 2 3 0 1-1 1-4 1-1 0zM998 696l1 2-3 1-1-1 2-2zM894 748l2 1-1 3-2-2zM1006 728l1-1 1 0 4 2 0 1-2 1zM1023 821l3-2 0-2-3-1zM991 734l2-1 3 0 1 3-2 1-1 0zM939 820l0 2 2 2 4-3 0-3zM963 771l1-2 0-1-2-1-1 1 0 2zM960 711l0-2 4 1-1 2zM947 721l3 4 1 0 0-3-4-2zM1025 716l1-5 4 1-1 1zM924 787l0-1 3-4 1 2 0 2zM903 803l-1 1-3 2 0-1 0-2 3-1zM1012 751l2-3 1 0 1 2-2 1-1 1zM1023 806l-2 1 4 2 2 0 0-1zM977 723l-1-1-2-3 1-1 3 2-1 2zM959 790l-1 1-3 0 1-4 4 2zM930 735l0-1-1-4 0-1 3 1 1 2-1 1zM923 738l1-3-1 0-1 0 0 3zM1020 758l-1 0-3 1 0 1 2 3 4-5zM907 819l6 0-1-4-2 0zM910 772l-1-3-3-1-1 4 2 2zM917 815l0 1 4-1 0-3-1-1-2 1-2 2zM951 762l0-3 3 4-1 1-1-1zM1008 815l-3 1 1 2 2-1 0-1zM958 712l-3-1-2 2 2 1 2 0zM992 756l2 0-2 4-2-3zM933 790l2 3-2 1-3-1-1-1zM917 714l0 2 3 1 1-2-2-3zM961 816l0-5-5 4-1 1 4 0zM918 801l-1 6 4 1 1-1 0-2-3-4zM885 789l4-2 0 1 1 1-4 2zM891 763l-2 3-2 0-1-1 0-1 3-3zM905 801l1-1-1-2-1 0 0 2 0 1zM923 721l3 0 1-2-1-1-2 0-2 2 0 1zM898 807l0 2-3 1 0-2 2-1zM1032 765l4-4 8 2-6 3zM974 737l3 1 2-1-1-2-3 0zM963 779l0-2 3-1 2 1-1 1zM876 762l-2 2 0 1 3 0 1-1 0-1zM969 699l1 1-4 2 0-3 1-1zM900 695l2-3-4-3 0 2 2 5zM964 800l0 2 2 0 1-4zM938 726l-5 3 2 2 4 0 1-2-2-2zM923 731l3-2 1 0-2 4-1 0zM981 792l2 0 0 3-1 0zM894 814l-1 3-1 1-1-1 0-2zM965 690l-4 0-1 3 3 0 2-2zM895 813l2 1 2-3-4 1zM881 820l-2 2-1-3 1-1zM934 769l1 1 1 0 3-4-1-1-3 1-2 2zM870 757l1-2-2-1-2 2 0 1 2 1zM924 749l2-2-3-1-1 2zM990 717l2-3-2-2-1 1zM970 778l2 4 3-1 1 0-3-4-1 0-1 0-1 0zM1033 786l0-3-2-1-1 1 1 2zM954 707l0 3-2 2-2-2 0-1zM1003 815l-3 2-1-5 3 2zM977 760l-5 0 0 2 2 1 2-1zM1011 777l-2 0-1-4 4 1 0 1zM1012 738l4 1 1-4-1-1-5 2zM889 742l-3-2 0-3 4 0 0 4zM887 751l-4-2 0 4 4-1zM992 743l4-1 0-3-2 0zM941 712l0 2 4 0 0-2-2 0zM1031 713l0-1 1-1 4 2-2 4-3-2zM1020 724l0-4 3-1 1 1-2 4zM1018 710l2 1 1-1-2-2zM967 769l2 1 1-1 0-1-1-1-1 0-1 1zM892 771l-3-2-2 0-1 2 0 1 3 1 3-1zM955 815l-2-1 2-5 0-1 1 2-1 4zM876 756l-1-2 2-1 4 3 0 1zM867 805l-2-2-1-1 1-2 2 2zM991 816l0-1-4 0 0 2 1 0 3 0zM955 705l3 1 2-2-2-4-3 4zM884 733l-3 0-2-4 5 1 0 2zM952 714l2 1 0 1-2 1-1-1zM990 743l-1 2-3 0-1 0-1-1 2-3 1-1zM906 731l-1-1 0-1 1-2 1 0 4 2-1 1zM923 740l-1-1-3 2 4 2 1-2 0-1zM1024 814l0-2 2-1 1 0 1 0 0 1-2 2zM873 748l-1-1-3 1 0 1 3 0zM889 797l4 3-2 1-2-1-1-1zM997 809l1-1-3-4-1 3 2 2zM878 816l-3 0 0 2 0 1 2-1 0-1zM915 709l4 2 0 1-2 1-3-1zM1022 742l-3 0 0 2 4 0zM877 739l-2-2-2 1 3 2zM936 794l-1 0-1 1 0 2 0 1 2 0 0-3zM1013 671l4 4 8-14 36-346-48 351zM933 777l0 2 1 2 2-2 0-1-2-1zM1003 762l-3 5 3 0 1-2zM952 766l1 0 1 2-3 0zM922 790l-2 1-1 1 1 6 3-1 1-6zM935 745l-1 3 2 1 1 0 2-2 0-1zM903 780l-4 1-1-3 3-1 3 2zM1021 772l3 4-1 1-4 0zM883 724l-4 1-1 1 1 1 4 1 1-2zM943 733l2-1 0-2-1-1-3 1 0 2 1 1zM1015 708l2 0 1-1 0-1-1-2-1-1-3 3zM1023 726l1 0 3-2-1-2 0-1-1 0-2 3zM1017 692l6-11 0 7-1 3-4 2zM1019 728l1 4 4-1 0-3-2-1zM925 781l-2-2-1 3 1 2 3-3zM875 794l0 5 3 0-1-3zM892 697l-1 1 2 4 1 0 3-2 0-1-3-2zM933 788l2-1-2-3-1 3zM924 750l0 2 4 1 1-5-1 0-1 0zM988 759l2 5 1-2 1-1 0-1-3-2zM968 746l3 0 0-2-1-1-2 1zM949 769l-3 3 0 1 4 1 1-1zM887 753l-4 1-1 2 0 1 6-1zM986 700l0-1 4 1 0 5 0 1-1-1zM930 819l-2 3 3 4 1-3-1-4zM951 703l1-3 2 4zM1026 720l4-5 0-2-6 4 0 1 1 1zM981 717l-2-2 1-2 3 1zM965 703l-3 0-2-3 0-1 4 1zM966 786l4-2 0 1 0 2-3 0zM1007 789l-1-3-1 2 1 2zM972 743l1 0 0-1-1-2-2 0 0 2zM910 734l1 1 5-2 0-2-4-1zM980 821l3 1 0 11-2 3-3-12zM965 816l1 0 0-1-1-4-2-1 0 1-1 4zM956 769l-1-1 0-2 1-2 1 0 2 3zM923 758l-1-1 1-3 1 0 3 0 0 1-2 2zM909 757l-1-4-3 2 1 2 1 1zM879 814l1-2-3-3-3 2 0 2 1 1 3 0zM983 713l1 0 0-1-1-2-3 0 0 1 0 1zM974 743l1 1 1-2 0-1-2 1zM1005 821l-3 6 0 3 5-7zM945 795l0 2-3 1-2-3 2-2zM1023 749l0-3-3-1 0 1 0 2zM891 726l1 1 4 0 0-4-4 0zM924 739l2-4 3 2 1 0-5 2zM940 726l1-2 2 0 1 2-1 1-2 1zM960 708l4 0 1-3-3-1-2 2zM961 725l2-1 2 0 1 2-1 1-3-1zM964 717l1 0 0 1-3 2-3-1 3-2zM967 746l-1 1-3 0 0-2 2-2 2 1zM1018 711l2 1 0 2-2-1zM933 742l-1-1-1 0-1 1 0 4 2 0 1-3zM1017 820l-2 1-1-2 1-1 1 0zM973 697l1-1 3 2-2 1zM960 788l-4-2 3-3 2 3zM1031 801l0-2 2-2 5 5-1 0-3 0zM1017 696l0 3 5-3 0-2-5 1zM963 723l0-2 2-2 1 1-1 3zM887 800l-3 2 3 2 1-3zM928 812l3-2-2-1-2 0zM1003 755l-1-2 0-1 1-1 2 1 2 2-1 1zM954 727l2 1 0-2-1-1-2 1zM1033 736l-1 2 0 3 1 0 5-4-2-1zM1009 742l1 1 2 1 2-3 0-1-3 0zM903 800l-5-3 3-1 2 1zM954 770l-2 2-2-3 1 0 3 0zM950 801l-1 3 2 2 1-1-1-3zM995 815l-2 0-1-1 1-2 3-1zM897 791l-1 4-3-2 0-3 2 0zM932 770l-3 1-1-2 1-1 1 0 1 1zM955 703l3-4-1-1-4 1zM920 778l1 0-1 3-3 1 0-1 0-2 3-2zM1020 809l-1-1 1-1 4 2-2 2zM1022 705l-2 0-1-2 5-2zM1028 706l4 0-1-4-4-1zM968 804l0 4 3 0 1-2-3-2zM916 816l-2 2-1 0 0-3 0-1 2 1zM938 821l0 1-6 3 1-2 3-3 1 0zM962 801l0 2-1 0-2 0-1-1 1-3 3 0zM997 819l-2-2-2 0 0 1 1 2 2 0zM895 776l-2 2-4-1 0-2 4-2 1 1zM1017 750l1 0 1-1-1-3-2 1zM956 738l-1 1-2 0 0-2 1 0zM911 697l-4 3-2-3 5-4 1 2 0 1zM1051 750l-15 3-1 0-1-4zM897 759l2 0 0-3-2-1 0 3zM947 735l0 1-2-2 1-1zM928 793l-3-1 0 5 2 1 0-1 2-3zM1024 781l0-2 1-1 1 0 1 3 0 1-1 0zM861 772l7 0 2 0 1 5-1 1zM923 705l0-1 3-3 2 0 3 3-1 1-6 0zM937 793l2-4 2 0 0 3-2 1-1 0zM1012 696l3 0 0 4-4-1zM978 730l0 1 0 3-3 0-2-2 0-1 2-2zM911 806l0 2 1 1 2-1 0-1-2-1zM1005 691l4-5 0 4-1 2-1 1zM898 824l-1-3-3 2 4 4zM918 817l3 0 2 2 0 1-2 1zM924 765l2-1 1 3-1 0zM955 715l0 2 2 1 0-3zM1034 775l0-2 0-1-1 0-2 1zM935 715l0-1 4 1 0 1-1 1-3 1-1 0zM884 783l-1 4-2-2zM960 820l0 1-2 0-2-3 0-1 2 0zM960 766l-2-2 2-4 3 2-1 4zM948 755l2 1 1-1-2-4-3 0 0 1 1 2zM1004 734l0-3 4 3-2 2zM920 753l2 1 0 3-3 0-1-2zM900 755l3-1-1-4-5 3zM980 764l-1 1-5-1 0-1 3-1zM1018 726l-2 0 1-5 2 0 0 4zM889 743l-4-2-2 1 0 5 5-1zM924 812l1-3-3-1-1 1 0 2 0 1 3 1zM953 802l1 3 1 0 2-1-1-2-2 0zM980 789l1-3-1-3-2 1 0 3zM1021 756l-2-5 1 0 3 0 1 1-1 4zM957 721l-4 0-1 1 0 2 4 0zM933 770l1 1-1 4-1 0-2 0-1-2zM986 760l2 5 1 0-2-5zM968 726l3 4 1 0 2-1-3-4zM1028 800l0-1-4-1 0 2 1 1 1 1zM977 740l1-1 1-1 3 5-2 0-2-2zM965 787l-1 4 1 1 2-1-1-3zM1000 776l-4 0 0-1 3-2zM981 725l-3 4-2-1 2-4 2 0zM938 710l-2 1 0 2 3 1 0-2zM944 748l-3 0-1 2 1 0 3 0zM1024 740l3 0 1-1-2-2-2 1zM978 772l1 1-1 0-4 2 1-3 1-1zM935 742l3-2 2 3-1 1zM867 790l1-1 0-1-2-2-4 3zM867 748l0-1-1 0 1-1 5-2 0 2zM1029 760l5 0 0 1-3 3-3-1 0-3zM906 802l2 3 1 0 1 0 0-2-3-2zM884 819l2 1 1-2-1-2-3 1zM940 815l0-1 0-1 0-1 4 1 1 1-1 1zM887 701l1-3 1 0 3 4-5 1zM1015 745l-1-1 2-2 1 0 1 2-1 1zM876 785l-2 1-1-1-1-5 0-1 3 0 1 1 1 3zM866 806l0 1-1 2-7-1 3-1zM949 762l-4 1-1 1 2 2 1 0zM882 781l0-1-2 0-2 0 1 3 1 0zM933 818l2 1-3 4 0-5zM868 784l0-2 2-2 2 5-3 1zM917 772l-4 1-2-1 0-4 1-1 2 0zM879 799l-1-3 2-1 1 2 0 3zM1010 694l1 1 4 0-1-1-3-4zM981 774l1 4 1 0 2-2-3-2zM905 737l1-1 2 5-2 0-2-2zM883 815l2 0-1-3-1-1-1 1-1 2zM992 749l2 0 2 2-2 3-2-4zM880 713l-3-4 2-1 4 5zM917 817l0 1 2 4-2 3-1-1-1-4zM979 808l-1 0-1 4 2 1 2-2zM943 777l0-1-2 0-2 2 0 1 1 1 1 0zM1000 736l-1-1-1-2 1-3 4 1-1 2zM949 779l0-4-3-1-1 1 0 2zM957 720l0-1-2-1-1 1 0 1zM962 727l-2 5 1 0 3-2 1-2zM964 772l2-2 2 2 1 3-1 1-2-1-2-2zM866 723l3 0 0-3-2-1-1 2zM961 775l1 1 3-1-2-2zM985 808l2 0 0 2-1 2-2-1zM911 691l1-7 5 8-5 1zM1002 701l2-1 1-2-2 0-1 1zM1004 711l1 1 4 2 0-1-1-4zM884 618l-2 59 5 3 4-9zM1028 739l3 0 0 2-2 0-1 0zM951 734l2 1 1 0 1-2-2-2-2 1zM883 758l0-1 5 0 1 0-1 2-3 0zM1017 816l-2 0-1-1 0-1 1-2 1 0 2 3zM891 716l-4 1-1-3 1-2 6 1zM905 793l-3 1 0 1 1 1 2 0 1-2zM882 699l-3 1-1-2 1-4 3 3zM934 783l0-1 4-2 0 1 0 6-2-1zM848 811l3 0 13 2 1 0-1 2zM999 724l1-1 5 1 0 2 0 1-2 2-4 0-2-4zM908 819l4 0 0 1 2 4-6-4-1 0zM1001 702l-2 4-2-1 0-4 3-1zM918 765l-1 1-3 0-1 0 3-4 2 1 1 2zM919 801l3 3 4-1 1-2 0-2-3-1-4 1zM893 813l0-1-3 0 0 2 1 0zM959 776l-1 2 1 1 0 1 2-1 0-2-1-1zM1011 801l1 0 0-3-2 0-2 1 0 1zM1001 760l-2-1-1-2 2-3 2 2zM1026 734l-1 2-1 1-1-1-2-2 0-1 3-1 1 1zM920 721l0-1-1-3-2 0-1 1 0 2 2 1zM920 711l1 0 2 2-1 2-1 0-1-3zM1026 789l1 0 3-3-2-3-2 1zM929 788l-1-1-4 1 0 1 1 1 3 1zM1016 715l2 5-2 0-1 0-2-2zM944 757l4-1-3-2-2 0-1 2zM900 788l-3-1-1 2 2 2 1-1 1-1zM895 764l-1 6-4-3 2-3zM907 718l-3 1 1-5 1-1 1 1 1 0 0 3zM989 806l4 1 0-4-2-1-1 1zM913 811l0 2 3 0 1-1-2-3zM929 815l3 0 0 1 0 1-1 0-1 0-1-1zM983 805l0-2-3 0 1 2zM1017 768l2-3 4 2 0 1-2 2-3-1zM910 778l2-1 0-3-1-1-4 3 0 1zM906 777l0-1-2-4-2 1-1 1 0 2 3 2zM929 712l0-1-2 1 0 1 0 3 1 1 1-1zM962 786l-3-3 0-2 3-1 2 4 0 1zM965 817l-3-1-2 1 2 4zM882 802l-1-1-2 0-2 4 1 1 3-2zM888 718l3-1 1 1-2 2zM942 759l1-2-1 0-2 0 0 2zM997 708l-1 0-4 0 0 2 2 2 1 0 1 0zM945 704l-3-1 2-2 1 1zM991 751l1-1 2 5-2 0zM950 778l3-2-2-2-1 1zM912 797l1 2-2 2-3-1 0-1 3-2zM1016 753l3 2 1 0-2-3-1 0zM1027 699l4 1 2-2-2-2-5 1zM968 761l-1 0 1 4 1 0 2-3-1-1zM867 750l1 2-2 3-1 0-1-2 2-5 1 1zM989 808l1 1 2 2 2-2-2-1-2-1zM946 799l-3 1 0 1 0 2 2 1 2-1 1-2zM933 815l4-1 0-1-4-1zM912 722l0-2 2-1 1 1-2 2zM968 747l3 3 1 1 2-1-3-3zM956 707l-1 3 3 1 0-1 0-2 0-1zM1014 759l-4 2 0 1 2 1 2-2zM887 805l-4 3-1-4 1-2zM960 756l1 3 2 2 2-1 1-1-4-4zM1024 796l7-2 1 0 0 1-3 3-4-1zM1033 754l1 0 0 4-4-1zM975 770l-1 1-2-2 1-1 1-1 1 2zM1006 704l-5 4 3 1 4-1 1-2-1-1zM864 809l2 2-1 1-14-2 7-1zM1006 793l-1 1-2-1 0-1 2-1 1 0zM1010 734l1-1 1-1 2 2-3 1zM985 754l-2 2-2-1 0-3 3 0 1 1zM912 759l3 2-3 4 0-2zM968 756l4-2 0 1 0 4-1 0-2 0zM912 736l3-2 0 6-2 0zM941 697l-2 1 1 4 0 1 1-1 2-1-1-3zM911 748l-1-3-2 2 1 2zM934 807l-3-3-1 4 2 1zM874 791l-1 1-3-3 0-1 3-1 1 1zM939 820l6-3-6-1-1 3zM888 708l-2-2 2-2 4-1 1 1-2 3zM1024 708l0 1-2 1-3-3 1-1 3 0zM923 724l4 4 1 0 0-1 0-1-1-4-4 1zM1029 729l-1-3-1-1-2 3 0 2 1 1zM922 788l-2 1-3-2 0-1 0-1 3-1 2 3zM907 792l2-2 3 2 0 2 0 1-1 0-4-2zM872 698l1-4 5-1-2 5zM987 802l-1-2-2 1 0 1zM984 751l1-4-1-1-4 4 1 1zM960 726l-2 1-1 2 2 2 1 0 1-4zM989 717l-2 0-1-3 0-1 2 0zM1004 762l1 2 2 0 1-2 0-1-1-1zM898 744l2 1 1-2-1-1-1 0zM1017 728l-1 0-1 0-1 2 0 1 2 1 1 1 1-1 1 0-1-3zM868 792l2 3 3-2-3-3zM893 786l3 0 0 1-1 2-2 0-1-1 0-1zM932 776l-1 3-3 0 2-3zM1056 748l-17-1-1-1 1-1 20-5 13 0 30 2zM1001 692l-4-2 0 4 2 1 2-1zM1004 816l-3 2 4 2 0-1zM992 747l-1-1 1-2 4-1 2 1-4 4zM928 760l-2-2 2-3 2 2 1 0-2 3zM892 785l3-3-2-1-1 1zM881 747l0-4-3-2 0 1-1 1 2 4zM977 749l2 1 5-5-1-1-1 0-2 0-3 3zM1009 734l-5-3 0-1 1-2 5 4zM1034 777l-3 1-1-3 0-1zM1002 738l-1 5 6-1-2-3zM899 807l4-1 0 3-2 1-1-1zM948 741l3 0 1 3-1 0-3-1 0-1zM935 802l-4 0 3-2 2 0 0 1zM995 801l0-5 1 0 4 4zM885 706l2-2-1-3-2 1-1 3zM991 742l-3-4 2-2 3 2zM966 751l3-1-2-2-1 0zM997 719l2-3-2-2-1 1 0 3zM983 703l2 3 3-1-3-4zM903 801l-5 1-2-1 2-3 4 2zM869 702l-2 0-1 1 0 3 1 0 1-1zM933 715l0 3-3-1 1-4zM884 712l1 1 1-2 0-2-1-2-2-1-2 0-1 1zM890 815l-1 0-2 1 1 1 2 0zM884 720l-4-1-2 2 0 3 5-2zM895 777l-1 2 0 1 1 2 2 0 1-1-1-2zM882 704l1-2-1-1-2 0 1 4zM899 792l1 2 0 1-2 1-1-1 1-2zM875 759l-3-2 0-1 2-1 1 2zM941 696l3-3 1 3-3 1zM874 794l-4 2 3 3 1 0zM957 731l-1-2-2 0-1 2 2 1zM1030 695l0-1-5-6-1 5 1 3 0 1zM888 796l-3-1-2 2-1 3 1 1 4-2zM904 784l-1-2-3 0-1 1 2 3 1-1zM932 756l1 0 1 1 3-2-1-3-1 0zM1012 817l1-1 1 1-1 2-1 0zM853 770l9-4 2 1 1 3-5 0zM974 716l-3 1 2 1 1 0 0-1zM922 711l3-1 1 1-1 1-1 0zM843 772l21 7 2-1-8-6-8 0zM879 718l0-3-3 1 0 1 1 2zM943 760l1 1 6-4-2-1-4 1zM958 772l-2-1 0-1 3-2 0 2zM972 767l-2-1 2-3 1 1 1 1-1 1zM945 742l1 1-1 3 0 1-4-1-1-2 1-1 4-2zM945 693l1 0 4 0-1 3-2 0zM900 738l1 2 2-1 0-2-2 0zM905 791l-2-3-1 0 0 2 2 1zM947 744l-1 2 3 1 1-1zM998 722l2-1 1-3-2-1-1 3zM885 783l2 1 2 2-5 2zM977 742l3 2-4 3 0-2zM963 749l2 0 0 3-1 0-2 1zM925 813l1-3 2 3 0 1zM965 716l1 0 1 0 3-4-5-2-1 3zM1000 699l0-1-1-2 3-2 1 3zM934 789l1 3 1 0 2-4-2-1zM915 751l4-2 0 1 0 2-2 2-2 0-1-2zM1052 739l-12-1-4 4 0 1zM1026 803l-1 0-2 2 4 2 0-2zM889 760l-4 0 1 3zM905 803l2 2-3 2 0-2zM1017 780l1-2 1 0 3 0 0 4zM1031 731l3-1 1 4-2 1zM956 753l2 1 2-1 0-3-2-1-2 3zM894 736l-2 1 0 3 1 0 1-3zM1002 787l2 0 1-1-3-2zM877 728l-1 0 0 4 2 2 1-1zM1005 796l-3 2-1-4 1-1 3 2zM978 715l-2 0-1-1 2-2 1-1 0 1zM1023 759l-2 4 4 1 1-1-1-3-1-1zM922 732l-5-2 0 1 0 2 3 1 2-1zM993 727l-1 5-1 0-1-4zM865 728l-8 3 9 1 0-2zM954 818l-5 6 2 6 3-11zM948 719l3 2 1-1 0-2-2-1-1 0zM968 793l1 1-1 2-1 0-1-1 0-1zM894 811l0 1-5-1 0-1 2-3 2 1zM873 710l-3-1-2-2 1-1 3-1 1 1 1 2zM1035 810l2-6-7 6 0 1 2 1zM1017 798l0 2 0 1-3 0 0-3 0-1 1 0zM935 775l3 2 1-3 0-1-2-1-1 0zM955 821l2 3-5 14-1-7zM1010 718l0-1 2 1 2 2-3 2-2-2zM1003 783l-1-1 4-1 1 2-1 1 0 1zM959 738l2 2-2 2-1 0-1-2 1-2zM895 735l-3 1-1-3 3 0 1 1zM972 698l2 1-2 1-1-2zM868 806l2 1 0 2-1 0-1-2zM994 700l1 1 0 3-3 1 0-4zM1011 786l1-1-2-1-2 0 0 1 2 1zM884 772l-4-2-2 2 0 1 4 0zM910 764l1 2-1 1-4 0 0-1 2-4zM881 754l1-1-1-3-1 0-1 2zM950 734l0-2-1 0-2 1 1 2zM983 721l0-1-2-1-2 2 0 1 2 1zM996 694l-2 3-1-2-1-13 4 7zM900 786l-2 0-1-1 1-2zM994 724l-1 1-4 2 0-1-1-3 3-2zM972 696l2-1 0-2-2-1-1 1zM889 795l2-1 1-4-1-1-5 3 0 2zM865 796l-8-3 4-1 5 1 1 2zM967 727l3 3-1 1-1 0-2-1 0-2zM888 732l0-5-1 0-2 3 1 2zM1028 721l6-1 0 1-1 3-2 1-2 0-1-1zM908 785l2-4-1-2-3-1-1 1-1 2 1 3zM963 780l2 3 2-4zM912 708l-4 4-1-1 0-1 2-4zM1009 816l2 0 1 3-2 0-1-1zM923 750l0 2-1 1-2-1 0-3 1 0zM872 822l-3 0-1-1 0-1 2-2 3 2zM949 781l-3 3-4-3 3-3 4 2zM868 696l1 0 0-4-2-1-2 2zM967 719l0-1 0-1 1 0 1 0 2 2-1 2zM986 688l0 7-1 3 0 1-5-3 0-2zM945 788l-2 1 0 2 2 2 1-5zM968 789l3 0 0 1-1 2-2-1zM890 796l2-1 4 1 0 1-1 3-1 0zM890 736l-4 0-1-2 1-1 2 0 1 0 1 0zM994 801l0-4-1 0-1 4zM983 813l2 1 0 1 0 1-4-1 0-1 1-1zM871 765l1 2-1 2-1 1-2 0 0-3 2-3zM896 805l0-2-1-1-2 4 1 0zM920 728l3 1-1 1-4-1 1 0zM931 787l2-3-4 0 0 2 1 1zM907 736l3 5 0 1 3-1-2-5-2-1zM949 703l-1-3 1-2 1 0 1 1-1 3zM896 732l1-3 2 3-1 0zM885 718l-4-1 1-2 2 0 1 0 0 2zM921 764l2-2 2 1-2 1zM1033 769l-1-3 4 1zM880 775l-2 0-2 3 1 0 2 0zM1008 819l1 1-1 1-2-1 1 0zM896 745l-1 1 2 2 2-1 0-1-1-1zM934 695l-2-3-1 1-1 2 3 2zM949 813l2-5-3-3-2 2 1 5 1 1zM960 723l-2-2 1 0 2 0 0 2zM1026 768l3 4 3-2-2-4-3-1-1 2zM925 819l-1 1 3 1 1-3-1-1zM897 820l2 4 3-5-1 0zM941 756l1-2-2-2-2-1 0 4 1 1zM877 738l1-2-3-1 0 1zM965 809l2-1 0-3-1-1-3 0 0 1 1 3zM938 698l0 3-3-1 0-1zM867 805l1 0 3-2 0-1-2 0-1 0zM953 782l5-2-2-2-4 4zM1020 792l-2-1-4 3 0 2 1 0zM978 790l-1-1-3 1 3 2zM996 726l2 3-2 2-3 0 1-5 1 0zM979 694l0 2-2 1-2-2 0-2 1 0zM930 749l2 0 2 1-3 5-2-1-1 0zM981 782l1-1 2 0 4 3-2 2-3-1zM901 712l1 0-3-4-1 0-1 3zM1018 727l2-2 1 0 1 2-3 1zM950 731l2-1 0-2-1-1-1 0-1 2 1 1zM920 764l0-2 2-2 1 1-2 2zM1008 814l-3-4 0 1-1 3 0 1 1 0zM898 706l-1-2 2-2 2 1 1 2-3 2zM954 799l3 1 1-2-1-1-1 0zM933 719l0 2-4 4-1-4 1-2 1 0zM972 723l4-1-2-3-1 1-2 2zM895 815l2 0 0 1-1 2-2-1zM945 766l-1 3-2 0-2-3 3-1zM1013 712l2 3-3 2-2-1 0-1 1-1zM864 720l-9-4 9-1 1 1 1 2zM984 820l1-1 1-1 1 1 0 6-3 6zM985 806l0-2 3-1 1 0-1 3zM866 805l-4 1 3-2zM945 719l1 0 1-2-1-1-4 0zM1035 780l-1 1-2-1 0-1 2-1 1 0zM882 788l0 1-2 0-2-3 1-1 1 1zM899 776l-1 1-2-1 0-1 3 0zM1012 804l-4 1 0-3 4 0zM878 791l-3 1 0 1 2 2 2-1 0-3zM899 815l2-2 1 4-1 0-2-1zM1007 737l2-1 1 1 0 1-2 2-1-2zM973 714l-2-3-1 0-2 5 1 0 4-1zM1029 801l-2 2 1 2 4-2zM1007 722l-1 2 1 2 1 0 2-2 0-1-2-1zM923 715l1 1 2 0-1-2-1 0zM982 790l1-3 3 1 0 2-2 1zM1019 806l1 0 2-1 1-3 0-1-4 1-1 0zM903 750l0-1 1 0 3 2 0 1-3 1zM1002 703l-2 4 5-3-1-2zM919 762l2-3 0-1-2 0-2 2zM904 810l1 1 0 6-2 0-2-6zM912 758l-1 4-3-2 0-1 2-1zM1027 706l-1-6-1 0-2 5 2 2zM926 762l1-1-1-3-3 1 1 2zM891 781l-2 0 0-3 3 1 0 1zM900 768l-1 2 3 2 1-1 2-3-1-1zM963 766l1-4 2 0 1 4-1 1zM1022 814l1-2-3-1 1 3zM998 767l1 1-1 1-4 1-1-2 4-1zM911 781l4 1 0-3-2-1-3 1zM978 781l-3-4 4-2 1 5zM993 821l-4 4-1-6 3-1zM940 807l2-1 2 1 1 4-5-1 0-2zM941 695l-2-3-1-5 6 5zM977 710l-3-1 0-1 1-1 2 1 1 1-1 0zM883 821l2 1 1 3-4 15-3-11 1-5 2-3zM1011 752l-2-4-3 3 3 3 2-1zM872 802l1 2 1 0 0-3 0-1-1 0zM955 755l-2 1-1 1 4 6 1 0 2-4-1-3zM939 760l-1 0-2-1-1-1 3-2 1 1zM888 811l-2 0 1 3 2 0zM1001 788l-1 1 2 3 3-2-1-2zM913 758l3 2 2-3-1-1-3-1-1 2zM935 741l-1-1 2-2 2 1 0 1zM878 801l-1 0-1 0-1 3 1 1zM947 817l0 2 2 2 3-4 0-1-1 0-2-1-1 0zM975 814l1 0 3 0 0 2-1 2-1 2-3-2zM988 735l-3-1-2 3 2 1 2 0zM898 741l2-1-1-2-1 1-1 1zM1018 716l1 3 4-1 0-1-2-2-3 0zM926 809l2-1-2-4-3 1 0 3zM946 748l0 1 3 0-1-1-2-1zM1018 700l0 1 1 1 4-2 0-2zM949 711l-2 2 0 1 1 1 1 0 1-2zM988 728l-3 0-1 3 1 1 4 2 1-1-1-5zM878 823l-1-2-2 0 0 2 2 4zM989 710l0-2-1-1-3 1 0 1 1 2 2 0zM871 732l2-4 1 0-3-1-3 3 0 2 1 1zM964 796l2 1-3 3-1-2 1-2zM901 746l0 1 1 1 1-1 1 0 0-3-2 0zM896 761l-1 1-3 0-1-2 0-2 1 0 3 2zM980 717l1 1-2 2-3-3 3-1zM993 698l-1-2-5-1-1 3 5 1zM932 789l-3 2 1-3 1 0zM889 801l-1 3 2 2 1-4zM967 742l-1-1-1-1 1-1 1 0 2 1 0 2zM979 755l0 1-5-2 0-2 2-1 0-1 2 1 1 1zM946 721l3 4-4 0-1-3 1-1zM934 806l-3-3 3 0zM1014 727l-3-3-2 3 3 2zM867 801l2 0-1-4-2 1 0 2zM866 724l-1 1 1 2 1 1 4-2-2-1zM869 764l-2 1-3-1 1-1 3 0zM882 819l0-2-2-2 0 1-1 1 2 2zM910 809l-3 2 4 3 1-1 0-2zM1015 783l1-2-1 0-2-1-1 3 2 1zM941 734l-1-1-3 3 0 1 2 1 2-1zM1030 779l0 1-1 1-2-4 2-1zM982 738l-2 0 2 4 1 0 1-2zM942 781l-2 0 2 6 4-1 0-2zM1016 780l1-3-4-1-1 2 1 1zM903 740l2 2-1 1-2-1-1-1zM964 792l-2-1 0 3 1 1 1 0 0-2zM986 722l2 0 2-2-1-1-2-1-2 2zM1004 718l2 3 1-1 1-2zM898 817l3 1-4 2-1-2zM960 694l-1 1-1 2 1 1 5 0 1 0-2-4zM1030 730l2 4-4 0-1-2zM972 770l-3 2 1 3 2 0 1-3zM974 713l-3-2 1-2 4 1zM947 767l-1 0-2 2 2 2 2-2zM985 723l-1 3-2-1-1-1 3-3zM891 694l-1 1-1-3 4-11 1 4zM972 701l1 2 1 0 1-1 0-2zM982 727l-3 2 1 1 3 0 0-2 0-1zM933 739l2-2 1-1-3-1-2 2 1 1zM911 701l0-2-4 2 1 2 1 0zM872 713l-5 2-1-1 3-4 3 1zM893 785l3 0 1-2-2 0zM953 744l3 0 1-1-1-2-4-1zM1025 742l-1 0 1 2 2 0 0-2zM935 806l0-2 1-1 2 3zM944 735l2 3 0 1-1 1-2-3 0-2zM925 814l2 0 0 1-2 2zM873 736l0-1-2-1-2 1 0 2 2 0zM972 724l4-1 1 1-2 4-1 0-2-3zM921 769l-2 3 0 1 2 2 2-5zM987 813l1 1 2-1 1-1-2-1zM893 802l1 0-3 4-1-1 2-3zM874 747l3 0-2-4-1 1 0 2zM914 793l4-1 1-2-3-2-3 3zM975 704l0 1 3 2 0-3-2-1zM996 802l4 0 0 1 0 1-1 2-3-3zM953 688l5 6 0 1-7-2zM869 762l-4 0 0-2 1-2 3 1z" fill="#fdfbfe"/></g></g>
<g fill="#fdfbfe" clip-path="url(#c1_5)"><ellipse cx="509.8" cy="373.4" rx="3.0" ry="4.4"/></g>
<rect x="18.0" y="411.4" width="81.0" height="62.0" fill="#fdfbfe"/>
<g clip-path="url(#c2_0)" filter="url(#soft)"><path d="M96.3,406.1Q99.8,407.2,101.4,410.7M101.4,410.7Q100.7,413.1,98.8,414.6M94.9,408.8Q94.4,411.1,95.6,413.2M106.8,451.8Q102.2,454.3,98.0,457.3M106.8,451.8Q102.1,451.9,98.3,449.2M95.4,452.8Q96.7,450.9,98.3,449.2M95.4,452.8Q96.1,454.7,96.7,456.7M96.7,456.7Q97.5,456.7,98.0,457.3M84.6,478.7Q86.9,476.8,87.8,473.9M93.7,477.8Q90.8,476.6,89.8,473.6M87.8,473.9Q88.8,473.6,89.8,473.6M95.4,452.8Q93.0,452.1,90.5,451.5M98.3,449.2Q97.3,447.0,96.6,444.8M90.5,451.5Q91.4,448.5,91.6,445.4M96.6,444.8Q94.0,444.4,91.6,445.4M99.9,417.0Q100.0,415.5,98.8,414.6M99.9,417.0Q99.6,418.1,98.7,418.9M92.3,415.6Q94.1,414.7,95.6,413.2M92.3,415.6Q92.6,417.6,93.8,419.3M93.8,419.3Q96.2,418.5,98.7,418.9M88.5,421.5Q90.6,420.5,92.5,421.9M88.5,421.5Q88.8,419.6,87.3,418.4M92.3,415.6Q91.1,415.6,90.0,415.0M87.3,418.4Q88.3,416.4,90.0,415.0M93.8,419.3Q92.6,420.3,92.5,421.9M82.4,410.6Q84.0,402.3,85.1,393.9M82.4,410.6Q83.5,411.3,84.6,412.1M84.6,412.1Q86.5,412.4,88.2,411.6M85.1,393.9Q88.5,401.8,88.7,410.4M88.7,410.4Q88.3,411.0,88.2,411.6M94.9,408.8Q91.9,410.1,88.7,410.4M90.0,415.0Q88.3,413.8,88.2,411.6M87.3,418.4Q85.6,417.7,83.8,417.7M84.6,412.1Q82.6,414.2,83.2,416.9M83.8,417.7Q83.4,417.4,83.2,416.9M82.4,410.6Q80.3,410.7,78.3,411.5M83.2,416.9Q80.0,416.9,77.1,415.5M93.7,477.8Q96.1,475.7,97.0,472.7M92.7,470.1Q90.8,471.5,89.8,473.6M92.7,470.1Q94.1,469.7,95.5,470.3M95.5,470.3Q95.8,471.8,97.0,472.7M99.4,473.5Q98.3,472.9,97.0,472.7M103.6,461.8Q100.8,463.4,98.8,466.0M103.6,461.8Q101.6,459.1,98.4,458.3M98.4,458.3Q97.8,461.3,96.7,464.1M96.7,464.1Q97.1,465.3,98.1,466.0M98.1,466.0Q98.5,466.1,98.8,466.0M96.7,456.7Q95.0,458.8,92.3,458.9M98.0,457.3Q98.0,457.9,98.4,458.3M92.3,458.9Q92.2,460.9,91.6,462.9M104.2,469.9Q101.4,468.0,98.8,466.0M104.2,469.9Q102.6,472.7,99.4,473.5M95.5,470.3Q97.3,468.4,98.1,466.0M84.6,478.7Q82.1,476.8,80.7,473.9M71.6,501.3Q75.1,488.3,76.0,474.9M80.7,473.9Q78.5,475.1,76.0,474.9M30.5,462.9Q28.1,464.0,25.9,465.4M30.5,462.9Q29.8,460.8,29.6,458.7M23.1,462.2Q24.3,464.0,25.9,465.4M20.2,472.8Q20.2,472.3,20.6,471.8M97.8,442.8Q111.1,445.6,123.7,450.5M92.5,421.9Q93.0,424.2,94.6,425.9M81.7,422.4Q79.1,421.0,76.2,421.2M76.2,421.2Q75.3,424.8,75.0,428.5M82.9,436.1Q82.9,432.6,80.3,430.4M83.8,417.7Q83.6,420.4,81.7,422.4M77.1,415.5Q75.2,416.1,74.3,417.9M74.3,417.9Q75.9,419.2,76.2,421.2M73.5,429.1Q71.7,432.7,73.2,436.5M70.9,428.7Q68.5,431.0,66.9,433.8M66.9,433.8Q67.5,435.5,68.6,437.0M73.2,436.5Q72.2,436.6,71.8,437.5M81.0,438.0Q77.3,436.2,73.2,436.5M81.0,438.0Q82.3,437.4,82.9,436.1M75.0,428.5Q74.4,429.2,73.5,429.1M72.9,443.8Q71.9,440.7,71.8,437.5M72.9,443.8Q73.8,443.7,74.4,444.4M81.0,438.1Q78.5,442.1,74.4,444.4M70.9,428.7Q67.4,426.8,65.3,423.5M65.3,423.5Q62.1,427.6,61.2,432.7M78.3,411.5Q74.5,408.0,73.1,403.0M69.9,417.2Q68.8,415.3,68.7,413.1M68.7,413.1Q70.9,408.1,73.1,403.0M91.6,462.9Q90.7,463.1,90.2,463.9M92.7,470.1Q92.3,467.1,89.6,465.8M90.2,463.9Q89.6,464.8,89.6,465.8M72.2,471.6Q71.3,475.0,68.6,477.3M72.1,471.5Q69.9,470.9,67.5,470.4M67.5,470.4Q66.2,471.9,65.6,473.9M74.4,472.3Q75.9,473.2,76.0,474.9M74.4,472.3Q73.4,471.7,72.2,471.6M65.9,467.4Q67.0,468.8,67.5,470.4M65.9,467.4Q66.8,466.6,67.5,465.6M72.1,471.5Q72.7,468.6,72.0,465.7M67.5,465.6Q69.7,466.1,72.0,465.7M63.5,455.6Q62.6,457.5,61.9,459.5M61.9,459.5Q64.3,460.9,66.9,462.0M66.9,462.0Q67.8,460.7,69.3,460.3M58.0,460.6Q59.4,460.4,60.8,460.3M58.0,460.6Q58.3,463.5,56.3,465.7M60.8,460.3Q62.0,463.8,63.0,467.4M56.3,465.7Q58.4,467.7,60.6,469.5M63.0,467.4Q61.4,468.0,60.6,469.5M60.6,469.5Q60.6,469.5,60.6,469.5M65.9,467.4Q64.4,468.3,63.0,467.4M67.5,465.6Q67.3,463.8,66.9,462.0M62.4,473.9Q60.7,472.0,60.6,469.5M62.4,473.9Q64.0,474.3,65.6,473.9M15.6,434.0Q16.5,435.3,17.1,436.8M17.1,436.8Q14.7,440.0,11.7,442.7M18.4,457.4Q20.5,456.4,21.0,454.1M18.7,451.7Q7.2,454.3,-4.4,456.1M18.7,451.7Q20.1,452.7,21.0,454.1M17.8,464.6Q19.2,463.1,21.1,462.2M17.8,464.6Q7.8,460.7,-2.0,456.7M21.1,462.2Q18.6,460.4,18.4,457.4M23.6,454.1Q24.1,456.6,24.9,459.0M23.6,454.1Q22.3,453.5,21.0,454.1M19.3,447.7Q13.6,445.9,7.8,444.6M98.7,418.9Q98.4,421.8,99.6,424.4M94.6,425.9Q96.3,426.8,97.9,425.9M99.6,424.4Q98.5,424.8,97.9,425.9M61.6,445.7Q62.5,446.0,63.5,445.8M63.5,445.8Q65.9,444.8,67.1,442.4M59.9,442.0Q61.6,440.9,62.1,439.0M62.1,439.0Q64.4,438.6,66.6,439.6M66.6,439.6Q66.9,441.0,67.1,442.4M58.2,450.4Q59.5,447.7,61.6,445.7M53.9,442.7Q55.2,441.6,56.8,441.3M56.8,441.3Q58.3,441.8,59.9,442.0M55.0,449.7Q55.6,450.1,56.0,450.7M63.2,454.5Q61.0,452.1,58.2,450.4M63.2,454.5Q65.6,452.1,67.5,449.4M71.2,444.3Q68.7,444.3,67.1,442.4M71.2,444.3Q69.8,446.9,68.1,449.4M55.6,433.1Q56.1,432.7,56.6,432.4M60.9,432.8Q60.8,436.1,62.1,439.0M68.6,437.0Q68.2,438.8,66.6,439.6M61.2,432.7Q61.1,432.8,60.9,432.8M72.9,443.8Q72.0,444.1,71.2,444.3M55.6,433.1Q54.0,433.6,52.3,433.7M55.6,425.3Q55.5,428.9,56.6,432.4M55.6,425.3Q53.2,425.9,50.7,425.6M50.7,425.6Q50.1,427.7,48.2,428.9M65.3,423.5Q65.5,422.8,65.0,422.3M65.0,422.3Q60.8,424.3,56.1,424.4M48.6,422.1Q50.4,423.4,50.7,425.6M48.6,422.1Q48.8,421.2,49.5,420.5M49.5,420.5Q51.7,419.4,54.2,419.3M56.1,424.4Q54.3,422.2,54.2,419.3M12.1,385.1Q17.4,397.9,22.9,410.5M28.0,410.1Q27.2,410.4,27.1,411.3M27.1,411.3Q24.8,411.8,22.9,410.5M39.4,395.6Q36.8,403.0,33.5,410.2M12.1,385.1Q14.1,399.6,17.3,413.9M22.9,410.5Q20.6,412.1,20.3,414.8M17.3,413.9Q18.5,415.2,20.3,414.8M27.5,413.6Q27.2,415.4,25.7,416.4M25.7,416.4Q23.3,415.9,20.9,415.7M20.3,414.8Q20.4,415.4,20.9,415.7M49.7,448.7Q52.6,447.8,55.0,449.7M49.7,448.7Q49.4,446.8,48.7,445.0M53.9,442.7Q53.2,442.7,52.7,442.3M48.7,445.0Q51.1,444.3,52.7,442.3M62.4,473.9Q58.9,477.0,58.2,481.7M60.6,469.5Q57.8,471.0,55.2,472.7M55.2,472.7Q58.4,476.6,58.2,481.7M42.9,475.2Q42.7,474.1,43.4,473.3M42.9,475.2Q40.6,475.2,38.3,474.7M37.6,470.1Q36.9,470.8,36.9,471.8M37.6,470.1Q39.3,469.4,41.1,469.9M41.1,469.9Q41.9,471.8,43.4,473.3M38.3,474.7Q37.4,473.4,36.9,471.8M42.9,475.2Q45.8,479.3,47.2,484.1M38.3,474.7Q36.1,476.8,35.1,479.7M46.8,470.9Q48.7,471.9,50.0,473.6M50.0,473.6Q51.6,472.4,53.4,471.8M52.6,467.4Q52.3,469.7,53.4,471.8M43.4,473.3Q45.1,472.1,46.8,470.9M42.6,467.3Q44.5,468.2,46.7,467.8M46.7,467.8Q46.8,468.0,47.0,468.1M47.2,484.1Q47.4,478.6,50.0,473.6M52.7,467.1Q52.6,467.3,52.6,467.4M52.7,467.1Q54.8,467.2,56.3,465.7M32.6,463.8Q32.8,465.4,33.2,467.1M32.6,463.8Q35.0,463.6,36.1,461.5M36.7,468.1Q36.6,464.9,39.5,463.2M36.1,461.5Q38.0,462.0,39.5,463.2M36.7,468.1Q36.8,469.3,37.6,470.1M42.6,467.3Q42.0,465.0,40.5,463.2M39.5,463.2Q40.0,463.2,40.5,463.2M87.8,473.9Q87.1,472.1,85.8,470.7M89.6,465.8Q88.2,465.9,87.4,466.9M85.8,470.7Q87.0,469.0,87.4,466.9M80.7,473.9Q81.3,472.3,81.6,470.6M85.8,470.7Q83.7,470.5,81.6,470.6M31.4,468.9Q31.4,471.0,32.3,473.0M31.4,468.9Q28.6,469.0,26.0,467.9M27.2,474.8Q26.0,472.7,24.0,471.3M32.3,473.0Q32.1,473.2,32.1,473.3M36.9,471.8Q34.4,471.6,32.3,473.0M25.9,465.4Q26.0,466.7,26.0,467.9M35.1,479.7Q32.0,477.3,32.1,473.3M89.6,443.9Q88.9,440.1,87.9,436.3M89.6,443.9Q86.2,444.2,83.9,446.8M81.0,438.1Q81.3,442.0,82.5,445.7M83.9,446.8Q83.3,446.2,82.5,445.7M92.3,458.9Q90.5,457.6,89.0,455.9M90.5,451.5Q90.2,451.8,89.8,452.0M89.0,455.9Q89.9,454.1,89.8,452.0M89.8,452.0Q86.6,452.5,84.4,450.3M69.3,460.3Q70.5,461.5,72.1,461.4M72.0,465.7Q72.3,465.6,72.4,465.3M72.4,465.3Q73.4,463.3,72.1,461.4M99.8,431.4Q99.4,434.5,96.9,436.3M98.2,438.0Q97.2,437.4,96.9,436.3M97.9,425.9Q97.5,429.1,99.8,431.4M97.8,442.8Q97.7,440.4,98.2,438.0M65.1,421.8Q61.5,419.4,59.0,415.8M54.2,419.3Q54.2,419.0,54.4,418.8M27.5,413.6Q30.1,415.3,33.1,415.9M33.5,410.2Q34.9,412.0,34.5,414.3M33.1,415.9Q33.8,415.1,34.5,414.3M12.8,416.4Q14.8,419.2,17.6,421.2M27.6,421.0Q27.2,418.4,25.7,416.4M27.2,421.4Q26.1,422.6,24.4,422.2M-2.0,425.9Q7.8,425.5,17.4,422.8M17.4,422.8Q17.4,422.0,17.6,421.2M52.3,433.7Q51.7,434.6,50.9,435.3M48.2,428.9Q46.9,428.8,45.6,428.8M45.6,428.8Q44.9,430.6,43.4,431.8M43.4,431.8Q43.6,433.7,45.1,434.8M52.7,442.3Q50.8,440.8,50.3,438.5M50.9,435.3Q50.5,436.9,50.3,438.5M11.7,442.7Q15.2,441.2,18.9,442.0M18.9,442.0Q20.1,444.3,21.8,446.2M49.7,448.7Q47.5,449.2,46.6,451.3M46.6,451.3Q46.1,452.2,46.4,453.3M46.7,467.8Q45.5,464.6,46.9,461.6M46.9,461.6Q48.6,461.5,50.2,461.0M63.2,454.5Q63.0,455.1,63.5,455.6M53.4,457.8Q53.1,457.2,53.2,456.6M72.4,465.3Q74.1,465.3,75.8,465.5M77.5,468.8Q77.1,467.0,75.8,465.5M87.4,466.9Q85.1,465.3,82.3,465.1M80.7,469.2Q81.4,467.1,82.3,465.1M82.5,445.7Q79.3,446.2,76.3,447.6M82.7,452.0Q80.9,451.5,79.0,451.7M79.0,451.7Q77.3,449.9,76.3,447.6M74.4,444.4Q75.0,446.1,76.2,447.6M76.2,447.6Q76.3,447.6,76.3,447.6M68.1,449.4Q69.6,451.3,71.8,452.4M76.2,447.6Q74.0,449.9,71.8,452.4M69.0,456.4Q70.3,455.0,72.1,454.2M71.8,452.4Q72.0,453.3,72.1,454.2M90.2,463.9Q89.0,461.6,86.5,461.2M89.0,455.9Q88.1,456.9,86.8,457.1M86.5,461.2Q85.8,459.1,86.8,457.1M82.7,452.0Q84.1,453.9,83.1,456.0M86.8,457.1Q85.2,455.8,83.1,456.0M54.3,411.2Q55.5,414.5,59.0,415.1M54.3,411.2Q56.4,406.9,60.0,403.9M60.0,403.9Q62.0,406.9,62.4,410.5M51.2,414.1Q53.6,415.9,54.4,418.8M51.2,414.1Q52.8,412.8,54.0,411.2M54.0,411.2Q54.2,411.2,54.3,411.2M59.0,415.8Q59.1,415.4,59.0,415.1M47.7,404.4Q51.6,407.1,54.0,411.2M39.4,395.6Q38.7,403.4,40.8,410.9M34.5,414.3Q35.5,414.3,36.5,414.4M40.8,410.9Q38.0,411.9,36.5,414.4M32.8,417.5Q33.9,420.4,36.7,421.9M34.0,425.6Q36.3,424.4,36.7,421.9M33.1,415.9Q32.9,416.7,32.8,417.5M17.4,422.8Q17.5,423.3,17.9,423.8M17.9,423.8Q20.0,424.7,22.3,425.3M-2.0,425.9Q7.3,426.1,16.4,428.6M17.9,423.8Q17.1,426.2,16.4,428.6M15.6,434.0Q17.7,432.8,18.0,430.4M45.1,434.8Q43.7,436.2,43.9,438.2M50.3,438.5Q48.8,440.5,46.3,440.3M43.9,438.2Q44.9,439.5,46.3,440.3M48.7,445.0Q47.1,444.7,45.9,443.8M23.6,454.1Q24.7,451.3,27.5,450.3M21.8,446.2Q22.1,446.0,22.5,446.2M18.9,442.0Q20.6,440.4,20.8,438.1M24.8,441.6Q24.9,440.2,23.8,439.4M23.8,439.4Q22.3,438.7,20.8,438.1M20.6,437.7Q20.7,437.9,20.8,438.1M27.2,421.4Q27.7,425.0,28.3,428.6M34.0,425.6Q33.9,426.0,34.0,426.3M28.3,428.6Q31.5,428.3,34.0,426.3M46.0,453.7Q46.8,457.4,44.6,460.5M46.0,453.7Q43.7,454.5,41.3,453.8M41.3,453.8Q40.1,454.5,39.7,456.0M39.7,456.0Q41.4,458.4,43.1,460.8M43.1,460.8Q43.9,460.8,44.6,460.5M46.4,453.3Q46.2,453.4,46.0,453.7M46.9,461.6Q45.9,460.9,44.6,460.5M40.5,463.2Q42.1,462.3,43.1,460.8M81.7,457.4Q81.6,459.9,81.9,462.4M81.7,457.4Q78.6,457.8,76.0,456.3M75.3,458.8Q77.5,460.2,78.2,462.8M75.3,458.8Q76.1,457.7,75.5,456.5M78.2,462.8Q79.9,461.8,81.6,462.8M75.5,456.5Q75.8,456.5,76.0,456.3M81.6,462.8Q81.8,462.7,81.9,462.4M86.5,461.2Q84.4,462.5,81.9,462.4M83.1,456.0Q82.8,457.1,81.7,457.4M79.0,451.7Q77.8,454.2,76.0,456.3M72.1,461.4Q73.4,459.8,75.3,458.8M75.8,465.5Q76.9,464.1,78.2,462.8M43.1,417.4Q43.0,415.3,43.2,413.1M43.1,417.4Q45.5,418.4,47.7,417.0M47.7,417.0Q48.0,415.1,49.6,414.1M47.2,411.5Q47.7,413.4,49.6,414.1M47.7,404.4Q49.1,408.1,47.2,411.5M40.8,410.9Q41.4,412.7,43.2,413.1M49.5,420.5Q48.2,418.9,47.7,417.0M51.2,414.1Q50.4,413.9,49.6,414.1M37.6,421.7Q40.6,422.0,41.7,424.8M37.6,421.7Q38.8,419.7,40.3,417.9M43.0,417.6Q43.2,420.4,44.5,422.9M44.5,422.9Q43.8,423.7,43.4,424.7M43.4,424.7Q42.5,424.4,41.7,424.8M36.5,414.4Q39.1,415.4,40.3,417.9M43.1,417.4Q43.0,417.5,43.0,417.6M45.6,428.8Q44.8,426.6,43.4,424.7M34.4,449.1Q36.0,449.5,36.4,451.0M34.4,449.1Q31.6,448.1,29.0,449.3M31.6,456.1Q33.4,456.2,35.1,456.6M35.1,456.6Q35.2,456.4,35.4,456.4M33.9,442.8Q35.7,443.5,36.7,445.1M33.9,442.8Q31.6,443.9,29.8,445.7M39.8,450.4Q38.3,451.6,36.4,451.0M39.8,450.4Q41.1,451.9,41.3,453.8M39.7,456.0Q37.6,456.7,35.4,456.4M29.8,445.7Q28.4,444.1,28.0,442.0M28.0,442.0Q26.5,441.3,24.8,441.6M29.6,458.7Q30.8,457.5,31.6,456.1M36.1,461.5Q36.8,458.8,35.1,456.6M38.7,444.9Q39.7,444.3,40.3,443.3M38.7,444.9Q40.1,446.9,40.4,449.3M40.3,443.3Q42.6,443.4,44.6,444.5M44.6,444.5Q45.2,446.7,44.0,448.6M44.0,448.6Q42.3,449.5,40.4,449.3M36.7,445.1Q37.7,445.2,38.7,444.9M39.8,450.4Q40.2,449.9,40.4,449.3M39.9,438.9Q41.8,438.1,43.9,438.2M45.9,443.8Q45.3,444.3,44.6,444.5M46.6,451.3Q45.8,449.5,44.0,448.6M22.6,427.0Q24.3,429.5,27.2,429.5M27.2,429.5Q26.9,431.8,25.0,432.9M25.0,432.9Q23.6,434.0,22.0,433.5M19.3,430.5Q20.2,432.4,22.0,433.5M22.3,425.3Q22.5,426.2,22.6,427.0M28.3,428.6Q28.1,429.0,27.8,429.3M27.8,429.3Q27.5,429.4,27.2,429.5M20.6,437.7Q22.0,435.8,22.0,433.5M31.6,433.5Q31.4,435.7,29.6,436.9M33.9,442.8Q34.6,441.4,33.8,440.2M28.0,442.0Q30.1,441.1,30.5,438.8M30.5,438.8Q29.9,437.9,29.6,436.9M31.6,433.5Q32.8,433.3,34.0,433.2M33.8,440.2Q34.8,438.9,36.4,438.2M34.0,433.2Q34.9,435.8,36.4,438.2M43.4,431.8Q41.9,432.5,40.2,432.1M39.9,438.9Q39.6,438.6,39.2,438.3M40.2,432.1Q38.3,435.0,39.2,438.3M39.2,438.3Q37.8,438.3,36.4,438.2M40.2,432.1Q37.5,431.1,34.9,432.2M40.2,432.1Q38.7,430.1,38.9,427.7M34.9,432.2Q35.8,429.2,34.2,426.5M38.9,427.7Q36.3,428.2,34.2,426.5M34.0,433.2Q34.2,432.5,34.9,432.2M41.7,424.8Q39.9,425.9,38.9,427.7M34.0,426.3Q34.1,426.4,34.2,426.5" stroke="#d05ede" stroke-width="0.95" stroke-linecap="round" fill="none"/><g fill="#6a30b0"><circle cx="95.6" cy="413.2" r="0.6"/><circle cx="87.8" cy="473.9" r="0.7"/><circle cx="93.7" cy="477.8" r="0.8"/><circle cx="90.5" cy="451.5" r="0.8"/><circle cx="91.6" cy="445.4" r="0.6"/><circle cx="90.0" cy="415.0" r="0.9"/><circle cx="85.1" cy="393.9" r="0.8"/><circle cx="83.8" cy="417.7" r="0.8"/><circle cx="103.6" cy="461.8" r="0.6"/><circle cx="96.7" cy="464.1" r="0.8"/><circle cx="92.3" cy="458.9" r="0.8"/><circle cx="104.2" cy="469.9" r="0.7"/><circle cx="80.7" cy="473.9" r="0.9"/><circle cx="30.5" cy="462.9" r="0.9"/><circle cx="94.6" cy="425.9" r="0.9"/><circle cx="76.2" cy="421.2" r="0.6"/><circle cx="73.5" cy="429.1" r="0.8"/><circle cx="73.2" cy="436.5" r="0.7"/><circle cx="81.0" cy="438.0" r="0.9"/><circle cx="72.9" cy="443.8" r="0.7"/><circle cx="74.4" cy="444.4" r="0.6"/><circle cx="90.2" cy="463.9" r="0.9"/><circle cx="89.6" cy="465.8" r="0.6"/><circle cx="72.1" cy="471.5" r="0.8"/><circle cx="67.5" cy="470.4" r="0.6"/><circle cx="74.4" cy="472.3" r="0.9"/><circle cx="65.9" cy="467.4" r="0.6"/><circle cx="67.5" cy="465.6" r="0.8"/><circle cx="72.0" cy="465.7" r="0.8"/><circle cx="66.9" cy="462.0" r="0.7"/><circle cx="58.0" cy="460.6" r="0.7"/><circle cx="60.8" cy="460.3" r="0.7"/><circle cx="62.4" cy="473.9" r="0.7"/><circle cx="15.6" cy="434.0" r="0.8"/><circle cx="21.0" cy="454.1" r="0.8"/><circle cx="99.6" cy="424.4" r="0.9"/><circle cx="61.6" cy="445.7" r="0.7"/><circle cx="67.1" cy="442.4" r="0.6"/><circle cx="59.9" cy="442.0" r="0.8"/><circle cx="53.9" cy="442.7" r="0.8"/><circle cx="56.8" cy="441.3" r="0.8"/><circle cx="68.1" cy="449.4" r="0.9"/><circle cx="56.6" cy="432.4" r="0.6"/><circle cx="52.3" cy="433.7" r="0.6"/><circle cx="55.6" cy="425.3" r="0.7"/><circle cx="56.1" cy="424.4" r="0.8"/><circle cx="49.5" cy="420.5" r="0.8"/><circle cx="54.2" cy="419.3" r="0.7"/><circle cx="12.1" cy="385.1" r="0.8"/><circle cx="22.9" cy="410.5" r="0.8"/><circle cx="39.4" cy="395.6" r="0.9"/><circle cx="27.5" cy="413.6" r="0.9"/><circle cx="20.9" cy="415.7" r="0.7"/><circle cx="49.7" cy="448.7" r="0.8"/><circle cx="52.7" cy="442.3" r="0.8"/><circle cx="55.2" cy="472.7" r="0.6"/><circle cx="41.1" cy="469.9" r="0.9"/><circle cx="47.2" cy="484.1" r="0.6"/><circle cx="50.0" cy="473.6" r="0.9"/><circle cx="53.4" cy="471.8" r="0.8"/><circle cx="46.7" cy="467.8" r="0.7"/><circle cx="52.7" cy="467.1" r="0.8"/><circle cx="32.6" cy="463.8" r="0.8"/><circle cx="36.1" cy="461.5" r="0.8"/><circle cx="36.7" cy="468.1" r="0.6"/><circle cx="40.5" cy="463.2" r="0.6"/><circle cx="85.8" cy="470.7" r="0.6"/><circle cx="32.3" cy="473.0" r="0.8"/><circle cx="26.0" cy="467.9" r="0.6"/><circle cx="83.9" cy="446.8" r="0.6"/><circle cx="89.0" cy="455.9" r="0.8"/><circle cx="99.8" cy="431.4" r="0.9"/><circle cx="96.9" cy="436.3" r="0.7"/><circle cx="54.4" cy="418.8" r="0.9"/><circle cx="27.2" cy="421.4" r="0.9"/><circle cx="17.4" cy="422.8" r="0.7"/><circle cx="50.9" cy="435.3" r="0.9"/><circle cx="43.4" cy="431.8" r="0.9"/><circle cx="50.3" cy="438.5" r="0.6"/><circle cx="18.9" cy="442.0" r="0.8"/><circle cx="21.8" cy="446.2" r="0.7"/><circle cx="46.4" cy="453.3" r="0.7"/><circle cx="46.9" cy="461.6" r="0.9"/><circle cx="82.3" cy="465.1" r="0.9"/><circle cx="76.3" cy="447.6" r="0.9"/><circle cx="79.0" cy="451.7" r="0.7"/><circle cx="71.8" cy="452.4" r="0.8"/><circle cx="86.8" cy="457.1" r="0.6"/><circle cx="83.1" cy="456.0" r="0.6"/><circle cx="60.0" cy="403.9" r="0.7"/><circle cx="54.0" cy="411.2" r="0.8"/><circle cx="47.7" cy="404.4" r="0.7"/><circle cx="36.5" cy="414.4" r="0.9"/><circle cx="43.9" cy="438.2" r="0.9"/><circle cx="23.8" cy="439.4" r="0.7"/><circle cx="20.6" cy="437.7" r="0.6"/><circle cx="28.3" cy="428.6" r="0.7"/><circle cx="34.0" cy="426.3" r="0.7"/><circle cx="46.0" cy="453.7" r="0.9"/><circle cx="39.7" cy="456.0" r="0.7"/><circle cx="43.1" cy="460.8" r="0.7"/><circle cx="75.3" cy="458.8" r="0.7"/><circle cx="78.2" cy="462.8" r="0.7"/><circle cx="75.5" cy="456.5" r="0.9"/><circle cx="81.6" cy="462.8" r="0.7"/><circle cx="43.1" cy="417.4" r="0.7"/><circle cx="43.2" cy="413.1" r="0.8"/><circle cx="37.6" cy="421.7" r="0.7"/><circle cx="40.3" cy="417.9" r="0.9"/><circle cx="43.4" cy="424.7" r="0.6"/><circle cx="35.1" cy="456.6" r="0.8"/><circle cx="35.4" cy="456.4" r="0.8"/><circle cx="36.7" cy="445.1" r="0.6"/><circle cx="29.8" cy="445.7" r="0.9"/><circle cx="40.3" cy="443.3" r="0.8"/><circle cx="40.4" cy="449.3" r="0.7"/><circle cx="44.6" cy="444.5" r="0.8"/><circle cx="39.9" cy="438.9" r="0.7"/><circle cx="22.6" cy="427.0" r="0.7"/><circle cx="25.0" cy="432.9" r="0.7"/><circle cx="27.8" cy="429.3" r="0.7"/><circle cx="29.6" cy="436.9" r="0.8"/><circle cx="33.8" cy="440.2" r="0.9"/><circle cx="30.5" cy="438.8" r="0.6"/><circle cx="36.4" cy="438.2" r="0.8"/><circle cx="40.2" cy="432.1" r="0.8"/><circle cx="39.2" cy="438.3" r="0.9"/><circle cx="34.9" cy="432.2" r="0.7"/><circle cx="38.9" cy="427.7" r="0.8"/><circle cx="34.2" cy="426.5" r="0.9"/><circle cx="93.0" cy="451.9" r="0.6"/><circle cx="99.7" cy="415.6" r="0.7"/><circle cx="96.6" cy="419.0" r="0.8"/><circle cx="90.8" cy="415.2" r="0.8"/><circle cx="88.5" cy="411.2" r="0.8"/><circle cx="89.0" cy="413.6" r="0.6"/><circle cx="84.0" cy="414.1" r="0.7"/><circle cx="97.8" cy="473.6" r="0.7"/><circle cx="100.9" cy="463.4" r="0.9"/><circle cx="100.7" cy="459.7" r="0.6"/><circle cx="97.2" cy="464.6" r="0.7"/><circle cx="92.4" cy="460.6" r="0.8"/><circle cx="101.6" cy="471.2" r="0.6"/><circle cx="111.1" cy="446.5" r="0.9"/><circle cx="67.9" cy="425.8" r="0.8"/><circle cx="62.0" cy="463.9" r="0.7"/><circle cx="58.5" cy="467.4" r="0.9"/><circle cx="67.4" cy="464.2" r="0.9"/><circle cx="14.4" cy="440.1" r="0.9"/><circle cx="21.9" cy="454.5" r="0.9"/><circle cx="55.0" cy="450.4" r="0.6"/><circle cx="69.2" cy="443.5" r="0.6"/><circle cx="67.1" cy="437.9" r="0.9"/><circle cx="51.7" cy="419.9" r="0.9"/><circle cx="55.0" cy="421.8" r="0.8"/><circle cx="48.6" cy="472.2" r="0.8"/><circle cx="44.9" cy="472.5" r="0.7"/><circle cx="45.0" cy="467.8" r="0.8"/><circle cx="48.3" cy="479.2" r="0.9"/><circle cx="37.9" cy="465.2" r="0.7"/><circle cx="39.6" cy="463.1" r="0.8"/><circle cx="88.1" cy="466.8" r="0.8"/><circle cx="90.5" cy="457.8" r="0.7"/><circle cx="34.1" cy="412.0" r="0.8"/><circle cx="33.9" cy="415.1" r="0.7"/><circle cx="14.7" cy="419.3" r="0.6"/><circle cx="18.0" cy="422.2" r="0.6"/><circle cx="51.6" cy="440.0" r="0.9"/><circle cx="46.8" cy="452.5" r="0.9"/><circle cx="76.6" cy="467.1" r="0.7"/><circle cx="78.9" cy="446.7" r="0.7"/><circle cx="76.7" cy="447.8" r="0.9"/><circle cx="69.5" cy="451.2" r="0.9"/><circle cx="83.3" cy="453.8" r="0.6"/><circle cx="57.5" cy="407.2" r="0.6"/><circle cx="53.9" cy="410.8" r="0.7"/><circle cx="51.0" cy="407.6" r="0.7"/><circle cx="20.5" cy="424.3" r="0.8"/><circle cx="47.2" cy="444.6" r="0.8"/><circle cx="33.7" cy="426.4" r="0.9"/><circle cx="31.0" cy="427.6" r="0.6"/><circle cx="40.6" cy="454.8" r="0.8"/><circle cx="41.3" cy="458.3" r="0.6"/><circle cx="75.8" cy="456.2" r="0.7"/><circle cx="84.1" cy="462.3" r="0.7"/><circle cx="43.5" cy="423.3" r="0.6"/><circle cx="35.0" cy="456.9" r="0.6"/><circle cx="31.9" cy="444.2" r="0.8"/><circle cx="44.0" cy="446.3" r="0.7"/><circle cx="28.2" cy="428.5" r="0.6"/><circle cx="33.7" cy="441.6" r="0.8"/><circle cx="32.7" cy="433.3" r="0.8"/><circle cx="39.4" cy="438.3" r="0.8"/><circle cx="40.0" cy="430.0" r="0.9"/></g></g>
<rect x="100.7" y="411.4" width="80.8" height="62.0" fill="#fdfbfe"/>
<g clip-path="url(#c2_1)" filter="url(#soft)"><path d="M91.3,471.0Q96.4,470.7,100.8,473.3M108.5,485.7Q105.9,479.6,105.1,473.0M105.1,473.0Q104.3,472.0,103.1,471.7M100.8,473.3Q102.0,472.6,103.1,471.7M191.4,457.2Q185.7,455.4,181.6,451.1M181.6,451.1Q181.6,450.7,181.7,450.4M186.2,447.1Q184.0,448.8,181.7,450.4M128.8,418.7Q125.6,419.3,122.9,417.5M128.8,418.7Q129.8,416.8,129.7,414.8M129.7,414.8Q127.9,414.2,127.2,412.3M127.2,412.3Q125.1,413.6,122.8,414.3M122.9,417.5Q122.9,415.9,122.8,414.3M127.2,412.3Q127.2,405.0,127.7,397.6M126.6,393.7Q123.3,402.8,120.6,412.1M122.8,414.3Q122.0,412.9,120.6,412.1M125.6,426.0Q126.8,426.1,127.4,425.1M125.6,426.0Q123.7,425.9,122.2,424.8M122.2,424.8Q121.7,422.4,120.4,420.3M122.9,417.5Q121.3,418.6,120.4,420.3M127.4,425.1Q128.1,422.6,129.9,420.7M89.6,458.1Q94.8,454.3,101.2,453.8M103.0,459.4Q104.0,458.7,104.1,457.5M101.2,453.8Q103.1,455.3,104.1,457.5M108.7,455.9Q106.5,453.3,105.5,450.0M105.5,450.0Q103.3,449.7,101.7,451.2M98.8,448.6Q100.1,450.1,101.7,451.2M98.3,429.6Q100.1,426.7,102.2,424.0M103.7,434.9Q104.0,434.9,104.2,434.7M93.8,459.5Q98.0,461.0,99.9,464.9M103.0,459.4Q102.9,461.1,103.8,462.7M103.8,462.7Q102.0,464.1,99.9,464.9M91.3,471.0Q94.9,467.7,99.7,467.0M103.1,471.7Q103.3,470.8,103.2,469.9M103.2,469.9Q102.2,467.5,99.7,467.0M99.9,464.9Q100.2,466.0,99.7,467.0M103.2,469.9Q105.6,468.0,107.3,465.5M107.3,465.5Q107.2,465.4,107.2,465.3M110.0,456.2Q109.4,455.9,108.7,455.9M136.6,449.9Q134.7,449.5,132.9,450.1M136.6,449.9Q138.0,451.7,138.0,454.0M138.0,454.0Q135.5,454.3,133.9,456.3M132.9,450.1Q131.7,451.3,130.9,452.8M133.9,456.3Q132.8,454.2,130.9,452.8M130.8,447.1Q128.3,446.4,126.0,447.5M126.0,447.5Q127.5,450.3,128.4,453.3M128.4,453.3Q129.7,453.4,130.9,452.8M114.4,416.9Q116.9,415.4,117.5,412.6M117.5,412.6Q114.5,410.5,114.0,406.9M110.0,411.6Q113.0,410.1,114.0,406.9M114.4,418.6Q114.3,417.8,114.4,416.9M113.0,419.9Q113.7,419.3,114.4,418.6M108.0,411.7Q109.0,411.2,110.0,411.6M107.3,419.2Q106.9,417.1,105.5,415.4M104.3,406.8Q106.8,408.8,108.0,411.7M129.9,420.7Q131.1,421.3,132.4,420.8M132.4,420.8Q134.4,421.8,135.6,423.8M125.8,431.1Q128.0,432.4,130.4,433.3M134.0,428.9Q132.5,431.3,130.4,433.3M163.4,415.8Q163.8,413.5,163.6,411.2M167.0,417.8Q167.7,414.7,170.2,412.7M167.0,417.8Q166.8,417.9,166.6,417.9M166.5,409.4Q164.8,409.9,163.6,411.2M166.5,409.4Q167.8,411.0,169.8,411.6M169.8,411.6Q169.9,412.2,170.2,412.7M113.4,451.7Q113.6,449.6,112.0,448.1M113.4,451.7Q112.5,454.6,110.0,456.2M105.5,450.0Q106.6,448.9,106.6,447.4M106.6,447.4Q109.4,446.7,112.0,448.1M102.7,439.3Q99.5,439.1,97.7,441.6M102.7,439.3Q103.8,441.9,105.6,444.0M105.6,444.0Q105.4,444.3,105.4,444.6M105.4,444.6Q102.3,443.7,100.0,445.9M100.0,445.9Q99.6,443.3,97.7,441.6M98.8,448.6Q99.8,447.4,100.0,445.9M106.6,447.4Q105.3,446.3,105.4,444.6M191.4,457.2Q187.1,458.3,182.7,458.6M182.7,458.6Q183.1,462.0,180.7,464.6M107.3,465.5Q109.9,466.2,111.5,468.6M111.5,468.6Q111.2,470.6,109.7,472.1M111.4,477.0Q111.6,474.2,109.7,472.1M140.5,471.7Q142.8,472.0,144.1,473.8M128.1,459.6Q127.2,457.1,127.5,454.4M124.7,460.4Q122.5,459.1,120.2,457.7M127.5,454.4Q125.5,453.4,123.4,454.1M123.4,454.1Q120.8,455.0,120.2,457.7M128.2,459.6Q128.2,459.6,128.1,459.6M128.2,459.6Q130.5,457.7,133.6,457.6M133.6,457.6Q133.8,457.0,133.9,456.3M128.4,453.3Q127.8,453.8,127.5,454.4M126.0,447.5Q124.9,450.0,122.2,450.4M126.0,447.5Q126.0,447.5,126.0,447.5M122.2,450.4Q123.1,452.1,123.4,454.1M119.7,457.8Q120.0,457.8,120.2,457.7M122.2,450.4Q120.8,449.8,119.2,449.8M128.2,459.6Q128.8,461.7,130.1,463.5M123.3,465.1Q124.1,462.8,124.7,460.4M123.3,465.1Q124.4,466.2,125.5,467.2M125.5,467.2Q127.2,465.4,129.6,465.1M130.1,463.5Q129.9,464.3,129.6,465.1M133.6,457.6Q135.6,458.8,136.0,461.1M136.0,461.1Q135.7,462.1,135.4,463.0M130.1,463.5Q132.8,463.3,135.4,463.0M130.3,476.7Q129.7,474.0,127.5,472.1M130.3,476.7Q132.4,475.0,134.9,473.8M134.9,473.8Q132.7,472.4,132.8,469.8M121.8,481.5Q124.0,476.7,126.1,471.8M126.1,471.8Q126.9,471.7,127.5,472.1M136.5,474.4Q135.8,473.9,134.9,473.8M125.5,467.2Q125.7,469.0,125.4,470.8M125.4,470.8Q125.8,471.2,126.1,471.8M140.5,471.7Q141.3,469.4,139.9,467.4M137.0,466.4Q135.1,468.4,132.8,469.8M102.4,415.1Q101.5,416.7,100.0,417.9M102.4,415.1Q101.1,413.6,100.4,411.7M104.3,406.8Q102.4,409.3,100.4,411.7M135.6,423.8Q136.9,422.6,138.6,422.9M138.6,422.9Q141.1,424.8,143.8,426.5M125.8,447.0Q125.8,447.3,126.0,447.5M130.8,447.1Q131.6,445.6,132.3,444.1M128.1,439.8Q129.5,442.5,132.3,444.1M136.6,449.9Q137.7,449.2,137.8,448.0M132.3,444.1Q133.2,444.3,134.1,443.8M174.9,403.9Q174.9,407.7,176.6,411.1M176.6,411.1Q175.2,412.1,174.8,413.9M176.6,411.1Q178.7,412.1,180.8,411.5M203.3,417.7Q192.3,416.5,181.7,413.6M180.8,411.5Q181.3,412.5,181.7,413.6M179.0,425.4Q179.1,422.6,180.1,420.0M179.0,425.4Q179.0,425.5,178.9,425.6M176.1,417.1Q177.4,417.8,178.9,418.2M176.1,417.1Q174.1,419.4,171.5,420.6M180.1,420.0Q179.6,419.0,178.9,418.2M203.3,417.7Q191.7,418.5,180.1,420.0M181.7,413.6Q181.4,416.6,178.9,418.2M169.7,426.7Q167.0,426.1,164.5,425.1M166.6,417.9Q165.5,420.8,163.7,423.2M163.4,415.8Q161.7,415.7,160.2,416.3M156.9,421.8Q157.2,418.3,160.2,416.3M111.7,438.3Q112.3,433.7,115.1,430.0M105.6,444.0Q108.9,441.8,112.1,439.6M111.7,438.3Q112.0,438.9,112.1,439.6M125.8,431.1Q123.4,432.8,121.8,435.2M121.8,435.2Q118.3,433.1,115.6,430.0M206.3,465.3Q194.6,468.5,182.4,469.6M180.2,464.9Q180.1,465.1,180.1,465.4M182.4,469.6Q180.6,467.9,180.1,465.4M182.7,458.6Q181.4,458.4,180.6,457.4M180.0,453.0Q180.9,455.1,180.6,457.4M166.0,474.2Q167.2,472.5,169.0,471.4M166.0,474.2Q167.4,485.3,166.8,496.6M169.0,471.4Q170.5,473.2,172.1,474.9M162.7,473.0Q163.5,471.2,162.5,469.5M169.0,471.4Q169.0,471.4,169.0,471.4M169.0,471.4Q166.9,469.7,165.2,467.7M165.2,467.7Q163.7,468.3,162.5,469.5M160.2,474.7Q162.2,486.0,166.8,496.6M160.2,474.7Q162.0,474.6,162.7,473.0M160.2,474.7Q158.4,474.8,157.0,473.6M157.0,473.6Q153.7,483.5,150.6,493.5M112.5,468.5Q113.6,471.9,116.8,473.5M112.5,468.5Q113.6,465.2,116.9,464.3M118.6,465.4Q117.8,464.8,116.9,464.3M118.0,473.8Q117.4,473.9,116.8,473.5M111.4,477.0Q114.6,476.1,116.8,473.5M123.3,465.1Q120.9,464.0,118.6,465.4M121.8,481.5Q120.0,477.6,118.0,473.8M135.6,429.6Q137.9,431.4,137.5,434.2M137.5,434.2Q140.1,432.1,143.3,433.0M150.8,433.5Q148.0,434.8,145.0,435.4M143.3,433.0Q143.6,434.5,145.0,435.4M164.5,425.1Q164.1,427.2,162.5,428.7M156.9,421.8Q155.4,422.2,154.1,423.0M162.5,428.7Q159.9,429.0,157.3,428.6M181.7,450.4Q180.2,449.4,179.5,447.8M180.0,453.0Q177.5,452.2,174.9,452.7M174.9,452.7Q174.5,450.5,175.2,448.3M179.5,447.8Q177.4,448.4,175.2,448.3M176.9,441.9Q177.9,442.1,178.8,441.8M176.9,441.9Q175.0,443.9,173.1,445.8M179.5,447.8Q180.9,445.6,180.8,443.1M175.2,448.3Q174.2,447.1,173.1,445.8M178.8,441.8Q180.0,442.0,180.8,443.1M181.5,443.0Q181.1,443.1,180.8,443.1M178.9,425.6Q177.7,427.7,178.5,430.0M178.5,430.0Q185.5,432.6,192.7,434.7M178.8,441.8Q180.5,439.5,179.5,436.9M179.5,436.9Q184.5,434.7,190.0,436.0M172.6,431.0Q172.5,433.9,171.3,436.7M177.8,435.0Q174.9,435.6,172.9,437.8M172.9,437.8Q172.7,437.7,172.4,437.7M169.7,426.7Q169.8,427.9,170.1,429.1M178.5,430.0Q178.1,430.3,177.9,430.7M179.5,436.9Q179.1,435.6,177.8,435.0M176.9,441.9Q175.4,439.4,172.9,437.8M165.1,441.3Q167.4,442.5,169.8,443.5M165.1,441.3Q163.7,442.4,162.5,443.6M170.8,445.5Q170.5,444.4,169.8,443.5M170.8,445.5Q169.5,448.2,167.1,450.1M167.1,450.1Q165.3,449.4,163.5,449.5M158.3,450.6Q157.8,447.4,156.6,444.4M156.6,444.4Q157.8,443.8,158.5,442.5M158.5,442.5Q160.5,443.0,162.5,443.6M173.1,445.8Q171.9,446.3,170.8,445.5M172.4,437.7Q171.0,440.6,169.8,443.5M158.0,413.7Q155.6,412.7,153.2,413.8M158.0,413.7Q159.1,411.5,159.5,409.1M153.2,413.8Q155.2,407.5,156.1,400.9M151.8,414.9Q152.1,418.7,151.6,422.4M160.2,416.3Q158.8,415.2,158.0,413.7M163.6,411.2Q161.8,409.6,159.5,409.1M151.8,414.9Q149.5,414.5,148.5,412.5M147.6,391.3Q146.7,401.9,148.5,412.5M148.5,412.5Q145.6,412.2,143.4,414.2M141.6,408.1Q140.9,411.6,143.4,414.2M114.5,443.5Q113.7,442.4,114.0,441.1M114.5,443.5Q117.1,443.8,118.6,445.9M118.6,445.9Q120.6,445.8,121.7,444.2M122.4,438.0Q122.2,437.9,122.1,437.7M112.0,448.1Q112.6,445.5,114.5,443.5M119.2,449.8Q118.6,447.9,118.6,445.9M121.8,435.2Q121.7,436.5,122.1,437.7M128.0,439.7Q128.1,439.7,128.1,439.8M128.0,439.7Q125.2,438.9,122.4,438.0M130.4,433.3Q130.4,435.1,131.1,436.7M131.1,436.7Q129.2,437.8,128.0,439.7M177.0,472.7Q179.1,471.5,181.2,472.7M177.0,472.7Q176.8,472.9,176.7,473.2M176.7,473.2Q178.7,482.8,180.3,492.4M180.3,492.4Q181.0,483.1,182.2,473.9M182.2,473.9Q181.7,473.2,181.2,472.7M182.4,469.6Q182.2,471.3,181.2,472.7M180.1,465.4Q177.1,466.3,175.8,469.2M175.8,469.2Q177.0,470.7,177.0,472.7M172.8,467.7Q174.2,468.6,175.8,469.2M172.8,467.7Q171.6,470.3,169.0,471.4M170.3,455.3Q171.3,455.5,172.3,455.5M172.3,455.5Q172.9,457.9,175.2,459.0M175.2,461.4Q175.8,460.2,175.2,459.0M165.7,462.6Q164.8,462.0,164.7,460.9M164.6,460.8Q163.3,459.4,161.7,458.4M167.1,450.1Q167.5,453.4,170.3,455.3M174.9,452.7Q174.1,454.6,172.3,455.5M180.6,457.4Q178.0,458.5,175.2,459.0M180.2,464.9Q178.2,462.5,175.2,461.4M165.2,467.7Q166.2,465.2,165.7,462.6M157.0,473.6Q156.5,472.9,156.1,472.2M162.5,469.5Q161.2,468.8,159.7,468.6M156.1,472.2Q158.3,470.8,159.7,468.6M164.6,460.8Q162.0,463.5,158.8,465.3M159.7,468.6Q159.5,466.9,158.8,465.3M150.6,493.5Q151.1,483.9,151.0,474.3M151.0,474.3Q148.8,472.8,146.2,472.5M156.1,472.2Q155.1,471.8,154.1,471.4M151.0,474.3Q152.3,472.5,154.1,471.4M158.8,465.3Q157.3,465.1,155.8,464.6M155.8,464.6Q153.3,466.6,153.4,469.9M154.1,471.4Q153.5,470.8,153.4,469.9M136.0,461.1Q137.0,460.0,138.5,460.0M139.6,455.0Q140.6,457.8,138.5,460.0M161.7,458.4Q159.7,457.7,157.8,458.6M155.8,464.6Q155.7,463.3,154.6,462.8M133.8,437.2Q135.4,439.1,135.6,441.5M133.8,437.2Q135.1,435.9,136.9,435.6M136.9,435.6Q138.9,436.7,139.8,438.8M138.5,441.4Q137.0,441.3,135.6,441.5M131.1,436.7Q132.4,436.9,133.8,437.2M134.1,443.8Q135.3,442.9,135.6,441.5M137.5,434.2Q137.4,435.0,136.9,435.6M144.6,438.1Q145.4,436.8,145.0,435.4M144.6,438.1Q142.2,438.6,139.8,438.8M140.2,444.0Q139.8,442.4,138.5,441.4M140.2,444.0Q141.8,444.3,143.3,443.5M145.2,439.3Q145.2,438.6,144.6,438.1M140.2,444.0Q139.2,445.9,138.2,447.8M137.8,448.0Q138.0,447.9,138.2,447.8M163.9,431.6Q162.1,433.6,160.6,435.8M160.6,435.8Q163.4,436.5,165.0,438.8M167.9,436.2Q166.5,437.5,165.0,438.8M170.1,429.1Q167.5,429.7,166.5,432.1M162.5,428.7Q162.5,430.5,163.9,431.6M171.3,436.7Q169.5,437.4,167.9,436.2M157.7,439.1Q155.4,438.1,152.9,438.1M157.7,439.1Q158.6,437.2,160.3,435.8M160.3,435.8Q157.6,434.7,156.6,432.0M156.6,432.0Q154.8,434.1,152.0,434.2M152.0,434.2Q151.8,436.3,152.9,438.1M156.6,444.4Q155.4,443.8,154.4,444.4M158.5,442.5Q158.1,440.8,157.7,439.1M151.0,440.8Q152.9,442.4,154.4,444.4M160.6,435.8Q160.4,435.8,160.3,435.8M157.3,428.6Q156.3,430.2,156.6,432.0M150.8,433.5Q151.3,434.0,152.0,434.2M145.2,439.3Q147.8,439.2,149.4,441.3M149.4,441.3Q150.1,440.7,151.0,440.8M138.6,422.9Q139.7,421.0,139.1,418.9M148.8,423.7Q145.5,420.0,142.2,416.3M139.1,418.9Q140.9,417.9,142.2,416.3M132.4,420.8Q134.3,419.8,135.2,417.9M139.1,418.9Q137.2,418.1,135.2,417.9M143.4,414.2Q142.5,415.0,142.2,416.2M142.2,416.3Q142.2,416.2,142.2,416.2M149.4,441.3Q149.7,443.8,148.4,446.1M152.0,447.4Q149.9,447.4,148.4,446.1M145.9,447.6Q147.6,447.6,148.4,446.1M137.1,413.2Q136.3,414.6,134.6,414.6M137.1,413.2Q137.6,411.8,137.3,410.4M132.8,407.4Q131.2,410.5,132.3,413.7M132.3,413.7Q133.6,413.8,134.6,414.6M135.2,417.9Q134.0,416.4,134.6,414.6M142.2,416.2Q139.5,415.0,137.1,413.2M129.7,414.8Q130.9,414.0,132.3,413.7M153.4,469.9Q151.0,468.7,148.6,467.3M154.6,462.8Q154.2,462.7,153.8,462.6M153.8,462.6Q150.8,462.7,149.2,465.2M149.2,465.2Q149.4,466.4,148.6,467.3M146.2,472.5Q148.2,470.5,147.7,467.8M147.7,467.8Q148.0,467.3,148.6,467.3M147.7,467.8Q145.3,465.4,141.9,465.9M138.5,460.0Q140.9,460.6,142.8,462.0M157.8,458.6Q156.7,456.8,154.8,455.7M154.8,455.7Q154.0,453.4,155.7,451.6M155.7,451.6Q154.2,451.1,152.8,450.4M149.2,465.2Q148.5,462.9,146.8,461.0M142.8,462.0Q143.8,461.4,144.5,460.6M153.8,462.6Q153.1,459.7,150.6,458.1M146.8,461.0Q148.1,458.7,150.6,458.1M154.8,455.7Q152.9,456.8,150.7,457.4M150.6,458.1Q150.7,457.7,150.7,457.4M142.3,454.7Q143.2,454.9,143.6,455.8M142.3,454.7Q144.2,452.5,144.0,449.6M144.0,449.6Q144.7,449.0,145.5,448.7M145.5,448.7Q147.9,449.9,149.1,452.3M149.1,452.3Q149.3,453.5,148.8,454.6M139.6,455.0Q141.0,455.1,142.3,454.7M144.5,460.6Q142.7,458.4,143.6,455.8M138.2,447.8Q141.4,447.8,144.0,449.6M145.9,447.6Q145.8,448.2,145.5,448.7M152.8,450.4Q151.3,451.9,149.1,452.3" stroke="#d05ede" stroke-width="0.95" stroke-linecap="round" fill="none"/><g fill="#6a30b0"><circle cx="105.1" cy="473.0" r="0.8"/><circle cx="103.1" cy="471.7" r="0.9"/><circle cx="191.4" cy="457.2" r="0.6"/><circle cx="128.8" cy="418.7" r="0.8"/><circle cx="122.9" cy="417.5" r="0.8"/><circle cx="122.8" cy="414.3" r="0.6"/><circle cx="120.6" cy="412.1" r="0.6"/><circle cx="125.6" cy="426.0" r="0.8"/><circle cx="127.4" cy="425.1" r="0.8"/><circle cx="122.2" cy="424.8" r="0.9"/><circle cx="120.4" cy="420.3" r="0.9"/><circle cx="129.9" cy="420.7" r="0.6"/><circle cx="101.2" cy="453.8" r="0.9"/><circle cx="103.0" cy="459.4" r="0.9"/><circle cx="104.1" cy="457.5" r="0.7"/><circle cx="98.8" cy="448.6" r="0.8"/><circle cx="133.9" cy="456.3" r="0.7"/><circle cx="126.0" cy="447.5" r="0.8"/><circle cx="117.5" cy="412.6" r="0.9"/><circle cx="104.3" cy="406.8" r="0.6"/><circle cx="135.6" cy="423.8" r="0.6"/><circle cx="163.6" cy="411.2" r="0.7"/><circle cx="170.2" cy="412.7" r="0.7"/><circle cx="169.8" cy="411.6" r="0.9"/><circle cx="112.0" cy="448.1" r="0.9"/><circle cx="102.7" cy="439.3" r="0.7"/><circle cx="105.6" cy="444.0" r="0.9"/><circle cx="111.5" cy="468.6" r="0.6"/><circle cx="109.7" cy="472.1" r="0.9"/><circle cx="123.4" cy="454.1" r="0.7"/><circle cx="133.6" cy="457.6" r="0.6"/><circle cx="126.0" cy="447.5" r="0.6"/><circle cx="135.4" cy="463.0" r="0.7"/><circle cx="132.8" cy="469.8" r="0.8"/><circle cx="102.4" cy="415.1" r="0.9"/><circle cx="138.6" cy="422.9" r="0.7"/><circle cx="128.1" cy="439.8" r="0.8"/><circle cx="134.1" cy="443.8" r="0.6"/><circle cx="180.8" cy="411.5" r="0.9"/><circle cx="203.3" cy="417.7" r="0.9"/><circle cx="181.7" cy="413.6" r="0.6"/><circle cx="179.0" cy="425.4" r="0.6"/><circle cx="178.9" cy="425.6" r="0.9"/><circle cx="176.1" cy="417.1" r="0.7"/><circle cx="178.9" cy="418.2" r="0.8"/><circle cx="160.2" cy="416.3" r="0.6"/><circle cx="121.8" cy="435.2" r="0.7"/><circle cx="182.4" cy="469.6" r="0.7"/><circle cx="180.2" cy="464.9" r="0.7"/><circle cx="166.0" cy="474.2" r="0.8"/><circle cx="166.8" cy="496.6" r="0.6"/><circle cx="162.7" cy="473.0" r="0.9"/><circle cx="162.5" cy="469.5" r="0.6"/><circle cx="112.5" cy="468.5" r="0.7"/><circle cx="116.9" cy="464.3" r="0.8"/><circle cx="118.6" cy="465.4" r="0.8"/><circle cx="118.0" cy="473.8" r="0.8"/><circle cx="150.8" cy="433.5" r="0.7"/><circle cx="145.0" cy="435.4" r="0.6"/><circle cx="179.5" cy="447.8" r="0.6"/><circle cx="174.9" cy="452.7" r="0.6"/><circle cx="176.9" cy="441.9" r="0.6"/><circle cx="172.9" cy="437.8" r="0.7"/><circle cx="172.4" cy="437.7" r="0.8"/><circle cx="169.8" cy="443.5" r="0.8"/><circle cx="162.5" cy="443.6" r="0.7"/><circle cx="167.1" cy="450.1" r="0.8"/><circle cx="158.5" cy="442.5" r="0.7"/><circle cx="153.2" cy="413.8" r="0.7"/><circle cx="151.8" cy="414.9" r="0.7"/><circle cx="143.4" cy="414.2" r="0.8"/><circle cx="114.5" cy="443.5" r="0.6"/><circle cx="118.6" cy="445.9" r="0.9"/><circle cx="122.4" cy="438.0" r="0.6"/><circle cx="176.7" cy="473.2" r="0.9"/><circle cx="182.2" cy="473.9" r="0.6"/><circle cx="175.8" cy="469.2" r="0.8"/><circle cx="172.8" cy="467.7" r="0.9"/><circle cx="170.3" cy="455.3" r="0.9"/><circle cx="172.3" cy="455.5" r="0.6"/><circle cx="175.2" cy="459.0" r="0.7"/><circle cx="165.7" cy="462.6" r="0.8"/><circle cx="164.6" cy="460.8" r="0.8"/><circle cx="161.7" cy="458.4" r="0.8"/><circle cx="156.1" cy="472.2" r="0.7"/><circle cx="159.7" cy="468.6" r="0.9"/><circle cx="146.2" cy="472.5" r="0.8"/><circle cx="153.4" cy="469.9" r="0.6"/><circle cx="138.5" cy="460.0" r="0.9"/><circle cx="154.6" cy="462.8" r="0.6"/><circle cx="136.9" cy="435.6" r="0.9"/><circle cx="139.8" cy="438.8" r="0.6"/><circle cx="138.5" cy="441.4" r="0.6"/><circle cx="144.6" cy="438.1" r="0.9"/><circle cx="145.2" cy="439.3" r="0.7"/><circle cx="163.9" cy="431.6" r="0.9"/><circle cx="160.6" cy="435.8" r="0.7"/><circle cx="157.7" cy="439.1" r="0.8"/><circle cx="160.3" cy="435.8" r="0.7"/><circle cx="154.4" cy="444.4" r="0.8"/><circle cx="149.4" cy="441.3" r="0.9"/><circle cx="135.2" cy="417.9" r="0.7"/><circle cx="142.2" cy="416.2" r="0.7"/><circle cx="148.4" cy="446.1" r="0.8"/><circle cx="145.9" cy="447.6" r="0.9"/><circle cx="137.1" cy="413.2" r="0.6"/><circle cx="134.6" cy="414.6" r="0.7"/><circle cx="148.6" cy="467.3" r="0.7"/><circle cx="153.8" cy="462.6" r="0.7"/><circle cx="142.8" cy="462.0" r="0.9"/><circle cx="155.7" cy="451.6" r="0.6"/><circle cx="152.8" cy="450.4" r="0.9"/><circle cx="144.5" cy="460.6" r="0.9"/><circle cx="150.6" cy="458.1" r="0.6"/><circle cx="142.3" cy="454.7" r="0.7"/><circle cx="145.5" cy="448.7" r="0.7"/><circle cx="149.1" cy="452.3" r="0.9"/><circle cx="102.4" cy="472.2" r="0.7"/><circle cx="186.9" cy="453.8" r="0.7"/><circle cx="125.1" cy="413.6" r="0.6"/><circle cx="132.6" cy="454.7" r="0.8"/><circle cx="116.2" cy="414.7" r="0.9"/><circle cx="169.6" cy="412.5" r="0.8"/><circle cx="112.4" cy="449.6" r="0.8"/><circle cx="105.8" cy="448.8" r="0.6"/><circle cx="109.0" cy="447.6" r="0.7"/><circle cx="129.3" cy="461.5" r="0.8"/><circle cx="135.7" cy="474.3" r="0.6"/><circle cx="102.2" cy="409.6" r="0.6"/><circle cx="137.3" cy="423.3" r="0.9"/><circle cx="141.3" cy="424.9" r="0.7"/><circle cx="137.2" cy="449.3" r="0.6"/><circle cx="181.4" cy="412.8" r="0.8"/><circle cx="179.3" cy="422.2" r="0.6"/><circle cx="179.3" cy="418.8" r="0.9"/><circle cx="113.1" cy="434.6" r="0.9"/><circle cx="111.8" cy="438.9" r="0.6"/><circle cx="170.6" cy="473.5" r="0.6"/><circle cx="117.6" cy="464.9" r="0.9"/><circle cx="155.4" cy="422.2" r="0.8"/><circle cx="171.5" cy="433.8" r="0.7"/><circle cx="167.2" cy="442.2" r="0.6"/><circle cx="157.3" cy="443.2" r="0.8"/><circle cx="119.4" cy="447.9" r="0.7"/><circle cx="181.8" cy="473.6" r="0.6"/><circle cx="174.6" cy="468.2" r="0.9"/><circle cx="161.0" cy="468.6" r="0.9"/><circle cx="148.2" cy="473.5" r="0.9"/><circle cx="137.7" cy="460.2" r="0.8"/><circle cx="139.5" cy="457.8" r="0.6"/><circle cx="155.4" cy="464.1" r="0.7"/><circle cx="134.4" cy="439.4" r="0.7"/><circle cx="135.0" cy="436.6" r="0.6"/><circle cx="134.6" cy="442.6" r="0.7"/><circle cx="138.0" cy="447.4" r="0.9"/><circle cx="162.6" cy="433.9" r="0.9"/><circle cx="155.3" cy="439.0" r="0.7"/><circle cx="158.4" cy="441.0" r="0.8"/><circle cx="133.7" cy="418.9" r="0.7"/><circle cx="142.1" cy="416.0" r="0.9"/><circle cx="150.6" cy="447.0" r="0.7"/><circle cx="137.5" cy="412.0" r="0.7"/><circle cx="152.6" cy="460.5" r="0.7"/><circle cx="150.8" cy="457.5" r="0.8"/></g></g>
<rect x="185.6" y="411.4" width="80.6" height="62.0" fill="#cc64da"/>
<rect x="185.6" y="411.4" width="80.6" height="62.0" filter="url(#n20)"/>
<rect x="185.6" y="411.4" width="80.6" height="62.0" fill="url(#nuc)"/>
<rect x="185.6" y="411.4" width="80.6" height="62.0" fill="url(#wsp2)" filter="url(#soft)"/>
<rect x="269.2" y="411.4" width="80.8" height="62.0" fill="#c068d8"/>
<rect x="269.2" y="411.4" width="80.8" height="62.0" filter="url(#n21)"/>
<rect x="269.2" y="411.4" width="80.8" height="62.0" fill="url(#nuc)"/>
<rect x="269.2" y="411.4" width="80.8" height="62.0" fill="url(#wsp3)" filter="url(#soft)"/>
<rect x="352.2" y="411.4" width="80.5" height="62.0" fill="#a862d2"/>
<rect x="352.2" y="411.4" width="80.5" height="62.0" filter="url(#n22)"/>
<rect x="352.2" y="411.4" width="80.5" height="62.0" fill="url(#nuc2)"/>
<rect x="352.2" y="411.4" width="80.5" height="62.0" fill="url(#wsp4)" filter="url(#soft)"/>
<rect x="352.2" y="411.4" width="80.5" height="62.0" fill="url(#nuc)"/>
<rect x="434.8" y="411.4" width="80.4" height="62.0" fill="#cc78dc"/>
<rect x="434.8" y="411.4" width="80.4" height="62.0" filter="url(#n23)"/>
<rect x="434.8" y="411.4" width="80.4" height="62.0" fill="url(#nuc2)"/>
<rect x="434.8" y="411.4" width="80.4" height="62.0" fill="url(#wsp5)" filter="url(#soft)"/>
<g fill="#fdfbfe" clip-path="url(#c2_2)" filter="url(#rough)"><ellipse cx="212.0" cy="416.0" rx="6.5" ry="5.0"/><ellipse cx="229.0" cy="428.0" rx="13.0" ry="10.0"/><ellipse cx="240.0" cy="420.0" rx="6.0" ry="5.0"/><ellipse cx="237.0" cy="440.0" rx="8.0" ry="7.0"/><ellipse cx="192.0" cy="425.5" rx="3.5" ry="4.5"/><ellipse cx="206.5" cy="430.0" rx="7.0" ry="7.0"/><ellipse cx="258.0" cy="434.0" rx="4.0" ry="4.0"/><ellipse cx="262.0" cy="423.0" rx="3.5" ry="4.0"/><ellipse cx="188.0" cy="452.0" rx="3.5" ry="12.0"/><ellipse cx="203.0" cy="447.0" rx="5.0" ry="5.0"/><ellipse cx="198.5" cy="455.0" rx="3.5" ry="4.0"/><ellipse cx="217.5" cy="456.0" rx="3.0" ry="3.5"/><ellipse cx="234.5" cy="458.0" rx="11.0" ry="10.0"/><ellipse cx="255.5" cy="451.0" rx="9.0" ry="10.0"/><ellipse cx="201.0" cy="467.5" rx="4.0" ry="3.5"/><ellipse cx="253.0" cy="425.0" rx="1.8" ry="1.8"/></g>
<g fill="url(#wsp)" clip-path="url(#c2_3)" opacity="1"><ellipse cx="277.0" cy="418.0" rx="9.0" ry="7.0"/><ellipse cx="297.0" cy="417.0" rx="4.0" ry="4.0"/><ellipse cx="323.0" cy="418.0" rx="9.0" ry="7.0"/><ellipse cx="338.0" cy="456.0" rx="8.0" ry="6.0"/><ellipse cx="299.0" cy="461.0" rx="5.0" ry="5.0"/><ellipse cx="322.0" cy="443.0" rx="3.0" ry="8.0"/></g>
<g fill="url(#wsp3)" clip-path="url(#c2_3)" opacity="1"><ellipse cx="277.0" cy="418.0" rx="9.0" ry="7.0"/><ellipse cx="323.0" cy="418.0" rx="9.0" ry="7.0"/><ellipse cx="338.0" cy="456.0" rx="8.0" ry="6.0"/></g>
<ellipse cx="300" cy="446" rx="24" ry="17" fill="#8a48c0" opacity="0.4" filter="url(#blur4)" clip-path="url(#c2_3)"/>
<ellipse cx="385" cy="432" rx="20" ry="14" fill="#8a48c0" opacity="0.35" filter="url(#blur4)" clip-path="url(#c2_4)"/>
<g fill="#fdfbfe" filter="url(#rough)" clip-path="url(#c2_3)"><path d="M268,410 L288,410 L288,415 L284,419 L281,425 L276,423 L272,428 L268,430Z"/><path d="M309,410 L337,410 L334,415 L330,421 L326,427 L322,423 L318,417 L312,414Z"/><path d="M336,450 L345,447 L351,452 L351,470 L340,468 L334,460Z" opacity="0.8"/></g>
<g fill="#fdfbfe" clip-path="url(#c2_3)" filter="url(#rough)"><ellipse cx="277.0" cy="417.0" rx="6.0" ry="5.0"/><ellipse cx="297.0" cy="417.0" rx="3.5" ry="3.5"/><ellipse cx="324.0" cy="417.0" rx="7.0" ry="5.0"/><ellipse cx="322.0" cy="443.0" rx="1.8" ry="6.0"/><ellipse cx="341.0" cy="457.0" rx="4.0" ry="5.0"/><ellipse cx="299.0" cy="461.0" rx="3.0" ry="4.0"/><ellipse cx="330.0" cy="428.0" rx="2.5" ry="2.5"/></g>
<g fill="url(#wsp)" clip-path="url(#c2_4)" opacity="1"><ellipse cx="420.0" cy="425.0" rx="11.0" ry="10.0"/><ellipse cx="395.0" cy="467.0" rx="20.0" ry="7.0"/><ellipse cx="375.0" cy="452.0" rx="9.0" ry="5.0"/></g>
<g fill="url(#wsp2)" clip-path="url(#c2_4)" opacity="1"><ellipse cx="420.0" cy="425.0" rx="11.0" ry="10.0"/><ellipse cx="395.0" cy="467.0" rx="20.0" ry="7.0"/><ellipse cx="375.0" cy="452.0" rx="9.0" ry="5.0"/></g>
<g fill="#fdfbfe" clip-path="url(#c2_4)" filter="url(#rough)"><ellipse cx="361.5" cy="432.5" rx="12.0" ry="3.6" transform="rotate(45 361.5 432.5)"/><ellipse cx="354.0" cy="424.0" rx="3.0" ry="5.0"/><ellipse cx="407.0" cy="449.0" rx="4.5" ry="4.0"/><ellipse cx="418.0" cy="425.0" rx="3.5" ry="3.0"/><ellipse cx="360.0" cy="462.0" rx="4.0" ry="2.5"/><ellipse cx="426.0" cy="420.0" rx="2.5" ry="2.5"/></g>
<g fill="#fdfbfe" clip-path="url(#c2_5)" filter="url(#rough)"><ellipse cx="438.8" cy="422.0" rx="3.5" ry="6.5"/><ellipse cx="460.0" cy="417.0" rx="4.0" ry="3.5"/><ellipse cx="474.0" cy="424.5" rx="4.0" ry="3.0"/><ellipse cx="494.5" cy="423.0" rx="5.5" ry="4.0"/><ellipse cx="473.5" cy="437.0" rx="10.0" ry="5.5"/><ellipse cx="499.0" cy="437.5" rx="5.0" ry="6.0"/><ellipse cx="447.0" cy="446.5" rx="5.0" ry="4.0"/><ellipse cx="461.0" cy="450.0" rx="6.0" ry="3.5"/><ellipse cx="489.0" cy="444.5" rx="4.0" ry="3.5"/><ellipse cx="467.5" cy="462.0" rx="7.5" ry="6.0"/><ellipse cx="448.3" cy="466.5" rx="4.7" ry="4.7"/><ellipse cx="436.0" cy="458.0" rx="2.5" ry="5.0"/><ellipse cx="507.0" cy="461.5" rx="4.0" ry="4.0"/><ellipse cx="440.0" cy="434.7" rx="3.5" ry="3.3"/></g>
<ellipse cx="508" cy="428" rx="6" ry="10" fill="#e49ae6" opacity="0.6" filter="url(#blur2)"/>
<path d="M50.1,311.3H64.7V321.4H50.1Z" fill="none" stroke="#f42424" stroke-width="1.3" stroke-dasharray="2.2,1.6"/>
<path d="M50.1,321.4L18.5,345.0" stroke="#f42424" stroke-width="1.2" stroke-dasharray="2.2,2.2"/>
<path d="M64.7,321.4L98.5,345.0" stroke="#f42424" stroke-width="1.2" stroke-dasharray="2.2,2.2"/>
<rect x="88.0" y="339.2" width="7.5" height="4.4" fill="#f4f0f6" opacity="0.85"/>
<rect x="89.5" y="339.7" width="4.0" height="0.8" fill="#222"/>
<rect x="88.5" y="341.2" width="6.5" height="1.6" fill="#333" opacity="0.75"/>
<path d="M135.0,330.0H149.0V339.6H135.0Z" fill="none" stroke="#f42424" stroke-width="1.3" stroke-dasharray="2.2,1.6"/>
<path d="M135.0,339.6L101.2,345.0" stroke="#f42424" stroke-width="1.2" stroke-dasharray="2.2,2.2"/>
<path d="M149.0,339.6L181.0,345.0" stroke="#f42424" stroke-width="1.2" stroke-dasharray="2.2,2.2"/>
<rect x="170.5" y="339.2" width="7.5" height="4.4" fill="#f4f0f6" opacity="0.85"/>
<rect x="172.0" y="339.7" width="4.0" height="0.8" fill="#222"/>
<rect x="171.0" y="341.2" width="6.5" height="1.6" fill="#333" opacity="0.75"/>
<path d="M223.0,309.0H238.0V319.0H223.0Z" fill="none" stroke="#f42424" stroke-width="1.3" stroke-dasharray="2.2,1.6"/>
<path d="M223.0,319.0L186.1,345.0" stroke="#f42424" stroke-width="1.2" stroke-dasharray="2.2,2.2"/>
<path d="M238.0,319.0L265.7,345.0" stroke="#f42424" stroke-width="1.2" stroke-dasharray="2.2,2.2"/>
<rect x="255.2" y="339.2" width="7.5" height="4.4" fill="#f4f0f6" opacity="0.85"/>
<rect x="256.7" y="339.7" width="4.0" height="0.8" fill="#222"/>
<rect x="255.7" y="341.2" width="6.5" height="1.6" fill="#333" opacity="0.75"/>
<path d="M304.0,311.0H319.0V322.0H304.0Z" fill="none" stroke="#f42424" stroke-width="1.3" stroke-dasharray="2.2,1.6"/>
<path d="M304.0,322.0L269.7,345.0" stroke="#f42424" stroke-width="1.2" stroke-dasharray="2.2,2.2"/>
<path d="M319.0,322.0L349.5,345.0" stroke="#f42424" stroke-width="1.2" stroke-dasharray="2.2,2.2"/>
<rect x="339.0" y="339.2" width="7.5" height="4.4" fill="#f4f0f6" opacity="0.85"/>
<rect x="340.5" y="339.7" width="4.0" height="0.8" fill="#222"/>
<rect x="339.5" y="341.2" width="6.5" height="1.6" fill="#333" opacity="0.75"/>
<path d="M387.0,309.0H403.0V320.0H387.0Z" fill="none" stroke="#f42424" stroke-width="1.3" stroke-dasharray="2.2,1.6"/>
<path d="M387.0,320.0L352.7,345.0" stroke="#f42424" stroke-width="1.2" stroke-dasharray="2.2,2.2"/>
<path d="M403.0,320.0L432.2,345.0" stroke="#f42424" stroke-width="1.2" stroke-dasharray="2.2,2.2"/>
<rect x="421.7" y="339.2" width="7.5" height="4.4" fill="#f4f0f6" opacity="0.85"/>
<rect x="423.2" y="339.7" width="4.0" height="0.8" fill="#222"/>
<rect x="422.2" y="341.2" width="6.5" height="1.6" fill="#333" opacity="0.75"/>
<path d="M472.6,317.0H487.0V327.7H472.6Z" fill="none" stroke="#f42424" stroke-width="1.3" stroke-dasharray="2.2,1.6"/>
<path d="M472.6,327.7L435.3,345.0" stroke="#f42424" stroke-width="1.2" stroke-dasharray="2.2,2.2"/>
<path d="M487.0,327.7L514.7,345.0" stroke="#f42424" stroke-width="1.2" stroke-dasharray="2.2,2.2"/>
<rect x="504.2" y="339.2" width="7.5" height="4.4" fill="#f4f0f6" opacity="0.85"/>
<rect x="505.7" y="339.7" width="4.0" height="0.8" fill="#222"/>
<rect x="504.7" y="341.2" width="6.5" height="1.6" fill="#333" opacity="0.75"/>
<path d="M44.5,372.5H63.8V386.7H44.5Z" fill="none" stroke="#f42424" stroke-width="1.3" stroke-dasharray="2.2,1.6"/>
<path d="M44.5,386.7L18.0,407.4" stroke="#f42424" stroke-width="1.2" stroke-dasharray="2.2,2.2"/>
<path d="M63.8,386.7L99.0,409.0" stroke="#f42424" stroke-width="1.2" stroke-dasharray="2.2,2.2"/>
<rect x="89.5" y="403.0" width="7.5" height="4.4" fill="#f4f0f6" opacity="0.85"/>
<rect x="91.0" y="403.5" width="4.0" height="0.8" fill="#222"/>
<rect x="90.0" y="405.0" width="6.5" height="1.6" fill="#333" opacity="0.75"/>
<rect x="89.5" y="465.5" width="7.5" height="4.4" fill="#f4f0f6" opacity="0.85"/>
<rect x="91.0" y="466.0" width="4.0" height="0.8" fill="#222"/>
<rect x="90.0" y="467.5" width="6.5" height="1.6" fill="#333" opacity="0.75"/>
<path d="M146.0,383.2H165.7V398.0H146.0Z" fill="none" stroke="#f42424" stroke-width="1.3" stroke-dasharray="2.2,1.6"/>
<path d="M146.0,398.0L101.4,404.2" stroke="#f42424" stroke-width="1.2" stroke-dasharray="2.2,2.2"/>
<path d="M165.7,398.0L181.2,405.6" stroke="#f42424" stroke-width="1.2" stroke-dasharray="2.2,2.2"/>
<rect x="172.0" y="403.0" width="7.5" height="4.4" fill="#f4f0f6" opacity="0.85"/>
<rect x="173.5" y="403.5" width="4.0" height="0.8" fill="#222"/>
<rect x="172.5" y="405.0" width="6.5" height="1.6" fill="#333" opacity="0.75"/>
<rect x="172.0" y="465.5" width="7.5" height="4.4" fill="#f4f0f6" opacity="0.85"/>
<rect x="173.5" y="466.0" width="4.0" height="0.8" fill="#222"/>
<rect x="172.5" y="467.5" width="6.5" height="1.6" fill="#333" opacity="0.75"/>
<path d="M208.0,359.5H228.0V375.0H208.0Z" fill="none" stroke="#f42424" stroke-width="1.3" stroke-dasharray="2.2,1.6"/>
<path d="M208.0,375.0L188.0,407.0" stroke="#f42424" stroke-width="1.2" stroke-dasharray="2.2,2.2"/>
<path d="M228.0,375.0L259.8,404.0" stroke="#f42424" stroke-width="1.2" stroke-dasharray="2.2,2.2"/>
<rect x="256.7" y="403.0" width="7.5" height="4.4" fill="#f4f0f6" opacity="0.85"/>
<rect x="258.2" y="403.5" width="4.0" height="0.8" fill="#222"/>
<rect x="257.2" y="405.0" width="6.5" height="1.6" fill="#333" opacity="0.75"/>
<rect x="256.7" y="465.5" width="7.5" height="4.4" fill="#f4f0f6" opacity="0.85"/>
<rect x="258.2" y="466.0" width="4.0" height="0.8" fill="#222"/>
<rect x="257.2" y="467.5" width="6.5" height="1.6" fill="#333" opacity="0.75"/>
<path d="M302.2,369.3H321.8V384.2H302.2Z" fill="none" stroke="#f42424" stroke-width="1.3" stroke-dasharray="2.2,1.6"/>
<path d="M302.2,384.2L269.7,407.6" stroke="#f42424" stroke-width="1.2" stroke-dasharray="2.2,2.2"/>
<path d="M321.8,384.2L342.8,402.9" stroke="#f42424" stroke-width="1.2" stroke-dasharray="2.2,2.2"/>
<rect x="340.5" y="403.0" width="7.5" height="4.4" fill="#f4f0f6" opacity="0.85"/>
<rect x="342.0" y="403.5" width="4.0" height="0.8" fill="#222"/>
<rect x="341.0" y="405.0" width="6.5" height="1.6" fill="#333" opacity="0.75"/>
<rect x="340.5" y="465.5" width="7.5" height="4.4" fill="#f4f0f6" opacity="0.85"/>
<rect x="342.0" y="466.0" width="4.0" height="0.8" fill="#222"/>
<rect x="341.0" y="467.5" width="6.5" height="1.6" fill="#333" opacity="0.75"/>
<path d="M381.0,371.0H400.8V386.0H381.0Z" fill="none" stroke="#f42424" stroke-width="1.3" stroke-dasharray="2.2,1.6"/>
<path d="M381.0,386.0L352.0,404.2" stroke="#f42424" stroke-width="1.2" stroke-dasharray="2.2,2.2"/>
<path d="M400.8,386.0L427.8,404.2" stroke="#f42424" stroke-width="1.2" stroke-dasharray="2.2,2.2"/>
<rect x="423.2" y="403.0" width="7.5" height="4.4" fill="#f4f0f6" opacity="0.85"/>
<rect x="424.7" y="403.5" width="4.0" height="0.8" fill="#222"/>
<rect x="423.7" y="405.0" width="6.5" height="1.6" fill="#333" opacity="0.75"/>
<rect x="423.2" y="465.5" width="7.5" height="4.4" fill="#f4f0f6" opacity="0.85"/>
<rect x="424.7" y="466.0" width="4.0" height="0.8" fill="#222"/>
<rect x="423.7" y="467.5" width="6.5" height="1.6" fill="#333" opacity="0.75"/>
<path d="M465.0,385.5H484.5V400.8H465.0Z" fill="none" stroke="#f42424" stroke-width="1.3" stroke-dasharray="2.2,1.6"/>
<path d="M465.0,400.8L438.4,404.2" stroke="#f42424" stroke-width="1.2" stroke-dasharray="2.2,2.2"/>
<path d="M484.5,400.8L514.4,407.6" stroke="#f42424" stroke-width="1.2" stroke-dasharray="2.2,2.2"/>
<rect x="505.7" y="403.0" width="7.5" height="4.4" fill="#f4f0f6" opacity="0.85"/>
<rect x="507.2" y="403.5" width="4.0" height="0.8" fill="#222"/>
<rect x="506.2" y="405.0" width="6.5" height="1.6" fill="#333" opacity="0.75"/>
<rect x="505.7" y="465.5" width="7.5" height="4.4" fill="#f4f0f6" opacity="0.85"/>
<rect x="507.2" y="466.0" width="4.0" height="0.8" fill="#222"/>
<rect x="506.2" y="467.5" width="6.5" height="1.6" fill="#333" opacity="0.75"/>
<text x="2.3" y="21.0" font-size="25.5" font-weight="bold">A</text>
<text x="36.0" y="8.8">Neutrophils transducted with sh-NC/sh-TDRD9</text>
<text x="91.0" y="21.0">via intravenous injection</text>
<text x="67.4" y="33.3">Anti-Ly6G via intravenous injection</text>
<text x="4.4" y="49.9">n=12</text>
<line x1="29.8" y1="55.5" x2="609.6" y2="55.5" stroke="#ececec" stroke-width="1"/>
<line x1="90.4" y1="44.2" x2="90.4" y2="54.5" stroke="#ee2222" stroke-width="1.3"/>
<line x1="300.4" y1="44.2" x2="300.4" y2="54.5" stroke="#ee2222" stroke-width="1.3"/>
<line x1="434.2" y1="44.2" x2="434.2" y2="54.5" stroke="#ee2222" stroke-width="1.3"/>
<text x="66.5" y="70.9">48 h&#160; prior</text>
<text x="276.6" y="14.0">PAO1 via</text>
<text x="270.8" y="26.5">intratracheal</text>
<text x="276.6" y="39.1">instillation</text>
<text x="289.0" y="70.6">0 d</text>
<text x="425.0" y="70.6">3 d</text>
<text x="356.7" y="26.2">Harvested BALF and lung tissues</text>
<text x="543.0" y="74.6">C57BL/6 mice</text>
<rect x="40.1" y="86.9" width="8.4" height="3.3" fill="#cfa2f7" stroke="#555" stroke-width="0.7"/>
<text x="51.4" y="92.5">Control</text>
<rect x="40.1" y="97.6" width="8.4" height="3.3" fill="#f58ef0" stroke="#555" stroke-width="0.7"/>
<text x="51.4" y="101.5">Anti-Ly6G</text>
<rect x="40.1" y="108.2" width="8.4" height="3.3" fill="#96f5ef" stroke="#555" stroke-width="0.7"/>
<text x="51.4" y="111.3">PA</text>
<rect x="40.1" y="118.9" width="8.4" height="3.3" fill="#6262ee" stroke="#555" stroke-width="0.7"/>
<text x="51.4" y="120.4">Anti-Ly6G+PA</text>
<rect x="40.1" y="129.5" width="8.4" height="3.3" fill="#d0628a" stroke="#555" stroke-width="0.7"/>
<text x="51.4" y="132.2">Anti-Ly6G+PA+PMN<tspan font-size="6.3" dy="-3.5" style="stroke-width:0.08px" fill="#333">sh-NC</tspan></text>
<rect x="40.1" y="140.2" width="8.4" height="3.3" fill="#8e6cc6" stroke="#555" stroke-width="0.7"/>
<text x="51.4" y="144.1">Anti-Ly6G+PA+PMN<tspan font-size="6.3" dy="-3.5" style="stroke-width:0.08px" fill="#333">sh-TDRD9</tspan></text>
<rect x="352.4" y="86.9" width="8.4" height="3.3" fill="#cfa2f7" stroke="#555" stroke-width="0.7"/>
<text x="363.7" y="92.5">Control</text>
<rect x="352.4" y="97.6" width="8.4" height="3.3" fill="#f58ef0" stroke="#555" stroke-width="0.7"/>
<text x="363.7" y="101.5">Anti-Ly6G</text>
<rect x="352.4" y="108.2" width="8.4" height="3.3" fill="#96f5ef" stroke="#555" stroke-width="0.7"/>
<text x="363.7" y="111.3">PA</text>
<rect x="352.4" y="118.9" width="8.4" height="3.3" fill="#6262ee" stroke="#555" stroke-width="0.7"/>
<text x="363.7" y="120.4">Anti-Ly6G+PA</text>
<rect x="352.4" y="129.5" width="8.4" height="3.3" fill="#d0628a" stroke="#555" stroke-width="0.7"/>
<text x="363.7" y="132.2">Anti-Ly6G+PA+PMN<tspan font-size="6.3" dy="-3.5" style="stroke-width:0.08px" fill="#333">sh-NC</tspan></text>
<rect x="352.4" y="140.2" width="8.4" height="3.3" fill="#8e6cc6" stroke="#555" stroke-width="0.7"/>
<text x="363.7" y="144.1">Anti-Ly6G+PA+PMN<tspan font-size="6.3" dy="-3.5" style="stroke-width:0.08px" fill="#333">sh-TDRD9</tspan></text>
<rect x="545.2" y="88.6" width="8.4" height="3.3" fill="#cfa2f7" stroke="#555" stroke-width="0.7"/>
<text x="558.0" y="94.7">Control</text>
<rect x="545.2" y="99.2" width="8.4" height="3.3" fill="#f58ef0" stroke="#555" stroke-width="0.7"/>
<text x="558.0" y="103.7">Anti-Ly6G</text>
<rect x="545.2" y="109.9" width="8.4" height="3.3" fill="#96f5ef" stroke="#555" stroke-width="0.7"/>
<text x="558.0" y="113.5">PA</text>
<rect x="545.2" y="120.5" width="8.4" height="3.3" fill="#6262ee" stroke="#555" stroke-width="0.7"/>
<text x="558.0" y="122.6">Anti-Ly6G+PA</text>
<rect x="545.2" y="131.2" width="8.4" height="3.3" fill="#d0628a" stroke="#555" stroke-width="0.7"/>
<text x="558.0" y="134.4">Anti-Ly6G+PA+PMN<tspan font-size="6.3" dy="-3.5" style="stroke-width:0.08px" fill="#333">sh-NC</tspan></text>
<rect x="545.2" y="141.8" width="8.4" height="3.3" fill="#8e6cc6" stroke="#555" stroke-width="0.7"/>
<text x="558.0" y="146.3">Anti-Ly6G+PA+PMN<tspan font-size="6.3" dy="-3.5" style="stroke-width:0.08px" fill="#333">sh-TDRD9</tspan></text>
<text x="2.6" y="107.4" font-size="25.5" font-weight="bold">B</text>
<line x1="46.1" y1="151.2" x2="46.1" y2="235.3" stroke="#7c7c7c" stroke-width="1.5"/>
<line x1="45.4" y1="235.3" x2="171.5" y2="235.3" stroke="#4c4c4c" stroke-width="1.2"/>
<line x1="42.4" y1="152.0" x2="45.6" y2="152.0" stroke="#6a6a6a" stroke-width="1.0"/>
<text x="41.0" y="155.0" text-anchor="end">30</text>
<line x1="42.4" y1="179.6" x2="45.6" y2="179.6" stroke="#6a6a6a" stroke-width="1.0"/>
<text x="41.0" y="182.6" text-anchor="end">25</text>
<line x1="42.4" y1="207.2" x2="45.6" y2="207.2" stroke="#6a6a6a" stroke-width="1.0"/>
<text x="41.0" y="210.2" text-anchor="end">20</text>
<line x1="42.4" y1="234.8" x2="45.6" y2="234.8" stroke="#6a6a6a" stroke-width="1.0"/>
<text x="41.0" y="237.8" text-anchor="end">15</text>
<line x1="61.1" y1="235.8" x2="61.1" y2="238.8" stroke="#6a6a6a" stroke-width="1.0"/>
<line x1="92.8" y1="235.8" x2="92.8" y2="238.8" stroke="#6a6a6a" stroke-width="1.0"/>
<line x1="124.6" y1="235.8" x2="124.6" y2="238.8" stroke="#6a6a6a" stroke-width="1.0"/>
<line x1="156.4" y1="235.8" x2="156.4" y2="238.8" stroke="#6a6a6a" stroke-width="1.0"/>
<text transform="translate(19.2,194.5) rotate(-90)" text-anchor="middle" font-size="10.6">Weight (g)</text>
<text x="41.4" y="247.7">before</text>
<text x="47.0" y="260.9">48 h</text>
<text x="76.5" y="247.7">0 d</text>
<text x="96.0" y="247.7" word-spacing="1.3">PA 1 d</text>
<text x="134.5" y="247.7" word-spacing="1.3">PA 3 d</text>
<path d="M49.33,187.30 49.33,187.78 49.33,188.26 49.33,188.74 49.33,189.22 49.34,189.70 49.49,190.18 49.66,190.66 49.86,191.14 50.07,191.62 50.26,192.10 50.42,192.58 50.53,193.06 50.57,193.54 50.55,194.02 50.45,194.50 50.30,194.98 50.12,195.46 49.91,195.94 49.71,196.42 49.53,196.90 49.37,197.38 49.33,197.86 49.33,198.34 49.33,198.82 49.33,199.30 49.33,199.78 49.33,200.26 49.33,200.74 49.33,201.22 49.33,201.70 48.62,201.70 48.62,201.22 48.62,200.74 48.62,200.26 48.62,199.78 48.62,199.30 48.62,198.82 48.62,198.34 48.62,197.86 48.58,197.38 48.42,196.90 48.24,196.42 48.04,195.94 47.83,195.46 47.65,194.98 47.50,194.50 47.40,194.02 47.38,193.54 47.42,193.06 47.53,192.58 47.69,192.10 47.88,191.62 48.09,191.14 48.29,190.66 48.46,190.18 48.61,189.70 48.62,189.22 48.62,188.74 48.62,188.26 48.62,187.78 48.62,187.30Z" fill="#b65ee6" stroke="#707070" stroke-width="0.5" stroke-linejoin="round"/>
<circle cx="49.39" cy="196.67" r="0.7" fill="#d9a8f5"/>
<circle cx="48.88" cy="192.47" r="0.7" fill="#d9a8f5"/>
<circle cx="48.99" cy="193.70" r="0.7" fill="#d9a8f5"/>
<circle cx="49.32" cy="192.85" r="0.7" fill="#d9a8f5"/>
<path d="M54.18,190.00 54.18,190.57 54.18,191.13 54.19,191.70 54.34,192.27 54.51,192.83 54.71,193.40 54.92,193.97 55.11,194.53 55.27,195.10 55.38,195.67 55.42,196.23 55.40,196.80 55.30,197.37 55.15,197.93 54.96,198.50 54.76,199.07 54.56,199.63 54.38,200.20 54.22,200.77 54.18,201.33 54.18,201.90 54.18,202.47 54.18,203.03 54.18,203.60 54.18,204.17 54.18,204.73 54.18,205.30 54.18,205.87 54.18,206.43 54.18,207.00 53.48,207.00 53.48,206.43 53.48,205.87 53.48,205.30 53.48,204.73 53.48,204.17 53.48,203.60 53.48,203.03 53.48,202.47 53.48,201.90 53.48,201.33 53.43,200.77 53.27,200.20 53.09,199.63 52.89,199.07 52.69,198.50 52.50,197.93 52.35,197.37 52.25,196.80 52.23,196.23 52.27,195.67 52.38,195.10 52.54,194.53 52.73,193.97 52.94,193.40 53.14,192.83 53.31,192.27 53.46,191.70 53.48,191.13 53.48,190.57 53.48,190.00Z" fill="#e642e6" stroke="#707070" stroke-width="0.5" stroke-linejoin="round"/>
<circle cx="53.39" cy="202.32" r="0.7" fill="#f08cf0"/>
<circle cx="54.14" cy="195.81" r="0.7" fill="#f08cf0"/>
<circle cx="53.82" cy="197.94" r="0.7" fill="#f08cf0"/>
<circle cx="54.01" cy="201.68" r="0.7" fill="#f08cf0"/>
<path d="M59.03,188.20 59.03,188.83 59.03,189.45 59.03,190.08 59.03,190.71 59.03,191.33 59.03,191.96 59.15,192.59 59.32,193.21 59.51,193.84 59.72,194.47 59.92,195.09 60.09,195.72 60.21,196.35 60.27,196.97 60.26,197.60 60.18,198.23 60.04,198.85 59.86,199.48 59.66,200.11 59.46,200.73 59.27,201.36 59.11,201.99 59.03,202.61 59.03,203.24 59.03,203.87 59.03,204.49 59.03,205.12 59.03,205.75 59.03,206.37 59.03,207.00 58.33,207.00 58.33,206.37 58.33,205.75 58.33,205.12 58.33,204.49 58.33,203.87 58.33,203.24 58.33,202.61 58.24,201.99 58.08,201.36 57.89,200.73 57.69,200.11 57.49,199.48 57.31,198.85 57.17,198.23 57.09,197.60 57.08,196.97 57.14,196.35 57.26,195.72 57.43,195.09 57.63,194.47 57.84,193.84 58.03,193.21 58.20,192.59 58.33,191.96 58.33,191.33 58.33,190.71 58.33,190.08 58.33,189.45 58.33,188.83 58.33,188.20Z" fill="#78f0f0" stroke="#707070" stroke-width="0.5" stroke-linejoin="round"/>
<circle cx="59.22" cy="203.33" r="0.7" fill="#c8fafa"/>
<circle cx="58.14" cy="192.29" r="0.7" fill="#c8fafa"/>
<circle cx="59.08" cy="200.62" r="0.7" fill="#c8fafa"/>
<circle cx="58.88" cy="195.14" r="0.7" fill="#c8fafa"/>
<path d="M63.88,190.00 63.88,190.60 63.90,191.20 64.06,191.80 64.24,192.40 64.44,193.00 64.64,193.60 64.83,194.20 64.99,194.80 65.09,195.40 65.12,196.00 65.09,196.60 64.99,197.20 64.83,197.80 64.64,198.40 64.44,199.00 64.24,199.60 64.06,200.20 63.90,200.80 63.88,201.40 63.88,202.00 63.88,202.60 63.88,203.20 63.88,203.80 63.88,204.40 63.88,205.00 63.88,205.60 63.88,206.20 63.88,206.80 63.88,207.40 63.88,208.00 63.17,208.00 63.17,207.40 63.17,206.80 63.17,206.20 63.17,205.60 63.17,205.00 63.17,204.40 63.17,203.80 63.17,203.20 63.17,202.60 63.17,202.00 63.17,201.40 63.15,200.80 62.99,200.20 62.81,199.60 62.61,199.00 62.41,198.40 62.22,197.80 62.06,197.20 61.96,196.60 61.92,196.00 61.96,195.40 62.06,194.80 62.22,194.20 62.41,193.60 62.61,193.00 62.81,192.40 62.99,191.80 63.15,191.20 63.17,190.60 63.17,190.00Z" fill="#3a3ae6" stroke="#707070" stroke-width="0.5" stroke-linejoin="round"/>
<circle cx="63.21" cy="199.53" r="0.7" fill="#7a7af5"/>
<circle cx="63.37" cy="200.25" r="0.7" fill="#7a7af5"/>
<circle cx="63.68" cy="193.79" r="0.7" fill="#7a7af5"/>
<circle cx="62.94" cy="203.05" r="0.7" fill="#7a7af5"/>
<path d="M68.72,191.80 68.94,192.34 69.13,192.88 69.33,193.42 69.54,193.96 69.72,194.50 69.87,195.04 69.95,195.58 69.97,196.12 69.92,196.66 69.81,197.20 69.64,197.74 69.45,198.28 69.24,198.82 69.04,199.36 68.87,199.90 68.72,200.44 68.72,200.98 68.72,201.52 68.72,202.06 68.72,202.60 68.72,203.14 68.72,203.68 68.72,204.22 68.72,204.76 68.72,205.30 68.72,205.84 68.72,206.38 68.72,206.92 68.72,207.46 68.72,208.00 68.03,208.00 68.03,207.46 68.03,206.92 68.03,206.38 68.03,205.84 68.03,205.30 68.03,204.76 68.03,204.22 68.03,203.68 68.03,203.14 68.03,202.60 68.03,202.06 68.03,201.52 68.03,200.98 68.03,200.44 67.88,199.90 67.71,199.36 67.51,198.82 67.30,198.28 67.11,197.74 66.94,197.20 66.83,196.66 66.78,196.12 66.80,195.58 66.88,195.04 67.03,194.50 67.21,193.96 67.42,193.42 67.62,192.88 67.81,192.34 68.03,191.80Z" fill="#c02858" stroke="#707070" stroke-width="0.5" stroke-linejoin="round"/>
<circle cx="68.06" cy="195.85" r="0.7" fill="#e07090"/>
<circle cx="68.25" cy="196.38" r="0.7" fill="#e07090"/>
<circle cx="67.85" cy="198.90" r="0.7" fill="#e07090"/>
<circle cx="68.88" cy="202.96" r="0.7" fill="#e07090"/>
<path d="M73.57,186.40 73.57,186.94 73.57,187.48 73.57,188.02 73.57,188.56 73.57,189.10 73.57,189.64 73.60,190.18 73.76,190.72 73.94,191.26 74.14,191.80 74.34,192.34 74.53,192.88 74.69,193.42 74.79,193.96 74.82,194.50 74.79,195.04 74.69,195.58 74.53,196.12 74.34,196.66 74.14,197.20 73.94,197.74 73.76,198.28 73.60,198.82 73.57,199.36 73.57,199.90 73.57,200.44 73.57,200.98 73.57,201.52 73.57,202.06 73.57,202.60 72.88,202.60 72.88,202.06 72.88,201.52 72.88,200.98 72.88,200.44 72.88,199.90 72.88,199.36 72.85,198.82 72.69,198.28 72.51,197.74 72.31,197.20 72.11,196.66 71.92,196.12 71.76,195.58 71.66,195.04 71.62,194.50 71.66,193.96 71.76,193.42 71.92,192.88 72.11,192.34 72.31,191.80 72.51,191.26 72.69,190.72 72.85,190.18 72.88,189.64 72.88,189.10 72.88,188.56 72.88,188.02 72.88,187.48 72.88,186.94 72.88,186.40Z" fill="#5a2aa8" stroke="#707070" stroke-width="0.5" stroke-linejoin="round"/>
<circle cx="73.37" cy="196.97" r="0.7" fill="#9a70d0"/>
<circle cx="73.58" cy="199.01" r="0.7" fill="#9a70d0"/>
<circle cx="73.51" cy="198.81" r="0.7" fill="#9a70d0"/>
<circle cx="72.66" cy="194.15" r="0.7" fill="#9a70d0"/>
<path d="M81.02,187.30 81.02,187.69 81.02,188.08 81.02,188.47 81.02,188.86 81.02,189.25 81.08,189.64 81.23,190.03 81.42,190.42 81.62,190.81 81.82,191.20 82.01,191.59 82.16,191.98 82.25,192.37 82.27,192.76 82.23,193.15 82.12,193.54 81.95,193.93 81.76,194.32 81.56,194.71 81.36,195.10 81.18,195.49 81.03,195.88 81.02,196.27 81.02,196.66 81.02,197.05 81.02,197.44 81.02,197.83 81.02,198.22 81.02,198.61 81.02,199.00 80.33,199.00 80.33,198.61 80.33,198.22 80.33,197.83 80.33,197.44 80.33,197.05 80.33,196.66 80.33,196.27 80.32,195.88 80.17,195.49 79.99,195.10 79.79,194.71 79.59,194.32 79.40,193.93 79.23,193.54 79.12,193.15 79.08,192.76 79.10,192.37 79.19,191.98 79.34,191.59 79.53,191.20 79.73,190.81 79.93,190.42 80.12,190.03 80.27,189.64 80.33,189.25 80.33,188.86 80.33,188.47 80.33,188.08 80.33,187.69 80.33,187.30Z" fill="#b65ee6" stroke="#707070" stroke-width="0.5" stroke-linejoin="round"/>
<circle cx="80.76" cy="192.74" r="0.7" fill="#d9a8f5"/>
<circle cx="80.77" cy="191.47" r="0.7" fill="#d9a8f5"/>
<circle cx="81.05" cy="194.99" r="0.7" fill="#d9a8f5"/>
<circle cx="80.86" cy="191.21" r="0.7" fill="#d9a8f5"/>
<path d="M85.87,183.70 85.87,184.51 85.87,185.32 85.87,186.13 85.87,186.94 86.02,187.75 86.19,188.56 86.39,189.37 86.60,190.18 86.79,190.99 86.96,191.80 87.07,192.61 87.12,193.42 87.10,194.23 87.02,195.04 86.87,195.85 86.69,196.66 86.48,197.47 86.28,198.28 86.09,199.09 85.94,199.90 85.87,200.71 85.87,201.52 85.87,202.33 85.87,203.14 85.87,203.95 85.87,204.76 85.87,205.57 85.87,206.38 85.87,207.19 85.87,208.00 85.17,208.00 85.17,207.19 85.17,206.38 85.17,205.57 85.17,204.76 85.17,203.95 85.17,203.14 85.17,202.33 85.17,201.52 85.17,200.71 85.11,199.90 84.96,199.09 84.77,198.28 84.57,197.47 84.36,196.66 84.18,195.85 84.03,195.04 83.95,194.23 83.93,193.42 83.98,192.61 84.09,191.80 84.26,190.99 84.45,190.18 84.66,189.37 84.86,188.56 85.03,187.75 85.17,186.94 85.17,186.13 85.17,185.32 85.17,184.51 85.17,183.70Z" fill="#e642e6" stroke="#707070" stroke-width="0.5" stroke-linejoin="round"/>
<circle cx="85.47" cy="196.94" r="0.7" fill="#f08cf0"/>
<circle cx="86.03" cy="195.22" r="0.7" fill="#f08cf0"/>
<circle cx="85.53" cy="197.45" r="0.7" fill="#f08cf0"/>
<circle cx="85.15" cy="196.07" r="0.7" fill="#f08cf0"/>
<path d="M90.72,185.50 90.72,186.16 90.72,186.82 90.72,187.48 90.72,188.14 90.72,188.80 90.81,189.46 90.97,190.12 91.16,190.78 91.36,191.44 91.56,192.10 91.74,192.76 91.88,193.42 91.96,194.08 91.97,194.74 91.91,195.40 91.79,196.06 91.62,196.72 91.42,197.38 91.21,198.04 91.02,198.70 90.85,199.36 90.72,200.02 90.72,200.68 90.72,201.34 90.72,202.00 90.72,202.66 90.72,203.32 90.72,203.98 90.72,204.64 90.72,205.30 90.03,205.30 90.03,204.64 90.03,203.98 90.03,203.32 90.03,202.66 90.03,202.00 90.03,201.34 90.03,200.68 90.03,200.02 89.90,199.36 89.73,198.70 89.54,198.04 89.33,197.38 89.13,196.72 88.96,196.06 88.84,195.40 88.78,194.74 88.79,194.08 88.87,193.42 89.01,192.76 89.19,192.10 89.39,191.44 89.59,190.78 89.78,190.12 89.94,189.46 90.03,188.80 90.03,188.14 90.03,187.48 90.03,186.82 90.03,186.16 90.03,185.50Z" fill="#78f0f0" stroke="#707070" stroke-width="0.5" stroke-linejoin="round"/>
<circle cx="90.34" cy="197.57" r="0.7" fill="#c8fafa"/>
<circle cx="90.57" cy="190.47" r="0.7" fill="#c8fafa"/>
<circle cx="89.79" cy="193.67" r="0.7" fill="#c8fafa"/>
<circle cx="90.10" cy="199.68" r="0.7" fill="#c8fafa"/>
<path d="M95.57,185.50 95.57,186.22 95.60,186.93 95.75,187.65 95.93,188.37 96.13,189.08 96.33,189.80 96.52,190.52 96.68,191.23 96.79,191.95 96.82,192.67 96.79,193.38 96.69,194.10 96.54,194.82 96.35,195.53 96.15,196.25 95.95,196.97 95.76,197.68 95.61,198.40 95.57,199.12 95.57,199.83 95.57,200.55 95.57,201.27 95.57,201.98 95.57,202.70 95.57,203.42 95.57,204.13 95.57,204.85 95.57,205.57 95.57,206.28 95.57,207.00 94.88,207.00 94.88,206.28 94.88,205.57 94.88,204.85 94.88,204.13 94.88,203.42 94.88,202.70 94.88,201.98 94.88,201.27 94.88,200.55 94.88,199.83 94.88,199.12 94.84,198.40 94.69,197.68 94.50,196.97 94.30,196.25 94.10,195.53 93.91,194.82 93.76,194.10 93.66,193.38 93.63,192.67 93.66,191.95 93.77,191.23 93.93,190.52 94.12,189.80 94.32,189.08 94.52,188.37 94.70,187.65 94.85,186.93 94.88,186.22 94.88,185.50Z" fill="#3a3ae6" stroke="#707070" stroke-width="0.5" stroke-linejoin="round"/>
<circle cx="94.94" cy="199.12" r="0.7" fill="#7a7af5"/>
<circle cx="95.45" cy="201.66" r="0.7" fill="#7a7af5"/>
<circle cx="94.85" cy="192.07" r="0.7" fill="#7a7af5"/>
<circle cx="94.80" cy="191.99" r="0.7" fill="#7a7af5"/>
<path d="M100.42,183.70 100.42,184.36 100.42,185.02 100.45,185.68 100.60,186.34 100.78,187.00 100.97,187.66 101.18,188.32 101.37,188.98 101.53,189.64 101.64,190.30 101.67,190.96 101.64,191.62 101.55,192.28 101.39,192.94 101.20,193.60 101.00,194.26 100.80,194.92 100.62,195.58 100.46,196.24 100.42,196.90 100.42,197.56 100.42,198.22 100.42,198.88 100.42,199.54 100.42,200.20 100.42,200.86 100.42,201.52 100.42,202.18 100.42,202.84 100.42,203.50 99.73,203.50 99.73,202.84 99.73,202.18 99.73,201.52 99.73,200.86 99.73,200.20 99.73,199.54 99.73,198.88 99.73,198.22 99.73,197.56 99.73,196.90 99.69,196.24 99.53,195.58 99.35,194.92 99.15,194.26 98.95,193.60 98.76,192.94 98.60,192.28 98.51,191.62 98.48,190.96 98.51,190.30 98.62,189.64 98.78,188.98 98.97,188.32 99.18,187.66 99.37,187.00 99.55,186.34 99.70,185.68 99.73,185.02 99.73,184.36 99.73,183.70Z" fill="#c02858" stroke="#707070" stroke-width="0.5" stroke-linejoin="round"/>
<circle cx="99.60" cy="196.40" r="0.7" fill="#e07090"/>
<circle cx="100.26" cy="199.68" r="0.7" fill="#e07090"/>
<circle cx="99.80" cy="190.23" r="0.7" fill="#e07090"/>
<circle cx="100.36" cy="195.79" r="0.7" fill="#e07090"/>
<path d="M105.27,186.40 105.27,186.85 105.27,187.30 105.27,187.75 105.27,188.20 105.27,188.65 105.27,189.10 105.27,189.55 105.27,190.00 105.27,190.45 105.30,190.90 105.46,191.35 105.64,191.80 105.84,192.25 106.04,192.70 106.23,193.15 106.39,193.60 106.49,194.05 106.52,194.50 106.49,194.95 106.39,195.40 106.23,195.85 106.04,196.30 105.84,196.75 105.64,197.20 105.46,197.65 105.30,198.10 105.27,198.55 105.27,199.00 105.27,199.45 105.27,199.90 104.58,199.90 104.58,199.45 104.58,199.00 104.58,198.55 104.55,198.10 104.39,197.65 104.21,197.20 104.01,196.75 103.81,196.30 103.62,195.85 103.46,195.40 103.36,194.95 103.33,194.50 103.36,194.05 103.46,193.60 103.62,193.15 103.81,192.70 104.01,192.25 104.21,191.80 104.39,191.35 104.55,190.90 104.58,190.45 104.58,190.00 104.58,189.55 104.58,189.10 104.58,188.65 104.58,188.20 104.58,187.75 104.58,187.30 104.58,186.85 104.58,186.40Z" fill="#5a2aa8" stroke="#707070" stroke-width="0.5" stroke-linejoin="round"/>
<circle cx="105.48" cy="189.49" r="0.7" fill="#9a70d0"/>
<circle cx="105.21" cy="190.59" r="0.7" fill="#9a70d0"/>
<circle cx="105.51" cy="189.53" r="0.7" fill="#9a70d0"/>
<circle cx="105.38" cy="194.51" r="0.7" fill="#9a70d0"/>
<path d="M112.82,182.80 112.82,183.31 112.82,183.82 112.82,184.33 112.82,184.84 112.82,185.35 112.82,185.86 112.82,186.37 112.84,186.88 112.99,187.39 113.17,187.90 113.37,188.41 113.58,188.92 113.77,189.43 113.93,189.94 114.03,190.45 114.07,190.96 114.04,191.47 113.95,191.98 113.80,192.49 113.61,193.00 113.40,193.51 113.20,194.02 113.02,194.53 112.86,195.04 112.82,195.55 112.82,196.06 112.82,196.57 112.82,197.08 112.82,197.59 112.82,198.10 112.12,198.10 112.12,197.59 112.12,197.08 112.12,196.57 112.12,196.06 112.12,195.55 112.09,195.04 111.93,194.53 111.75,194.02 111.55,193.51 111.34,193.00 111.15,192.49 111.00,191.98 110.91,191.47 110.88,190.96 110.92,190.45 111.02,189.94 111.18,189.43 111.37,188.92 111.58,188.41 111.78,187.90 111.96,187.39 112.11,186.88 112.12,186.37 112.12,185.86 112.12,185.35 112.12,184.84 112.12,184.33 112.12,183.82 112.12,183.31 112.12,182.80Z" fill="#b65ee6" stroke="#707070" stroke-width="0.5" stroke-linejoin="round"/>
<circle cx="112.96" cy="192.18" r="0.7" fill="#d9a8f5"/>
<circle cx="112.79" cy="194.21" r="0.7" fill="#d9a8f5"/>
<circle cx="112.19" cy="191.71" r="0.7" fill="#d9a8f5"/>
<circle cx="112.96" cy="193.91" r="0.7" fill="#d9a8f5"/>
<path d="M117.67,182.80 117.67,183.46 117.67,184.12 117.67,184.78 117.67,185.44 117.67,186.10 117.76,186.76 117.92,187.42 118.11,188.08 118.31,188.74 118.51,189.40 118.69,190.06 118.83,190.72 118.91,191.38 118.92,192.04 118.86,192.70 118.74,193.36 118.57,194.02 118.37,194.68 118.16,195.34 117.97,196.00 117.80,196.66 117.67,197.32 117.67,197.98 117.67,198.64 117.67,199.30 117.67,199.96 117.67,200.62 117.67,201.28 117.67,201.94 117.67,202.60 116.97,202.60 116.97,201.94 116.97,201.28 116.97,200.62 116.97,199.96 116.97,199.30 116.97,198.64 116.97,197.98 116.97,197.32 116.85,196.66 116.68,196.00 116.49,195.34 116.28,194.68 116.08,194.02 115.91,193.36 115.79,192.70 115.73,192.04 115.74,191.38 115.82,190.72 115.96,190.06 116.14,189.40 116.34,188.74 116.54,188.08 116.73,187.42 116.89,186.76 116.97,186.10 116.97,185.44 116.97,184.78 116.97,184.12 116.97,183.46 116.97,182.80Z" fill="#e642e6" stroke="#707070" stroke-width="0.5" stroke-linejoin="round"/>
<circle cx="116.92" cy="195.32" r="0.7" fill="#f08cf0"/>
<circle cx="117.49" cy="192.41" r="0.7" fill="#f08cf0"/>
<circle cx="116.98" cy="196.74" r="0.7" fill="#f08cf0"/>
<circle cx="117.69" cy="192.87" r="0.7" fill="#f08cf0"/>
<path d="M122.52,186.40 122.52,187.21 122.52,188.02 122.52,188.83 122.52,189.64 122.52,190.45 122.52,191.26 122.65,192.07 122.83,192.88 123.02,193.69 123.23,194.50 123.42,195.31 123.59,196.12 123.71,196.93 123.77,197.74 123.76,198.55 123.68,199.36 123.54,200.17 123.35,200.98 123.15,201.79 122.95,202.60 122.76,203.41 122.60,204.22 122.52,205.03 122.52,205.84 122.52,206.65 122.52,207.46 122.52,208.27 122.52,209.08 122.52,209.89 122.52,210.70 121.83,210.70 121.83,209.89 121.83,209.08 121.83,208.27 121.83,207.46 121.83,206.65 121.83,205.84 121.83,205.03 121.75,204.22 121.59,203.41 121.40,202.60 121.20,201.79 121.00,200.98 120.81,200.17 120.67,199.36 120.59,198.55 120.58,197.74 120.64,196.93 120.76,196.12 120.93,195.31 121.12,194.50 121.33,193.69 121.52,192.88 121.70,192.07 121.83,191.26 121.83,190.45 121.83,189.64 121.83,188.83 121.83,188.02 121.83,187.21 121.83,186.40Z" fill="#78f0f0" stroke="#707070" stroke-width="0.5" stroke-linejoin="round"/>
<circle cx="122.72" cy="191.97" r="0.7" fill="#c8fafa"/>
<circle cx="121.60" cy="207.67" r="0.7" fill="#c8fafa"/>
<circle cx="121.80" cy="191.61" r="0.7" fill="#c8fafa"/>
<circle cx="122.36" cy="195.73" r="0.7" fill="#c8fafa"/>
<path d="M127.37,188.20 127.37,189.04 127.37,189.87 127.37,190.71 127.44,191.55 127.61,192.38 127.79,193.22 128.00,194.06 128.20,194.89 128.38,195.73 128.52,196.57 128.61,197.40 128.62,198.24 128.57,199.08 128.45,199.91 128.28,200.75 128.08,201.59 127.88,202.42 127.68,203.26 127.51,204.10 127.37,204.93 127.37,205.77 127.37,206.61 127.37,207.44 127.37,208.28 127.37,209.12 127.37,209.95 127.37,210.79 127.37,211.63 127.37,212.46 127.37,213.30 126.67,213.30 126.67,212.46 126.67,211.63 126.67,210.79 126.67,209.95 126.67,209.12 126.67,208.28 126.67,207.44 126.67,206.61 126.67,205.77 126.67,204.93 126.54,204.10 126.37,203.26 126.17,202.42 125.97,201.59 125.77,200.75 125.60,199.91 125.48,199.08 125.43,198.24 125.44,197.40 125.53,196.57 125.67,195.73 125.85,194.89 126.05,194.06 126.26,193.22 126.44,192.38 126.61,191.55 126.67,190.71 126.67,189.87 126.67,189.04 126.67,188.20Z" fill="#3a3ae6" stroke="#707070" stroke-width="0.5" stroke-linejoin="round"/>
<circle cx="127.53" cy="209.32" r="0.7" fill="#7a7af5"/>
<circle cx="127.50" cy="192.80" r="0.7" fill="#7a7af5"/>
<circle cx="127.14" cy="199.29" r="0.7" fill="#7a7af5"/>
<circle cx="127.06" cy="193.69" r="0.7" fill="#7a7af5"/>
<path d="M132.22,191.80 132.22,192.46 132.22,193.11 132.22,193.77 132.22,194.43 132.33,195.08 132.50,195.74 132.69,196.40 132.89,197.05 133.09,197.71 133.27,198.37 133.40,199.02 133.47,199.68 133.47,200.34 133.39,200.99 133.26,201.65 133.09,202.31 132.89,202.96 132.68,203.62 132.49,204.28 132.32,204.93 132.22,205.59 132.22,206.25 132.22,206.90 132.22,207.56 132.22,208.22 132.22,208.87 132.22,209.53 132.22,210.19 132.22,210.84 132.22,211.50 131.53,211.50 131.53,210.84 131.53,210.19 131.53,209.53 131.53,208.87 131.53,208.22 131.53,207.56 131.53,206.90 131.53,206.25 131.53,205.59 131.43,204.93 131.26,204.28 131.07,203.62 130.86,202.96 130.66,202.31 130.49,201.65 130.36,200.99 130.28,200.34 130.28,199.68 130.35,199.02 130.48,198.37 130.66,197.71 130.86,197.05 131.06,196.40 131.25,195.74 131.42,195.08 131.53,194.43 131.53,193.77 131.53,193.11 131.53,192.46 131.53,191.80Z" fill="#c02858" stroke="#707070" stroke-width="0.5" stroke-linejoin="round"/>
<circle cx="132.13" cy="206.31" r="0.7" fill="#e07090"/>
<circle cx="131.49" cy="208.48" r="0.7" fill="#e07090"/>
<circle cx="131.51" cy="203.99" r="0.7" fill="#e07090"/>
<circle cx="131.39" cy="205.18" r="0.7" fill="#e07090"/>
<path d="M137.07,186.40 137.07,187.27 137.07,188.14 137.07,189.01 137.07,189.88 137.07,190.75 137.07,191.62 137.07,192.49 137.07,193.36 137.17,194.23 137.33,195.10 137.52,195.97 137.73,196.84 137.93,197.71 138.11,198.58 138.24,199.45 138.31,200.32 138.32,201.19 138.25,202.06 138.12,202.93 137.95,203.80 137.75,204.67 137.55,205.54 137.35,206.41 137.18,207.28 137.07,208.15 137.07,209.02 137.07,209.89 137.07,210.76 137.07,211.63 137.07,212.50 136.38,212.50 136.38,211.63 136.38,210.76 136.38,209.89 136.38,209.02 136.38,208.15 136.27,207.28 136.10,206.41 135.90,205.54 135.70,204.67 135.50,203.80 135.33,202.93 135.20,202.06 135.13,201.19 135.14,200.32 135.21,199.45 135.34,198.58 135.52,197.71 135.72,196.84 135.93,195.97 136.12,195.10 136.28,194.23 136.38,193.36 136.38,192.49 136.38,191.62 136.38,190.75 136.38,189.88 136.38,189.01 136.38,188.14 136.38,187.27 136.38,186.40Z" fill="#5a2aa8" stroke="#707070" stroke-width="0.5" stroke-linejoin="round"/>
<circle cx="136.58" cy="208.03" r="0.7" fill="#9a70d0"/>
<circle cx="137.14" cy="193.70" r="0.7" fill="#9a70d0"/>
<circle cx="137.17" cy="202.19" r="0.7" fill="#9a70d0"/>
<circle cx="136.18" cy="208.55" r="0.7" fill="#9a70d0"/>
<path d="M144.62,178.30 144.62,178.81 144.62,179.32 144.62,179.83 144.62,180.34 144.62,180.85 144.64,181.36 144.79,181.87 144.96,182.38 145.16,182.89 145.37,183.40 145.56,183.91 145.72,184.42 145.83,184.93 145.87,185.44 145.85,185.95 145.75,186.46 145.60,186.97 145.41,187.48 145.21,187.99 145.01,188.50 144.83,189.01 144.67,189.52 144.62,190.03 144.62,190.54 144.62,191.05 144.62,191.56 144.62,192.07 144.62,192.58 144.62,193.09 144.62,193.60 143.93,193.60 143.93,193.09 143.93,192.58 143.93,192.07 143.93,191.56 143.93,191.05 143.93,190.54 143.93,190.03 143.88,189.52 143.72,189.01 143.54,188.50 143.34,187.99 143.14,187.48 142.95,186.97 142.80,186.46 142.70,185.95 142.68,185.44 142.72,184.93 142.83,184.42 142.99,183.91 143.18,183.40 143.39,182.89 143.59,182.38 143.76,181.87 143.91,181.36 143.93,180.85 143.93,180.34 143.93,179.83 143.93,179.32 143.93,178.81 143.93,178.30Z" fill="#b65ee6" stroke="#707070" stroke-width="0.5" stroke-linejoin="round"/>
<circle cx="144.32" cy="183.99" r="0.7" fill="#d9a8f5"/>
<circle cx="143.71" cy="187.38" r="0.7" fill="#d9a8f5"/>
<circle cx="143.93" cy="183.69" r="0.7" fill="#d9a8f5"/>
<circle cx="144.15" cy="187.27" r="0.7" fill="#d9a8f5"/>
<path d="M149.47,178.30 149.47,178.90 149.47,179.50 149.47,180.10 149.47,180.70 149.47,181.30 149.47,181.90 149.50,182.50 149.66,183.10 149.84,183.70 150.04,184.30 150.24,184.90 150.43,185.50 150.59,186.10 150.69,186.70 150.72,187.30 150.69,187.90 150.59,188.50 150.43,189.10 150.24,189.70 150.04,190.30 149.84,190.90 149.66,191.50 149.50,192.10 149.47,192.70 149.47,193.30 149.47,193.90 149.47,194.50 149.47,195.10 149.47,195.70 149.47,196.30 148.78,196.30 148.78,195.70 148.78,195.10 148.78,194.50 148.78,193.90 148.78,193.30 148.78,192.70 148.75,192.10 148.59,191.50 148.41,190.90 148.21,190.30 148.01,189.70 147.82,189.10 147.66,188.50 147.56,187.90 147.53,187.30 147.56,186.70 147.66,186.10 147.82,185.50 148.01,184.90 148.21,184.30 148.41,183.70 148.59,183.10 148.75,182.50 148.78,181.90 148.78,181.30 148.78,180.70 148.78,180.10 148.78,179.50 148.78,178.90 148.78,178.30Z" fill="#e642e6" stroke="#707070" stroke-width="0.5" stroke-linejoin="round"/>
<circle cx="148.54" cy="182.65" r="0.7" fill="#f08cf0"/>
<circle cx="149.00" cy="189.51" r="0.7" fill="#f08cf0"/>
<circle cx="148.69" cy="182.65" r="0.7" fill="#f08cf0"/>
<circle cx="148.80" cy="190.39" r="0.7" fill="#f08cf0"/>
<path d="M154.32,190.00 154.32,191.17 154.32,192.33 154.32,193.50 154.32,194.67 154.32,195.83 154.32,197.00 154.32,198.17 154.32,199.33 154.36,200.50 154.51,201.67 154.69,202.83 154.89,204.00 155.10,205.17 155.29,206.33 155.44,207.50 155.54,208.67 155.57,209.83 155.54,211.00 155.43,212.17 155.28,213.33 155.09,214.50 154.88,215.67 154.68,216.83 154.50,218.00 154.35,219.17 154.32,220.33 154.32,221.50 154.32,222.67 154.32,223.83 154.32,225.00 153.62,225.00 153.62,223.83 153.62,222.67 153.62,221.50 153.62,220.33 153.60,219.17 153.45,218.00 153.27,216.83 153.07,215.67 152.86,214.50 152.67,213.33 152.52,212.17 152.41,211.00 152.38,209.83 152.41,208.67 152.51,207.50 152.66,206.33 152.85,205.17 153.06,204.00 153.26,202.83 153.44,201.67 153.59,200.50 153.62,199.33 153.62,198.17 153.62,197.00 153.62,195.83 153.62,194.67 153.62,193.50 153.62,192.33 153.62,191.17 153.62,190.00Z" fill="#78f0f0" stroke="#707070" stroke-width="0.5" stroke-linejoin="round"/>
<circle cx="153.47" cy="199.19" r="0.7" fill="#c8fafa"/>
<circle cx="153.74" cy="219.11" r="0.7" fill="#c8fafa"/>
<circle cx="153.97" cy="213.89" r="0.7" fill="#c8fafa"/>
<circle cx="153.50" cy="207.76" r="0.7" fill="#c8fafa"/>
<path d="M159.18,196.30 159.18,197.41 159.18,198.51 159.18,199.62 159.18,200.73 159.18,201.83 159.18,202.94 159.27,204.05 159.43,205.15 159.63,206.26 159.83,207.37 160.03,208.47 160.21,209.58 160.34,210.69 160.41,211.79 160.42,212.90 160.35,214.01 160.22,215.11 160.05,216.22 159.85,217.33 159.64,218.43 159.45,219.54 159.28,220.65 159.18,221.75 159.18,222.86 159.18,223.97 159.18,225.07 159.18,226.18 159.18,227.29 159.18,228.39 159.18,229.50 158.48,229.50 158.48,228.39 158.48,227.29 158.48,226.18 158.48,225.07 158.48,223.97 158.48,222.86 158.48,221.75 158.37,220.65 158.20,219.54 158.01,218.43 157.80,217.33 157.60,216.22 157.43,215.11 157.30,214.01 157.23,212.90 157.24,211.79 157.31,210.69 157.44,209.58 157.62,208.47 157.82,207.37 158.02,206.26 158.22,205.15 158.38,204.05 158.48,202.94 158.48,201.83 158.48,200.73 158.48,199.62 158.48,198.51 158.48,197.41 158.48,196.30Z" fill="#3a3ae6" stroke="#707070" stroke-width="0.5" stroke-linejoin="round"/>
<circle cx="158.91" cy="216.50" r="0.7" fill="#7a7af5"/>
<circle cx="159.21" cy="206.84" r="0.7" fill="#7a7af5"/>
<circle cx="159.01" cy="223.53" r="0.7" fill="#7a7af5"/>
<circle cx="159.32" cy="204.37" r="0.7" fill="#7a7af5"/>
<path d="M164.03,199.90 164.03,200.62 164.03,201.33 164.03,202.05 164.03,202.77 164.03,203.48 164.03,204.20 164.03,204.92 164.03,205.63 164.03,206.35 164.14,207.07 164.30,207.78 164.50,208.50 164.70,209.22 164.90,209.93 165.07,210.65 165.20,211.37 165.27,212.08 165.26,212.80 165.19,213.52 165.06,214.23 164.88,214.95 164.68,215.67 164.47,216.38 164.28,217.10 164.12,217.82 164.03,218.53 164.03,219.25 164.03,219.97 164.03,220.68 164.03,221.40 163.33,221.40 163.33,220.68 163.33,219.97 163.33,219.25 163.33,218.53 163.23,217.82 163.07,217.10 162.88,216.38 162.67,215.67 162.47,214.95 162.29,214.23 162.16,213.52 162.09,212.80 162.08,212.08 162.15,211.37 162.28,210.65 162.45,209.93 162.65,209.22 162.85,208.50 163.05,207.78 163.21,207.07 163.33,206.35 163.33,205.63 163.33,204.92 163.33,204.20 163.33,203.48 163.33,202.77 163.33,202.05 163.33,201.33 163.33,200.62 163.33,199.90Z" fill="#c02858" stroke="#707070" stroke-width="0.5" stroke-linejoin="round"/>
<circle cx="163.71" cy="211.98" r="0.7" fill="#e07090"/>
<circle cx="164.09" cy="216.83" r="0.7" fill="#e07090"/>
<circle cx="164.13" cy="208.55" r="0.7" fill="#e07090"/>
<circle cx="164.21" cy="209.47" r="0.7" fill="#e07090"/>
<path d="M168.88,196.30 168.88,197.29 168.88,198.28 168.88,199.27 168.88,200.26 168.88,201.25 168.88,202.24 168.88,203.23 168.88,204.22 168.88,205.21 168.88,206.20 168.88,207.19 168.92,208.18 169.07,209.17 169.26,210.16 169.46,211.15 169.66,212.14 169.85,213.13 170.00,214.12 170.10,215.11 170.12,216.10 170.08,217.09 169.97,218.08 169.81,219.07 169.62,220.06 169.42,221.05 169.22,222.04 169.04,223.03 168.89,224.02 168.88,225.01 168.88,226.00 168.18,226.00 168.18,225.01 168.16,224.02 168.01,223.03 167.83,222.04 167.63,221.05 167.43,220.06 167.24,219.07 167.08,218.08 166.97,217.09 166.93,216.10 166.95,215.11 167.05,214.12 167.20,213.13 167.39,212.14 167.59,211.15 167.79,210.16 167.98,209.17 168.13,208.18 168.18,207.19 168.18,206.20 168.18,205.21 168.18,204.22 168.18,203.23 168.18,202.24 168.18,201.25 168.18,200.26 168.18,199.27 168.18,198.28 168.18,197.29 168.18,196.30Z" fill="#5a2aa8" stroke="#707070" stroke-width="0.5" stroke-linejoin="round"/>
<circle cx="168.58" cy="217.09" r="0.7" fill="#9a70d0"/>
<circle cx="168.82" cy="219.80" r="0.7" fill="#9a70d0"/>
<circle cx="168.27" cy="222.18" r="0.7" fill="#9a70d0"/>
<circle cx="168.61" cy="217.01" r="0.7" fill="#9a70d0"/>
<text x="139.0" y="169.0" font-size="7.0"><tspan font-style="italic">p</tspan>&lt;0.001</text>
<line x1="144.9" y1="172.4" x2="156.7" y2="172.4" stroke="#222" stroke-width="1"/>
<text x="160.0" y="107.3" font-size="25.5" font-weight="bold">C</text>
<circle cx="194.6" cy="108.8" r="0.9" fill="#a8a8a8"/>
<text x="202.7" y="111.6">PA</text>
<circle cx="194.6" cy="118.0" r="0.9" fill="#d890e0"/>
<text x="202.7" y="120.8">Anti-Ly6G+PA</text>
<circle cx="194.6" cy="129.4" r="0.9" fill="#a89850"/>
<text x="202.7" y="132.2">Anti-Ly6G+PA+PMN<tspan font-size="6.3" dy="-3.5" style="stroke-width:0.08px" fill="#333">sh-NC</tspan></text>
<circle cx="194.6" cy="141.5" r="0.9" fill="#70c8f0"/>
<text x="202.7" y="144.3">Anti-Ly6G+PA+PMN<tspan font-size="6.3" dy="-3.5" style="stroke-width:0.08px" fill="#333">sh-TDRD9</tspan></text>
<line x1="226.0" y1="157.5" x2="226.0" y2="236.3" stroke="#7c7c7c" stroke-width="1.5"/>
<line x1="225.3" y1="236.3" x2="279.0" y2="236.3" stroke="#4c4c4c" stroke-width="1.2"/>
<line x1="222.4" y1="157.7" x2="225.4" y2="157.7" stroke="#6a6a6a" stroke-width="1.0"/>
<text x="222.4" y="160.7" text-anchor="end">4.6</text>
<line x1="222.4" y1="183.8" x2="225.4" y2="183.8" stroke="#6a6a6a" stroke-width="1.0"/>
<text x="222.4" y="186.8" text-anchor="end">4.4</text>
<line x1="222.4" y1="209.9" x2="225.4" y2="209.9" stroke="#6a6a6a" stroke-width="1.0"/>
<text x="222.4" y="212.9" text-anchor="end">4.2</text>
<line x1="222.4" y1="236.0" x2="225.4" y2="236.0" stroke="#6a6a6a" stroke-width="1.0"/>
<text x="222.4" y="239.0" text-anchor="end">4.0</text>
<line x1="234.6" y1="236.8" x2="234.6" y2="239.8" stroke="#6a6a6a" stroke-width="1.0"/>
<line x1="246.7" y1="236.8" x2="246.7" y2="239.8" stroke="#6a6a6a" stroke-width="1.0"/>
<line x1="258.4" y1="236.8" x2="258.4" y2="239.8" stroke="#6a6a6a" stroke-width="1.0"/>
<line x1="270.0" y1="236.8" x2="270.0" y2="239.8" stroke="#6a6a6a" stroke-width="1.0"/>
<text transform="translate(201.8,198) rotate(-90)" text-anchor="middle">Log<tspan font-size="6.2" dy="2.2">10</tspan><tspan dy="-2.2"> (CFU/mL)</tspan></text>
<path d="M234.80,161.50 234.85,162.98 235.29,164.46 235.95,165.94 236.80,167.42 237.69,168.90 238.40,170.38 238.70,171.85 238.49,173.33 237.85,174.81 236.98,176.29 236.16,177.77 237.06,179.25 237.77,180.73 237.99,182.21 237.61,183.69 236.81,185.17 235.92,186.65 236.24,188.12 236.32,189.60 235.63,191.08 234.89,192.56 234.80,194.04 234.80,195.52 234.80,197.00 234.00,197.00 234.00,195.52 234.00,194.04 233.91,192.56 233.17,191.08 232.48,189.60 232.56,188.12 232.88,186.65 231.99,185.17 231.19,183.69 230.81,182.21 231.03,180.73 231.74,179.25 232.64,177.77 231.82,176.29 230.95,174.81 230.31,173.33 230.10,171.85 230.40,170.38 231.11,168.90 232.00,167.42 232.85,165.94 233.51,164.46 233.95,162.98 234.00,161.50Z" fill="#c98ef6" stroke="#444" stroke-width="0.55" stroke-linejoin="round"/>
<circle cx="232.80" cy="168.00" r="0.7" fill="#dcaaf8"/>
<circle cx="236.00" cy="169.00" r="0.7" fill="#dcaaf8"/>
<circle cx="234.40" cy="174.00" r="0.7" fill="#dcaaf8"/>
<circle cx="232.60" cy="178.00" r="0.7" fill="#dcaaf8"/>
<circle cx="235.80" cy="181.00" r="0.7" fill="#dcaaf8"/>
<circle cx="234.40" cy="186.00" r="0.7" fill="#dcaaf8"/>
<circle cx="234.40" cy="191.00" r="0.7" fill="#dcaaf8"/>
<path d="M246.70,163.20 246.70,164.47 246.70,165.73 246.70,167.00 246.70,168.27 246.94,169.53 247.45,170.80 248.13,172.07 248.86,173.33 249.44,174.60 249.70,175.87 249.53,177.13 249.00,178.40 249.70,179.67 250.10,180.93 249.77,182.20 248.90,183.47 247.89,184.73 247.10,186.00 246.70,187.27 246.70,188.53 246.70,189.80 246.70,191.07 246.70,192.33 246.70,193.60 245.90,193.60 245.90,192.33 245.90,191.07 245.90,189.80 245.90,188.53 245.90,187.27 245.50,186.00 244.71,184.73 243.70,183.47 242.83,182.20 242.50,180.93 242.90,179.67 243.60,178.40 243.07,177.13 242.90,175.87 243.16,174.60 243.74,173.33 244.47,172.07 245.15,170.80 245.66,169.53 245.90,168.27 245.90,167.00 245.90,165.73 245.90,164.47 245.90,163.20Z" fill="#f274f0" stroke="#444" stroke-width="0.55" stroke-linejoin="round"/>
<circle cx="245.10" cy="172.00" r="0.7" fill="#ff9cff"/>
<circle cx="247.70" cy="176.00" r="0.7" fill="#ff9cff"/>
<circle cx="246.30" cy="179.00" r="0.7" fill="#ff9cff"/>
<circle cx="244.70" cy="182.00" r="0.7" fill="#ff9cff"/>
<circle cx="247.90" cy="180.00" r="0.7" fill="#ff9cff"/>
<circle cx="246.30" cy="186.00" r="0.7" fill="#ff9cff"/>
<path d="M258.80,162.30 258.80,163.89 258.80,165.48 258.80,167.08 259.26,168.67 260.15,170.26 261.29,171.85 262.30,173.44 262.70,175.03 262.27,176.62 261.24,178.22 260.11,179.81 259.63,181.40 260.72,182.99 260.90,184.58 259.94,186.18 258.94,187.77 259.66,189.36 260.10,190.95 259.71,192.54 258.97,194.13 258.80,195.72 258.80,197.32 258.80,198.91 258.80,200.50 258.00,200.50 258.00,198.91 258.00,197.32 258.00,195.72 257.83,194.13 257.09,192.54 256.70,190.95 257.14,189.36 257.86,187.77 256.86,186.18 255.90,184.58 256.08,182.99 257.17,181.40 256.69,179.81 255.56,178.22 254.53,176.62 254.10,175.03 254.50,173.44 255.51,171.85 256.65,170.26 257.54,168.67 258.00,167.08 258.00,165.48 258.00,163.89 258.00,162.30Z" fill="#86f6f6" stroke="#444" stroke-width="0.55" stroke-linejoin="round"/>
<path d="M270.60,184.00 270.60,186.21 270.60,188.42 270.60,190.62 270.81,192.83 271.32,195.04 272.01,197.25 272.80,199.46 273.51,201.67 273.94,203.88 273.95,206.08 273.52,208.29 272.82,210.50 272.78,212.71 273.65,214.92 274.15,217.12 274.09,219.33 273.49,221.54 272.59,223.75 273.25,225.96 273.80,228.17 273.07,230.38 271.75,232.58 270.77,234.79 270.60,237.00 269.80,237.00 269.63,234.79 268.65,232.58 267.33,230.38 266.60,228.17 267.15,225.96 267.81,223.75 266.91,221.54 266.31,219.33 266.25,217.12 266.75,214.92 267.62,212.71 267.58,210.50 266.88,208.29 266.45,206.08 266.46,203.88 266.89,201.67 267.60,199.46 268.39,197.25 269.08,195.04 269.59,192.83 269.80,190.62 269.80,188.42 269.80,186.21 269.80,184.00Z" fill="#6c6cf2" stroke="#444" stroke-width="0.55" stroke-linejoin="round"/>
<circle cx="270.20" cy="200.00" r="0.7" fill="#2020c8"/>
<circle cx="270.20" cy="206.00" r="0.7" fill="#2020c8"/>
<circle cx="270.20" cy="213.00" r="0.7" fill="#2020c8"/>
<circle cx="270.20" cy="219.00" r="0.7" fill="#2020c8"/>
<circle cx="270.20" cy="225.00" r="0.7" fill="#2020c8"/>
<circle cx="270.20" cy="231.00" r="0.7" fill="#2020c8"/>
<circle cx="270.20" cy="193.00" r="0.7" fill="#2020c8"/>
<text x="256.7" y="153.8" font-size="7.0"><tspan font-style="italic">p</tspan>&lt;0.001</text>
<line x1="261.6" y1="157.8" x2="271.8" y2="157.8" stroke="#222" stroke-width="1"/>
<text x="331.6" y="107.4" font-size="25.5" font-weight="bold">D</text>
<line x1="384.4" y1="161.0" x2="384.4" y2="235.6" stroke="#7c7c7c" stroke-width="1.5"/>
<line x1="383.7" y1="235.6" x2="433.0" y2="235.6" stroke="#4c4c4c" stroke-width="1.2"/>
<line x1="381.0" y1="161.5" x2="383.8" y2="161.5" stroke="#6a6a6a" stroke-width="1.0"/>
<text x="380.2" y="164.5" text-anchor="end">10</text>
<line x1="381.0" y1="176.3" x2="383.8" y2="176.3" stroke="#6a6a6a" stroke-width="1.0"/>
<text x="380.2" y="179.3" text-anchor="end">8</text>
<line x1="381.0" y1="191.1" x2="383.8" y2="191.1" stroke="#6a6a6a" stroke-width="1.0"/>
<text x="380.2" y="194.1" text-anchor="end">6</text>
<line x1="381.0" y1="205.9" x2="383.8" y2="205.9" stroke="#6a6a6a" stroke-width="1.0"/>
<text x="380.2" y="208.9" text-anchor="end">4</text>
<line x1="381.0" y1="220.7" x2="383.8" y2="220.7" stroke="#6a6a6a" stroke-width="1.0"/>
<text x="380.2" y="223.7" text-anchor="end">2</text>
<line x1="381.0" y1="235.5" x2="383.8" y2="235.5" stroke="#6a6a6a" stroke-width="1.0"/>
<text x="380.2" y="238.5" text-anchor="end">0</text>
<line x1="389.0" y1="236.1" x2="389.0" y2="239.1" stroke="#6a6a6a" stroke-width="1.0"/>
<line x1="396.7" y1="236.1" x2="396.7" y2="239.1" stroke="#6a6a6a" stroke-width="1.0"/>
<line x1="404.5" y1="236.1" x2="404.5" y2="239.1" stroke="#6a6a6a" stroke-width="1.0"/>
<line x1="412.3" y1="236.1" x2="412.3" y2="239.1" stroke="#6a6a6a" stroke-width="1.0"/>
<line x1="420.0" y1="236.1" x2="420.0" y2="239.1" stroke="#6a6a6a" stroke-width="1.0"/>
<line x1="427.7" y1="236.1" x2="427.7" y2="239.1" stroke="#6a6a6a" stroke-width="1.0"/>
<text transform="translate(355.3,196.8) rotate(-90)" text-anchor="middle" font-size="10.6">Lung wet weight/</text>
<text transform="translate(367.0,196.3) rotate(-90)" text-anchor="middle" font-size="10.6">dry weight</text>
<path d="M389.30,191.00 389.30,191.88 389.30,192.75 389.45,193.62 390.00,194.50 390.73,195.38 391.40,196.25 391.70,197.12 391.48,198.00 390.86,198.88 390.12,199.75 389.89,200.62 390.53,201.50 391.22,202.38 391.74,203.25 391.90,204.12 391.62,205.00 391.03,205.88 390.33,206.75 389.73,207.62 389.32,208.50 389.30,209.38 389.30,210.25 389.30,211.12 389.30,212.00 388.50,212.00 388.50,211.12 388.50,210.25 388.50,209.38 388.48,208.50 388.07,207.62 387.47,206.75 386.77,205.88 386.18,205.00 385.90,204.12 386.06,203.25 386.58,202.38 387.27,201.50 387.91,200.62 387.68,199.75 386.94,198.88 386.32,198.00 386.10,197.12 386.40,196.25 387.07,195.38 387.80,194.50 388.35,193.62 388.50,192.75 388.50,191.88 388.50,191.00Z" fill="#c284f2" stroke="#444" stroke-width="0.55" stroke-linejoin="round"/>
<circle cx="388.90" cy="196.00" r="0.7" fill="#dcaaf8"/>
<circle cx="387.90" cy="199.00" r="0.7" fill="#dcaaf8"/>
<circle cx="389.90" cy="203.00" r="0.7" fill="#dcaaf8"/>
<circle cx="388.90" cy="206.00" r="0.7" fill="#dcaaf8"/>
<path d="M397.30,202.00 397.54,202.27 397.78,202.53 398.02,202.80 398.26,203.07 398.50,203.33 398.74,203.60 398.98,203.87 399.22,204.13 399.45,204.40 399.58,204.67 399.67,204.93 399.70,205.20 399.67,205.47 399.58,205.73 399.45,206.00 399.22,206.27 398.98,206.53 398.74,206.80 398.50,207.07 398.26,207.33 398.02,207.60 397.78,207.87 397.54,208.13 397.30,208.40 396.50,208.40 396.26,208.13 396.02,207.87 395.78,207.60 395.54,207.33 395.30,207.07 395.06,206.80 394.82,206.53 394.58,206.27 394.35,206.00 394.22,205.73 394.13,205.47 394.10,205.20 394.13,204.93 394.22,204.67 394.35,204.40 394.58,204.13 394.82,203.87 395.06,203.60 395.30,203.33 395.54,203.07 395.78,202.80 396.02,202.53 396.26,202.27 396.50,202.00Z" fill="#f048f0" stroke="#555" stroke-width="0.55" stroke-linejoin="round"/>
<circle cx="395.90" cy="204.50" r="0.7" fill="#ff90ff"/>
<circle cx="397.90" cy="205.50" r="0.7" fill="#ff90ff"/>
<circle cx="396.90" cy="206.50" r="0.7" fill="#ff90ff"/>
<path d="M405.00,177.00 405.00,178.07 405.00,179.14 405.03,180.21 405.51,181.28 406.18,182.35 406.89,183.43 407.34,184.50 407.33,185.57 406.85,186.64 406.14,187.71 405.47,188.78 405.01,189.85 405.24,190.92 405.90,191.99 406.69,193.06 407.28,194.13 407.36,195.20 406.86,196.27 406.09,197.35 405.38,198.42 405.00,199.49 405.00,200.56 405.00,201.63 405.00,202.70 404.20,202.70 404.20,201.63 404.20,200.56 404.20,199.49 403.82,198.42 403.11,197.35 402.34,196.27 401.84,195.20 401.92,194.13 402.51,193.06 403.30,191.99 403.96,190.92 404.19,189.85 403.73,188.78 403.06,187.71 402.35,186.64 401.87,185.57 401.86,184.50 402.31,183.43 403.02,182.35 403.69,181.28 404.17,180.21 404.20,179.14 404.20,178.07 404.20,177.00Z" fill="#7ef6f6" stroke="#444" stroke-width="0.55" stroke-linejoin="round"/>
<path d="M412.80,163.50 412.80,164.65 412.80,165.79 412.94,166.94 413.35,168.08 413.87,169.23 414.40,170.38 414.78,171.52 414.90,172.67 414.70,173.81 414.25,174.96 413.72,176.10 413.22,177.25 412.85,178.40 412.80,179.54 412.80,180.69 412.80,181.83 412.80,182.98 412.80,184.12 412.80,185.27 412.80,186.42 412.80,187.56 412.80,188.71 412.80,189.85 412.80,191.00 412.00,191.00 412.00,189.85 412.00,188.71 412.00,187.56 412.00,186.42 412.00,185.27 412.00,184.12 412.00,182.98 412.00,181.83 412.00,180.69 412.00,179.54 411.95,178.40 411.58,177.25 411.08,176.10 410.55,174.96 410.10,173.81 409.90,172.67 410.02,171.52 410.40,170.38 410.93,169.23 411.45,168.08 411.86,166.94 412.00,165.79 412.00,164.65 412.00,163.50Z" fill="#3c3cf0" stroke="#333" stroke-width="0.55" stroke-linejoin="round"/>
<circle cx="412.40" cy="169.00" r="0.7" fill="#1010b0"/>
<circle cx="412.40" cy="174.00" r="0.7" fill="#1010b0"/>
<circle cx="412.40" cy="181.00" r="0.7" fill="#1010b0"/>
<circle cx="412.40" cy="186.00" r="0.7" fill="#1010b0"/>
<path d="M420.00,169.60 420.15,169.88 420.32,170.17 420.52,170.45 420.74,170.73 420.99,171.02 421.24,171.30 421.49,171.58 421.72,171.87 421.92,172.15 422.07,172.43 422.17,172.72 422.20,173.00 422.17,173.28 422.07,173.57 421.92,173.85 421.72,174.13 421.49,174.42 421.24,174.70 420.99,174.98 420.74,175.27 420.52,175.55 420.32,175.83 420.15,176.12 420.00,176.40 419.20,176.40 419.05,176.12 418.88,175.83 418.68,175.55 418.46,175.27 418.21,174.98 417.96,174.70 417.71,174.42 417.48,174.13 417.28,173.85 417.13,173.57 417.03,173.28 417.00,173.00 417.03,172.72 417.13,172.43 417.28,172.15 417.48,171.87 417.71,171.58 417.96,171.30 418.21,171.02 418.46,170.73 418.68,170.45 418.88,170.17 419.05,169.88 419.20,169.60Z" fill="#d03454" stroke="#555" stroke-width="0.55" stroke-linejoin="round"/>
<circle cx="418.60" cy="172.50" r="0.7" fill="#ff8098"/>
<circle cx="420.60" cy="173.50" r="0.7" fill="#ff8098"/>
<path d="M427.90,169.60 427.90,170.78 427.90,171.95 427.90,173.12 427.96,174.30 428.20,175.47 428.52,176.65 428.88,177.82 429.28,179.00 429.67,180.18 430.00,181.35 430.22,182.53 430.30,183.70 430.22,184.88 430.00,186.05 429.67,187.22 429.28,188.40 428.88,189.58 428.52,190.75 428.20,191.93 427.96,193.10 427.90,194.28 427.90,195.45 427.90,196.62 427.90,197.80 427.10,197.80 427.10,196.62 427.10,195.45 427.10,194.28 427.04,193.10 426.80,191.93 426.48,190.75 426.12,189.58 425.72,188.40 425.33,187.22 425.00,186.05 424.78,184.88 424.70,183.70 424.78,182.53 425.00,181.35 425.33,180.18 425.72,179.00 426.12,177.82 426.48,176.65 426.80,175.47 427.04,174.30 427.10,173.12 427.10,171.95 427.10,170.78 427.10,169.60Z" fill="#6c3cc2" stroke="#333" stroke-width="0.55" stroke-linejoin="round"/>
<circle cx="427.50" cy="176.00" r="0.7" fill="#9a74e0"/>
<circle cx="426.50" cy="180.00" r="0.7" fill="#9a74e0"/>
<circle cx="428.50" cy="184.00" r="0.7" fill="#9a74e0"/>
<circle cx="427.50" cy="188.00" r="0.7" fill="#9a74e0"/>
<circle cx="427.50" cy="192.00" r="0.7" fill="#9a74e0"/>
<text x="385.8" y="166.4" font-size="7.0"><tspan font-style="italic">p</tspan>&lt;0.001</text>
<line x1="391.4" y1="169.9" x2="406.7" y2="169.9" stroke="#333" stroke-width="1.1"/>
<text x="398.0" y="155.6" font-size="7.0"><tspan font-style="italic">p</tspan>&lt;0.001</text>
<line x1="404.2" y1="159.8" x2="414.6" y2="159.8" stroke="#333" stroke-width="1.1"/>
<text x="419.6" y="162.3" font-size="7.0"><tspan font-style="italic">p</tspan>=0.001</text>
<line x1="419.5" y1="166.8" x2="430.0" y2="166.8" stroke="#333" stroke-width="1.1"/>
<text x="487.5" y="107.0" font-size="25.5" font-weight="bold">E</text>
<line x1="536.6" y1="156.5" x2="536.6" y2="235.3" stroke="#7c7c7c" stroke-width="1.5"/>
<line x1="535.9" y1="235.3" x2="654.0" y2="235.3" stroke="#4c4c4c" stroke-width="1.2"/>
<line x1="532.6" y1="157.0" x2="535.9" y2="157.0" stroke="#6a6a6a" stroke-width="1.0"/>
<text x="530.0" y="160.0" text-anchor="end">3000</text>
<line x1="532.6" y1="183.1" x2="535.9" y2="183.1" stroke="#6a6a6a" stroke-width="1.0"/>
<text x="530.0" y="186.1" text-anchor="end">2000</text>
<line x1="532.6" y1="209.2" x2="535.9" y2="209.2" stroke="#6a6a6a" stroke-width="1.0"/>
<text x="530.0" y="212.2" text-anchor="end">1000</text>
<line x1="532.6" y1="235.3" x2="535.9" y2="235.3" stroke="#6a6a6a" stroke-width="1.0"/>
<text x="530.0" y="238.3" text-anchor="end">0</text>
<line x1="555.0" y1="235.8" x2="555.0" y2="238.8" stroke="#6a6a6a" stroke-width="1.0"/>
<line x1="595.6" y1="235.8" x2="595.6" y2="238.8" stroke="#6a6a6a" stroke-width="1.0"/>
<line x1="635.6" y1="235.8" x2="635.6" y2="238.8" stroke="#6a6a6a" stroke-width="1.0"/>
<text transform="translate(503.6,192.7) rotate(-90)" text-anchor="middle" font-size="10.6">Levels (pg/mL) in BALF</text>
<text x="534.0" y="247.4">TNF-α</text>
<text x="586.8" y="248.8">IL-1β</text>
<text x="627.0" y="248.8">IL-6</text>
<path d="M540.30,222.60 540.30,222.85 540.32,223.10 540.46,223.35 540.64,223.60 540.85,223.85 541.10,224.10 541.36,224.35 541.62,224.60 541.85,224.85 542.04,225.10 542.16,225.35 542.20,225.60 542.16,225.85 542.04,226.10 541.85,226.35 541.62,226.60 541.36,226.85 541.10,227.10 540.85,227.35 540.64,227.60 540.46,227.85 540.32,228.10 540.30,228.35 540.30,228.60 539.70,228.60 539.70,228.35 539.68,228.10 539.54,227.85 539.36,227.60 539.15,227.35 538.90,227.10 538.64,226.85 538.38,226.60 538.15,226.35 537.96,226.10 537.84,225.85 537.80,225.60 537.84,225.35 537.96,225.10 538.15,224.85 538.38,224.60 538.64,224.35 538.90,224.10 539.15,223.85 539.36,223.60 539.54,223.35 539.68,223.10 539.70,222.85 539.70,222.60Z" fill="#b65ee6" stroke="#555" stroke-width="0.5" stroke-linejoin="round"/>
<path d="M546.60,222.60 546.60,222.85 546.62,223.10 546.76,223.35 546.94,223.60 547.15,223.85 547.40,224.10 547.66,224.35 547.92,224.60 548.15,224.85 548.34,225.10 548.46,225.35 548.50,225.60 548.46,225.85 548.34,226.10 548.15,226.35 547.92,226.60 547.66,226.85 547.40,227.10 547.15,227.35 546.94,227.60 546.76,227.85 546.62,228.10 546.60,228.35 546.60,228.60 546.00,228.60 546.00,228.35 545.98,228.10 545.84,227.85 545.66,227.60 545.45,227.35 545.20,227.10 544.94,226.85 544.68,226.60 544.45,226.35 544.26,226.10 544.14,225.85 544.10,225.60 544.14,225.35 544.26,225.10 544.45,224.85 544.68,224.60 544.94,224.35 545.20,224.10 545.45,223.85 545.66,223.60 545.84,223.35 545.98,223.10 546.00,222.85 546.00,222.60Z" fill="#e642e6" stroke="#555" stroke-width="0.5" stroke-linejoin="round"/>
<path d="M552.90,190.30 552.90,190.72 552.90,191.13 553.02,191.55 553.18,191.97 553.38,192.38 553.60,192.80 553.83,193.22 554.07,193.63 554.28,194.05 554.45,194.47 554.56,194.88 554.60,195.30 554.56,195.72 554.45,196.13 554.28,196.55 554.07,196.97 553.83,197.38 553.60,197.80 553.38,198.22 553.18,198.63 553.02,199.05 552.90,199.47 552.90,199.88 552.90,200.30 552.30,200.30 552.30,199.88 552.30,199.47 552.18,199.05 552.02,198.63 551.82,198.22 551.60,197.80 551.37,197.38 551.13,196.97 550.92,196.55 550.75,196.13 550.64,195.72 550.60,195.30 550.64,194.88 550.75,194.47 550.92,194.05 551.13,193.63 551.37,193.22 551.60,192.80 551.82,192.38 552.02,191.97 552.18,191.55 552.30,191.13 552.30,190.72 552.30,190.30Z" fill="#78f0f0" stroke="#555" stroke-width="0.5" stroke-linejoin="round"/>
<path d="M558.70,170.70 558.70,171.06 558.70,171.42 558.82,171.77 558.98,172.13 559.18,172.49 559.40,172.85 559.63,173.21 559.87,173.57 560.08,173.93 560.25,174.28 560.36,174.64 560.40,175.00 560.36,175.36 560.25,175.72 560.08,176.07 559.87,176.43 559.63,176.79 559.40,177.15 559.18,177.51 558.98,177.87 558.82,178.23 558.70,178.58 558.70,178.94 558.70,179.30 558.10,179.30 558.10,178.94 558.10,178.58 557.98,178.23 557.82,177.87 557.62,177.51 557.40,177.15 557.17,176.79 556.93,176.43 556.72,176.07 556.55,175.72 556.44,175.36 556.40,175.00 556.44,174.64 556.55,174.28 556.72,173.93 556.93,173.57 557.17,173.21 557.40,172.85 557.62,172.49 557.82,172.13 557.98,171.77 558.10,171.42 558.10,171.06 558.10,170.70Z" fill="#3a3ae6" stroke="#555" stroke-width="0.5" stroke-linejoin="round"/>
<path d="M564.50,172.70 564.50,173.08 564.50,173.47 564.62,173.85 564.78,174.23 564.98,174.62 565.20,175.00 565.43,175.38 565.67,175.77 565.88,176.15 566.05,176.53 566.16,176.92 566.20,177.30 566.16,177.68 566.05,178.07 565.88,178.45 565.67,178.83 565.43,179.22 565.20,179.60 564.98,179.98 564.78,180.37 564.62,180.75 564.50,181.13 564.50,181.52 564.50,181.90 563.90,181.90 563.90,181.52 563.90,181.13 563.78,180.75 563.62,180.37 563.42,179.98 563.20,179.60 562.97,179.22 562.73,178.83 562.52,178.45 562.35,178.07 562.24,177.68 562.20,177.30 562.24,176.92 562.35,176.53 562.52,176.15 562.73,175.77 562.97,175.38 563.20,175.00 563.42,174.62 563.62,174.23 563.78,173.85 563.90,173.47 563.90,173.08 563.90,172.70Z" fill="#c02858" stroke="#555" stroke-width="0.5" stroke-linejoin="round"/>
<path d="M570.30,179.60 570.30,180.03 570.30,180.47 570.42,180.90 570.58,181.33 570.78,181.77 571.00,182.20 571.23,182.63 571.47,183.07 571.68,183.50 571.85,183.93 571.96,184.37 572.00,184.80 571.96,185.23 571.85,185.67 571.68,186.10 571.47,186.53 571.23,186.97 571.00,187.40 570.78,187.83 570.58,188.27 570.42,188.70 570.30,189.13 570.30,189.57 570.30,190.00 569.70,190.00 569.70,189.57 569.70,189.13 569.58,188.70 569.42,188.27 569.22,187.83 569.00,187.40 568.77,186.97 568.53,186.53 568.32,186.10 568.15,185.67 568.04,185.23 568.00,184.80 568.04,184.37 568.15,183.93 568.32,183.50 568.53,183.07 568.77,182.63 569.00,182.20 569.22,181.77 569.42,181.33 569.58,180.90 569.70,180.47 569.70,180.03 569.70,179.60Z" fill="#5a2aa8" stroke="#555" stroke-width="0.5" stroke-linejoin="round"/>
<path d="M577.0,234.3 L582.6,234.3" stroke="#b65ee6" stroke-width="1.4"/>
<path d="M583.5,234.3 L589.1,234.3" stroke="#e642e6" stroke-width="1.4"/>
<path d="M617.2,234.3 L622.8,234.3" stroke="#b65ee6" stroke-width="1.4"/>
<path d="M623.5,234.3 L629.1,234.3" stroke="#e642e6" stroke-width="1.4"/>
<path d="M592.40,228.30 592.40,228.41 592.40,228.52 592.48,228.62 592.62,228.73 592.80,228.84 592.99,228.95 593.08,229.06 593.18,229.17 593.28,229.27 593.38,229.38 593.47,229.49 593.57,229.60 593.47,229.71 593.38,229.82 593.28,229.93 593.18,230.03 593.08,230.14 592.99,230.25 592.80,230.36 592.62,230.47 592.48,230.57 592.40,230.68 592.40,230.79 592.40,230.90 591.80,230.90 591.80,230.79 591.80,230.68 591.72,230.57 591.58,230.47 591.40,230.36 591.22,230.25 591.12,230.14 591.02,230.03 590.92,229.93 590.83,229.82 590.73,229.71 590.63,229.60 590.73,229.49 590.83,229.38 590.92,229.27 591.02,229.17 591.12,229.06 591.22,228.95 591.40,228.84 591.58,228.73 591.72,228.62 591.80,228.52 591.80,228.41 591.80,228.30Z" fill="#78f0f0" stroke="#555" stroke-width="0.5" stroke-linejoin="round"/>
<path d="M595.4,226.6 L601.4,226.6" stroke="#3a3ae6" stroke-width="1.4"/>
<path d="M601.5,226.6 L607.5,226.6" stroke="#c02858" stroke-width="1.4"/>
<path d="M607.7,228.0 L613.7,228.0" stroke="#5a2aa8" stroke-width="1.4"/>
<path d="M632.00,210.80 632.00,211.15 632.00,211.50 632.12,211.85 632.28,212.20 632.48,212.55 632.70,212.90 632.93,213.25 633.17,213.60 633.38,213.95 633.55,214.30 633.66,214.65 633.70,215.00 633.66,215.35 633.55,215.70 633.38,216.05 633.17,216.40 632.93,216.75 632.70,217.10 632.48,217.45 632.28,217.80 632.12,218.15 632.00,218.50 632.00,218.85 632.00,219.20 631.40,219.20 631.40,218.85 631.40,218.50 631.28,218.15 631.12,217.80 630.92,217.45 630.70,217.10 630.47,216.75 630.23,216.40 630.02,216.05 629.85,215.70 629.74,215.35 629.70,215.00 629.74,214.65 629.85,214.30 630.02,213.95 630.23,213.60 630.47,213.25 630.70,212.90 630.92,212.55 631.12,212.20 631.28,211.85 631.40,211.50 631.40,211.15 631.40,210.80Z" fill="#78f0f0" stroke="#555" stroke-width="0.5" stroke-linejoin="round"/>
<path d="M638.30,196.80 638.30,197.08 638.30,197.37 638.38,197.65 638.52,197.93 638.70,198.22 638.90,198.50 639.11,198.78 639.32,199.07 639.51,199.35 639.67,199.63 639.77,199.92 639.80,200.20 639.77,200.48 639.67,200.77 639.51,201.05 639.32,201.33 639.11,201.62 638.90,201.90 638.70,202.18 638.52,202.47 638.38,202.75 638.30,203.03 638.30,203.32 638.30,203.60 637.70,203.60 637.70,203.32 637.70,203.03 637.62,202.75 637.48,202.47 637.30,202.18 637.10,201.90 636.89,201.62 636.68,201.33 636.49,201.05 636.33,200.77 636.23,200.48 636.20,200.20 636.23,199.92 636.33,199.63 636.49,199.35 636.68,199.07 636.89,198.78 637.10,198.50 637.30,198.22 637.48,197.93 637.62,197.65 637.70,197.37 637.70,197.08 637.70,196.80Z" fill="#3a3ae6" stroke="#555" stroke-width="0.5" stroke-linejoin="round"/>
<path d="M644.30,198.70 644.30,198.95 644.30,199.20 644.40,199.45 644.55,199.70 644.74,199.95 644.95,200.20 645.17,200.45 645.40,200.70 645.60,200.95 645.76,201.20 645.86,201.45 645.90,201.70 645.86,201.95 645.76,202.20 645.60,202.45 645.40,202.70 645.17,202.95 644.95,203.20 644.74,203.45 644.55,203.70 644.40,203.95 644.30,204.20 644.30,204.45 644.30,204.70 643.70,204.70 643.70,204.45 643.70,204.20 643.60,203.95 643.45,203.70 643.26,203.45 643.05,203.20 642.83,202.95 642.60,202.70 642.40,202.45 642.24,202.20 642.14,201.95 642.10,201.70 642.14,201.45 642.24,201.20 642.40,200.95 642.60,200.70 642.83,200.45 643.05,200.20 643.26,199.95 643.45,199.70 643.60,199.45 643.70,199.20 643.70,198.95 643.70,198.70Z" fill="#c02858" stroke="#555" stroke-width="0.5" stroke-linejoin="round"/>
<path d="M650.60,204.80 650.60,205.07 650.60,205.33 650.70,205.60 650.85,205.87 651.04,206.13 651.25,206.40 651.47,206.67 651.70,206.93 651.90,207.20 652.06,207.47 652.16,207.73 652.20,208.00 652.16,208.27 652.06,208.53 651.90,208.80 651.70,209.07 651.47,209.33 651.25,209.60 651.04,209.87 650.85,210.13 650.70,210.40 650.60,210.67 650.60,210.93 650.60,211.20 650.00,211.20 650.00,210.93 650.00,210.67 649.90,210.40 649.75,210.13 649.56,209.87 649.35,209.60 649.13,209.33 648.90,209.07 648.70,208.80 648.54,208.53 648.44,208.27 648.40,208.00 648.44,207.73 648.54,207.47 648.70,207.20 648.90,206.93 649.13,206.67 649.35,206.40 649.56,206.13 649.75,205.87 649.90,205.60 650.00,205.33 650.00,205.07 650.00,204.80Z" fill="#5a2aa8" stroke="#555" stroke-width="0.5" stroke-linejoin="round"/>
<text x="537.0" y="185.3" font-size="7.0"><tspan font-style="italic">p</tspan>&lt;0.001</text>
<line x1="541.0" y1="188.8" x2="554.0" y2="188.8" stroke="#222" stroke-width="1"/>
<text x="544.7" y="152.8" font-size="7.0"><tspan font-style="italic">p</tspan>&lt;0.001</text>
<line x1="549.3" y1="156.3" x2="560.2" y2="156.3" stroke="#222" stroke-width="1"/>
<text x="558.6" y="162.8" font-size="7.0"><tspan font-style="italic">p</tspan>&lt;0.001</text>
<line x1="563.3" y1="166.7" x2="569.5" y2="166.7" stroke="#222" stroke-width="1"/>
<text x="576.5" y="216.4" font-size="7.0"><tspan font-style="italic">p</tspan>&lt;0.001</text>
<line x1="581.6" y1="221.0" x2="595.6" y2="221.0" stroke="#222" stroke-width="1"/>
<text x="584.4" y="204.7" font-size="7.0"><tspan font-style="italic">p</tspan>&lt;0.001</text>
<line x1="589.0" y1="209.4" x2="601.4" y2="209.4" stroke="#222" stroke-width="1"/>
<text x="591.0" y="192.4" font-size="7.0"><tspan font-style="italic">p</tspan>&lt;0.001</text>
<line x1="601.4" y1="197.0" x2="612.0" y2="197.0" stroke="#222" stroke-width="1"/>
<text x="610.7" y="204.7" font-size="7.0"><tspan font-style="italic">p</tspan>&lt;0.001</text>
<line x1="617.7" y1="208.7" x2="630.0" y2="208.7" stroke="#222" stroke-width="1"/>
<text x="617.7" y="184.2" font-size="7.0"><tspan font-style="italic">p</tspan>&lt;0.001</text>
<line x1="631.0" y1="187.7" x2="637.5" y2="187.7" stroke="#222" stroke-width="1"/>
<text x="639.8" y="190.7" font-size="7.0"><tspan font-style="italic">p</tspan>&lt;0.001</text>
<line x1="643.3" y1="195.4" x2="651.5" y2="195.4" stroke="#222" stroke-width="1"/>
<text x="-0.8" y="285.4" font-size="25.5" font-weight="bold">F</text>
<text x="62.0" y="281.3" text-anchor="middle">Control</text>
<text x="145.4" y="281.1" text-anchor="middle">Anti-Ly6G</text>
<text x="228.6" y="277.8" text-anchor="middle">PA</text>
<text x="308.0" y="277.8" text-anchor="middle">Anti-Ly6G+PA</text>
<text x="395.3" y="267.8" text-anchor="middle">Anti-Ly6G+PA</text>
<text x="395.0" y="280.5" text-anchor="middle">+PMN<tspan font-size="6.3" dy="-3.5" style="stroke-width:0.08px" fill="#333">sh-NC</tspan></text>
<text x="474.0" y="267.8" text-anchor="middle">Anti-Ly6G+PA</text>
<text x="473.9" y="280.5" text-anchor="middle">+PMN<tspan font-size="6.3" dy="-3.5" style="stroke-width:0.08px" fill="#333">sh-TDRD9</tspan></text>
<text x="519.5" y="326.6">20×</text>
<text x="520.0" y="386.8">100×</text>
<text x="518.7" y="448.0">400×</text>
<rect x="547.3" y="291.5" width="8.4" height="3.3" fill="#cfa2f7" stroke="#555" stroke-width="0.7"/>
<text x="557.8" y="298.3">Control</text>
<rect x="547.3" y="302.1" width="8.4" height="3.3" fill="#f58ef0" stroke="#555" stroke-width="0.7"/>
<text x="557.8" y="307.3">Anti-Ly6G</text>
<rect x="547.3" y="312.8" width="8.4" height="3.3" fill="#96f5ef" stroke="#555" stroke-width="0.7"/>
<text x="557.8" y="317.1">PA</text>
<rect x="547.3" y="323.4" width="8.4" height="3.3" fill="#6262ee" stroke="#555" stroke-width="0.7"/>
<text x="557.8" y="326.2">Anti-Ly6G+PA</text>
<rect x="547.3" y="334.1" width="8.4" height="3.3" fill="#d0628a" stroke="#555" stroke-width="0.7"/>
<text x="557.8" y="338.0">Anti-Ly6G+PA+PMN<tspan font-size="6.3" dy="-3.5" style="stroke-width:0.08px" fill="#333">sh-NC</tspan></text>
<rect x="547.3" y="344.8" width="8.4" height="3.3" fill="#8e6cc6" stroke="#555" stroke-width="0.7"/>
<text x="557.8" y="349.9">Anti-Ly6G+PA+PMN<tspan font-size="6.3" dy="-3.5" style="stroke-width:0.08px" fill="#333">sh-TDRD9</tspan></text>
<line x1="592.0" y1="371.0" x2="592.0" y2="446.6" stroke="#7c7c7c" stroke-width="1.5"/>
<line x1="591.3" y1="446.6" x2="643.0" y2="446.6" stroke="#4c4c4c" stroke-width="1.2"/>
<line x1="588.4" y1="371.1" x2="591.4" y2="371.1" stroke="#6a6a6a" stroke-width="1.0"/>
<text x="587.6" y="374.1" text-anchor="end">15</text>
<line x1="588.4" y1="396.2" x2="591.4" y2="396.2" stroke="#6a6a6a" stroke-width="1.0"/>
<text x="587.6" y="399.2" text-anchor="end">10</text>
<line x1="588.4" y1="421.3" x2="591.4" y2="421.3" stroke="#6a6a6a" stroke-width="1.0"/>
<text x="587.6" y="424.3" text-anchor="end">5</text>
<line x1="588.4" y1="446.4" x2="591.4" y2="446.4" stroke="#6a6a6a" stroke-width="1.0"/>
<text x="587.6" y="449.4" text-anchor="end">0</text>
<line x1="596.9" y1="447.1" x2="596.9" y2="450.1" stroke="#6a6a6a" stroke-width="1.0"/>
<line x1="604.8" y1="447.1" x2="604.8" y2="450.1" stroke="#6a6a6a" stroke-width="1.0"/>
<line x1="613.2" y1="447.1" x2="613.2" y2="450.1" stroke="#6a6a6a" stroke-width="1.0"/>
<line x1="621.2" y1="447.1" x2="621.2" y2="450.1" stroke="#6a6a6a" stroke-width="1.0"/>
<line x1="629.1" y1="447.1" x2="629.1" y2="450.1" stroke="#6a6a6a" stroke-width="1.0"/>
<line x1="637.1" y1="447.1" x2="637.1" y2="450.1" stroke="#6a6a6a" stroke-width="1.0"/>
<text transform="translate(573.0,407.7) rotate(-90)" text-anchor="middle" font-size="10.6">Lung injury score</text>
<path d="M594.3,441.4H599.5M596.9,441.4V446.9" stroke="#b65ee6" stroke-width="1"/>
<path d="M602.2,441.4H607.4M604.8,441.4V446.9" stroke="#e642e6" stroke-width="1"/>
<line x1="613.2" y1="410.3" x2="613.2" y2="420.7" stroke="#555" stroke-width="0.6"/>
<path d="M613.50,411.90 613.50,412.20 613.55,412.50 613.70,412.80 613.90,413.10 614.13,413.40 614.40,413.70 614.68,414.00 614.96,414.30 615.22,414.60 615.42,414.90 615.55,415.20 615.60,415.50 615.55,415.80 615.42,416.10 615.22,416.40 614.96,416.70 614.68,417.00 614.40,417.30 614.13,417.60 613.90,417.90 613.70,418.20 613.55,418.50 613.50,418.80 613.50,419.10 612.90,419.10 612.90,418.80 612.85,418.50 612.70,418.20 612.50,417.90 612.27,417.60 612.00,417.30 611.72,417.00 611.44,416.70 611.18,416.40 610.98,416.10 610.85,415.80 610.80,415.50 610.85,415.20 610.98,414.90 611.18,414.60 611.44,414.30 611.72,414.00 612.00,413.70 612.27,413.40 612.50,413.10 612.70,412.80 612.85,412.50 612.90,412.20 612.90,411.90Z" fill="#78f0f0" stroke="#555" stroke-width="0.5" stroke-linejoin="round"/>
<line x1="621.2" y1="389.8" x2="621.2" y2="402.2" stroke="#555" stroke-width="0.6"/>
<path d="M621.50,392.40 621.50,392.70 621.58,393.00 621.74,393.30 621.96,393.60 622.21,393.90 622.50,394.20 622.81,394.50 623.11,394.80 623.39,395.10 623.61,395.40 623.75,395.70 623.80,396.00 623.75,396.30 623.61,396.60 623.39,396.90 623.11,397.20 622.81,397.50 622.50,397.80 622.21,398.10 621.96,398.40 621.74,398.70 621.58,399.00 621.50,399.30 621.50,399.60 620.90,399.60 620.90,399.30 620.82,399.00 620.66,398.70 620.44,398.40 620.19,398.10 619.90,397.80 619.59,397.50 619.29,397.20 619.01,396.90 618.79,396.60 618.65,396.30 618.60,396.00 618.65,395.70 618.79,395.40 619.01,395.10 619.29,394.80 619.59,394.50 619.90,394.20 620.19,393.90 620.44,393.60 620.66,393.30 620.82,393.00 620.90,392.70 620.90,392.40Z" fill="#3a3ae6" stroke="#555" stroke-width="0.5" stroke-linejoin="round"/>
<line x1="629.1" y1="390.5" x2="629.1" y2="402.5" stroke="#555" stroke-width="0.6"/>
<path d="M629.40,392.90 629.40,393.20 629.48,393.50 629.64,393.80 629.86,394.10 630.11,394.40 630.40,394.70 630.71,395.00 631.01,395.30 631.29,395.60 631.51,395.90 631.65,396.20 631.70,396.50 631.65,396.80 631.51,397.10 631.29,397.40 631.01,397.70 630.71,398.00 630.40,398.30 630.11,398.60 629.86,398.90 629.64,399.20 629.48,399.50 629.40,399.80 629.40,400.10 628.80,400.10 628.80,399.80 628.72,399.50 628.56,399.20 628.34,398.90 628.09,398.60 627.80,398.30 627.49,398.00 627.19,397.70 626.91,397.40 626.69,397.10 626.55,396.80 626.50,396.50 626.55,396.20 626.69,395.90 626.91,395.60 627.19,395.30 627.49,395.00 627.80,394.70 628.09,394.40 628.34,394.10 628.56,393.80 628.72,393.50 628.80,393.20 628.80,392.90Z" fill="#c02858" stroke="#555" stroke-width="0.5" stroke-linejoin="round"/>
<line x1="637.1" y1="403.8" x2="637.1" y2="414.2" stroke="#555" stroke-width="0.6"/>
<path d="M637.40,405.80 637.40,406.07 637.48,406.33 637.64,406.60 637.86,406.87 638.11,407.13 638.40,407.40 638.71,407.67 639.01,407.93 639.29,408.20 639.51,408.47 639.65,408.73 639.70,409.00 639.65,409.27 639.51,409.53 639.29,409.80 639.01,410.07 638.71,410.33 638.40,410.60 638.11,410.87 637.86,411.13 637.64,411.40 637.48,411.67 637.40,411.93 637.40,412.20 636.80,412.20 636.80,411.93 636.72,411.67 636.56,411.40 636.34,411.13 636.09,410.87 635.80,410.60 635.49,410.33 635.19,410.07 634.91,409.80 634.69,409.53 634.55,409.27 634.50,409.00 634.55,408.73 634.69,408.47 634.91,408.20 635.19,407.93 635.49,407.67 635.80,407.40 636.09,407.13 636.34,406.87 636.56,406.60 636.72,406.33 636.80,406.07 636.80,405.80Z" fill="#5a2aa8" stroke="#555" stroke-width="0.5" stroke-linejoin="round"/>
<text x="594.4" y="391.8" font-size="7.0"><tspan font-style="italic">p</tspan>&lt;0.001</text>
<line x1="598.9" y1="393.2" x2="614.3" y2="393.2" stroke="#222" stroke-width="1"/>
<text x="601.4" y="379.4" font-size="7.0"><tspan font-style="italic">p</tspan>&lt;0.001</text>
<line x1="611.3" y1="382.8" x2="621.2" y2="382.8" stroke="#222" stroke-width="1"/>
<text x="624.7" y="384.3" font-size="7.0"><tspan font-style="italic">p</tspan>&lt;0.001</text>
<line x1="629.1" y1="386.6" x2="637.8" y2="386.6" stroke="#222" stroke-width="1"/></svg></body></html>
